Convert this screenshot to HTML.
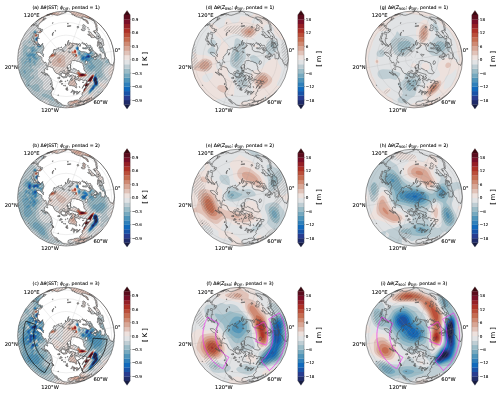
<!DOCTYPE html><html><head><meta charset="utf-8"><title>Figure</title><style>html,body{margin:0;padding:0;background:#fff}svg{display:block}text{font-family:"DejaVu Sans","Liberation Sans",sans-serif;fill:#000;stroke:#000;stroke-width:.09px}</style></head><body>
<svg width="500" height="394" viewBox="0 0 500 394">
<defs>
<path id="land" d="M-18.6,7.5L-16.4,7.2L-15.1,7.7L-13.0,8.6L-12.4,10.4L-11.0,12.7L-9.8,14.0L-7.7,14.4L-7.2,15.4L-5.8,16.0L-4.6,17.2L-3.2,17.9L-2.6,18.5L-0.6,18.2L0.9,17.8L1.3,15.3L2.3,16.4L3.1,17.5L4.1,17.7L4.4,16.4L4.8,15.9L5.6,16.9L6.0,18.4L4.8,19.1L4.5,20.4L3.6,21.3L2.8,23.0L2.4,24.9L3.4,26.2L5.6,26.2L7.1,26.7L8.5,26.5L9.0,27.8L10.1,28.6L10.6,28.3L10.7,27.5L10.1,26.3L10.6,25.0L10.4,23.9L9.4,23.2L9.0,21.7L8.4,20.8L9.9,20.3L11.8,20.4L12.7,21.5L13.5,21.6L14.0,20.8L14.0,19.6L15.8,20.3L17.5,21.2L19.4,20.8L20.6,21.2L20.6,22.1L20.0,23.8L17.8,25.4L17.2,26.5L16.4,28.4L16.1,29.0L17.0,27.2L18.5,25.9L18.9,26.8L19.8,27.3L21.3,26.3L21.7,25.8L21.5,26.5L20.3,28.0L19.7,29.2L19.3,28.7L19.7,27.7L18.7,28.8L18.0,29.9L17.5,30.9L17.4,31.2L18.1,31.4L17.2,32.3L16.2,33.1L16.2,33.9L15.8,34.8L15.8,35.4L16.4,36.0L15.6,36.8L14.5,37.8L13.5,39.1L13.4,39.8L14.6,40.7L14.9,41.3L14.1,41.5L13.4,41.3L12.7,40.9L12.0,40.4L10.9,40.7L9.4,40.8L8.0,41.1L7.7,41.6L6.6,41.8L4.8,41.8L3.7,42.2L2.1,42.9L2.1,43.5L1.7,44.8L2.4,45.4L3.2,45.7L4.4,45.9L6.4,45.5L7.5,45.0L7.6,44.6L9.4,44.1L10.2,44.0L9.9,44.6L9.6,45.1L9.3,45.7L11.3,45.3L12.9,44.9L13.5,44.9L13.4,45.4L13.4,45.7L14.4,45.7L15.6,45.3L16.8,44.8L17.9,44.4L18.6,44.2L19.5,43.7L19.9,43.3L20.9,42.8L22.3,41.9L22.6,41.6L22.7,41.8L22.7,42.0L23.8,41.2L25.3,40.4L26.7,39.5L28.0,38.6L29.3,37.6L30.1,37.2L30.8,36.7L32.9,35.3L34.7,33.5L35.9,32.3L36.6,31.8L37.2,31.2L34.7,33.9L32.1,36.4L29.3,38.7L26.3,40.7L23.2,42.6L19.9,44.2L16.6,45.6L17.4,45.3L17.8,45.1L18.7,44.6L18.4,44.5L18.0,44.6L17.2,44.7L16.5,45.2L15.3,45.6L14.0,45.9L12.4,46.1L11.7,46.2L10.2,46.1L8.6,46.4L7.0,46.5L4.9,46.3L2.9,46.6L0.8,46.4L-1.2,46.2L-3.2,45.7L-4.4,45.2L-4.2,44.8L-5.0,44.2L-6.1,43.5L-7.2,42.8L-7.8,42.2L-8.8,41.5L-9.3,40.4L-10.5,39.9L-10.5,40.7L-9.6,41.5L-9.0,42.3L-8.4,43.0L-7.7,43.6L-7.5,44.0L-8.5,43.5L-9.3,42.8L-10.5,41.9L-11.0,41.2L-11.5,40.2L-12.0,39.1L-12.8,38.1L-14.0,37.4L-14.5,36.0L-14.7,35.4L-15.1,33.9L-14.7,32.6L-13.7,30.8L-13.5,29.3L-12.6,29.8L-12.5,30.3L-12.4,29.3L-13.2,28.3L-14.1,27.1L-13.7,25.8L-14.1,24.4L-14.0,23.2L-14.4,21.7L-14.9,20.5L-15.2,19.4L-15.9,18.3L-16.8,17.4L-16.9,16.3L-18.3,15.9L-19.3,15.6L-18.6,14.6L-17.9,15.0L-19.8,14.6L-20.9,14.9L-22.3,14.5L-23.8,13.7L-24.9,12.7L-23.7,13.1L-22.1,13.8L-21.2,13.5L-21.8,12.6L-22.1,11.7L-21.4,11.4L-21.6,10.1L-20.8,9.3L-19.9,9.5L-18.9,10.5L-18.3,10.1L-18.8,9.2L-19.1,8.3ZM4.5,8.8L4.5,7.1L4.4,5.6L4.6,4.6L5.2,3.6L5.0,2.3L5.7,1.5L6.6,1.2L7.9,1.1L9.2,1.1L10.7,1.9L12.4,2.0L13.9,2.7L15.0,3.3L16.0,3.4L16.8,4.5L17.1,6.2L17.8,7.9L17.7,9.4L18.0,10.6L19.0,11.9L20.0,13.0L20.2,13.6L19.3,14.0L18.2,14.5L16.9,14.2L15.8,14.0L14.4,13.5L13.2,12.5L12.8,11.1L11.5,11.3L10.3,10.3L8.8,9.5L7.8,9.0L7.0,9.2L6.2,10.0L5.3,9.5ZM19.5,5.0L19.0,4.2L19.3,2.7L19.5,1.7L20.5,1.3L21.0,1.8L21.5,3.2L21.0,4.1L20.7,4.7L20.2,4.3L20.0,5.0ZM31.0,-2.3L30.8,-3.5L29.8,-6.0L28.8,-6.0L28.7,-5.2L28.1,-4.9L27.5,-4.1L26.9,-3.8L26.9,-3.3L25.7,-3.6L25.8,-2.7L25.1,-3.0L25.2,-2.2L26.0,-1.9L26.7,-1.8L27.4,-2.2L27.8,-2.5L28.0,-3.4L28.7,-3.5L28.9,-2.8L29.5,-2.9L29.9,-2.5L30.0,-3.7L30.3,-3.0ZM29.7,-2.0L28.8,-2.0L28.1,-2.2L27.6,-1.7L27.8,-0.8L28.4,0.0L29.1,-0.3L29.9,0.2L30.2,-0.3L30.0,-1.0ZM12.8,-9.2L12.4,-9.7L12.3,-10.7L12.4,-11.6L11.9,-12.7L11.7,-14.4L12.6,-15.0L13.7,-13.7L13.9,-12.9L14.6,-14.4L14.3,-15.4L13.4,-15.9L12.7,-15.1L11.4,-15.6L10.6,-14.3L10.2,-15.1L10.7,-15.8L9.1,-15.7L7.8,-16.0L6.6,-16.3L5.6,-15.8L4.6,-16.5L3.6,-17.0L3.4,-14.6L2.5,-14.0L1.9,-15.3L2.2,-17.6L2.7,-19.2L1.9,-18.1L1.3,-15.1L0.0,-13.8L-0.3,-15.0L-0.8,-15.4L-0.5,-13.7L-1.5,-12.3L-3.0,-11.3L-3.9,-10.6L-4.2,-9.4L-5.0,-9.9L-6.0,-9.6L-7.4,-11.1L-6.8,-11.7L-7.5,-11.6L-8.6,-11.0L-9.7,-10.4L-10.1,-9.4L-12.1,-10.1L-12.3,-9.3L-12.9,-8.4L-12.5,-7.2L-13.4,-6.0L-14.5,-5.3L-15.3,-3.8L-16.5,-2.9L-16.8,-1.8L-16.6,-0.6L-17.4,0.3L-16.7,1.8L-17.1,3.0L-18.0,4.5L-18.1,5.5L-18.5,6.7L-19.9,6.5L-19.9,5.3L-19.7,4.2L-20.1,3.9L-20.5,2.7L-22.1,3.5L-22.8,2.0L-23.5,0.8L-24.3,-0.0L-24.2,-1.7L-25.2,-2.9L-25.7,-3.1L-26.9,-3.5L-27.6,-4.1L-28.7,-5.1L-29.3,-6.0L-29.7,-7.0L-28.3,-7.1L-26.6,-6.8L-25.3,-6.1L-24.8,-5.3L-23.5,-4.1L-22.6,-2.8L-22.8,-4.0L-22.4,-5.2L-23.8,-6.4L-23.8,-7.7L-23.1,-8.4L-22.6,-10.1L-22.1,-11.2L-22.6,-13.0L-23.5,-14.9L-23.2,-16.0L-24.0,-15.6L-24.7,-14.3L-25.6,-14.0L-26.9,-15.2L-28.1,-16.2L-28.6,-17.9L-28.8,-19.8L-28.4,-21.4L-27.7,-22.4L-27.7,-23.4L-27.6,-24.9L-27.7,-25.4L-28.4,-25.2L-29.4,-25.2L-29.9,-25.7L-29.4,-26.9L-28.9,-27.6L-28.5,-27.0L-28.0,-26.4L-26.8,-26.8L-26.4,-26.4L-25.9,-26.6L-24.7,-27.4L-25.0,-28.2L-24.2,-27.7L-23.7,-29.2L-23.5,-30.0L-24.6,-29.8L-26.1,-28.4L-25.5,-29.8L-25.2,-30.7L-26.3,-30.8L-27.6,-30.8L-27.8,-31.5L-28.4,-31.5L-27.9,-32.7L-27.8,-33.8L-27.2,-34.8L-26.6,-35.9L-25.2,-37.1L-23.9,-38.2L-22.9,-39.0L-22.7,-39.4L-22.2,-39.3L-21.2,-39.8L-20.4,-40.6L-19.9,-41.4L-21.1,-41.3L-22.2,-41.0L-23.0,-41.2L-23.0,-41.6L-21.7,-42.5L-20.4,-43.4L-20.0,-43.4L-19.0,-43.7L-18.2,-43.8L-17.0,-44.2L-16.5,-44.2L-16.2,-44.6L-15.8,-45.1L-16.6,-45.0L-16.9,-45.1L-17.8,-44.8L-18.9,-44.4L-19.3,-44.4L-19.3,-44.4L-19.9,-44.2L-18.9,-44.6L-17.6,-45.1L-16.9,-45.3L-16.7,-45.2L-15.2,-45.5L-15.2,-45.3L-15.2,-44.9L-14.3,-44.7L-14.0,-44.4L-12.8,-44.8L-11.5,-45.2L-11.5,-44.7L-10.7,-44.4L-9.4,-44.1L-8.9,-43.9L-8.2,-44.2L-7.0,-44.5L-5.5,-44.9L-5.2,-45.3L-4.0,-45.5L-2.8,-46.0L-1.9,-46.4L-0.4,-46.7L-0.2,-47.2L0.2,-47.5L0.2,-47.7L0.8,-47.9L1.7,-47.9L2.1,-48.0L3.1,-47.7L3.6,-47.4L4.3,-47.1L4.9,-46.6L5.6,-45.9L5.7,-45.5L5.8,-44.9L5.9,-44.6L7.9,-44.7L8.6,-44.0L7.8,-44.0L9.1,-43.5L9.9,-42.9L11.7,-42.3L13.9,-41.6L15.7,-40.9L16.9,-40.3L17.2,-39.6L18.7,-39.1L19.9,-38.2L20.6,-37.2L21.0,-36.4L21.9,-35.8L22.4,-35.8L22.2,-36.6L21.7,-37.5L21.8,-38.0L21.0,-38.2L20.9,-38.5L21.1,-38.8L19.4,-39.8L17.8,-39.9L17.4,-39.8L17.6,-40.5L16.1,-41.4L15.5,-42.1L16.6,-42.3L17.3,-42.5L18.0,-42.5L19.6,-42.0L21.7,-41.2L24.2,-40.3L27.1,-38.7L28.1,-38.0L28.3,-37.5L28.3,-37.1L28.7,-36.1L29.3,-34.9L29.6,-34.1L29.6,-32.9L30.0,-31.6L30.3,-30.3L29.9,-29.8L30.6,-29.9L30.8,-29.9L31.0,-29.2L30.9,-28.5L31.1,-28.6L31.1,-29.5L31.2,-30.2L31.1,-31.6L30.7,-32.8L30.9,-33.3L31.1,-33.7L30.6,-34.5L30.4,-35.5L29.5,-36.5L28.8,-37.5L28.4,-38.1L27.7,-38.8L25.9,-39.9L24.5,-40.8L22.8,-41.6L23.1,-41.7L24.0,-41.6L24.8,-41.3L25.6,-41.0L27.1,-40.2L28.5,-39.2L29.5,-38.5L32.2,-36.3L34.7,-33.8L37.1,-31.3L39.2,-28.5L41.2,-25.6L42.9,-22.6L44.4,-19.4L45.7,-16.2L45.7,-16.2L45.6,-16.3L45.6,-16.2L45.9,-15.3L46.3,-14.1L46.5,-13.3L46.7,-12.1L47.0,-10.8L47.2,-9.6L47.5,-8.4L47.9,-6.7L48.0,-5.0L48.3,-2.1L48.3,-0.8L48.2,0.8L48.0,2.1L47.8,2.8L47.5,3.7L47.3,4.6L47.0,5.5L46.8,5.6L46.5,6.1L46.3,5.3L45.8,5.1L45.4,5.2L44.9,5.5L44.2,4.6L43.5,3.4L42.8,2.2L42.5,0.7L42.2,0.0L41.4,-0.2L40.5,-1.1L40.1,-2.2L39.2,-2.8L39.2,-3.2L39.3,-4.8L39.3,-5.5L38.7,-6.8L37.8,-8.7L37.5,-10.1L36.8,-12.0L36.3,-13.2L36.2,-13.9L36.8,-13.7L37.4,-14.1L37.7,-13.9L37.8,-14.9L37.4,-16.0L37.1,-17.5L37.0,-18.9L36.6,-20.3L36.0,-20.8L35.4,-20.5L34.6,-21.4L34.3,-22.4L33.8,-23.7L32.9,-25.3L32.3,-26.2L31.2,-27.1L30.7,-27.9L29.7,-28.9L29.1,-28.9L28.2,-28.7L27.5,-28.4L27.0,-28.1L27.7,-27.3L28.9,-26.5L29.5,-25.3L30.3,-24.6L30.9,-23.7L30.6,-22.6L30.2,-22.2L29.9,-21.9L29.3,-22.5L28.4,-23.0L27.3,-24.2L26.1,-24.8L25.5,-25.5L25.1,-26.4L24.3,-27.4L23.5,-28.0L22.6,-28.4L22.2,-27.9L22.8,-26.8L23.1,-25.7L23.3,-24.9L23.4,-24.8L22.1,-24.6L21.5,-25.0L23.7,-23.7L23.9,-24.3L25.1,-23.8L25.1,-23.0L24.4,-23.2L25.1,-21.9L26.2,-21.8L27.4,-21.8L28.2,-21.8L28.5,-22.3L28.3,-22.9L29.0,-22.3L29.6,-22.0L29.7,-21.6L30.2,-20.8L30.8,-20.4L31.0,-20.0L31.5,-20.3L31.7,-21.4L32.1,-20.9L32.7,-21.2L33.0,-20.4L32.6,-19.7L32.3,-18.8L32.1,-18.1L31.5,-17.8L31.4,-17.1L31.6,-15.4L31.2,-14.6L31.3,-13.9L31.1,-13.6L31.5,-12.9L32.1,-13.2L32.2,-14.1L32.7,-15.2L32.5,-15.8L32.6,-17.7L32.9,-16.7L33.4,-16.7L33.6,-17.2L34.4,-16.8L34.3,-16.5L33.9,-16.5L33.5,-16.1L33.5,-15.1L33.6,-13.9L33.4,-12.8L33.0,-12.2L32.8,-11.2L33.4,-10.5L34.0,-9.8L34.1,-8.5L34.6,-8.0L35.1,-8.2L35.6,-7.7L36.1,-6.8L36.9,-6.3L37.2,-6.6L37.9,-6.2L38.5,-5.4L38.7,-3.8L39.1,-3.1L38.9,-2.5L38.6,-1.8L38.7,-0.7L37.9,-0.8L37.8,-0.3L36.9,-0.8L36.0,-0.8L35.5,-0.4L35.0,-1.2L35.0,-2.8L35.0,-4.0L34.9,-5.0L34.2,-5.3L33.4,-5.2L32.8,-4.5L32.4,-3.2L32.1,-3.0L31.7,-3.9L31.7,-4.7L31.0,-4.5L31.0,-5.5L30.4,-6.2L29.7,-6.6L29.4,-7.1L28.8,-7.3L28.2,-7.5L27.6,-8.4L27.2,-9.1L26.5,-9.0L26.1,-8.5L25.1,-8.3L24.3,-9.1L25.1,-9.3L25.8,-9.4L26.3,-9.5L26.4,-10.1L26.1,-10.8L26.0,-11.7L25.2,-12.6L24.6,-13.4L24.4,-14.1L23.5,-14.1L22.6,-13.6L21.9,-13.9L21.8,-14.7L21.0,-14.4L20.7,-13.7L20.2,-14.1L19.3,-15.1L18.6,-15.7L18.6,-14.8L19.4,-14.1L20.4,-13.2L20.4,-12.5L19.5,-11.8L18.6,-11.4L17.0,-11.7L16.4,-11.6L16.5,-11.1L17.0,-10.6L18.0,-10.8L19.4,-10.5L20.6,-10.6L21.2,-10.9L21.3,-11.7L22.1,-11.7L23.0,-11.5L23.8,-11.9L24.4,-11.8L25.0,-11.3L25.4,-10.8L24.9,-10.4L24.1,-9.7L23.3,-9.0L23.0,-8.7L23.7,-8.4L24.5,-7.7L24.2,-6.8L23.2,-6.2L22.1,-5.9L21.3,-6.3L20.3,-7.0L19.3,-7.4L18.0,-7.6L16.9,-7.7L16.0,-7.7L15.2,-7.9L14.6,-8.1L13.7,-8.6ZM-31.1,-25.9L-31.2,-25.4L-31.4,-24.1L-32.1,-22.9L-32.5,-21.9L-32.3,-21.1L-32.4,-20.8L-32.6,-21.2L-32.9,-20.1L-32.7,-19.3L-32.2,-18.6L-31.7,-18.3L-31.9,-17.4L-32.4,-17.6L-33.0,-17.6L-33.3,-18.5L-33.9,-18.8L-34.2,-19.2L-34.4,-19.2L-34.3,-20.0L-34.1,-20.5L-34.1,-20.7L-33.6,-21.6L-33.5,-21.9L-33.5,-22.7L-32.9,-22.9L-32.9,-23.3L-32.9,-23.7L-32.6,-24.6L-32.2,-24.9L-32.1,-25.1L-32.3,-25.8L-32.1,-26.4L-31.6,-26.3L-31.0,-26.3ZM-31.5,-18.2L-30.7,-17.5L-31.0,-16.8L-30.0,-16.1L-30.8,-15.7L-31.5,-14.5L-32.1,-14.6L-31.9,-15.5L-32.2,-16.2L-31.4,-17.1L-31.6,-17.5ZM-29.7,-15.8L-29.7,-14.8L-29.1,-15.0L-28.4,-14.4L-28.6,-13.6L-27.3,-13.7L-26.1,-13.1L-25.1,-13.0L-25.5,-13.5L-26.3,-14.1L-27.5,-14.6L-28.7,-15.2ZM-29.5,-33.9L-29.4,-32.7L-28.8,-33.1L-28.6,-34.0ZM-22.0,-40.2L-23.1,-39.3L-23.5,-39.2L-22.7,-40.1ZM-29.9,-35.0L-30.9,-34.1L-31.2,-34.6L-32.8,-34.0L-32.2,-34.5L-30.9,-35.5L-30.0,-35.8L-30.1,-35.5ZM-32.2,-35.8L-33.3,-34.5L-34.1,-33.5L-34.8,-33.1L-34.7,-33.5L-34.3,-33.9L-33.5,-34.7ZM-23.5,-42.4L-23.9,-42.2L-25.3,-41.3L-26.4,-40.6L-27.7,-39.6L-28.8,-38.5L-30.4,-37.5L-29.8,-38.1L-29.7,-38.3L-29.5,-38.5L-26.6,-40.6ZM-12.7,-46.6L-14.5,-46.1L-16.6,-45.5L-19.0,-44.6L-15.8,-45.9L-14.2,-46.3ZM0.2,-47.8L-1.0,-48.0L-1.5,-48.1L-0.4,-48.2L0.2,-48.1ZM11.6,43.5L13.4,42.5L15.3,42.0L17.6,41.5L19.8,41.0L17.5,42.1L16.6,42.1L13.9,42.7L12.4,43.3ZM19.9,41.5L20.7,40.6L22.8,39.5L24.1,39.2L22.7,40.1L21.6,40.7ZM17.0,42.8L18.5,42.2L18.4,42.3L17.3,42.8ZM24.9,38.7L25.9,38.0L25.9,38.2L25.0,38.8ZM12.0,15.1L8.9,14.2L7.2,13.6L4.7,12.8L2.6,13.5L2.6,14.8L4.3,16.0L6.3,15.5L8.4,16.5L9.2,18.5L7.8,19.4L10.5,19.4L12.7,18.9L12.4,17.7L11.1,17.4L12.2,16.5ZM-1.5,17.3L-0.4,17.0L-0.5,15.4L-1.2,14.1L-2.5,14.0L-3.6,13.5L-4.6,14.3L-4.9,15.0L-4.7,16.3L-4.0,17.3L-2.5,17.4ZM-6.1,14.4L-6.3,13.2L-5.4,12.1L-4.5,12.3L-3.8,13.2L-4.5,13.9L-5.4,14.4ZM4.2,10.5L4.0,10.9L2.4,11.1L1.8,9.9L2.1,8.6L1.1,7.2L1.7,6.3L2.5,5.3L3.8,5.1L4.4,6.2L4.2,7.3L3.9,8.4L4.2,9.2ZM4.3,11.8L2.0,12.6L1.6,11.2L3.0,11.1L4.1,11.3ZM2.2,9.7L0.9,8.8L0.9,7.5L1.7,8.0ZM-1.3,12.5L-2.3,12.8L-3.1,12.3L-3.6,11.6L-2.9,10.9L-1.7,11.0L-1.2,11.7ZM0.8,15.0L-0.3,14.7L-0.5,13.8L0.5,13.4L0.7,14.2ZM2.3,14.0L1.3,14.5L1.0,13.3L1.9,13.2ZM6.9,20.1L6.0,20.9L4.8,20.9L4.9,19.5L5.6,19.1ZM21.4,24.8L23.1,23.9L24.3,22.7L24.0,22.1L22.9,21.8L21.7,22.3L21.2,21.5L20.9,22.6L21.1,23.8ZM-12.9,29.6L-13.8,28.8L-14.6,27.0L-13.6,27.8L-12.9,29.0ZM-21.4,15.3L-20.6,15.9L-20.3,15.6L-20.8,15.2ZM-15.4,25.4L-15.1,24.2L-15.5,23.9L-15.7,24.6ZM8.3,-3.2L7.6,-3.6L7.1,-4.3L6.7,-5.1L7.7,-5.2L8.3,-5.0L9.3,-4.9L10.1,-5.0L9.6,-4.3L9.0,-3.6ZM7.3,-13.5L7.3,-14.3L6.3,-14.8L6.2,-13.2L5.2,-12.3L4.0,-11.5L2.3,-10.9L2.6,-10.6L3.9,-10.8L5.0,-11.3L6.0,-12.4L7.0,-13.2ZM-2.4,-8.9L-3.0,-8.3L-4.1,-8.8L-3.4,-9.5ZM-1.8,-8.2L-2.2,-7.3L-2.6,-7.9L-2.1,-8.3ZM4.0,-6.9L2.6,-7.1L2.5,-7.8L3.6,-7.6ZM-10.5,-6.8L-10.4,-5.5L-11.2,-5.0L-11.6,-4.2L-11.4,-5.6ZM-15.6,2.3L-15.1,3.2L-15.4,3.4L-15.7,2.8ZM35.3,-14.6L34.4,-16.5L35.2,-16.6L35.5,-14.7ZM35.8,-11.8L34.8,-11.5L34.5,-12.3L35.4,-12.6ZM34.2,-11.5L33.5,-11.8L34.2,-12.1ZM33.0,-21.8L31.9,-23.5L32.2,-23.4L33.1,-22.0ZM29.4,-26.7L28.1,-27.6L28.9,-27.4ZM-38.0,25.6L-37.5,26.2L-37.4,26.0L-37.8,25.5ZM19.5,-33.2L18.8,-34.0L17.0,-34.8L16.6,-33.8L17.0,-33.0L16.6,-32.6L16.6,-32.0L17.1,-30.8L16.8,-30.3L15.5,-30.4L15.1,-29.6L16.0,-28.9L17.3,-28.7L18.4,-28.8L19.0,-29.3L19.1,-29.9L18.9,-30.8L18.7,-31.9L19.4,-32.3L19.8,-32.9ZM12.8,-32.5L12.0,-33.1L11.0,-32.8L11.0,-31.9L11.7,-31.4L12.5,-31.7ZM-12.3,-27.5L-13.0,-26.7L-13.8,-25.5L-13.7,-23.8L-13.3,-24.0L-13.3,-25.6L-12.6,-26.9ZM4.6,32.9L5.9,31.9L6.6,31.2L8.1,31.5L8.9,32.1L7.5,32.5L6.6,32.3L5.5,32.9ZM7.6,35.3L8.4,34.5L8.1,33.6L8.8,32.7L7.6,33.0L7.2,33.8L7.6,34.6ZM9.0,32.5L10.7,31.9L11.8,32.3L11.0,32.9L10.7,33.8L9.9,33.5L9.8,32.7ZM10.3,34.7L11.5,34.4L12.8,33.2L11.9,33.6L10.8,34.4ZM12.2,33.1L13.8,32.5L14.1,31.9L13.1,32.3ZM0.6,30.9L1.9,30.8L1.2,28.6L0.5,28.8ZM-8.7,18.6L-7.0,19.1L-6.0,18.4L-6.8,17.7L-7.6,18.0ZM-6.9,22.5L-5.7,22.8L-3.7,21.9L-4.6,21.7L-5.9,22.1ZM-3.1,24.4L-3.4,24.2L-4.1,24.2L-4.8,24.4L-5.1,24.6L-4.8,24.7L-4.1,24.7L-3.4,24.6ZM-0.6,26.2L-0.7,25.7L-0.9,25.5L-1.1,25.7L-1.2,26.2L-1.2,26.7L-0.9,26.9L-0.7,26.7ZM0.3,29.7L0.2,29.2L0.0,29.0L-0.2,29.2L-0.3,29.7L-0.2,30.1L0.0,30.3L0.2,30.1ZM9.9,16.6L9.6,16.5L9.3,16.5L9.1,16.7L9.2,17.0L9.4,17.2L9.7,17.2L9.9,16.9ZM10.2,17.8L10.0,17.6L9.8,17.7L9.6,17.8L9.7,18.1L9.8,18.2L10.1,18.2L10.2,18.0ZM-0.2,21.9L-0.3,21.7L-0.6,21.6L-0.8,21.7L-1.0,21.9L-0.9,22.2L-0.6,22.3L-0.3,22.2ZM2.0,21.0L1.8,20.9L1.5,20.8L1.1,20.9L0.9,21.1L1.1,21.2L1.5,21.3L1.9,21.2ZM6.6,30.6L6.4,30.4L6.2,30.3L6.0,30.5L5.9,30.7L6.1,31.0L6.3,31.1L6.5,30.9ZM17.4,-16.0L17.2,-15.7L17.3,-15.3L17.6,-15.1L18.0,-15.3L18.3,-15.7L18.2,-16.1L17.8,-16.2ZM16.2,-17.0L15.9,-16.7L15.7,-16.2L15.7,-15.9L16.0,-15.8L16.4,-16.1L16.6,-16.6L16.5,-16.9ZM22.6,-10.1L22.6,-9.9L22.8,-9.7L23.1,-9.6L23.4,-9.7L23.5,-9.9L23.3,-10.1L22.9,-10.2ZM-5.5,-11.7L-5.2,-11.6L-4.7,-11.7L-4.3,-12.0L-4.2,-12.3L-4.5,-12.4L-5.0,-12.3L-5.4,-12.0ZM0.9,-33.1L1.5,-33.0L2.9,-33.1L4.4,-33.3L5.0,-33.5L4.4,-33.7L2.9,-33.6L1.5,-33.4ZM1.0,-35.8L1.2,-35.7L1.7,-35.6L2.2,-35.6L2.4,-35.7L2.2,-35.9L1.7,-35.9L1.2,-35.9ZM-27.4,-20.7L-27.1,-20.6L-26.9,-20.7L-26.9,-21.0L-27.0,-21.2L-27.2,-21.2L-27.4,-21.1L-27.5,-20.9ZM-10.8,-28.5L-10.7,-28.2L-10.5,-28.1L-10.5,-28.3L-10.5,-28.6L-10.7,-29.0L-10.9,-29.1L-10.9,-28.9ZM21.5,-31.9L21.4,-31.6L21.6,-31.4L21.8,-31.3L22.0,-31.5L22.1,-31.7L22.0,-32.0L21.7,-32.0ZM22.4,-30.5L22.5,-30.3L22.7,-30.1L23.0,-30.0L23.2,-30.0L23.2,-30.2L22.9,-30.4L22.6,-30.6ZM-13.8,-36.2L-13.7,-36.1L-13.3,-36.2L-13.0,-36.4L-12.9,-36.6L-13.1,-36.6L-13.5,-36.6L-13.8,-36.4ZM-7.6,35.9L-7.7,35.6L-7.8,35.4L-8.1,35.5L-8.2,35.7L-8.2,36.0L-8.0,36.2L-7.8,36.1ZM-4.8,20.8L-4.9,20.7L-5.2,20.8L-5.6,21.0L-5.7,21.2L-5.6,21.3L-5.2,21.2L-4.9,21.0ZM-2.0,26.1L-2.1,25.9L-2.3,25.7L-2.5,25.8L-2.6,26.1L-2.5,26.3L-2.3,26.5L-2.1,26.4ZM13.7,27.5L13.5,27.2L13.2,27.1L13.1,27.3L13.2,27.7L13.5,28.1L13.7,28.1L13.8,27.9ZM17.7,22.8L17.4,22.7L16.9,22.7L16.4,22.9L16.2,23.0L16.5,23.1L17.0,23.1L17.6,22.9ZM-19.7,14.2L-19.7,14.1L-20.0,14.0L-20.4,13.9L-20.7,14.0L-20.6,14.2L-20.3,14.3L-19.9,14.3ZM19.9,-15.7L19.6,-15.4L19.5,-15.1L19.8,-15.1L20.2,-15.4L20.5,-15.7L20.5,-15.9L20.3,-15.9ZM23.1,-10.7L22.7,-10.5L22.6,-10.3L22.8,-10.3L23.2,-10.4L23.6,-10.7L23.8,-10.8L23.6,-10.8ZM12.5,45.9L12.4,45.9L12.1,45.9L11.6,46.0L11.3,46.1L11.4,46.2L11.7,46.1L12.2,46.0ZM-6.1,18.7L-6.1,18.4L-6.3,18.3L-6.6,18.3L-6.7,18.5L-6.7,18.7L-6.5,18.9L-6.2,18.9ZM1.4,27.8L1.2,27.6L1.0,27.5L0.7,27.6L0.6,27.8L0.7,28.0L1.0,28.1L1.3,28.0Z"/>
<path id="hl" d="M-34.8,-34.1L-34.1,-34.8M-42.7,-23.2L-23.2,-42.7M-45.4,-17.5L-17.5,-45.4M-47.0,-13.0L-13.0,-47.0M-47.9,-9.0L-9.0,-47.9M-48.5,-5.5L-5.5,-48.5M-48.8,-2.2L-2.2,-48.8M-48.9,0.9L0.9,-48.9M-48.7,3.8L3.8,-48.7M-48.5,6.5L6.5,-48.5M-48.1,9.1L9.1,-48.1M-47.5,11.6L11.6,-47.5M-46.9,13.9L13.9,-46.9M-46.2,16.2L16.2,-46.2M-45.4,18.4L18.4,-45.4M-44.5,20.5L20.5,-44.5M-43.5,22.5L22.5,-43.5M-42.4,24.5L24.5,-42.4M-41.3,26.3L26.3,-41.3M-40.1,28.1L28.1,-40.1M-38.8,29.9L29.9,-38.8M-37.5,31.5L31.5,-37.5M-36.1,33.1L33.1,-36.1M-34.6,34.6L34.6,-34.6M-33.1,36.1L36.1,-33.1M-31.5,37.5L37.5,-31.5M-29.9,38.8L38.8,-29.9M-28.1,40.1L40.1,-28.1M-26.3,41.3L41.3,-26.3M-24.5,42.4L42.4,-24.5M-22.5,43.5L43.5,-22.5M-20.5,44.5L44.5,-20.5M-18.4,45.4L45.4,-18.4M-16.2,46.2L46.2,-16.2M-13.9,46.9L46.9,-13.9M-11.6,47.5L47.5,-11.6M-9.1,48.1L48.1,-9.1M-6.5,48.5L48.5,-6.5M-3.8,48.7L48.7,-3.8M-0.9,48.9L48.9,-0.9M2.2,48.8L48.8,2.2M5.5,48.5L48.5,5.5M9.0,47.9L47.9,9.0M13.0,47.0L47.0,13.0M17.5,45.4L45.4,17.5M23.2,42.7L42.7,23.2M34.1,34.8L34.8,34.1"/>
<g id="grat"><g fill="none" stroke="#9a9a9a" stroke-width="0.3" opacity="0.55"><circle cx="0" cy="0" r="45.58"/><circle cx="0" cy="0" r="37.15"/><circle cx="0" cy="0" r="24.25"/><circle cx="0" cy="0" r="8.42"/><path d="M1.7,-0.3L47.8,-8.4M0.6,-1.6L16.6,-45.6M-1.1,-1.3L-31.2,-37.2M-1.7,0.3L-47.8,8.4M-0.6,1.6L-16.6,45.6M1.1,1.3L31.2,37.2"/></g></g>
<clipPath id="c00"><circle cx="66.1" cy="59.4" r="48.5"/></clipPath>
<clipPath id="c01"><circle cx="240.0" cy="59.4" r="48.5"/></clipPath>
<clipPath id="c02"><circle cx="414.0" cy="59.4" r="48.5"/></clipPath>
<clipPath id="c10"><circle cx="66.1" cy="197.55" r="48.5"/></clipPath>
<clipPath id="c11"><circle cx="240.0" cy="197.55" r="48.5"/></clipPath>
<clipPath id="c12"><circle cx="414.0" cy="197.55" r="48.5"/></clipPath>
<clipPath id="c20"><circle cx="66.1" cy="335.7" r="48.5"/></clipPath>
<clipPath id="c21"><circle cx="240.0" cy="335.7" r="48.5"/></clipPath>
<clipPath id="c22"><circle cx="414.0" cy="335.7" r="48.5"/></clipPath>
<clipPath id="h00"><path d="M16.1,9.4L116.1,9.4L116.1,109.4L16.1,109.4ZM74.8,45.4L73.4,46.4L72.5,47.9L72.1,51.4L72.6,53.2L73.6,54.6L75.1,55.5L76.6,55.7L78.4,54.9L79.8,53.4L80.3,51.9L80.3,49.9L79.6,47.6L78.3,45.9L76.6,45.1ZM85.3,51.9L84.2,52.9L83.8,53.9L84.4,55.9L85.5,56.9L86.6,57.3L88.6,56.9L89.6,55.9L90.0,54.9L89.6,52.9L88.6,51.9L87.6,51.5ZM81.1,72.9L79.5,73.9L79.5,74.9L80.1,75.5L82.6,76.0L84.1,75.5L84.7,74.9L84.7,73.9L84.1,73.3L82.6,72.8Z"/></clipPath>
<clipPath id="h10"><path d="M16.1,147.6L116.1,147.6L116.1,247.6L16.1,247.6ZM74.8,183.6L73.4,184.6L72.5,186.1L72.1,189.6L72.6,191.3L73.6,192.8L75.1,193.7L76.6,193.8L78.4,193.1L79.8,191.6L80.3,190.1L80.3,188.1L79.6,185.7L78.3,184.1L76.6,183.3ZM85.3,190.1L84.2,191.1L83.8,192.1L84.4,194.1L85.5,195.1L86.6,195.4L88.6,195.0L89.6,194.1L90.0,193.1L89.6,191.1L88.6,190.1L87.6,189.7ZM81.1,211.1L79.5,212.1L79.5,213.1L80.1,213.6L82.6,214.2L84.1,213.6L84.7,213.1L84.7,212.1L84.1,211.5L82.6,210.9Z"/></clipPath>
<clipPath id="h20"><path d="M16.1,285.7L116.1,285.7L116.1,385.7L16.1,385.7ZM74.8,321.7L73.4,322.7L72.5,324.2L72.1,327.7L72.6,329.5L73.6,330.9L75.1,331.8L76.6,332.0L78.4,331.2L79.8,329.7L80.3,328.2L80.3,326.2L79.6,323.9L78.3,322.2L76.6,321.4ZM85.3,328.2L84.2,329.2L83.8,330.2L84.4,332.2L85.5,333.2L86.6,333.6L88.6,333.2L89.6,332.2L90.0,331.2L89.6,329.2L88.6,328.2L87.6,327.8ZM81.1,349.2L79.5,350.2L79.5,351.2L80.1,351.8L82.6,352.3L84.1,351.8L84.7,351.2L84.7,350.2L84.1,349.6L82.6,349.1Z"/></clipPath>
<clipPath id="h01"><path d="M230.0,25.9L235.5,25.5L249.5,25.5L252.5,25.8L255.0,26.7L256.5,27.9L257.4,29.4L257.5,31.4L255.8,34.4L252.5,36.7L248.5,37.8L244.0,37.8L242.0,37.1L237.5,34.6L227.5,32.4L225.0,31.4L223.8,30.4L223.5,28.9L224.3,27.9L226.5,26.8ZM286.0,34.8L287.5,36.0L288.5,38.2L289.5,42.4L290.0,47.3L290.0,55.4L289.3,61.4L288.0,65.9L287.0,67.4L286.0,67.9L284.5,66.8L283.0,62.7L281.0,46.4L281.4,43.4L283.4,37.9L284.5,35.8ZM269.5,38.8L272.0,38.4L274.5,39.2L276.4,40.9L277.8,43.4L278.1,45.4L277.2,47.9L275.5,49.9L273.0,51.2L270.5,51.3L268.5,50.4L267.0,48.9L266.0,46.9L265.7,44.4L266.4,41.9L267.9,39.9ZM193.0,41.3L194.5,42.6L195.5,45.4L197.0,58.0L198.0,61.6L199.0,62.1L203.5,59.9L206.5,59.6L209.5,60.8L211.4,62.9L212.0,64.9L211.8,67.4L210.8,69.4L209.0,70.9L206.5,71.8L203.5,71.5L201.5,70.5L198.0,67.8L197.0,68.1L194.5,70.2L193.5,70.6L192.5,70.2L191.5,68.9L190.0,63.5L190.0,47.9L191.4,42.9L192.0,41.8ZM238.5,43.3L239.5,43.3L240.8,43.9L242.5,46.3L243.4,49.9L243.4,54.4L242.4,59.4L240.5,63.8L238.0,67.1L236.0,67.7L234.0,66.7L232.3,63.9L231.4,60.4L231.4,55.9L232.2,51.4L233.9,47.4L236.0,44.7ZM260.0,72.8L262.5,72.8L264.5,73.4L266.3,74.9L267.5,76.8L268.0,78.9L267.6,81.4L266.5,83.3L265.0,84.7L262.5,85.7L260.0,85.7L257.5,85.1L253.5,83.2L252.5,83.2L247.5,89.2L245.5,90.5L243.0,91.1L241.0,91.0L239.0,90.3L237.1,88.9L235.9,87.4L234.6,83.9L234.7,80.4L236.0,76.6L238.0,74.3L240.5,73.7L243.5,74.3L246.5,75.6L250.5,78.2L252.0,78.5L256.5,74.4Z"/></clipPath>
<clipPath id="h11"><path d="M286.5,164.3L288.5,164.3L290.0,166.3L289.8,180.1L288.1,187.1L285.6,194.1L283.0,198.9L279.1,204.6L278.8,207.1L279.9,215.6L279.6,219.1L279.0,221.2L278.0,222.8L276.5,223.9L275.5,223.9L273.0,222.2L270.7,219.6L269.2,216.6L268.4,213.6L268.3,210.1L269.0,207.1L270.5,204.8L274.1,201.6L274.8,199.1L274.5,196.1L273.7,193.6L272.5,192.1L270.0,190.2L268.7,188.1L268.3,185.6L268.6,182.6L270.0,178.3L272.5,174.7L275.0,172.6L280.0,170.0ZM192.5,169.0L194.0,168.7L195.5,169.3L197.5,171.1L199.3,173.6L201.8,178.6L206.7,191.6L213.6,203.1L215.0,207.1L215.4,210.6L214.8,213.6L213.5,215.1L212.0,215.5L210.5,215.1L208.5,213.8L206.5,211.8L198.0,199.9L193.9,192.6L191.2,185.1L190.1,178.1L190.6,172.1L191.4,170.1ZM230.0,193.0L232.2,193.1L233.8,194.6L233.8,196.6L232.5,197.9L230.0,198.1L228.9,197.6L228.2,196.6L228.2,194.6L229.0,193.6ZM201.5,219.5L203.5,219.8L206.0,221.1L208.0,222.6L210.1,225.1L212.0,228.1L213.1,231.1L213.2,233.1L212.5,234.6L210.5,235.1L207.5,234.1L204.5,231.9L201.5,228.6L199.5,225.1L198.9,222.1L199.5,220.3ZM274.5,228.0L275.5,229.0L275.5,230.6L274.7,232.6L273.2,234.6L271.0,236.5L269.0,237.5L267.0,237.9L265.8,237.6L265.2,236.6L265.3,235.1L267.2,232.1L271.0,229.2Z"/></clipPath>
<clipPath id="h21"><path d="M231.0,293.2L235.5,292.8L239.5,293.3L242.7,294.7L243.2,296.2L241.0,297.7L236.0,298.6L230.8,298.2L227.3,296.7L226.8,295.7L227.3,294.7ZM270.5,299.7L273.0,300.1L275.5,301.6L277.7,303.7L280.5,307.5L281.5,308.3L283.5,308.0L288.0,304.6L289.5,305.1L290.0,305.9L290.0,327.1L286.7,344.2L284.4,350.2L281.0,356.6L279.3,358.7L277.2,360.2L272.0,362.3L267.0,365.2L264.0,365.7L262.0,365.2L260.1,363.7L259.1,361.7L259.1,359.2L259.7,357.2L262.5,352.7L264.9,347.2L268.5,341.2L270.8,325.2L271.7,322.2L274.7,315.2L274.0,313.2L269.2,308.7L267.3,305.2L267.0,303.2L267.5,301.3L268.6,300.2ZM192.0,302.9L194.0,303.1L197.0,305.5L199.8,309.2L202.3,313.7L204.2,318.7L205.3,323.2L205.4,327.2L204.5,329.2L203.5,329.4L202.5,329.0L199.5,326.6L196.5,322.7L193.7,317.7L191.8,312.7L190.8,308.2L190.8,304.7ZM210.0,341.0L212.0,340.9L214.0,341.7L215.8,343.2L216.9,345.2L217.0,348.7L215.1,353.2L215.0,354.7L215.7,356.7L219.5,362.7L220.6,366.2L220.0,368.5L218.0,369.8L216.0,370.0L214.0,369.6L209.5,367.4L206.1,364.2L204.1,360.2L203.9,357.2L206.3,351.7L207.3,344.7L208.5,342.2Z"/></clipPath>
<clipPath id="h02"><path d="M379.0,22.7L380.5,22.6L382.5,23.1L384.5,24.3L386.0,25.8L387.0,27.4L387.7,29.4L387.7,30.9L387.0,32.4L385.5,33.1L383.0,32.7L380.5,31.4L378.5,29.6L377.2,27.4L376.9,25.4L377.5,23.7ZM424.0,25.3L425.0,25.3L426.0,25.7L427.2,27.4L427.9,30.4L427.7,34.4L426.6,38.4L425.0,41.2L423.0,42.9L421.0,43.3L419.7,42.4L418.9,40.4L418.7,37.4L419.1,33.9L421.0,28.2L422.5,26.3ZM397.0,37.9L401.5,37.8L405.5,38.6L409.2,40.4L412.3,42.9L414.3,45.4L415.0,48.4L414.4,51.4L412.7,53.9L409.0,56.3L404.5,57.1L399.5,56.5L390.5,53.2L389.0,53.4L383.5,55.5L381.5,55.2L380.3,54.4L379.6,53.4L379.2,51.9L379.5,50.4L380.6,48.9L382.0,47.8L387.0,45.5L390.7,40.9L392.5,39.4ZM437.5,40.9L440.0,40.5L442.5,40.9L444.5,41.9L446.1,43.4L447.0,45.4L447.0,47.4L446.1,49.4L444.5,50.9L441.5,52.2L438.5,52.2L436.0,51.3L433.8,49.4L432.8,46.9L433.2,44.4L435.0,42.2ZM410.5,77.8L414.0,77.9L417.0,79.2L418.7,81.4L419.0,84.4L417.9,86.9L415.4,89.4L412.0,90.8L408.5,91.0L406.0,90.2L404.3,88.9L403.2,86.9L403.0,84.4L403.8,82.4L405.5,80.3L408.0,78.6ZM437.0,81.8L439.2,81.9L440.1,83.4L439.6,85.9L438.1,88.4L435.5,91.3L432.5,93.4L430.0,94.3L428.0,93.9L427.4,92.9L427.5,91.4L429.2,87.9L433.0,84.0ZM387.5,89.3L389.0,89.1L389.9,89.4L390.2,90.4L389.7,91.4L387.0,93.4L385.5,93.7L384.1,93.4L383.8,92.4L384.3,91.4L385.5,90.3Z"/></clipPath>
<clipPath id="h12"><path d="M399.0,152.5L405.5,152.6L411.5,153.5L415.2,155.1L416.0,156.1L416.0,157.1L414.4,158.6L411.5,159.6L407.0,160.4L402.0,160.7L397.0,160.4L392.5,159.7L389.5,158.6L387.9,157.1L388.3,155.6L390.8,154.1L394.5,153.1ZM388.0,172.9L391.0,172.6L394.0,173.1L396.9,174.6L399.1,176.6L400.4,178.6L401.3,181.1L401.6,183.6L401.3,188.1L402.0,189.6L404.5,190.1L415.5,190.4L421.5,191.7L424.1,193.1L426.0,195.1L426.5,197.1L425.8,199.1L424.2,200.6L421.5,202.0L418.5,202.9L415.0,203.3L408.0,202.8L405.0,201.8L402.6,200.6L400.8,199.1L399.8,197.6L398.6,192.6L398.0,191.6L391.5,189.2L388.5,187.8L385.5,185.5L383.2,182.6L382.5,179.6L383.4,176.6L385.5,174.1ZM374.0,182.9L376.0,183.1L377.6,184.6L378.7,187.6L379.0,191.6L378.6,196.1L377.5,199.6L376.0,201.7L374.0,202.5L372.0,201.6L370.6,199.6L369.6,196.6L369.3,193.1L369.6,189.6L370.5,186.6L372.0,184.2ZM441.0,188.4L442.4,189.1L443.0,191.1L442.5,193.5L441.0,194.7L439.7,194.1L439.0,192.1L439.5,189.8ZM444.5,206.5L447.0,206.6L449.5,208.1L451.7,210.6L453.4,214.1L454.2,217.6L454.0,220.6L453.0,223.1L451.0,224.7L448.5,224.8L446.0,223.4L443.9,221.1L442.2,217.6L441.4,214.1L441.6,210.6L442.5,208.1ZM404.0,228.0L406.5,227.7L408.5,228.2L410.3,229.6L411.5,231.6L411.9,234.1L411.3,236.1L410.0,237.9L408.0,239.1L405.5,239.4L403.5,238.9L401.7,237.6L400.5,235.6L400.1,233.1L400.7,231.1L402.0,229.2Z"/></clipPath>
<clipPath id="h22"><path d="M407.0,291.7L413.5,291.6L419.0,292.9L421.5,294.2L423.2,295.7L424.2,297.2L424.2,298.7L422.5,300.1L419.9,300.7L401.0,301.3L395.4,300.7L393.2,299.7L392.4,298.7L392.3,297.7L392.9,296.7L396.0,294.6L401.0,292.8ZM441.5,296.7L443.5,297.0L445.5,297.9L447.2,299.2L448.8,301.2L449.7,303.2L450.0,305.2L449.5,307.1L448.5,308.1L446.0,308.7L443.5,308.0L440.8,306.2L438.8,303.7L437.8,301.2L438.0,299.0L439.5,297.2ZM377.5,310.7L380.0,311.2L382.1,312.7L384.1,315.2L385.3,318.2L385.6,321.2L384.9,323.7L383.5,325.6L381.5,326.6L379.0,326.5L376.5,325.2L374.4,322.7L373.1,319.7L372.8,316.2L373.5,313.6L375.0,311.6ZM400.5,314.1L403.5,314.1L406.0,315.3L408.2,318.2L409.9,323.7L411.0,325.6L412.5,326.8L418.0,329.5L420.4,331.7L421.2,333.2L421.4,335.2L420.7,337.2L419.3,338.7L416.0,340.2L412.5,340.4L409.1,339.2L406.5,336.9L403.2,330.2L398.0,325.1L396.2,321.7L396.1,319.2L396.7,317.2L398.3,315.2ZM450.0,325.0L451.0,325.0L451.7,326.2L454.2,338.2L454.4,342.7L453.5,347.2L450.6,354.7L448.5,357.7L441.5,362.8L439.5,363.5L437.5,363.3L435.7,362.2L434.9,360.7L434.8,358.7L435.6,356.7L441.5,351.0L443.5,349.9L447.1,348.7L448.3,347.2L447.8,331.2L448.5,327.4ZM378.0,360.2L380.5,359.8L383.0,360.2L386.0,361.5L388.5,363.3L390.8,365.7L392.2,368.2L392.6,370.2L391.9,372.2L390.0,373.4L387.0,373.5L383.5,372.4L380.0,370.1L377.4,367.2L376.1,364.2L376.3,361.7Z"/></clipPath>
</defs>
<rect width="500" height="394" fill="#fff"/>
<g opacity="0.999">
<g clip-path="url(#c00)">
<circle cx="66.1" cy="59.4" r="48.5" fill="#e1e3e5"/>
<path d="M16.1,9.4L35.6,9.4L35.9,9.9L36.6,10.3L37.1,10.2L37.6,10.0L37.9,9.4L57.7,9.4L58.6,10.6L60.1,11.6L62.6,12.5L64.6,12.7L65.6,12.6L67.1,12.1L69.1,10.9L71.2,9.4L80.1,9.4L81.6,10.3L83.1,10.6L84.6,10.4L85.7,9.9L86.3,9.4L92.4,9.4L93.0,10.9L94.4,12.4L100.1,16.3L102.1,17.0L105.6,17.5L106.4,17.9L107.0,18.4L107.6,19.4L107.8,20.9L107.6,21.9L106.5,23.9L106.2,24.9L106.5,25.9L107.1,26.5L108.9,27.4L111.1,28.0L112.6,28.1L116.1,27.9L116.1,46.6L115.1,46.3L114.1,45.7L111.8,43.9L110.1,41.9L107.8,38.4L106.5,36.9L104.0,35.4L98.1,32.5L96.6,32.1L96.1,32.1L95.6,32.3L95.2,35.9L94.8,36.9L94.1,37.6L93.1,37.8L91.6,37.7L90.1,37.3L88.6,36.4L88.1,35.9L87.7,34.9L87.7,34.4L88.2,33.4L89.1,32.5L90.1,32.0L93.6,31.4L94.2,30.9L94.0,29.9L92.9,28.4L91.6,27.5L90.6,27.3L88.1,27.4L87.0,26.9L86.2,25.9L85.2,23.4L84.2,21.9L82.6,20.4L81.1,19.6L79.1,19.2L78.1,19.4L77.1,19.8L75.6,20.8L72.6,23.4L70.6,24.9L69.1,25.8L68.1,26.0L67.1,25.6L65.6,24.3L63.1,23.2L60.6,21.2L59.1,20.5L57.6,20.2L56.1,20.2L50.6,21.3L49.6,21.8L49.1,22.3L48.8,22.9L48.9,23.4L49.2,23.9L51.6,25.0L52.8,25.9L53.8,27.4L54.3,28.4L54.4,29.4L54.1,30.0L53.1,30.4L50.6,30.8L48.6,31.0L47.1,30.8L45.9,30.4L44.6,29.9L43.3,28.9L41.6,27.0L39.7,24.4L39.1,22.9L38.6,20.8L38.1,19.8L37.6,19.2L36.6,18.6L35.1,18.2L34.1,18.5L33.6,18.9L33.4,19.4L33.5,23.9L33.1,24.9L32.1,26.2L28.6,28.2L26.6,28.9L26.1,28.9L24.6,28.3L23.1,27.9L22.6,27.9L21.6,28.4L20.6,29.4L17.5,33.9L16.9,35.4L16.9,35.9L17.0,36.4L17.9,36.9L20.1,37.6L20.4,37.9L21.1,39.9L21.1,41.4L20.7,42.9L20.4,46.9L19.4,49.4L17.1,51.8L16.1,52.3L16.1,24.7L18.6,24.5L20.1,24.1L22.1,23.3L23.1,22.5L23.6,21.9L24.0,20.9L24.1,19.9L24.0,18.9L23.5,17.9L22.8,16.9L22.1,16.4L19.1,14.6L17.6,14.1L16.1,13.9ZM105.1,9.4L116.1,9.4L116.1,15.4L111.1,14.0L108.6,13.0L106.9,11.9L105.8,10.9L105.2,9.9ZM39.1,30.9L40.1,30.7L41.6,31.1L42.3,31.9L42.3,32.4L42.1,32.9L41.7,33.4L41.1,33.8L40.1,34.0L39.1,33.9L38.1,33.6L38.0,33.9L38.3,34.9L38.3,35.4L38.0,35.9L37.5,36.4L36.1,37.0L35.1,36.9L34.6,36.7L34.0,35.9L33.9,35.4L34.1,34.9L34.6,34.4L36.1,33.7L38.0,33.4L37.8,32.4L37.9,31.9L38.3,31.4ZM56.6,31.7L57.1,31.5L58.1,31.8L58.6,32.3L61.1,35.4L62.1,36.1L63.1,35.9L66.6,34.0L68.1,33.6L69.6,33.7L73.6,35.0L74.6,35.0L75.1,34.6L76.0,33.4L76.6,32.8L77.6,32.3L78.6,32.3L80.1,32.7L81.1,33.4L82.4,34.9L82.8,35.9L82.8,37.4L82.0,39.4L81.0,40.9L78.2,43.9L77.7,44.4L75.6,45.6L73.6,47.3L71.1,48.4L67.4,50.4L67.3,50.9L68.4,52.4L69.9,53.4L70.6,53.4L70.8,51.9L71.1,51.4L72.1,50.6L73.1,50.4L74.1,48.8L74.6,48.7L75.1,48.9L76.4,50.4L76.8,51.4L76.7,53.4L77.8,55.4L78.1,56.8L78.7,57.9L78.4,58.4L77.4,58.9L76.6,59.9L73.6,62.8L72.6,63.4L70.6,64.1L69.6,65.0L69.0,66.4L68.9,67.4L69.0,68.4L69.6,69.6L71.3,71.4L71.7,72.4L71.6,72.9L71.1,73.8L70.3,74.4L68.1,75.6L67.1,76.0L66.1,76.0L65.6,75.8L63.5,73.4L62.6,72.8L61.6,72.5L61.1,72.6L60.1,73.0L57.6,75.2L56.1,76.1L55.1,76.3L54.6,76.2L53.6,75.6L53.0,74.9L52.4,73.9L51.6,71.1L50.1,69.2L49.6,68.2L47.6,62.9L46.1,57.4L46.2,56.4L46.9,54.9L47.0,54.4L45.8,52.9L45.6,52.4L45.6,50.9L46.1,49.9L46.6,49.3L48.2,47.9L49.1,45.5L49.6,45.1L52.1,45.6L53.1,45.6L54.1,45.2L54.7,44.4L55.0,43.4L55.0,42.4L54.7,38.4L54.8,36.9L55.1,35.7ZM62.2,40.9L61.3,43.4L60.6,44.8L56.9,48.9L55.6,49.8L53.1,50.4L52.1,50.7L51.6,51.4L51.3,52.4L51.6,52.7L52.1,52.7L58.1,51.9L62.6,51.6L65.1,51.1L66.8,50.4L66.6,45.9L66.1,43.8L65.2,42.4L64.1,41.3L63.1,40.7L62.6,40.6ZM97.1,40.2L98.1,40.4L98.6,40.8L98.9,41.4L99.0,41.9L98.7,42.9L97.5,45.4L96.6,46.3L95.9,46.4L95.6,46.3L95.2,45.9L95.0,45.4L94.8,43.4L95.6,41.4L96.1,40.8ZM36.1,41.4L36.6,41.4L37.1,41.6L37.5,41.9L37.7,42.4L37.5,42.9L37.1,43.4L36.1,44.2L35.6,44.0L35.1,42.9L35.1,42.4L35.4,41.9ZM115.6,52.7L116.1,52.5L116.1,88.0L114.6,88.3L113.9,88.9L114.0,91.9L112.1,94.8L111.0,98.9L110.3,100.4L109.6,101.4L108.6,102.3L107.6,102.8L106.6,102.9L106.1,102.7L105.1,102.0L103.0,99.4L102.3,97.9L102.0,96.9L102.1,95.9L102.5,94.9L104.6,92.6L106.7,90.9L108.1,89.6L110.9,87.9L111.5,86.9L111.8,83.9L112.7,80.4L112.7,78.9L111.9,77.4L109.6,75.4L108.8,74.4L108.3,72.9L108.2,70.4L108.5,69.4L109.1,68.4L112.6,65.2L113.3,64.4L114.1,62.9L114.7,60.9L114.9,59.4L114.9,58.4L114.2,55.9L114.1,54.9L114.6,53.6ZM76.6,71.1L78.1,70.6L79.6,70.8L80.1,71.0L81.9,72.4L85.1,73.1L86.6,73.7L87.6,74.4L87.9,74.9L88.0,75.4L87.1,76.2L86.1,76.8L84.0,77.4L81.8,78.4L80.9,78.9L80.0,79.9L79.9,80.4L80.1,81.0L80.6,81.4L83.1,82.2L84.1,83.5L84.6,83.7L85.1,83.4L86.6,81.7L88.8,78.4L90.0,76.9L91.0,75.4L91.6,74.8L92.6,74.3L93.6,74.0L94.1,74.3L94.2,74.9L94.0,75.9L92.4,79.4L92.4,79.9L92.9,80.9L92.8,81.9L92.6,82.3L92.1,82.2L91.6,81.7L91.1,81.7L90.6,82.1L90.1,82.8L88.8,85.4L88.5,86.4L88.6,86.8L89.1,86.8L89.6,87.4L89.1,88.0L88.6,87.9L88.1,87.4L87.6,88.3L87.3,89.4L87.0,91.9L85.7,94.4L87.1,95.5L88.1,95.7L89.1,95.5L90.6,94.8L92.0,93.4L92.6,92.3L93.0,92.4L93.1,92.9L92.6,95.4L92.8,95.9L95.5,97.9L95.9,98.4L96.6,99.9L96.6,100.9L96.0,101.9L95.1,102.9L93.6,104.2L92.1,105.0L90.1,105.2L86.1,104.8L85.1,105.1L84.6,105.6L84.3,106.4L84.1,109.4L64.3,109.4L64.9,107.9L66.9,105.4L67.4,104.4L67.6,103.4L67.2,100.4L67.2,98.9L67.8,97.4L68.6,96.5L69.6,95.7L71.6,94.6L73.1,94.4L74.1,94.7L78.3,96.9L80.1,97.4L81.6,97.4L83.1,96.9L84.4,95.9L85.4,94.9L85.6,94.4L85.5,93.9L85.1,93.4L84.6,93.1L81.6,94.7L80.6,94.7L80.1,93.9L80.1,93.4L80.7,90.4L80.6,89.6L78.1,88.2L77.1,87.8L76.1,88.0L73.1,89.3L69.6,90.4L66.6,92.5L64.1,93.7L62.1,94.1L60.6,93.9L59.6,93.7L58.3,92.9L57.6,91.9L57.4,90.4L57.6,87.4L57.4,86.4L57.1,85.9L56.1,84.6L53.2,81.9L52.5,80.9L52.9,80.4L55.6,79.6L59.1,79.5L62.6,79.6L63.5,79.9L64.1,80.4L64.8,82.4L65.1,82.7L68.4,78.9L72.4,75.9L74.6,73.4L75.7,71.9ZM64.1,84.2L63.5,84.9L63.6,85.4L64.2,84.9L64.2,84.4ZM47.1,73.9L47.6,74.0L47.7,74.4L47.6,74.9L47.1,75.1L46.8,74.4ZM100.6,82.8L103.1,83.7L104.6,83.2L105.7,83.4L107.5,85.9L107.8,86.9L107.5,87.9L106.6,88.4L105.1,88.4L104.1,88.7L103.6,88.7L102.6,88.2L102.1,86.9L100.6,86.6L100.1,86.3L99.6,85.4L99.5,84.4L99.8,83.4ZM90.9,83.9L91.6,83.7L92.1,83.8L92.2,83.9L92.3,84.4L91.6,85.0L91.1,84.9L90.7,84.4ZM16.6,88.8L16.9,89.4L17.1,90.4L16.7,91.4L16.1,91.9L16.1,88.4ZM16.1,97.3L18.6,97.9L20.6,98.7L21.6,99.4L22.4,100.4L22.7,101.9L22.4,103.4L21.8,104.9L21.1,105.6L20.6,105.8L19.6,105.8L16.1,105.2ZM32.1,101.7L33.6,101.6L34.6,101.9L38.1,103.9L40.1,104.4L41.6,104.3L42.6,104.0L44.6,102.5L45.1,102.4L45.6,102.7L45.8,103.4L44.7,104.9L44.3,105.9L44.5,109.4L33.6,109.4L33.3,108.4L31.1,105.9L30.3,104.4L30.3,103.4L30.6,102.7L31.1,102.2Z" fill="#ede1dd"/>
<path d="M43.6,9.4L55.2,9.4L55.7,10.4L56.6,11.4L60.2,13.9L60.7,14.4L61.0,14.9L61.0,15.4L60.8,15.9L60.1,16.6L59.1,17.1L58.1,17.3L54.1,17.8L48.1,18.9L46.6,18.9L45.6,18.7L44.6,18.0L44.0,17.4L43.1,15.9L42.7,14.9L42.6,13.9L42.7,12.9ZM75.6,10.4L77.1,10.6L80.6,12.3L82.6,12.9L84.6,13.0L89.1,12.7L90.6,13.2L91.8,14.4L92.3,15.4L92.5,16.4L92.3,18.4L91.5,20.4L90.6,21.4L89.6,22.0L88.6,22.1L87.6,21.9L86.6,21.4L85.6,20.7L82.1,17.3L81.1,16.7L79.6,16.2L78.6,16.2L77.1,16.3L72.1,17.9L70.6,17.7L69.6,17.1L68.7,15.9L68.4,14.9L68.4,14.4L69.0,13.4L70.1,12.4L72.1,11.3L74.1,10.6ZM98.1,21.7L99.6,21.4L100.7,21.9L100.9,22.4L100.7,24.4L100.9,25.9L101.7,27.4L103.6,29.4L103.8,29.9L103.6,30.2L103.1,30.3L102.1,29.9L99.6,28.0L97.1,26.4L96.2,25.4L95.8,24.4L96.1,23.4L97.0,22.4ZM39.1,31.4L40.1,31.1L41.1,31.4L41.6,31.9L41.7,32.4L41.5,32.9L40.6,33.5L39.6,33.6L39.1,33.4L38.5,32.9L38.4,32.4L38.5,31.9ZM36.6,33.8L37.1,33.9L37.6,34.4L37.9,34.9L37.9,35.4L37.7,35.9L37.2,36.4L36.6,36.7L35.6,36.8L35.1,36.6L34.4,35.9L34.3,35.4L34.5,34.9L35.6,34.1ZM68.6,38.3L69.6,38.0L70.6,38.2L74.0,39.9L75.3,40.9L75.5,41.4L75.3,42.4L74.3,43.4L73.1,43.9L71.6,43.9L70.6,43.4L69.6,42.4L68.5,40.4L68.2,39.4L68.2,38.9ZM36.1,41.7L36.6,41.6L37.1,41.8L37.4,42.4L37.1,43.1L36.6,43.5L36.1,43.6L35.6,43.0L35.5,42.4ZM16.1,42.6L17.4,44.4L17.6,45.9L17.3,46.9L16.1,47.9ZM74.6,49.2L75.1,49.3L75.6,49.6L76.4,50.9L76.5,51.9L76.3,53.4L77.1,54.4L77.5,55.4L77.4,56.4L77.1,56.8L76.6,57.2L76.1,57.3L75.1,57.2L74.4,56.4L74.3,55.4L74.5,54.4L74.2,53.9L73.6,53.8L72.6,53.9L72.1,53.8L71.3,52.9L71.3,52.4L71.6,51.6L72.1,51.2L73.3,50.9L74.1,49.6ZM47.1,49.9L47.6,49.6L48.6,49.4L49.1,49.6L49.9,50.4L50.1,51.4L50.0,51.9L49.6,52.7L49.1,53.2L48.6,53.3L47.6,53.3L47.1,53.1L46.5,52.4L46.3,51.9L46.4,50.9ZM53.6,53.4L55.1,53.4L56.1,53.6L56.9,53.9L57.6,54.6L58.1,54.9L60.6,54.6L62.6,54.8L63.9,55.4L65.0,56.4L65.4,57.4L65.0,60.4L65.5,63.4L65.5,64.4L65.3,65.4L64.6,66.5L64.1,66.9L63.1,67.3L60.6,67.2L54.6,66.2L53.6,65.9L52.6,65.2L52.1,64.4L51.9,63.4L51.9,61.4L52.6,59.9L55.3,57.4L55.1,57.1L52.1,57.7L49.6,57.8L48.6,57.6L48.1,57.3L47.7,56.9L47.6,56.4L47.8,55.9L48.1,55.4L49.6,54.3L51.6,53.6ZM116.1,66.1L116.1,66.4L116.1,75.7L115.1,75.0L114.3,73.9L113.9,72.9L113.6,71.4L113.7,70.4L114.1,69.1ZM78.1,71.3L79.1,71.3L79.6,71.5L81.1,72.7L81.5,72.9L83.6,73.1L85.6,73.7L87.0,74.4L87.4,74.9L87.4,75.4L86.8,75.9L86.1,76.3L85.1,76.6L82.6,76.9L81.1,77.4L79.1,77.5L77.6,77.1L76.8,76.4L76.3,73.4L76.6,72.4L76.9,71.9ZM93.1,74.3L93.7,74.4L94.0,74.9L94.0,75.4L93.7,76.4L92.3,79.4L92.2,79.9L92.6,80.9L92.6,81.6L92.1,81.7L91.6,81.3L91.1,81.4L90.6,81.8L85.9,89.9L84.8,91.4L83.6,92.6L82.6,93.3L81.6,93.8L81.1,93.6L80.8,92.9L80.8,92.4L81.2,90.9L82.3,88.4L83.4,86.4L86.1,82.9L89.1,78.4L91.4,75.4L92.1,74.7ZM73.1,79.4L74.6,79.4L75.1,79.6L75.6,80.3L76.0,81.9L76.0,82.9L75.8,83.9L75.3,84.9L74.1,86.0L72.6,86.6L71.1,86.6L70.1,86.1L69.5,85.4L69.2,84.4L69.4,82.9L69.8,81.9L70.6,80.8L71.6,80.0ZM100.6,84.9L101.1,84.8L101.2,84.9L101.4,85.4L101.1,85.8L100.6,85.7L100.4,85.4ZM71.6,97.3L72.6,97.1L74.1,97.1L77.1,98.3L79.5,99.4L81.0,100.4L81.5,100.9L81.7,101.4L81.6,101.9L81.1,102.9L80.6,103.4L79.6,104.0L75.6,104.4L74.1,104.9L73.2,105.4L72.7,105.9L72.7,106.4L74.0,108.4L74.5,109.4L67.9,109.4L68.2,108.4L69.9,106.4L70.2,105.9L70.3,105.4L69.1,101.9L68.9,100.9L69.0,99.9L69.5,98.9L69.9,98.4L70.6,97.8ZM87.1,97.9L88.6,97.5L89.6,97.4L90.6,97.7L91.6,98.3L92.4,98.9L93.0,99.9L93.0,100.9L92.8,101.4L91.6,102.5L90.6,102.9L89.6,103.0L87.6,102.7L85.9,101.9L84.9,100.9L84.8,100.4L84.9,99.9L85.6,98.9ZM38.6,107.4L40.1,107.4L41.1,107.9L41.6,108.4L42.0,109.4L37.2,109.4L37.6,108.1L38.1,107.6Z" fill="#e1c3b9"/>
<path d="M51.1,11.8L52.6,11.9L53.6,12.3L54.9,13.4L55.2,13.9L55.2,14.4L54.1,15.0L50.6,15.9L48.6,15.9L47.6,15.4L47.3,14.9L47.1,14.4L47.2,13.9L47.5,13.4L48.1,12.9L49.1,12.4ZM86.6,15.8L88.1,15.7L88.6,15.9L89.2,16.4L89.4,16.9L89.6,17.9L89.1,18.9L88.6,19.3L88.1,19.5L87.1,19.3L86.5,18.9L85.7,17.9L85.6,17.4L85.6,16.7L86.1,16.1ZM39.1,31.8L39.6,31.6L40.6,31.6L41.1,31.9L41.3,32.4L41.1,32.9L40.6,33.2L39.6,33.2L39.0,32.9L38.8,32.4ZM35.6,34.3L36.6,34.1L37.2,34.4L37.5,34.9L37.6,35.4L37.4,35.9L36.8,36.4L36.1,36.6L35.6,36.6L35.1,36.3L34.7,35.9L34.7,35.4L34.8,34.9ZM36.6,41.9L37.1,42.5L36.6,43.1L36.1,43.0L35.9,42.4L36.1,42.1ZM74.6,49.6L75.1,49.5L75.6,49.9L76.2,50.9L76.3,51.9L75.8,53.4L75.8,53.9L76.6,54.2L77.1,54.8L77.3,55.4L77.1,56.3L76.6,56.7L75.6,56.8L75.1,56.5L74.7,55.9L74.8,54.9L75.1,54.0L75.3,53.9L74.1,53.3L72.6,53.6L72.1,53.4L71.7,52.9L71.6,52.4L71.8,51.9L72.1,51.5L72.6,51.3L73.6,51.2L74.1,50.2ZM47.6,50.2L48.6,50.1L49.1,50.3L49.5,50.9L49.4,51.9L49.1,52.4L48.6,52.7L47.6,52.7L47.2,52.4L46.9,51.9L46.9,50.9ZM51.1,54.2L53.6,53.8L54.9,53.9L55.8,54.4L55.9,54.9L55.5,55.4L54.6,56.1L53.6,56.6L52.1,57.1L50.6,57.2L49.6,57.1L49.0,56.9L48.6,56.5L48.6,55.9L48.9,55.4L49.6,54.9ZM59.1,58.1L60.1,57.9L60.6,58.1L61.1,58.8L61.3,59.4L61.3,60.9L61.2,61.9L61.0,62.4L60.6,62.8L60.1,63.0L59.1,62.9L58.1,62.5L57.5,61.9L57.2,61.4L57.1,60.4L57.6,59.4L58.1,58.8ZM77.6,71.9L78.1,71.7L79.1,71.7L79.6,71.9L80.6,72.9L81.1,73.1L85.1,73.7L86.5,74.4L86.9,74.9L86.9,75.4L85.6,76.2L83.1,76.5L80.6,77.1L79.6,77.1L78.6,76.9L77.8,76.4L77.6,75.9L76.9,73.4L77.1,72.4ZM92.6,74.7L93.6,74.6L93.8,74.9L93.9,75.4L93.4,76.9L92.1,79.4L92.1,81.0L91.6,80.9L91.1,81.2L90.6,81.6L85.8,89.4L84.4,91.4L83.1,92.6L82.1,93.2L81.6,93.2L81.3,92.9L81.2,92.4L81.4,91.4L81.9,89.9L83.8,86.4L89.3,78.4L91.7,75.4ZM72.6,98.8L74.1,98.8L75.9,99.4L77.3,100.4L77.5,100.9L77.5,101.4L77.1,101.9L76.6,102.2L74.6,102.8L72.6,103.0L71.6,102.6L71.1,102.2L70.7,101.4L70.7,100.4L71.4,99.4Z" fill="#d8a796"/>
<path d="M40.1,31.8L40.6,32.0L40.8,32.4L40.4,32.9L39.6,32.9L39.3,32.4L39.6,31.9ZM36.1,34.3L36.6,34.3L37.1,34.7L37.3,35.4L37.1,35.9L36.6,36.3L36.1,36.4L35.6,36.4L35.1,36.0L34.9,35.4L35.1,34.9ZM75.1,49.8L75.8,50.4L76.2,51.4L76.0,52.4L75.6,53.1L75.1,53.3L74.1,52.8L72.6,53.3L72.1,53.0L71.8,52.4L72.0,51.9L72.6,51.6L73.6,51.7L74.6,49.9ZM47.6,50.7L48.1,50.5L48.6,50.7L48.9,50.9L49.0,51.4L48.6,52.1L48.1,52.3L47.4,51.9L47.3,51.4ZM51.6,54.4L53.1,54.1L54.1,54.2L54.7,54.4L55.0,54.9L54.7,55.4L54.1,55.9L52.6,56.6L50.6,56.8L49.4,56.4L49.3,55.9L49.6,55.4L50.6,54.7ZM75.6,54.3L76.1,54.3L76.6,54.5L77.0,54.9L77.1,55.4L77.0,55.9L76.6,56.4L76.1,56.6L75.5,56.4L75.0,55.9L74.9,55.4L75.1,54.8ZM77.6,72.3L78.1,72.0L79.1,72.0L80.6,73.2L84.6,73.8L86.1,74.4L86.5,74.9L86.4,75.4L85.6,75.9L84.6,76.2L82.3,76.4L80.6,76.8L79.1,76.7L78.5,76.4L78.1,75.9L77.9,74.9L77.3,73.4L77.3,72.9ZM92.6,74.9L93.1,74.7L93.6,74.9L93.8,75.4L93.7,75.9L92.0,79.4L91.7,80.4L90.6,81.4L90.1,82.1L84.9,90.4L83.1,92.3L82.1,92.7L81.6,92.4L81.5,91.9L81.8,90.9L82.4,89.4L84.4,85.9L89.8,77.9L91.9,75.4Z" fill="#cf8a73"/>
<path d="M35.6,34.7L36.1,34.5L36.6,34.6L37.0,34.9L37.1,35.4L36.9,35.9L36.1,36.2L35.3,35.9L35.2,35.4ZM74.6,50.2L75.1,50.0L75.6,50.4L76.0,51.4L75.8,52.4L75.6,52.8L75.1,53.0L74.6,52.8L74.1,52.4L73.9,51.9ZM72.6,51.8L73.2,51.9L73.5,52.4L73.1,52.9L72.6,53.0L72.1,52.5ZM51.1,54.8L53.1,54.4L53.6,54.5L54.3,54.9L54.1,55.4L53.1,56.0L51.6,56.5L50.4,56.4L49.9,55.9L50.2,55.4ZM75.6,54.6L76.1,54.5L76.8,54.9L76.9,55.4L76.8,55.9L76.6,56.2L76.1,56.4L75.6,56.2L75.3,55.9L75.2,55.4L75.3,54.9ZM78.1,72.4L78.6,72.2L79.1,72.4L80.3,73.4L83.6,73.7L85.1,74.1L85.7,74.4L86.2,74.9L86.1,75.4L84.6,76.0L80.6,76.6L79.1,76.4L78.6,75.9L78.4,74.9L77.7,73.4L77.7,72.9ZM93.1,74.9L93.6,75.3L93.6,75.9L91.5,80.4L90.1,82.0L84.7,90.4L83.1,92.0L82.6,92.3L82.1,92.3L81.8,91.9L81.8,91.4L82.2,90.4L84.9,85.4L90.4,77.4L92.1,75.4L92.6,75.0Z" fill="#c66d51"/>
<path d="M36.1,34.7L36.7,34.9L36.8,35.4L36.6,35.9L36.1,36.0L35.6,35.8L35.4,35.4L35.7,34.9ZM75.1,50.2L75.6,50.6L75.8,51.4L75.6,52.4L75.1,52.7L74.5,52.4L74.2,51.9L74.4,50.9L74.6,50.5ZM52.1,54.8L53.3,54.9L53.4,55.4L52.1,56.0L51.1,56.1L50.7,55.9L50.9,55.4ZM75.6,54.9L76.1,54.7L76.6,55.0L76.8,55.4L76.6,55.9L76.1,56.2L75.5,55.9L75.4,55.4ZM78.6,72.7L79.1,72.8L79.6,73.4L80.1,73.6L83.6,73.8L85.1,74.3L85.9,74.9L85.7,75.4L84.6,75.8L80.6,76.4L79.6,76.3L79.0,75.9L78.6,74.4L78.1,73.4L78.1,72.9ZM92.6,75.2L93.1,75.1L93.4,75.4L93.4,75.9L92.6,77.9L91.3,80.4L90.1,81.8L84.5,90.4L83.1,91.8L82.6,92.0L82.2,91.9L82.1,91.4L82.5,89.9L85.3,84.9L89.7,78.4L91.1,76.7Z" fill="#bb4f3a"/>
<path d="M74.6,50.8L75.1,50.5L75.6,51.0L75.6,51.9L75.1,52.5L74.5,51.9ZM76.1,54.9L76.6,55.4L76.1,55.9L75.6,55.4ZM79.6,73.9L82.1,73.8L83.6,74.0L85.0,74.4L85.6,74.9L85.3,75.4L84.6,75.7L80.1,76.1L79.4,75.9L79.2,75.4L79.1,74.4ZM92.6,75.4L93.2,75.4L93.3,75.9L93.2,76.4L92.5,77.9L91.4,79.9L90.1,81.7L84.6,90.1L83.6,91.2L83.1,91.6L82.6,91.7L82.4,91.4L82.4,90.9L82.7,89.9L85.4,84.9L89.8,78.4L91.1,76.9Z" fill="#ae3127"/>
<path d="M75.1,50.7L75.5,51.4L75.4,51.9L75.1,52.2L74.8,51.9L74.6,51.4ZM80.1,74.2L81.6,73.9L83.1,74.0L84.6,74.4L85.3,74.9L84.9,75.4L84.1,75.6L80.1,75.9L79.6,75.5L79.5,74.9L79.7,74.4ZM92.6,75.6L93.1,75.8L93.0,76.4L92.5,77.9L91.0,80.4L84.2,90.4L83.1,91.3L82.6,91.2L82.7,90.4L83.1,89.4L85.9,84.4L90.3,77.9Z" fill="#961f26"/>
<path d="M80.2,74.4L81.6,74.1L83.1,74.1L84.3,74.4L85.0,74.9L84.5,75.4L84.1,75.5L80.6,75.7L80.0,75.4L79.9,74.9ZM92.6,75.9L92.8,76.4L92.6,77.4L90.9,80.4L84.6,89.6L83.6,90.7L83.1,91.0L82.9,90.9L82.9,90.4L83.0,89.9L85.4,85.4L90.4,77.9L91.6,76.7Z" fill="#7a0f28"/>
<path d="M80.7,74.4L83.1,74.2L83.9,74.4L84.7,74.9L84.1,75.3L83.6,75.5L81.6,75.5L80.6,75.4L80.3,74.9ZM92.6,76.3L92.6,76.9L92.3,77.9L90.8,80.4L84.6,89.4L83.6,90.5L83.1,90.5L83.6,88.9L84.9,86.4L88.1,81.4L91.0,77.4L92.1,76.4Z" fill="#5b0c1d"/>
<path d="M81.3,74.4L83.5,74.4L84.3,74.9L83.6,75.3L82.6,75.4L81.6,75.3L81.1,75.2L80.7,74.9ZM92.1,76.7L92.4,76.9L92.2,77.9L90.7,80.4L84.6,89.1L83.6,90.1L83.5,89.9L83.6,89.4L85.9,84.9L90.1,78.7L91.1,77.4Z" fill="#3c0911"/>
<path d="M60.9,9.4L61.6,9.4L67.4,9.4L66.6,10.0L65.7,10.4L64.1,10.6L62.1,10.2ZM16.1,17.4L17.6,17.7L18.6,18.4L19.1,19.0L19.3,19.9L18.8,20.9L18.3,21.4L17.1,22.0L16.1,22.2ZM115.3,22.4L116.1,22.1L116.1,24.1L115.4,23.9L114.9,23.4L114.9,22.9ZM80.1,23.4L80.6,23.4L81.3,23.9L81.4,24.4L81.4,25.4L81.1,26.3L80.6,26.9L80.1,27.2L79.1,27.3L78.1,26.8L77.9,26.4L77.9,25.4L78.5,24.4L79.0,23.9ZM34.1,29.8L35.1,29.5L36.1,29.6L37.1,30.4L37.3,30.9L37.0,32.9L36.3,33.4L33.7,34.4L33.2,34.9L33.3,35.9L33.5,36.4L34.1,37.0L35.1,37.3L36.9,36.9L39.6,35.3L41.1,34.8L43.1,33.4L43.6,33.3L44.1,33.6L44.8,34.4L44.9,34.9L44.9,35.4L44.5,36.4L44.1,36.9L43.1,37.4L42.7,37.9L42.5,39.9L42.6,40.4L43.6,41.2L44.3,42.4L45.1,44.4L45.2,45.9L44.6,48.4L43.6,49.3L42.3,51.4L42.1,52.9L42.6,53.1L43.1,53.1L43.6,53.4L43.7,53.9L43.4,54.4L42.6,54.8L41.7,55.4L41.4,55.9L41.0,58.4L41.0,59.9L40.7,60.9L41.1,62.5L41.4,62.9L42.4,63.4L42.8,63.9L42.8,64.9L42.6,65.3L42.1,65.5L41.1,65.1L40.6,65.3L40.0,66.9L40.0,67.4L39.6,67.7L37.5,68.4L37.0,68.9L37.3,69.4L37.9,69.9L38.1,70.4L37.6,74.4L38.1,76.4L38.6,77.3L40.1,78.8L42.2,80.4L43.3,81.9L43.4,83.4L42.7,85.9L42.6,86.9L42.9,88.4L43.6,89.3L44.6,90.0L45.6,90.2L47.1,90.3L50.1,90.1L51.1,90.2L51.8,90.4L52.6,91.1L54.3,94.4L55.6,95.9L60.6,99.1L63.6,100.2L64.6,101.1L65.2,102.4L65.1,103.4L64.9,103.9L64.0,104.9L60.4,107.4L59.6,108.4L59.1,109.4L47.2,109.4L47.2,108.4L47.5,107.4L49.1,104.9L49.4,103.9L49.3,102.9L48.9,101.9L47.6,100.5L46.1,99.8L44.1,99.6L42.6,99.9L40.1,100.9L39.1,100.9L38.2,100.4L37.7,99.9L35.6,96.7L34.6,95.9L33.6,95.5L32.6,95.6L30.6,96.5L29.8,96.4L29.6,95.9L30.5,94.4L30.6,93.4L30.3,92.4L29.5,91.4L28.6,90.8L27.6,90.5L24.1,90.5L23.1,90.3L22.1,89.7L21.5,88.9L20.6,86.9L20.4,85.4L20.6,84.4L22.1,82.4L22.1,81.4L22.0,80.9L21.4,79.9L16.1,74.5L16.1,70.4L17.9,67.9L18.6,66.4L18.9,65.4L18.9,63.9L19.2,61.9L19.2,58.4L19.9,56.9L20.6,55.9L20.8,55.4L20.5,54.4L20.5,52.9L20.6,52.4L21.4,50.9L21.6,48.9L22.3,47.4L22.3,44.4L22.4,43.4L23.6,41.0L24.1,40.4L25.1,40.1L26.6,40.2L26.9,39.4L27.4,38.9L28.6,38.3L28.9,37.9L28.8,36.9L29.0,36.4L29.8,35.4L29.9,34.9L29.9,33.9L30.2,32.9L30.6,32.4L31.1,32.2L31.6,32.2L32.1,31.9L32.9,30.9ZM31.3,39.9L31.5,40.4L31.8,40.4L31.9,39.9L31.6,39.7ZM35.4,41.4L34.4,42.4L34.4,42.9L34.9,43.9L35.1,45.0L35.6,45.8L36.1,45.5L36.6,44.4L37.6,43.2L38.0,42.4L37.9,41.9L37.1,41.3L36.1,41.1ZM29.6,45.4L29.7,45.9L30.1,46.2L30.7,45.9L30.4,45.4L30.1,45.2ZM77.1,45.8L78.6,45.6L80.1,45.9L81.6,45.9L83.6,46.6L85.1,46.8L87.1,46.5L88.6,46.7L90.1,46.0L90.6,46.0L91.1,46.5L91.5,47.4L93.0,48.9L94.5,49.9L95.0,50.4L95.1,50.9L94.1,52.4L94.6,52.9L95.8,52.4L100.6,46.8L101.1,46.4L102.1,46.0L103.1,46.0L104.3,46.4L108.1,49.1L109.1,49.3L110.6,49.0L111.1,49.1L111.7,49.4L111.8,49.9L111.6,50.4L111.1,50.9L110.1,51.4L108.6,51.8L108.1,52.1L107.4,52.9L107.1,53.9L107.2,54.4L107.6,54.9L110.6,56.1L112.1,57.5L112.6,58.4L112.8,59.4L112.8,60.4L112.5,61.9L111.7,63.4L110.6,64.4L106.6,66.3L105.6,67.1L104.6,68.4L104.1,69.4L104.1,71.4L104.3,72.9L105.8,76.9L107.6,79.4L107.7,79.9L107.6,80.4L107.1,80.5L104.1,79.7L103.6,79.7L103.1,80.1L101.6,81.7L101.1,81.7L100.5,81.4L99.6,80.2L98.6,79.7L98.3,79.9L98.0,80.4L98.1,80.9L99.0,81.9L98.9,82.4L98.6,82.9L98.5,84.4L99.1,85.9L99.7,86.9L99.8,87.4L99.6,87.6L98.1,87.3L97.1,87.4L96.6,88.9L96.1,89.5L95.1,88.7L94.6,89.3L94.1,90.7L92.6,91.3L90.6,93.7L90.1,94.1L89.1,94.6L88.6,94.6L88.1,94.4L87.8,93.9L87.7,93.4L87.9,92.4L88.4,90.9L89.6,88.9L90.5,86.9L89.3,85.9L89.2,85.4L89.6,84.6L90.1,84.5L91.1,85.4L91.6,85.4L92.8,84.4L93.4,83.4L93.1,80.9L92.6,79.4L94.3,75.4L94.4,74.4L94.2,73.4L94.7,72.9L94.8,72.4L94.6,72.2L94.1,72.3L94.0,72.4L94.1,73.4L92.1,74.2L90.6,75.1L90.3,75.4L89.6,77.0L88.1,78.2L87.6,78.0L87.3,77.4L87.4,76.9L88.5,75.9L88.8,75.4L88.7,74.9L88.4,74.4L86.1,72.6L82.7,70.4L81.7,69.4L81.4,68.4L82.2,65.4L82.1,64.4L82.4,62.9L82.2,62.4L81.6,61.9L80.1,62.0L79.6,61.9L80.1,61.2L80.2,60.4L79.8,58.9L79.7,57.4L78.1,55.3L77.4,53.9L77.2,53.4L77.2,51.4L75.2,48.4L75.1,47.9L75.2,47.4L75.6,46.7L76.1,46.3ZM82.1,48.2L81.0,49.9L81.1,50.4L81.6,51.0L82.1,50.9L82.7,48.9L82.6,48.2ZM85.0,51.9L85.1,52.4L85.6,52.6L86.4,52.4L86.4,51.9L85.6,51.5L85.1,51.6ZM43.4,66.9L44.2,66.9L44.6,67.4L44.3,67.9L43.9,67.9L43.3,67.4ZM90.6,82.4L91.1,82.0L91.7,82.4L91.9,82.9L90.6,83.4L90.4,82.9ZM99.6,88.9L100.1,88.7L100.4,88.9L100.7,89.4L100.6,89.7L100.1,90.0L99.6,89.7L99.5,89.4ZM97.6,91.2L98.1,91.0L99.4,91.4L100.2,91.9L100.0,92.4L99.1,92.8L97.5,92.9L97.0,92.4L97.1,91.9ZM114.6,101.3L116.1,101.2L116.1,109.4L111.0,109.4L110.4,105.9L110.7,104.4L111.6,103.2L112.6,102.3L113.6,101.6ZM26.1,106.6L26.6,106.4L27.1,106.5L28.1,107.0L29.5,108.4L29.9,109.4L25.0,109.4L25.3,107.9L25.6,107.2Z" fill="#bfced4"/>
<path d="M35.1,30.3L35.6,30.4L36.2,30.9L36.5,31.4L36.6,32.4L36.4,32.9L35.9,33.4L34.6,33.9L34.1,33.8L33.5,33.4L33.3,32.9L33.3,31.9L34.1,30.7ZM37.6,36.8L38.6,36.6L39.1,36.6L40.1,37.2L40.5,37.9L40.7,38.9L40.5,39.9L39.9,41.4L40.2,41.9L41.3,43.4L41.8,44.9L41.7,46.9L41.5,47.4L40.6,48.3L39.1,48.8L38.2,49.4L37.1,51.9L37.2,52.4L37.9,53.4L38.0,53.9L36.8,55.9L38.1,56.1L39.1,56.6L39.6,56.9L39.9,57.4L39.9,57.9L39.5,58.9L38.4,59.9L38.2,60.4L38.1,61.6L37.1,62.2L36.6,62.9L36.2,64.9L35.8,65.4L35.1,65.8L34.6,65.9L33.1,65.5L32.1,66.2L31.7,66.9L31.5,67.9L31.6,68.4L32.1,68.8L33.1,68.9L33.6,69.2L33.9,69.9L34.0,70.4L33.5,70.9L33.3,71.4L32.8,71.9L31.1,72.4L30.7,72.9L30.0,74.9L30.0,75.4L30.6,76.5L32.1,76.7L32.6,76.6L32.7,76.4L32.2,75.4L32.6,74.9L33.7,74.9L34.0,75.4L34.3,77.4L34.1,77.9L33.6,78.5L31.6,79.6L31.1,80.1L29.7,81.9L29.5,82.9L30.6,85.5L31.1,85.7L34.6,84.4L35.6,84.2L36.6,84.1L37.6,84.3L38.5,84.9L39.0,85.9L39.5,87.4L39.7,88.9L39.8,90.4L39.5,91.4L39.1,91.7L38.1,91.8L35.6,91.4L34.1,90.7L32.6,89.4L30.6,86.9L30.1,86.7L27.6,86.6L27.0,86.4L26.3,85.9L26.0,84.9L26.5,81.9L26.4,80.9L25.8,79.9L25.0,78.9L21.4,75.4L20.3,73.4L19.9,71.9L20.1,70.4L21.9,65.9L21.3,61.9L21.2,58.9L21.7,57.9L23.1,56.9L23.4,56.4L23.5,55.9L23.1,55.4L22.9,54.9L23.4,53.4L23.0,51.9L23.0,49.4L24.0,47.4L24.3,45.9L24.6,45.3L25.1,44.9L25.6,44.8L26.1,45.0L28.1,46.8L30.1,47.0L30.7,46.9L32.1,46.2L34.1,45.9L34.6,46.1L35.7,48.4L36.1,48.6L36.6,48.7L37.1,48.5L37.4,47.9L36.7,46.4L36.7,45.4L37.0,44.4L38.3,42.4L38.3,41.9L37.8,41.4L36.1,40.9L34.1,41.4L33.6,41.0L33.5,40.4L33.7,39.4L34.9,37.9ZM28.1,48.7L27.4,49.4L27.1,49.9L27.4,51.4L28.1,52.2L28.6,52.0L28.8,51.4L29.1,51.0L30.1,51.1L30.6,50.4L30.6,49.9L30.0,49.4L28.6,48.8ZM28.6,67.2L28.2,67.9L29.3,68.4L30.1,69.3L30.4,68.9L30.4,68.4L29.1,67.2ZM29.1,40.8L29.6,40.8L30.6,41.9L31.1,42.2L31.2,42.4L31.1,43.0L30.6,43.1L30.1,43.0L29.1,43.2L28.4,42.9L28.1,42.4ZM77.1,46.3L78.1,46.2L78.6,46.3L79.1,46.5L79.9,47.4L80.3,48.4L79.9,49.9L79.9,50.4L80.9,51.4L81.2,51.9L80.8,53.4L81.1,53.8L82.6,54.1L82.9,53.9L82.3,52.4L83.1,50.4L83.8,49.4L83.9,48.4L84.1,48.0L84.6,47.8L85.1,47.9L86.1,48.9L87.6,49.3L88.4,48.4L90.1,47.9L90.6,47.9L91.1,48.4L91.2,48.9L90.4,50.4L90.6,50.6L91.6,50.4L92.1,50.5L93.0,50.9L92.6,51.2L92.5,51.9L93.6,53.4L94.6,54.1L95.7,54.4L95.7,55.4L96.1,56.0L96.7,56.4L96.8,56.9L96.1,57.9L96.0,58.4L96.1,58.7L96.6,59.0L98.1,59.1L99.1,59.5L103.3,62.4L103.6,62.9L103.3,63.9L101.9,66.4L101.2,68.4L101.3,68.9L101.8,70.4L101.6,72.4L102.6,73.5L102.9,74.4L102.9,74.9L102.3,76.4L102.1,77.7L100.6,77.6L100.1,77.9L99.6,79.0L99.5,78.4L99.0,77.9L98.0,77.4L97.8,77.9L98.0,79.4L97.7,80.4L98.5,81.9L98.1,83.9L98.2,85.4L98.0,85.9L97.6,86.2L96.6,86.5L95.8,86.9L95.1,87.7L93.6,90.1L92.6,90.8L90.6,93.1L89.6,93.8L89.0,93.9L88.6,93.7L88.4,93.4L88.3,92.9L88.5,91.9L88.9,90.9L90.6,87.9L91.8,86.9L91.8,85.9L92.2,85.4L93.4,84.4L93.8,83.9L93.8,82.9L92.8,79.4L93.1,78.4L94.3,75.9L94.7,73.9L95.7,72.4L95.7,71.9L95.3,71.4L94.6,71.1L92.6,71.2L91.1,72.0L88.6,71.6L88.1,71.3L85.9,68.9L85.5,67.9L85.6,66.4L84.6,65.4L84.3,63.4L83.6,62.8L82.6,61.7L81.1,60.8L80.4,58.9L80.3,56.9L80.1,56.4L79.7,55.9L78.6,55.2L78.1,54.7L77.7,53.9L77.6,52.9L77.8,51.4L77.6,50.9L76.6,50.1L75.6,48.4L75.7,47.4L76.1,46.9ZM85.0,50.9L84.6,51.4L84.5,51.9L84.6,52.4L85.1,52.8L86.1,52.8L87.1,52.4L86.9,51.9L86.6,51.6L85.6,51.0ZM90.6,54.4L91.1,54.9L91.3,54.9L91.5,54.4L91.1,54.3ZM86.7,62.4L85.8,62.9L86.1,63.5L86.6,63.4L87.6,62.3ZM107.6,59.4L109.1,59.2L110.1,59.6L110.5,60.4L110.5,60.9L110.0,61.9L109.1,62.6L108.1,62.9L106.3,62.9L105.2,62.4L105.0,61.9L105.5,60.9L106.6,59.9ZM90.4,73.4L91.1,73.3L92.3,73.4L91.6,73.7L91.5,73.9L90.6,74.1L90.2,73.9ZM42.6,93.8L44.1,93.6L46.1,93.8L47.9,94.4L49.6,95.3L51.6,96.9L53.4,98.9L53.9,99.9L53.9,100.4L53.7,100.9L53.1,101.2L52.6,101.1L48.6,98.5L47.6,98.1L44.1,97.2L42.6,96.5L42.0,95.9L41.7,94.9L41.8,94.4L42.1,94.0Z" fill="#9bbcc7"/>
<path d="M35.1,30.8L35.6,31.0L36.0,31.4L36.3,32.4L36.1,32.9L35.6,33.3L34.6,33.6L34.1,33.4L33.8,32.9L33.8,31.9L34.1,31.4L34.6,31.0ZM35.7,37.9L37.6,37.0L38.6,37.0L39.4,37.4L39.8,37.9L40.0,38.9L39.9,39.9L39.1,41.1L38.6,41.3L38.1,41.2L35.4,40.4L34.8,39.9L34.8,39.4L35.2,38.4ZM39.1,42.2L40.1,42.7L40.7,43.4L41.0,44.4L41.1,45.4L40.9,46.4L40.6,46.9L40.1,47.3L39.1,47.6L38.1,47.3L37.6,46.9L37.2,46.4L37.0,45.4L37.3,44.4L37.6,43.9L38.6,42.6ZM32.6,46.8L33.6,46.6L34.1,46.8L34.5,47.4L34.7,48.9L35.3,49.4L36.6,49.8L36.8,50.4L36.6,50.9L36.1,51.2L33.6,51.7L33.0,52.4L32.9,52.9L33.6,53.3L34.4,53.4L35.1,53.4L36.1,53.3L36.3,53.4L36.6,53.9L36.5,54.4L35.3,55.9L35.4,56.4L36.6,57.4L37.7,57.9L37.8,58.4L37.5,59.4L37.1,60.2L36.6,60.4L35.1,59.8L34.5,59.9L34.4,60.4L34.6,60.8L35.1,61.3L35.6,61.5L35.7,61.9L35.4,62.9L35.2,64.4L34.6,64.7L34.3,64.4L34.1,63.4L32.9,62.9L32.6,62.4L33.1,61.1L33.6,60.2L33.9,59.9L34.0,59.4L33.9,58.9L32.4,57.9L32.0,56.9L31.6,56.7L31.1,56.9L30.9,57.4L31.4,57.9L31.6,58.4L31.7,59.4L31.2,60.9L31.2,62.4L30.6,63.3L29.6,63.3L28.2,61.9L28.1,61.5L26.1,62.7L25.2,63.9L24.6,64.4L24.1,64.1L24.6,62.3L25.1,61.4L25.6,61.1L26.6,61.0L27.1,61.0L28.1,61.4L28.5,60.9L28.6,60.4L28.1,59.7L27.6,59.6L27.1,60.1L26.6,60.3L26.1,59.9L25.8,58.9L25.9,58.4L26.6,58.3L27.6,58.6L28.0,57.9L26.3,55.9L26.1,54.9L26.1,53.9L25.7,53.4L25.6,52.9L26.1,52.6L26.6,52.7L27.4,53.4L28.1,53.8L28.6,53.6L29.6,52.6L30.1,52.5L31.2,52.9L31.4,52.4L31.1,51.4L31.5,49.4L31.3,48.9L30.1,48.6L29.8,48.4L29.7,47.9ZM77.1,46.7L78.1,46.6L78.6,46.8L79.3,47.4L79.6,47.9L79.7,48.4L79.4,49.4L78.6,50.3L78.1,50.4L77.1,50.2L76.6,49.7L76.0,48.9L75.9,48.4L76.1,47.5L76.6,46.9ZM89.1,49.2L89.7,49.4L89.6,50.4L89.8,50.9L90.1,51.1L91.2,51.4L91.6,51.7L92.8,53.4L92.9,53.9L92.6,54.1L91.6,53.7L90.6,53.9L89.9,54.4L90.3,54.9L91.1,55.6L91.6,55.8L93.0,55.4L93.3,54.9L93.6,54.7L94.1,54.9L94.4,55.4L94.8,56.9L94.6,57.4L93.4,58.9L91.6,59.9L91.4,60.4L91.5,61.4L93.1,64.5L95.1,66.1L95.6,66.9L95.4,67.4L92.5,68.9L92.1,69.9L91.6,70.4L91.1,70.5L90.6,70.0L90.1,69.2L88.6,68.0L87.9,66.9L87.8,65.9L88.1,65.2L88.6,65.1L90.6,65.4L91.0,64.9L90.1,63.4L89.1,62.6L88.9,61.9L88.6,61.4L87.6,61.2L86.1,61.9L85.6,61.9L84.6,61.7L83.6,61.7L82.6,61.0L81.6,60.6L81.1,59.9L80.8,58.9L80.9,56.4L80.6,55.6L80.1,55.1L79.1,54.9L78.6,54.7L78.1,54.0L78.0,53.4L78.1,52.4L78.6,51.4L79.1,51.0L79.6,51.1L80.1,51.3L80.6,51.9L80.3,53.9L80.5,54.4L80.6,54.6L81.6,54.4L83.1,55.1L83.4,54.9L83.7,54.4L83.7,53.4L84.1,53.0L86.1,53.1L87.2,52.9L87.6,52.5L87.4,51.9L87.1,51.6L86.0,50.9L85.5,50.4L85.5,49.9L86.1,49.6L87.6,50.0ZM84.6,55.4L85.1,56.0L85.7,55.4L85.1,55.0ZM30.1,64.8L30.6,64.6L31.0,64.9L30.6,66.4L30.1,66.5L29.4,65.9L29.4,65.4ZM24.1,69.6L24.6,69.4L25.3,70.4L26.0,71.9L25.9,72.9L25.1,73.9L24.6,73.8L24.1,73.3L23.6,72.6L23.4,71.9L23.4,70.9ZM98.6,71.7L99.1,71.9L99.2,72.4L98.6,73.4L98.1,73.5L97.9,73.4L98.0,72.4L98.3,71.9ZM95.6,73.4L96.1,73.1L96.6,73.1L97.2,73.4L96.5,76.4L97.4,77.9L97.6,78.9L97.5,80.4L98.2,81.9L97.7,85.4L97.2,85.9L95.9,86.4L95.3,86.9L93.6,89.7L92.1,90.8L90.6,92.7L89.6,93.3L89.1,93.3L88.8,92.9L88.8,92.4L89.2,90.9L91.0,87.9L92.1,86.9L92.2,85.9L92.5,85.4L93.6,84.6L94.1,83.9L94.1,83.2L93.1,79.9L93.1,78.9L94.7,75.4L95.1,74.0ZM98.6,74.8L100.2,75.9L100.3,76.4L99.1,77.0L98.6,76.8L98.4,76.4L98.3,75.4Z" fill="#76a9bf"/>
<path d="M35.1,31.3L35.6,31.5L35.9,31.9L35.9,32.4L35.6,33.0L35.1,33.3L34.6,33.2L34.2,32.9L34.1,32.3L34.2,31.9L34.6,31.4ZM37.1,37.4L38.1,37.2L38.6,37.3L39.3,37.9L39.6,38.4L39.6,38.9L39.4,39.9L39.1,40.4L38.6,40.8L38.1,40.9L37.1,40.7L36.3,40.4L35.6,39.9L35.4,39.4L35.7,38.4L36.1,37.9ZM39.1,42.8L39.6,42.9L40.2,43.4L40.5,43.9L40.7,44.9L40.5,45.9L40.3,46.4L39.6,46.9L39.1,47.1L38.6,47.0L37.8,46.4L37.5,45.9L37.4,45.4L37.6,44.4L37.9,43.9L38.6,43.1ZM77.1,47.0L78.1,46.9L78.8,47.4L79.3,48.4L78.9,49.4L78.1,50.0L77.6,50.0L77.1,49.8L76.6,49.4L76.2,48.4L76.2,47.9L76.5,47.4ZM32.8,47.4L33.4,47.4L33.5,47.9L33.1,48.2L32.5,47.9ZM32.1,49.7L32.6,49.5L33.1,49.6L33.7,50.4L33.4,50.9L32.6,51.7L32.1,51.7L31.6,50.9L31.7,50.4ZM86.6,50.3L87.1,50.5L87.6,50.5L88.6,50.1L89.1,50.3L89.6,51.2L91.0,51.9L91.3,52.4L91.4,52.9L90.8,53.4L90.1,53.7L89.0,53.9L90.8,55.9L90.5,57.4L90.6,57.7L91.1,58.1L91.6,58.1L92.1,57.1L92.6,56.6L93.2,56.9L93.3,57.4L92.6,58.2L91.1,58.7L90.1,58.6L89.3,58.9L89.5,59.9L90.2,60.9L90.1,61.1L89.6,61.3L88.6,60.8L87.6,60.8L86.1,61.4L85.6,61.4L85.1,60.9L85.1,60.4L84.7,59.9L83.1,60.3L82.1,60.3L81.6,60.0L81.3,59.4L81.2,58.4L81.4,56.9L81.4,55.4L81.6,55.1L82.1,55.2L82.6,55.5L83.1,55.6L84.1,55.5L84.6,56.3L85.1,56.4L86.1,55.5L86.6,55.3L86.9,54.9L86.6,54.4L85.6,54.6L84.8,54.4L84.5,53.9L84.6,53.7L85.8,53.4L88.1,53.4L88.1,52.4L87.1,51.0L86.3,50.4ZM79.1,51.7L79.6,51.7L79.9,51.9L80.1,52.4L79.7,53.9L79.6,54.1L79.1,54.4L78.6,54.1L78.3,53.4L78.5,52.4ZM29.6,53.6L30.1,53.4L31.1,53.7L32.1,53.6L35.1,54.0L35.5,54.4L34.5,55.9L34.5,56.4L35.1,57.2L36.3,58.4L36.4,58.9L36.1,59.1L35.6,59.0L34.6,58.1L33.1,57.7L32.8,57.4L32.7,55.9L32.1,55.7L31.6,55.7L29.6,56.5L28.6,56.6L28.1,56.4L27.5,55.9L27.3,55.4L27.6,55.0L28.6,54.8ZM29.1,58.8L30.1,58.6L30.6,58.7L30.8,58.9L30.9,59.4L30.4,60.4L30.1,61.7L29.6,61.4L29.5,60.4L29.0,59.4ZM95.6,74.1L96.1,74.4L96.0,75.9L96.1,76.4L96.9,77.4L97.3,78.4L97.3,80.4L98.0,81.9L97.9,83.4L97.4,84.9L97.1,85.5L95.6,86.3L95.1,86.7L93.6,89.3L92.1,90.5L90.6,92.3L89.6,92.8L89.2,92.4L89.2,91.9L89.5,90.9L90.9,88.4L92.3,86.9L92.6,85.8L92.9,85.4L93.7,84.9L94.1,84.4L94.2,82.9L93.4,80.4L93.3,78.9L93.6,77.9Z" fill="#4f95ba"/>
<path d="M35.1,31.7L35.4,31.9L35.6,32.4L35.1,32.9L34.6,32.7L34.5,32.4L34.7,31.9ZM36.6,37.8L37.6,37.4L38.1,37.5L38.9,37.9L39.2,38.4L39.3,39.4L39.1,39.9L38.6,40.4L38.1,40.6L37.6,40.6L36.9,40.4L36.1,39.9L35.8,39.4L35.8,38.9L36.0,38.4ZM39.1,43.2L39.6,43.3L40.1,43.9L40.3,44.9L40.1,45.9L39.6,46.4L39.1,46.6L38.6,46.5L38.1,46.2L37.8,45.4L38.1,44.1L38.6,43.5ZM77.1,47.3L77.6,47.2L78.1,47.3L78.8,47.9L78.9,48.4L78.8,48.9L78.1,49.6L77.6,49.7L77.1,49.5L76.6,48.9L76.4,48.4L76.5,47.9ZM88.1,50.9L88.6,50.8L89.2,51.4L90.3,51.9L90.8,52.4L90.7,52.9L90.1,53.4L89.6,53.5L89.1,53.3L88.7,52.9L88.3,51.9L88.0,51.4ZM79.1,52.4L79.5,52.9L79.1,53.6L78.9,53.4L78.8,52.9ZM87.6,54.1L88.1,54.1L89.1,54.5L90.4,55.9L90.3,56.9L89.8,57.9L89.1,58.1L87.6,58.0L86.9,58.4L86.9,58.9L87.6,59.3L88.6,59.6L88.8,59.9L88.6,60.2L86.1,60.6L85.9,60.4L86.0,59.9L85.8,59.4L85.1,58.9L84.6,58.8L84.2,59.4L83.6,59.7L82.6,59.8L82.1,59.8L81.8,59.4L81.6,58.9L82.1,56.4L83.6,56.0L84.1,56.2L84.6,56.8L85.1,56.8L86.1,55.9L87.0,55.4ZM95.1,75.8L95.6,76.0L96.9,77.9L97.1,78.9L97.1,80.4L97.8,81.9L97.8,82.4L97.6,83.9L97.1,85.0L96.8,85.4L95.6,85.9L95.0,86.4L93.6,89.0L92.1,90.1L91.1,91.4L90.1,92.1L89.7,91.9L89.7,91.4L91.1,88.5L92.3,87.4L92.6,86.9L92.8,85.9L94.1,85.0L94.4,84.4L94.4,82.9L93.7,80.9L93.5,78.9L94.1,77.2Z" fill="#2f80bb"/>
<path d="M37.1,37.8L38.1,37.7L38.6,38.0L38.9,38.4L39.0,39.4L38.6,40.0L38.1,40.3L37.1,40.2L36.5,39.9L36.2,39.4L36.1,38.9L36.3,38.4ZM39.1,43.7L39.7,43.9L40.0,44.9L39.6,45.9L39.1,46.1L38.4,45.9L38.2,45.4L38.1,44.9L38.6,44.0ZM77.1,47.7L77.6,47.5L78.1,47.6L78.4,47.9L78.6,48.4L78.4,48.9L78.1,49.2L77.6,49.3L76.9,48.9L76.7,48.4ZM89.1,51.9L89.6,51.9L90.1,52.2L90.3,52.4L90.3,52.9L89.6,53.2L89.1,52.9L88.9,52.4ZM87.6,54.8L88.1,54.4L89.2,54.9L90.1,55.9L90.2,56.4L90.0,56.9L89.6,57.6L89.1,57.8L87.1,57.8L86.1,58.6L85.6,58.5L85.1,57.9L85.1,57.4L85.4,56.9L86.1,56.1L87.1,55.6ZM83.1,56.8L83.6,56.5L84.1,56.9L84.2,57.4L83.9,58.9L83.6,59.2L82.6,59.4L82.1,59.0L82.1,58.4L82.9,57.4ZM95.1,76.3L95.6,76.6L96.8,77.9L97.0,78.9L97.0,80.4L97.7,82.4L97.4,83.9L97.1,84.6L96.6,85.2L94.9,85.9L93.6,88.6L93.1,89.2L91.9,89.9L90.6,91.3L90.3,90.9L91.2,88.9L91.5,88.4L92.5,87.4L93.2,85.9L94.2,85.4L94.5,84.9L94.5,82.9L93.7,80.4L93.6,78.9L94.1,77.5L94.6,76.7Z" fill="#116abd"/>
<path d="M37.6,37.9L38.1,38.0L38.6,38.4L38.8,38.9L38.7,39.4L38.3,39.9L37.6,40.1L37.1,40.0L36.6,39.6L36.4,38.9L36.6,38.4L37.1,38.0ZM39.1,44.2L39.4,44.4L39.5,44.9L39.1,45.5L38.8,45.4L38.6,44.9ZM77.6,47.9L78.2,48.4L77.6,48.9L77.1,48.4ZM88.1,54.7L88.6,54.8L89.1,55.1L89.8,55.9L89.9,56.4L89.6,57.2L89.1,57.5L87.1,57.5L86.1,58.0L85.7,57.9L85.5,57.4L85.8,56.9L86.1,56.4L87.1,55.9ZM95.1,76.7L96.1,77.3L96.6,77.9L96.8,78.4L96.8,80.4L97.5,82.4L97.4,83.4L97.1,84.2L96.6,84.9L95.6,85.3L95.1,85.3L94.9,84.9L94.6,82.4L94.0,80.9L93.8,79.9L93.8,78.9L94.0,77.9L94.6,77.0ZM93.6,86.0L94.1,86.0L94.2,86.4L93.6,88.2L93.1,88.9L91.6,89.5L91.5,89.4L91.6,88.7L92.8,87.4Z" fill="#1853a9"/>
<path d="M37.1,38.3L37.6,38.2L38.2,38.4L38.5,38.9L38.4,39.4L38.1,39.7L37.6,39.9L36.8,39.4L36.7,38.9ZM88.1,55.1L88.6,55.1L89.1,55.4L89.5,55.9L89.7,56.4L89.5,56.9L88.6,57.3L86.6,57.1L86.2,56.9L87.1,56.2ZM94.6,77.3L95.1,77.0L95.6,77.1L96.4,77.9L96.6,78.4L96.7,80.4L97.4,82.4L97.3,83.4L97.1,83.9L96.6,84.6L95.6,85.0L95.1,84.8L95.0,84.4L94.7,82.4L94.1,80.9L93.9,79.9L94.0,78.4ZM93.1,87.6L93.3,87.9L93.1,88.4L92.6,88.7L92.3,88.4Z" fill="#283c91"/>
<path d="M37.1,38.9L37.6,38.5L38.1,38.9L37.8,39.4L37.6,39.5L37.3,39.4ZM88.1,55.6L88.6,55.5L89.1,55.9L89.3,56.4L89.1,56.9L88.1,57.1L87.5,56.9L87.4,56.4ZM95.1,77.3L95.6,77.3L96.2,77.9L96.4,78.4L96.6,80.4L97.2,82.4L97.2,83.4L96.9,83.9L96.6,84.4L96.1,84.7L95.6,84.7L95.1,84.2L94.8,81.9L94.3,80.9L94.1,79.9L94.2,78.4L94.6,77.6Z" fill="#202c6a"/>
<path d="M95.1,77.5L95.6,77.6L96.1,77.9L96.3,78.4L96.4,80.4L97.0,82.4L97.0,83.4L96.6,84.1L96.1,84.4L95.6,84.4L95.2,83.9L94.9,81.9L94.3,80.4L94.2,79.4L94.4,78.4L94.6,77.9Z" fill="#171c42"/>
<g clip-path="url(#h00)"><use href="#hl" x="66.1" y="59.4" fill="none" stroke="#484848" stroke-width="0.46" opacity="0.88"/></g>
<use href="#land" x="66.1" y="59.4" fill="#fff" fill-rule="evenodd" stroke="#454545" stroke-width="0.6" stroke-linejoin="round"/>
<use href="#grat" x="66.1" y="59.4"/>
</g>
<circle cx="66.1" cy="59.4" r="48.5" fill="none" stroke="#3a3a3a" stroke-width="0.5"/>
<text x="66.1" y="8.799999999999997" font-size="4.66" text-anchor="middle">(a) Δ<tspan font-style="italic">θ</tspan>(SST; <tspan font-style="italic">ϕ</tspan><tspan font-size="3.4" dy="1.1">DJF</tspan><tspan dy="-1.1">, pentad = 1)</tspan></text>
<text x="31.75" y="17.20" font-size="5.2" text-anchor="middle">120°E</text>
<text x="117.70" y="52.20" font-size="5.2" text-anchor="middle">0°</text>
<text x="100.60" y="104.40" font-size="5.2" text-anchor="middle">60°W</text>
<text x="50.00" y="112.25" font-size="5.2" text-anchor="middle">120°W</text>
<text x="11.25" y="69.30" font-size="5.2" text-anchor="middle">20°N</text>
<rect x="123.90" y="100.02" width="6.3" height="4.63" fill="#202c6a"/><rect x="123.90" y="95.54" width="6.3" height="4.63" fill="#283c91"/><rect x="123.90" y="91.06" width="6.3" height="4.63" fill="#1853a9"/><rect x="123.90" y="86.58" width="6.3" height="4.63" fill="#116abd"/><rect x="123.90" y="82.10" width="6.3" height="4.63" fill="#2f80bb"/><rect x="123.90" y="77.62" width="6.3" height="4.63" fill="#4f95ba"/><rect x="123.90" y="73.14" width="6.3" height="4.63" fill="#76a9bf"/><rect x="123.90" y="68.66" width="6.3" height="4.63" fill="#9bbcc7"/><rect x="123.90" y="64.18" width="6.3" height="4.63" fill="#bfced4"/><rect x="123.90" y="59.70" width="6.3" height="4.63" fill="#e1e3e5"/><rect x="123.90" y="55.22" width="6.3" height="4.63" fill="#ede1dd"/><rect x="123.90" y="50.74" width="6.3" height="4.63" fill="#e1c3b9"/><rect x="123.90" y="46.26" width="6.3" height="4.63" fill="#d8a796"/><rect x="123.90" y="41.78" width="6.3" height="4.63" fill="#cf8a73"/><rect x="123.90" y="37.30" width="6.3" height="4.63" fill="#c66d51"/><rect x="123.90" y="32.82" width="6.3" height="4.63" fill="#bb4f3a"/><rect x="123.90" y="28.34" width="6.3" height="4.63" fill="#ae3127"/><rect x="123.90" y="23.86" width="6.3" height="4.63" fill="#961f26"/><rect x="123.90" y="19.38" width="6.3" height="4.63" fill="#7a0f28"/><rect x="123.90" y="14.90" width="6.3" height="4.63" fill="#5b0c1d"/><path d="M123.90,14.90L127.05,10.45L130.20,14.90Z" fill="#3c0911"/><path d="M123.90,104.50L127.05,108.95L130.20,104.50Z" fill="#171c42"/><path d="M123.90,14.90L127.05,10.45L130.20,14.90L130.20,104.50L127.05,108.95L123.90,104.50Z" fill="none" stroke="#222" stroke-width="0.25"/><path d="M130.20,19.38h1.2" stroke="#222" stroke-width="0.3"/><text x="131.95" y="20.88" font-size="4.05">0.9</text><path d="M130.20,32.82h1.2" stroke="#222" stroke-width="0.3"/><text x="131.95" y="34.32" font-size="4.05">0.6</text><path d="M130.20,46.26h1.2" stroke="#222" stroke-width="0.3"/><text x="131.95" y="47.76" font-size="4.05">0.3</text><path d="M130.20,59.70h1.2" stroke="#222" stroke-width="0.3"/><text x="131.95" y="61.20" font-size="4.05">0.0</text><path d="M130.20,73.14h1.2" stroke="#222" stroke-width="0.3"/><text x="131.95" y="74.64" font-size="4.05">−0.3</text><path d="M130.20,86.58h1.2" stroke="#222" stroke-width="0.3"/><text x="131.95" y="88.08" font-size="4.05">−0.6</text><path d="M130.20,100.02h1.2" stroke="#222" stroke-width="0.3"/><text x="131.95" y="101.52" font-size="4.05">−0.9</text><text transform="translate(147.10,58.80) rotate(-90)" font-size="6.6" text-anchor="middle">[ K ]</text>
<g clip-path="url(#c10)">
<circle cx="66.1" cy="197.55" r="48.5" fill="#e1e3e5"/>
<path d="M23.2,147.6L29.8,147.6L29.5,151.1L29.1,152.4L28.6,153.1L28.1,153.4L27.6,153.3L27.1,153.1L24.8,151.1L24.1,150.2L23.6,149.1ZM39.3,147.6L90.5,147.6L91.1,149.1L92.6,150.8L95.1,153.0L98.1,154.9L98.7,155.6L99.1,156.6L99.1,157.6L98.0,161.6L98.0,163.1L99.1,165.7L99.7,166.6L100.6,167.5L101.1,167.7L102.1,167.8L106.6,167.3L107.6,166.8L108.2,166.1L108.5,164.6L108.3,163.1L107.6,160.6L107.6,159.6L107.9,159.1L108.6,158.6L109.6,158.4L111.1,158.6L114.6,160.2L116.1,160.6L116.1,174.5L114.1,174.4L112.6,174.1L111.6,173.7L108.6,172.1L107.6,172.0L107.1,172.2L106.2,173.1L105.7,174.1L105.3,177.1L104.9,178.1L104.1,178.8L103.1,179.4L102.1,179.7L99.6,180.1L98.9,180.6L98.1,182.1L97.1,185.7L96.3,187.1L95.6,187.6L95.1,187.5L93.1,186.4L92.1,186.5L91.6,186.1L91.1,184.9L90.6,184.7L89.6,185.2L88.9,185.1L89.1,184.1L88.7,183.6L87.1,182.9L86.1,182.2L85.6,182.1L83.6,183.4L82.1,183.8L81.6,183.9L79.6,183.4L78.1,182.6L74.6,179.8L73.9,179.1L73.3,178.1L73.2,177.1L73.3,175.6L74.4,171.6L74.6,170.6L74.3,168.1L74.3,167.1L75.0,164.6L76.4,161.1L76.6,160.1L76.2,159.1L75.0,158.1L73.1,157.4L71.6,157.4L70.6,157.8L70.1,158.3L68.8,162.1L68.1,163.2L67.1,164.2L66.1,164.7L65.6,164.7L63.6,164.3L62.6,164.4L61.7,165.1L61.3,166.1L61.5,167.1L62.1,167.7L63.1,167.8L65.1,167.4L66.1,167.4L67.1,167.8L68.6,169.2L69.4,170.6L69.7,172.6L69.4,174.6L68.7,176.1L67.9,177.1L66.1,178.8L64.7,181.1L63.6,182.1L62.5,182.6L56.1,184.7L55.1,184.9L54.5,184.6L54.4,184.1L54.5,183.1L57.0,179.1L57.2,178.6L57.1,177.8L56.9,177.6L56.1,177.1L52.6,176.9L51.6,176.6L51.1,176.3L50.6,175.6L50.1,173.6L50.0,170.6L50.2,169.1L50.7,168.1L52.0,166.1L52.5,164.6L52.6,162.1L52.4,159.6L52.2,158.6L51.6,157.9L49.1,156.9L48.1,156.2L47.1,154.8L45.6,152.0L44.6,150.9L43.6,150.5L41.1,150.1L40.1,149.6L39.5,148.6ZM57.7,155.6L56.8,156.1L56.3,156.6L56.2,157.1L56.8,157.6L58.1,158.1L59.6,158.4L60.6,158.3L61.1,158.0L61.5,157.6L61.7,156.6L61.4,156.1L60.6,155.4L59.6,155.1ZM86.4,175.6L85.6,176.4L85.3,177.1L85.2,177.6L85.3,178.1L85.6,178.4L86.1,178.4L86.6,178.2L87.3,177.1L87.4,176.1L87.3,175.6L87.1,175.4ZM97.8,147.6L101.6,147.6L101.2,150.1L100.6,150.9L100.1,151.0L99.6,150.7L98.6,149.8L98.1,148.9L97.9,148.1ZM16.1,150.7L18.1,151.1L20.0,152.1L21.3,153.1L23.6,155.9L24.6,156.4L26.6,157.1L26.9,157.6L26.7,158.6L25.9,160.1L25.1,161.1L24.1,161.7L23.1,161.6L21.6,161.2L20.6,161.1L16.1,161.9ZM39.1,168.8L40.6,168.6L41.6,169.0L42.1,169.4L42.5,170.1L42.6,170.6L42.2,171.6L41.1,172.4L40.1,172.5L38.6,172.5L38.4,173.6L37.5,174.6L36.1,175.2L35.6,175.2L34.9,175.1L34.4,174.6L34.2,174.1L34.3,173.1L34.8,172.6L35.6,172.1L37.7,171.6L38.1,169.6ZM36.1,179.8L36.6,179.7L37.1,179.8L37.4,180.1L37.4,180.6L37.2,181.1L36.6,181.5L36.1,181.5L35.5,181.1L35.5,180.6ZM114.8,187.1L116.1,186.6L116.1,191.1L115.3,190.6L114.6,189.7L114.3,189.1L114.2,188.1L114.3,187.6ZM74.1,187.0L74.6,186.8L75.1,187.1L75.6,187.5L76.4,188.6L76.8,189.6L76.6,191.6L77.5,193.1L77.7,194.1L77.6,195.1L77.8,195.6L78.6,196.5L78.8,198.1L79.6,199.2L80.6,200.0L81.0,201.6L81.6,202.2L82.4,202.6L83.0,204.1L83.9,205.1L84.2,205.6L84.4,206.6L85.3,209.1L85.1,209.4L84.1,209.6L83.2,210.1L83.6,210.6L85.3,210.6L86.1,210.3L86.6,210.4L88.1,211.9L88.5,212.6L88.6,213.1L88.5,213.6L88.1,214.1L87.1,214.8L84.9,215.1L78.9,216.6L78.9,217.1L79.8,219.6L79.3,223.6L79.6,224.8L80.1,225.3L80.7,225.6L81.6,225.7L82.1,225.6L83.1,224.3L83.9,222.6L83.9,222.1L83.3,220.6L83.3,219.6L83.6,219.2L84.6,219.3L85.0,218.6L85.6,218.3L86.1,218.6L86.6,218.6L89.1,216.6L91.0,214.1L92.1,213.0L93.1,212.2L94.1,211.9L94.3,212.1L94.8,212.6L94.9,213.1L93.2,215.6L92.5,217.6L91.9,218.6L91.8,219.1L91.8,220.6L91.1,221.7L90.6,222.0L90.1,222.1L89.4,222.6L86.6,227.6L85.8,230.1L86.1,232.6L86.6,234.1L87.1,234.7L89.1,236.5L90.1,237.1L91.1,237.4L92.1,237.2L92.6,236.9L93.5,236.1L94.1,235.1L94.6,234.6L96.6,234.3L97.6,234.6L98.0,234.6L98.6,233.9L99.1,233.7L100.1,234.9L100.6,235.0L103.1,234.5L105.6,234.6L106.2,235.1L107.6,237.3L108.1,237.7L108.8,238.1L111.1,238.3L116.1,238.3L116.1,247.6L96.6,247.6L95.5,243.1L95.1,240.8L94.6,240.2L94.1,240.0L93.1,240.2L91.6,240.8L90.1,241.7L89.1,242.6L88.1,244.0L87.6,245.1L87.1,247.6L51.3,247.6L53.0,246.6L55.1,246.1L58.1,246.3L62.1,246.0L66.1,246.7L67.6,246.7L71.6,246.0L73.1,245.6L74.1,245.0L74.4,244.6L74.5,244.1L74.4,243.6L73.7,242.6L72.7,241.6L71.1,240.3L69.1,239.4L66.1,238.6L64.6,238.1L63.2,237.1L62.9,236.6L62.8,236.1L63.6,235.5L66.6,235.6L67.6,235.3L68.1,235.0L68.6,234.5L69.0,233.6L69.5,231.1L69.4,229.6L69.1,229.0L68.1,228.7L65.1,228.7L64.1,228.2L63.3,227.1L63.1,226.1L63.6,225.1L64.6,224.5L66.3,224.1L66.7,223.6L66.5,222.6L65.5,220.6L65.0,219.1L64.8,217.6L64.9,215.6L64.5,214.6L63.9,214.1L62.8,213.6L61.6,213.2L60.6,213.2L60.1,213.3L58.9,215.1L57.8,216.1L56.6,216.7L54.6,217.6L52.6,218.2L51.6,218.3L50.6,218.0L50.1,217.6L49.8,217.1L49.6,216.1L49.6,214.6L50.1,212.6L50.9,210.1L51.0,209.1L50.9,208.6L49.7,207.1L46.1,204.4L45.5,203.6L45.1,202.6L44.9,198.6L45.4,195.1L46.1,194.1L47.8,192.6L47.7,192.1L47.1,191.7L46.4,190.6L46.5,189.6L46.8,188.6L47.2,188.1L48.1,187.6L49.1,187.6L49.9,188.1L50.3,188.6L50.5,189.6L50.3,190.6L50.1,191.1L50.1,191.6L50.7,191.6L55.1,190.4L56.6,190.3L58.1,190.5L61.6,191.6L65.6,191.9L66.6,192.6L67.8,194.6L69.1,195.9L70.6,196.7L72.1,197.0L73.6,196.5L74.2,196.1L74.5,195.6L74.1,194.1L74.1,192.6L73.6,192.3L72.6,192.3L71.6,191.9L70.9,191.1L70.8,190.1L71.6,188.9L73.1,188.4L73.5,187.6ZM70.7,202.1L68.9,203.1L68.1,203.9L67.8,204.6L67.8,205.1L68.0,206.1L69.1,207.6L70.1,208.3L71.6,208.6L73.6,208.2L74.6,207.7L75.5,207.1L76.3,206.1L76.6,205.1L76.4,204.1L76.1,203.6L74.6,202.4L73.1,201.8L72.1,201.7ZM55.1,206.1L54.4,206.6L53.7,207.6L53.6,208.6L53.8,209.1L54.9,210.1L56.1,210.6L57.6,211.1L58.6,211.1L59.0,210.6L59.2,209.6L59.0,208.1L58.5,207.1L58.1,206.5L57.1,205.8L56.1,205.7ZM89.6,186.9L90.6,186.8L91.1,187.1L91.2,187.6L90.6,188.1L89.6,187.9L89.1,187.6ZM86.6,190.0L87.1,189.7L88.1,189.9L88.7,190.6L88.8,191.1L88.6,191.4L88.1,191.8L87.6,191.8L86.9,191.6L86.4,191.1L86.3,190.6ZM87.6,196.4L88.1,196.5L88.2,197.1L88.0,197.6L87.6,197.9L87.1,198.0L86.8,197.6L86.9,197.1ZM110.6,200.6L111.6,200.3L112.5,200.6L114.6,201.9L115.1,202.0L116.1,202.0L116.1,236.3L115.1,235.8L114.4,235.1L113.9,234.1L113.0,231.6L112.6,230.9L111.8,230.6L110.6,230.5L107.6,231.2L107.1,231.2L106.6,230.9L106.1,229.8L105.9,227.6L106.0,227.1L106.8,226.1L108.1,225.1L111.1,223.7L115.5,220.6L115.5,220.1L115.0,219.6L113.1,218.3L111.8,217.1L111.2,216.1L110.6,214.6L110.5,213.6L110.6,212.6L111.3,211.1L112.6,209.6L114.9,208.1L115.3,207.6L115.2,207.1L114.9,206.6L111.6,204.3L110.6,203.2L110.2,202.1L110.1,201.6ZM97.3,214.1L98.1,213.8L98.5,214.1L98.6,214.6L98.1,214.8L97.6,214.7ZM99.6,218.6L100.1,218.7L100.3,219.1L100.1,219.7L99.6,220.2L99.5,219.6ZM16.2,224.1L17.6,224.6L19.4,225.6L20.4,226.6L20.5,227.1L17.1,231.1L16.1,232.0ZM96.1,227.2L98.1,225.7L98.6,225.7L99.1,226.1L99.2,226.6L98.8,227.1L97.6,227.6L97.1,228.7L96.6,229.3L96.1,229.3L95.6,228.9L95.5,228.1ZM97.6,231.5L98.2,232.1L98.1,232.9L97.1,233.7L96.6,233.8L96.4,233.1L96.5,232.6L97.1,231.7ZM34.6,240.4L35.6,240.1L37.1,240.3L38.1,240.7L39.1,241.4L40.2,242.6L41.7,244.6L42.6,246.1L43.2,247.6L34.2,247.6L34.1,247.0L33.6,246.1L32.6,245.4L32.1,245.4L31.6,245.7L31.3,246.1L31.1,246.6L31.0,247.6L24.5,247.6L25.1,246.6L29.1,242.9L30.1,242.4L32.1,241.7Z" fill="#ede1dd"/>
<path d="M50.6,150.2L52.9,147.6L54.6,147.6L57.7,151.1L57.9,151.6L57.9,152.1L57.6,152.6L56.1,153.5L54.1,154.1L52.1,154.1L50.6,153.6L50.1,153.1L49.8,152.6L49.8,151.6ZM79.1,148.0L80.1,147.6L84.2,147.6L86.8,149.6L91.1,152.4L93.2,154.6L94.1,156.1L94.5,157.6L94.3,158.6L92.6,161.1L92.4,162.1L92.7,163.6L94.1,166.1L94.2,166.6L93.7,167.1L87.6,168.5L86.1,168.6L85.1,168.5L84.6,168.3L84.1,167.8L83.5,166.6L82.7,164.1L82.7,161.1L82.5,160.1L82.0,159.1L81.1,158.1L79.2,157.1L76.8,156.1L73.1,155.0L70.6,154.6L66.6,154.8L65.6,154.7L64.6,154.3L63.5,153.6L62.6,152.6L62.3,152.1L62.3,151.6L62.7,150.6L63.1,150.1L64.1,149.4L65.1,149.3L67.1,149.6L68.6,149.6L72.1,148.9L76.6,148.6ZM16.1,153.1L17.1,153.3L18.1,154.1L18.9,155.1L19.2,156.6L19.0,157.6L18.3,158.6L17.1,159.4L16.1,159.7ZM55.6,167.5L56.1,167.5L56.6,167.9L57.1,168.6L57.5,169.6L57.5,170.6L57.1,171.3L56.6,171.7L55.6,172.1L54.6,172.0L54.1,171.8L53.6,171.1L53.5,170.1L54.3,168.6L55.1,167.7ZM39.1,169.4L40.1,169.1L41.1,169.3L41.9,170.1L42.0,170.6L41.9,171.1L41.4,171.6L40.6,172.0L39.6,171.9L39.1,171.8L38.4,171.1L38.3,170.6L38.4,170.1ZM36.6,172.0L37.1,172.1L37.7,172.6L37.9,173.6L37.7,174.1L36.6,174.8L35.6,175.0L35.1,174.8L34.5,174.1L34.5,173.6L34.7,173.1L35.6,172.3ZM80.1,172.4L81.1,172.2L81.7,172.6L81.8,173.1L81.7,173.6L81.1,174.3L80.6,174.6L79.6,174.7L79.1,174.4L78.9,174.1L78.9,173.6L79.2,173.1ZM36.6,180.0L36.9,180.1L37.1,180.6L36.6,181.2L36.1,181.1L35.9,180.6ZM74.6,187.4L75.1,187.4L75.6,187.8L76.4,189.1L76.5,190.1L76.1,191.6L76.3,192.1L77.1,192.8L77.4,193.6L77.4,194.1L77.1,194.7L76.6,195.1L76.1,195.2L75.1,194.8L74.7,194.1L74.8,192.6L74.7,192.1L74.1,191.7L72.6,191.9L72.1,191.7L71.4,191.1L71.3,190.6L71.4,190.1L71.8,189.6L72.1,189.3L73.2,189.1L73.6,188.7L74.1,187.7ZM47.6,188.4L48.6,188.2L49.3,188.6L49.7,189.1L49.8,189.6L49.6,190.2L49.1,190.8L48.6,191.1L48.1,191.1L47.6,191.0L47.1,190.6L46.9,190.1L47.0,189.1ZM87.1,190.2L87.6,190.1L88.3,190.6L88.4,191.1L88.1,191.4L87.6,191.5L86.8,191.1L86.7,190.6ZM53.6,191.5L55.1,191.4L56.6,191.7L57.1,192.1L57.5,192.6L57.6,193.1L57.4,194.1L57.6,194.4L59.1,194.5L60.6,195.0L65.1,197.7L66.1,198.6L66.4,199.1L66.5,199.6L66.1,200.6L64.6,201.9L63.1,203.0L62.6,203.2L61.6,203.2L60.6,202.8L59.1,201.7L57.4,200.1L56.3,198.6L56.0,197.6L56.0,197.1L56.9,195.1L56.6,194.7L50.1,196.3L48.6,196.2L47.5,195.6L47.3,195.1L47.4,194.6L47.7,194.1L48.9,193.1L50.6,192.2ZM87.6,196.8L87.9,197.1L87.6,197.6L87.5,197.6L87.2,197.1ZM49.1,198.4L49.6,198.2L50.6,198.2L51.5,198.6L52.2,199.1L52.4,199.6L52.5,200.6L52.1,201.5L51.6,202.0L51.1,202.2L50.1,202.1L49.1,201.4L48.6,200.6L48.5,199.6L48.6,199.0ZM77.6,208.8L78.6,208.6L79.6,208.8L80.5,209.6L81.1,210.6L81.8,211.1L84.1,211.3L86.6,211.9L87.6,212.6L87.9,213.1L87.8,213.6L87.4,214.1L86.6,214.4L82.6,214.9L81.1,215.4L79.6,215.5L78.1,215.1L77.3,214.6L75.7,212.1L75.6,211.6L75.7,210.6L76.0,210.1L76.6,209.4ZM114.6,212.4L116.1,211.7L116.1,216.3L115.2,216.1L114.4,215.6L114.0,215.1L113.8,214.1L114.1,213.0ZM93.1,212.5L93.6,212.3L94.1,212.3L94.4,212.6L94.6,213.1L93.1,215.5L92.4,217.6L91.7,218.6L91.2,220.6L90.6,221.3L89.6,222.0L89.1,222.5L84.8,229.6L83.6,231.3L82.1,232.9L80.0,234.6L79.8,235.1L80.1,235.7L81.1,236.4L84.1,236.7L85.0,237.1L85.6,237.5L86.1,238.2L86.3,239.1L86.3,239.6L85.8,240.6L84.6,241.9L84.1,242.2L83.1,242.4L80.6,242.1L77.6,241.9L76.6,241.7L75.1,241.0L73.6,239.7L72.9,238.6L72.8,237.6L73.2,236.6L74.1,235.4L76.1,233.6L78.1,231.3L79.6,230.1L80.6,229.0L83.1,225.5L84.8,222.6L87.4,218.6L89.6,216.3L91.1,214.2ZM71.6,214.0L72.6,213.9L73.6,214.4L75.6,216.9L76.7,219.1L77.0,220.6L76.6,222.4L75.8,223.6L74.6,224.3L73.1,224.3L71.5,223.6L69.7,221.6L68.8,220.1L68.4,219.1L68.3,217.6L69.0,216.1L70.1,214.8ZM100.6,240.0L101.6,240.1L102.1,240.4L103.1,242.1L103.8,244.6L103.8,247.6L99.6,247.6L98.6,244.6L98.5,243.1L98.7,242.1L99.1,241.3L99.7,240.6ZM115.1,242.9L116.1,242.6L116.1,247.6L113.6,247.6L113.7,245.6L113.9,244.1L114.6,243.1Z" fill="#e1c3b9"/>
<path d="M75.6,151.0L78.6,150.8L80.1,151.0L81.1,151.6L81.4,152.1L81.5,152.6L81.3,153.1L80.6,153.7L79.6,154.0L78.6,154.0L74.7,153.1L73.6,152.6L73.1,152.1L73.3,151.6ZM87.1,153.5L88.6,153.5L90.0,154.1L91.0,155.1L91.4,156.1L91.4,157.1L90.9,158.1L89.6,159.2L88.6,159.7L87.6,159.7L86.6,159.2L85.6,158.1L85.0,156.6L84.9,155.6L85.3,154.6L86.1,153.9ZM39.6,169.5L40.6,169.5L41.1,169.8L41.4,170.1L41.5,170.6L41.4,171.1L40.7,171.6L40.1,171.7L39.1,171.3L38.9,171.1L38.7,170.6L38.9,170.1ZM35.6,172.5L36.6,172.3L37.3,172.6L37.6,173.1L37.6,173.6L37.4,174.1L36.8,174.6L36.1,174.8L35.6,174.8L35.2,174.6L34.8,174.1L34.7,173.6L34.9,173.1ZM74.6,187.7L75.1,187.7L75.6,188.0L76.2,189.1L76.3,190.1L76.0,191.1L75.6,191.5L75.1,191.8L74.1,191.3L72.6,191.6L72.1,191.4L71.8,191.1L71.6,190.6L71.8,190.1L72.1,189.7L72.6,189.5L73.6,189.3L74.1,188.3ZM47.6,189.0L48.1,188.7L48.6,188.7L49.1,189.2L49.2,189.6L49.1,190.1L48.6,190.5L48.1,190.5L47.6,190.3L47.4,189.6ZM52.6,192.0L54.1,191.9L55.1,192.0L56.0,192.6L56.0,193.1L55.7,193.6L54.6,194.3L52.1,195.2L50.1,195.4L49.1,195.3L48.7,195.1L48.4,194.6L48.6,194.1L49.0,193.6L50.6,192.6ZM75.6,192.2L76.1,192.3L76.6,192.5L77.0,193.1L77.2,193.6L77.2,194.1L76.6,194.7L76.1,194.9L75.6,194.7L75.0,194.1L74.8,193.6L74.9,193.1ZM78.1,209.4L79.1,209.4L79.6,209.6L80.8,211.1L81.1,211.2L84.6,211.7L86.1,212.1L86.9,212.6L87.3,213.1L87.3,213.6L86.6,214.0L85.6,214.3L83.0,214.6L80.6,215.1L79.6,215.1L78.6,214.8L77.8,214.1L77.4,213.1L76.8,212.1L76.6,211.1L77.0,210.1ZM93.6,212.5L94.1,212.6L94.3,213.1L94.2,213.6L93.0,215.6L92.5,217.1L91.6,218.6L90.8,220.6L89.1,222.3L84.0,230.1L82.1,231.9L81.1,232.2L80.8,232.1L80.5,231.6L80.5,231.1L81.2,229.1L85.4,222.1L87.4,219.1L89.6,216.5L91.1,214.4L92.6,213.0ZM71.6,217.5L72.1,217.3L73.1,217.5L74.3,218.6L74.6,219.1L74.8,220.1L74.6,221.1L74.1,221.6L73.6,221.8L72.6,221.6L71.5,220.6L71.0,219.6L70.9,218.6L71.1,218.0Z" fill="#d8a796"/>
<path d="M39.6,169.9L40.1,169.8L40.9,170.1L41.2,170.6L40.9,171.1L40.1,171.3L39.3,171.1L39.1,170.6ZM36.1,172.5L36.6,172.5L37.1,172.8L37.4,173.6L37.1,174.1L36.6,174.5L36.1,174.6L35.6,174.5L35.1,174.1L35.0,173.6L35.2,173.1ZM74.6,188.0L75.1,187.9L75.6,188.2L76.1,189.1L76.1,190.1L75.6,191.2L75.1,191.4L74.1,190.9L72.6,191.4L72.1,191.1L71.9,190.6L72.0,190.1L72.6,189.7L73.6,189.8ZM52.1,192.4L54.1,192.3L54.9,192.6L55.1,193.1L54.9,193.6L54.2,194.1L52.6,194.7L50.6,195.0L49.6,194.8L49.3,194.6L49.3,194.1L49.7,193.6L50.6,192.9ZM76.1,192.5L76.6,192.8L77.0,193.6L76.9,194.1L76.6,194.4L76.1,194.6L75.6,194.4L75.2,194.1L75.1,193.6L75.2,193.1L75.6,192.6ZM78.1,209.8L79.1,209.9L79.6,210.2L80.3,211.1L81.1,211.5L84.1,211.8L85.6,212.2L86.3,212.6L86.8,213.1L86.7,213.6L85.6,214.1L84.6,214.3L82.6,214.4L80.6,214.9L79.1,214.7L78.3,214.1L78.0,213.1L77.1,211.6L77.0,211.1L77.2,210.6L77.6,210.1ZM93.1,212.9L93.6,212.8L94.0,213.1L94.0,213.6L92.9,215.6L92.3,217.1L91.2,219.1L90.5,220.6L89.1,222.1L84.1,229.6L82.6,231.1L81.6,231.5L81.1,231.1L81.3,229.6L85.3,222.6L87.9,218.6L89.6,216.7L90.7,215.1L92.1,213.7Z" fill="#cf8a73"/>
<path d="M39.6,170.4L40.1,170.1L40.7,170.6L40.1,171.0L39.6,170.7ZM35.6,172.9L36.1,172.7L36.6,172.7L37.0,173.1L37.1,173.6L36.9,174.1L36.1,174.4L35.6,174.3L35.3,174.1L35.2,173.6ZM74.6,188.3L75.1,188.1L75.6,188.5L76.0,189.6L75.8,190.6L75.6,190.8L75.1,191.1L74.6,190.9L74.2,190.6L73.9,190.1L74.2,189.1ZM72.6,189.9L73.2,190.1L73.5,190.6L73.1,191.0L72.6,191.1L72.1,190.6ZM51.1,193.0L53.1,192.6L53.6,192.6L54.4,193.1L54.2,193.6L53.1,194.2L51.6,194.6L50.4,194.6L49.9,194.1L50.3,193.6ZM75.6,192.9L76.1,192.7L76.7,193.1L76.8,193.6L76.6,194.2L76.1,194.4L75.5,194.1L75.3,193.6ZM78.1,210.2L78.6,210.1L79.1,210.3L80.4,211.6L83.6,211.8L85.6,212.4L86.4,213.1L86.2,213.6L84.6,214.1L80.6,214.6L79.5,214.6L78.7,214.1L78.4,213.1L77.5,211.6L77.4,211.1L77.6,210.6ZM93.6,213.0L93.8,213.6L93.6,214.1L92.2,217.1L90.3,220.6L87.6,224.1L84.1,229.3L82.6,230.7L82.1,230.9L81.6,230.8L81.5,230.1L82.3,228.1L85.5,222.6L87.4,219.6L91.1,214.8L92.6,213.4L93.1,213.1Z" fill="#c66d51"/>
<path d="M36.1,172.9L36.7,173.1L36.8,173.6L36.6,174.0L36.1,174.2L35.7,174.1L35.5,173.6L35.8,173.1ZM75.1,188.4L75.6,188.8L75.8,189.6L75.6,190.5L75.1,190.8L74.5,190.6L74.3,190.1L74.3,189.6L74.6,188.6ZM52.1,193.0L53.5,193.1L53.5,193.6L52.6,194.1L52.1,194.2L51.1,194.2L50.7,194.1L50.9,193.6ZM76.1,192.9L76.7,193.6L76.4,194.1L76.1,194.2L75.8,194.1L75.5,193.6L75.6,193.2ZM78.6,210.5L79.1,210.7L79.7,211.6L80.1,211.7L84.1,212.1L85.4,212.6L86.0,213.1L85.8,213.6L84.6,213.9L80.6,214.4L79.6,214.3L79.2,214.1L78.7,212.6L77.9,211.6L77.9,211.1L78.1,210.7ZM93.1,213.3L93.6,213.6L93.4,214.1L92.1,217.1L90.4,220.1L87.1,224.6L84.1,229.1L83.1,230.1L82.6,230.4L82.1,230.5L81.8,230.1L82.2,228.6L85.9,222.1L87.9,219.1L89.6,217.0L91.0,215.1L92.6,213.6Z" fill="#bb4f3a"/>
<path d="M74.6,188.9L75.1,188.6L75.6,189.1L75.6,190.1L75.1,190.6L74.5,190.1L74.4,189.6ZM79.6,212.1L82.1,212.0L83.6,212.1L85.0,212.6L85.6,213.1L85.3,213.6L84.6,213.8L80.1,214.2L79.6,214.0L79.3,213.6L79.2,212.6ZM93.1,213.5L93.3,214.1L92.3,216.6L89.9,220.6L87.0,224.6L84.1,228.9L83.1,229.9L82.6,230.1L82.3,230.1L82.1,229.6L82.6,228.1L85.4,223.1L87.3,220.1L91.1,215.1L92.1,214.2Z" fill="#ae3127"/>
<path d="M75.1,188.9L75.5,189.6L75.4,190.1L75.1,190.3L74.8,190.1L74.6,189.6ZM80.1,212.4L81.6,212.1L83.1,212.2L84.7,212.6L85.3,213.1L84.9,213.6L84.1,213.7L80.6,214.0L80.1,213.9L79.7,213.6L79.6,213.1L79.8,212.6ZM92.6,214.0L93.0,214.1L92.9,214.6L92.2,216.6L89.8,220.6L86.8,224.6L84.1,228.7L83.1,229.6L82.6,229.8L82.4,229.6L82.4,229.1L82.8,228.1L85.5,223.1L87.4,220.1L91.1,215.2Z" fill="#961f26"/>
<path d="M80.3,212.6L81.6,212.3L83.1,212.3L84.3,212.6L84.9,213.1L84.1,213.6L80.6,213.7L80.2,213.6L80.0,213.1ZM92.1,214.5L92.6,214.3L92.7,214.6L92.3,216.1L90.0,220.1L84.1,228.4L83.1,229.3L82.7,229.1L83.0,228.1L85.9,222.6L88.2,219.1L89.9,217.1L91.1,215.4Z" fill="#7a0f28"/>
<path d="M81.1,212.5L83.1,212.4L83.8,212.6L84.6,213.1L83.6,213.6L81.1,213.6L80.4,213.1ZM91.6,215.0L92.1,214.7L92.5,215.1L92.2,216.1L89.9,220.1L84.1,228.2L83.6,228.7L83.1,229.0L83.0,228.6L83.1,228.1L86.1,222.6L88.3,219.1Z" fill="#5b0c1d"/>
<path d="M81.6,212.5L83.3,212.6L84.2,213.1L83.6,213.3L82.6,213.4L81.6,213.4L80.9,213.1ZM92.1,214.9L92.2,215.6L92.1,216.1L89.8,220.1L84.1,227.9L83.6,228.4L83.4,228.1L83.6,227.5L85.6,223.6L88.0,219.6L90.1,217.1L91.1,215.6Z" fill="#3c0911"/>
<path d="M106.6,150.0L107.6,150.5L108.4,151.6L108.6,152.6L108.1,153.1L107.1,153.0L106.6,152.7L106.1,152.1L105.9,151.1L106.0,150.6L106.1,150.3ZM41.6,155.7L42.1,155.6L42.8,156.1L43.1,157.1L43.1,159.1L43.6,159.8L44.6,160.3L48.1,161.0L49.1,161.6L49.5,162.6L49.6,163.1L49.1,164.1L48.6,164.5L47.1,165.1L45.1,165.2L43.6,164.8L42.7,164.1L41.9,162.6L41.5,160.1L40.7,157.6L40.9,156.6ZM16.1,164.1L18.1,164.1L19.6,164.4L24.1,167.0L26.1,167.7L27.1,167.6L28.1,167.0L28.6,166.4L29.6,164.7L30.1,164.3L31.1,164.2L33.1,165.1L36.1,167.1L36.9,168.1L37.3,169.1L37.2,170.6L37.1,171.1L36.5,171.6L34.4,172.6L33.8,173.1L33.7,173.6L33.9,174.6L34.2,175.1L34.6,175.4L35.1,175.5L36.1,175.4L38.6,174.3L39.1,174.2L41.1,175.7L41.6,176.0L42.1,176.0L43.0,175.1L43.3,174.6L43.9,172.1L44.6,170.8L45.1,170.3L45.6,170.2L46.1,170.4L46.6,170.9L47.0,171.6L47.2,172.6L47.0,175.1L47.1,176.1L47.7,177.6L49.2,179.6L49.9,181.1L50.2,182.1L50.2,183.1L49.9,184.1L49.0,185.1L48.8,186.1L48.4,186.6L46.5,187.6L45.6,189.8L44.6,191.1L44.5,191.6L44.6,193.1L43.4,194.1L42.9,195.1L42.8,197.1L42.2,199.6L42.4,201.1L41.9,202.6L42.1,204.6L41.9,205.1L41.6,205.4L40.5,206.1L40.1,207.3L39.1,208.4L38.9,209.6L38.4,210.6L39.2,213.1L39.3,214.6L39.9,218.1L40.6,219.2L42.6,221.4L44.1,222.4L45.6,222.9L47.1,223.0L51.1,222.7L52.1,222.3L54.5,220.6L55.6,220.1L56.8,220.1L57.5,220.6L57.6,221.1L57.4,222.1L56.1,224.4L55.6,224.7L53.6,224.5L52.6,224.7L51.6,225.5L49.6,228.1L49.1,229.1L48.9,230.1L48.9,231.1L49.4,232.6L50.1,234.0L51.1,235.5L55.1,239.3L56.1,239.7L56.6,239.8L59.1,239.3L61.1,239.6L63.2,240.6L65.9,242.1L66.3,242.6L66.2,243.1L64.6,243.6L60.6,243.7L58.6,243.6L55.6,242.9L54.6,243.1L51.6,244.2L50.1,244.5L48.1,244.6L46.6,244.2L44.8,243.1L41.3,239.6L38.1,236.9L34.9,233.1L30.6,230.1L29.2,229.1L25.4,224.6L23.8,223.1L22.1,222.2L18.6,221.4L16.1,220.6L16.1,200.8L16.3,200.1L16.1,198.8L16.1,189.2L17.9,188.1L19.6,186.0L19.9,185.1L19.8,183.6L19.8,182.1L20.1,181.4L21.6,178.8L21.9,177.6L21.6,176.6L21.3,176.1L19.0,173.6L17.6,172.5L16.1,171.9ZM36.0,179.6L35.3,180.1L34.9,181.1L35.1,181.7L35.6,181.9L36.6,181.8L37.1,181.5L37.7,180.6L37.7,180.1L37.3,179.6L36.6,179.4ZM35.5,188.1L35.6,188.3L36.1,188.3L36.2,188.1L36.1,187.9L35.6,187.9ZM37.7,189.6L37.8,190.1L38.1,190.2L38.7,190.1L38.4,189.6L38.1,189.4ZM106.1,182.0L107.1,181.8L108.1,181.8L109.0,182.1L109.6,182.7L109.8,183.6L109.7,187.1L110.7,192.6L110.7,194.1L110.5,195.1L109.9,196.1L108.1,198.1L107.6,199.1L107.4,200.1L107.5,201.6L108.8,205.6L109.1,207.6L108.7,209.1L107.0,212.1L106.7,213.6L106.9,214.6L108.1,216.4L108.9,218.1L109.1,219.1L109.0,220.1L108.2,221.1L104.9,223.1L104.5,223.6L104.0,225.1L102.6,226.9L102.1,227.3L101.6,227.4L100.8,227.1L99.9,225.6L99.1,224.8L98.6,224.6L98.1,224.7L97.1,226.0L96.1,226.6L95.1,227.6L94.6,228.6L94.6,229.6L93.6,231.0L92.1,231.2L91.6,231.5L90.1,233.0L89.6,233.2L88.6,233.4L88.1,233.3L87.4,232.6L87.3,231.1L87.8,229.6L90.1,225.3L90.1,224.5L89.7,223.6L90.1,223.1L90.6,223.1L91.1,222.9L92.1,221.6L93.2,221.1L93.4,220.6L93.1,220.2L92.6,220.2L92.1,219.6L92.2,218.6L92.7,217.6L93.1,216.1L93.6,215.0L94.6,213.8L95.5,213.1L94.6,211.7L94.1,211.6L93.1,211.9L90.9,213.6L89.6,215.5L89.1,215.9L88.4,216.1L88.3,215.1L88.6,214.6L89.5,213.6L89.6,213.1L89.5,211.6L90.2,210.6L90.1,210.1L88.7,207.6L87.4,206.1L86.9,205.1L86.9,204.1L87.1,203.1L86.8,202.1L87.0,200.6L86.6,199.3L85.1,200.4L82.6,200.7L82.1,200.5L81.1,199.2L80.1,198.5L79.7,198.1L79.6,197.1L79.7,196.6L80.4,195.6L80.1,195.1L79.1,195.2L78.6,195.0L78.2,194.6L77.0,191.6L77.1,189.6L77.0,189.1L75.2,186.6L75.0,186.1L75.0,185.6L75.6,184.6L76.6,184.0L77.6,183.9L79.1,184.4L80.2,185.6L80.9,187.1L81.6,187.6L81.8,188.1L81.5,189.1L81.5,189.6L81.6,190.1L82.1,190.6L82.6,190.6L83.1,190.3L83.3,189.6L83.4,188.1L84.1,187.3L84.6,187.0L85.1,187.1L86.1,187.8L86.6,187.9L87.4,187.6L87.4,186.6L87.6,186.2L88.1,186.2L88.5,186.6L87.9,187.6L88.3,188.1L88.6,188.2L90.6,188.6L94.1,188.6L95.0,189.1L95.6,189.7L96.1,189.9L97.6,189.4L98.6,188.6L99.3,187.6L100.5,185.1L101.1,184.4L102.5,183.6ZM86.5,189.6L86.1,190.0L86.0,190.6L86.1,191.1L86.5,191.6L87.6,192.1L88.1,192.1L88.6,191.8L89.0,191.1L89.0,190.6L88.6,190.0L87.6,189.4L87.1,189.3ZM87.0,196.6L86.6,197.1L86.5,197.6L86.6,198.4L87.1,198.6L88.1,197.9L88.5,197.1L88.4,196.6L88.1,196.2L87.6,196.2ZM96.1,213.6L96.9,214.6L97.6,215.2L98.1,215.3L99.1,215.1L99.6,215.2L100.6,215.9L101.1,215.9L102.0,215.6L101.9,215.1L101.6,214.9L100.6,213.9L99.6,213.8L98.1,213.2ZM98.5,217.1L98.3,217.6L99.0,219.1L99.0,222.6L99.4,224.1L99.6,224.4L100.1,224.5L100.9,224.1L101.6,222.6L101.5,222.1L100.7,221.6L100.4,221.1L100.7,220.1L101.3,219.1L101.3,218.6L99.6,217.3L99.1,217.0ZM102.4,222.1L101.7,222.6L102.6,222.9L103.2,222.6L102.9,222.1ZM40.6,209.0L41.7,210.1L41.4,210.6L40.6,210.7L40.1,210.3L39.9,209.6L40.1,209.3ZM44.1,209.1L45.1,209.1L46.1,209.5L46.6,210.2L46.8,211.1L46.8,212.6L46.5,213.6L46.0,214.6L45.6,214.9L45.1,215.0L44.1,214.6L43.0,213.6L42.4,212.6L41.8,210.6L42.3,210.1ZM56.1,225.3L56.6,225.3L57.6,225.7L59.1,226.7L60.1,227.9L60.7,229.1L61.1,230.6L60.8,231.6L60.1,232.3L59.1,232.9L57.6,233.2L56.6,232.8L55.8,232.1L55.3,231.1L54.9,229.6L54.9,228.1L55.6,225.8ZM16.1,242.5L19.1,242.7L19.8,243.1L20.3,243.6L20.6,244.6L20.5,247.6L16.1,247.6Z" fill="#bfced4"/>
<path d="M16.1,167.0L17.6,167.2L19.0,168.1L19.8,169.1L19.6,169.5L18.6,169.5L16.1,169.0ZM34.1,168.3L35.1,168.2L36.1,168.7L36.7,169.6L36.8,170.6L36.6,171.1L36.0,171.6L34.6,172.2L33.6,172.3L33.0,172.1L32.7,171.6L32.7,170.1L33.1,169.1ZM31.6,173.0L31.9,173.6L31.6,174.0L31.1,174.1L30.6,174.1L30.7,173.6L31.1,173.1ZM37.6,175.0L38.6,174.8L39.1,175.0L39.7,175.6L40.4,176.6L40.8,178.6L41.1,178.8L42.6,179.1L44.6,178.7L45.1,178.9L47.1,180.9L47.5,181.6L47.6,182.1L47.3,183.1L46.0,184.6L45.4,188.1L45.1,188.5L43.6,188.6L43.3,189.1L43.1,191.6L42.6,192.1L41.3,192.6L41.1,193.6L39.2,195.1L39.3,196.1L39.1,196.3L37.1,197.2L36.4,198.1L36.6,198.6L38.1,198.7L38.6,199.0L39.1,200.6L39.8,202.1L39.6,203.0L38.7,204.1L37.6,204.8L37.1,205.6L37.6,207.1L37.6,207.6L37.0,209.1L35.6,211.1L35.9,212.6L35.6,216.6L36.4,218.1L37.8,220.1L42.1,224.1L45.1,226.4L45.9,227.6L46.8,231.6L48.5,237.1L48.8,238.6L48.8,239.1L48.6,239.3L48.1,239.4L47.1,239.2L44.6,238.5L42.6,237.6L40.6,236.3L39.1,234.9L36.6,231.9L35.5,231.1L32.9,229.6L31.6,228.5L30.6,227.1L29.1,223.8L27.9,222.1L23.6,219.3L20.5,218.1L18.7,217.1L16.9,215.6L16.5,215.1L16.4,214.6L16.6,213.7L17.1,213.2L19.1,212.6L19.5,212.1L19.3,210.1L17.9,207.6L17.7,206.6L17.9,205.6L19.1,202.5L19.5,200.6L19.1,197.1L18.5,194.6L18.6,193.3L18.9,192.6L19.6,192.0L21.1,191.4L22.6,191.3L23.1,191.1L22.7,190.1L22.6,189.6L22.8,189.1L23.5,188.1L23.6,187.6L22.9,185.6L22.8,184.1L23.1,183.3L24.1,182.3L24.6,181.6L24.6,181.1L24.4,180.1L24.5,179.6L25.1,178.9L26.1,178.8L27.1,178.5L28.1,179.6L28.6,179.7L29.5,179.6L29.7,179.1L29.5,177.6L29.6,176.1L30.1,175.4L31.1,175.9L32.1,176.7L33.6,177.1L34.8,176.1ZM34.9,179.6L34.2,180.1L34.1,180.6L34.2,183.1L34.6,183.9L35.9,183.6L36.0,182.6L37.4,181.6L38.0,180.6L38.0,180.1L37.8,179.6L37.1,179.2L36.1,179.2ZM30.9,180.1L30.6,180.6L31.6,181.9L32.1,183.0L32.6,183.0L33.2,182.6L33.3,182.1L32.7,181.1L31.6,180.2ZM39.5,186.1L39.4,186.6L39.6,186.8L40.1,187.0L40.6,187.0L41.3,186.6L41.0,186.1L40.6,185.8L40.1,185.7ZM25.3,187.6L24.9,188.1L25.1,188.2L25.6,188.5L26.7,188.6L26.6,188.0L26.1,187.4ZM35.5,187.6L35.1,188.1L35.2,188.6L35.6,188.8L36.1,188.8L36.6,188.6L36.6,188.1L36.2,187.6ZM32.0,188.6L32.1,188.9L32.6,188.8L32.7,188.6L32.1,188.2ZM37.6,189.1L37.2,189.6L37.3,190.1L37.6,190.4L38.6,190.9L39.1,191.0L39.6,190.6L39.6,190.1L39.1,189.6L38.2,189.1ZM77.1,184.5L77.6,184.4L78.6,184.7L79.5,185.6L79.9,186.6L80.0,188.1L80.6,189.1L80.9,190.6L81.1,191.1L82.6,191.3L83.1,191.1L83.5,190.6L84.6,188.2L85.1,188.0L86.1,188.6L86.1,189.1L85.8,189.6L85.7,190.1L85.8,191.1L86.6,191.9L87.6,192.5L88.1,192.5L88.6,192.1L89.3,191.1L89.3,190.6L89.0,190.1L88.1,189.1L88.6,188.8L89.6,188.9L90.6,189.3L91.6,189.2L93.6,189.9L94.1,190.4L94.7,191.6L95.1,192.9L95.6,193.0L96.5,192.6L97.1,191.9L97.6,191.7L99.6,191.8L101.1,191.2L101.9,190.6L103.4,188.1L104.1,187.5L105.1,187.3L105.6,187.5L106.1,187.9L106.6,188.7L106.9,189.6L107.1,191.6L106.7,193.1L105.1,196.8L104.7,199.1L105.0,200.6L106.8,205.1L107.0,206.1L107.0,207.1L106.7,208.1L106.1,209.1L102.9,213.1L102.1,213.4L100.6,212.8L98.6,212.7L96.6,212.9L95.8,212.6L95.4,212.1L95.2,211.6L95.3,210.6L95.1,210.3L94.6,210.3L93.8,211.1L93.1,211.2L92.7,211.1L91.8,210.1L91.3,209.1L90.6,206.9L89.4,205.6L88.6,204.3L87.6,201.5L87.4,199.6L87.5,199.1L88.4,198.1L88.6,197.6L88.7,196.6L88.4,196.1L88.1,195.9L87.6,196.0L86.7,196.6L86.2,197.6L86.0,199.1L85.1,199.9L84.1,200.0L82.6,200.0L82.1,199.7L80.5,198.1L80.2,197.6L80.4,196.6L81.7,195.1L81.4,193.1L81.1,192.9L80.4,194.1L79.6,194.5L79.1,194.5L78.6,194.1L78.1,193.4L77.5,191.6L77.9,189.6L77.6,189.1L77.1,188.7L76.1,187.6L75.6,186.6L75.5,186.1L76.0,185.1ZM91.7,192.1L91.5,192.6L91.6,193.6L92.1,194.5L92.6,194.6L92.8,194.1L92.7,192.1L92.1,191.9ZM94.6,214.0L95.1,213.8L95.6,213.9L98.1,216.0L99.1,215.9L99.3,216.1L99.1,216.2L98.6,216.1L98.1,216.6L98.0,217.1L98.1,217.9L98.7,219.1L98.5,223.1L97.6,224.1L97.4,225.1L97.1,225.6L94.9,227.1L92.3,230.1L90.1,232.0L89.1,232.4L88.6,232.4L88.2,232.1L88.0,231.6L88.0,230.6L88.4,229.6L90.2,226.6L90.9,224.1L92.0,223.1L92.6,222.1L93.1,221.7L93.6,221.1L93.7,220.6L93.6,219.9L92.6,219.6L92.4,219.1L92.4,218.6L92.9,217.6L93.1,216.1L93.6,215.2ZM101.6,220.0L102.1,219.9L102.3,220.1L102.1,220.4L101.6,220.6ZM16.6,245.3L17.5,246.1L17.7,246.6L17.8,247.6L16.1,247.6L16.1,245.2Z" fill="#9bbcc7"/>
<path d="M34.6,168.8L35.1,168.8L35.8,169.1L36.2,169.6L36.4,170.6L36.2,171.1L35.6,171.6L34.6,171.9L34.1,171.8L33.7,171.6L33.4,170.6L33.7,169.6L34.1,169.1ZM36.6,175.5L38.1,175.1L38.6,175.2L39.1,175.5L39.6,176.1L40.0,177.1L39.9,178.6L39.9,179.1L40.1,179.3L41.1,180.1L42.1,181.5L42.6,182.0L43.6,181.7L44.0,182.1L43.8,182.6L42.6,183.2L42.1,183.6L41.2,185.1L39.6,185.6L39.1,186.2L39.2,187.1L39.6,187.3L40.6,187.4L42.1,187.3L43.1,187.3L43.2,187.1L44.1,186.5L44.6,186.9L44.6,187.6L44.1,187.7L43.1,187.6L42.9,188.1L42.5,189.6L42.1,190.1L41.6,190.4L41.1,190.4L40.0,189.6L38.6,188.8L37.2,188.6L36.6,187.6L36.1,187.3L35.6,187.3L35.1,187.6L34.8,188.1L34.8,188.6L35.1,189.2L36.6,189.3L37.3,190.6L39.6,192.5L39.8,193.1L39.8,193.6L39.1,194.0L38.6,193.7L38.1,192.7L37.6,192.6L37.1,193.1L37.1,194.1L37.6,195.6L37.6,196.1L35.4,198.6L35.7,199.1L37.6,199.7L38.0,200.6L38.1,201.1L37.7,201.6L37.0,202.1L36.9,204.1L35.3,205.6L34.6,207.0L34.1,207.5L33.6,207.7L33.1,207.7L32.1,206.9L31.6,206.7L31.1,206.7L30.8,207.1L31.3,208.6L31.2,210.1L32.6,211.4L32.9,212.1L32.0,214.1L31.6,214.5L28.6,217.3L28.1,217.5L27.6,217.6L25.6,216.7L25.1,216.4L24.0,213.6L23.8,212.1L24.3,210.1L24.1,208.6L24.2,206.6L24.1,206.1L23.3,205.1L23.2,204.6L23.5,202.6L22.6,202.0L22.2,201.6L22.1,201.2L22.7,198.6L23.1,198.2L24.6,198.1L25.2,197.6L25.1,197.1L24.6,196.5L23.6,197.3L22.6,197.6L22.0,197.1L22.3,196.6L23.5,195.6L24.4,193.6L24.6,191.6L25.1,190.1L25.5,189.6L26.1,189.4L27.6,190.1L28.6,190.3L29.1,190.2L29.3,190.1L27.4,188.1L26.6,186.6L25.1,186.4L24.6,186.1L24.5,185.6L25.0,184.6L24.9,183.6L25.6,182.1L26.1,181.5L26.6,181.2L29.1,180.9L29.6,181.0L31.1,181.9L31.6,183.1L32.1,183.6L33.1,183.2L33.6,183.2L34.1,184.3L34.6,184.4L36.2,184.1L36.6,183.6L36.7,182.6L37.6,181.6L38.4,180.1L38.3,179.6L38.1,179.4L37.4,179.1L35.6,178.8L35.3,178.6L35.1,178.1L35.0,177.1L35.2,176.6L35.7,176.1ZM31.6,187.6L31.6,189.1L32.0,189.6L32.6,189.5L33.3,189.1L33.3,188.6L33.0,188.1L32.1,187.3ZM30.3,191.1L30.1,191.6L30.2,192.1L31.1,193.0L31.4,192.6L31.5,191.6L31.1,190.9L30.6,190.9ZM27.1,193.4L26.0,194.1L25.8,194.6L26.0,195.1L26.5,195.6L27.3,196.1L27.7,197.1L28.1,197.3L28.6,197.2L28.9,195.1L28.7,194.6L27.6,193.4ZM29.4,198.6L29.2,200.1L29.6,200.5L30.6,200.1L30.8,199.6L30.1,198.6L29.6,198.4ZM76.6,185.1L77.6,184.8L78.5,185.1L79.1,185.6L79.3,186.1L79.4,186.6L79.3,187.6L79.1,188.1L78.6,188.5L77.6,188.5L77.1,188.3L76.1,187.1L75.9,186.1L76.1,185.6ZM79.1,189.3L79.6,189.2L80.1,189.7L80.6,192.1L80.1,193.5L79.6,193.9L79.1,193.9L78.6,193.5L77.9,192.1L77.8,191.6L78.1,190.6L78.6,189.7ZM84.6,190.0L85.1,190.1L85.4,191.1L85.8,191.6L87.2,192.6L87.6,193.1L88.3,194.1L88.6,195.1L88.3,195.6L87.1,196.1L86.4,196.6L85.9,197.6L85.8,198.6L85.6,199.1L85.1,199.5L84.6,199.6L83.1,199.6L82.6,199.5L82.0,199.1L80.8,197.6L80.8,197.1L81.3,196.1L82.7,195.1L82.6,194.6L82.1,194.1L82.1,192.6L82.2,192.1L83.2,191.6ZM90.1,190.0L91.6,189.7L92.4,190.1L92.7,190.6L92.5,191.1L91.6,191.5L91.1,192.1L91.0,193.6L90.6,195.0L90.5,194.6L89.1,194.0L88.7,193.6L88.5,193.1L88.6,192.6L89.4,191.6L89.7,190.6ZM96.1,194.8L96.9,195.1L97.0,195.6L96.6,195.8L96.1,195.9L95.6,195.6L95.8,195.1ZM90.6,195.1L91.1,195.1L91.6,195.4L92.1,195.6L94.0,195.6L94.5,196.1L94.5,198.1L93.9,199.1L93.5,200.6L93.1,200.9L92.6,201.0L92.1,200.9L90.3,199.1L89.1,198.5L88.9,198.1L89.1,196.1L90.3,195.6ZM101.6,202.5L103.1,202.9L104.0,203.6L104.4,204.1L105.0,205.6L104.9,206.6L104.6,207.4L102.6,209.8L101.6,210.7L101.1,210.8L100.1,210.7L99.6,210.8L98.0,212.1L97.1,212.3L96.6,212.3L96.2,212.1L96.1,211.8L96.4,210.6L96.1,210.1L95.1,209.3L92.5,208.6L92.4,208.1L92.6,205.1L93.1,204.8L95.1,204.3L96.6,204.7L97.1,204.6L98.1,204.1L99.6,203.0L100.6,202.6ZM35.6,207.8L36.1,208.0L36.1,208.6L35.6,209.2L35.2,209.1L35.0,208.6L35.2,208.1ZM94.6,214.2L95.1,214.1L95.6,214.2L97.1,215.3L97.7,216.1L97.8,217.6L98.4,219.1L98.4,221.1L98.1,222.4L97.3,223.6L97.0,225.1L96.6,225.6L95.6,226.0L94.3,227.1L92.3,229.6L90.6,231.1L89.6,231.7L89.1,231.8L88.7,231.6L88.5,231.1L88.8,229.6L90.6,226.6L91.2,224.6L92.6,223.1L93.6,221.5L94.0,220.6L94.0,220.1L93.7,219.6L93.1,219.4L92.7,219.1L92.7,218.6L93.1,217.6L93.3,216.1L94.1,214.7ZM34.6,222.3L36.1,222.2L37.6,222.8L38.6,223.5L43.6,228.2L44.5,230.1L45.1,232.6L45.1,234.1L45.0,234.6L44.6,235.1L44.1,235.3L43.1,235.3L41.4,234.6L40.1,233.4L37.6,230.2L36.6,229.5L34.6,228.4L33.5,227.6L33.1,227.0L32.7,226.1L32.7,224.6L33.2,223.6L34.1,222.6Z" fill="#76a9bf"/>
<path d="M34.6,169.3L35.1,169.2L35.6,169.4L36.1,170.1L36.1,170.6L35.9,171.1L35.1,171.6L34.5,171.6L34.0,171.1L33.9,170.1ZM37.1,175.5L38.1,175.4L38.6,175.5L39.2,176.1L39.4,176.6L39.6,177.6L39.1,178.8L38.6,179.0L36.6,178.7L36.1,178.5L35.6,178.1L35.5,177.1L35.7,176.6L36.1,176.1ZM39.6,180.0L40.1,180.2L41.0,181.1L41.3,181.6L41.5,182.6L41.4,183.1L40.5,184.6L39.1,185.6L38.8,187.1L39.1,187.7L40.1,187.8L41.6,188.4L41.9,189.1L41.6,189.5L41.1,189.6L39.1,188.4L38.6,188.3L37.6,188.4L36.6,187.3L36.1,187.0L35.1,187.4L34.1,188.4L33.1,187.8L32.1,186.7L31.6,186.8L31.1,187.6L31.2,189.6L31.5,190.1L31.1,190.3L30.6,190.2L30.0,189.6L28.6,188.9L27.9,188.1L27.5,186.6L27.9,185.1L27.6,184.3L26.7,183.6L26.5,183.1L26.6,182.9L27.6,182.7L28.6,182.0L29.1,181.9L30.1,182.0L30.6,182.1L31.0,182.6L31.6,184.1L32.1,184.4L32.4,184.1L33.1,183.7L33.4,184.1L33.3,184.6L33.6,184.8L34.1,184.8L37.1,184.1L37.0,183.1L37.2,182.6L38.6,180.6L39.1,180.1ZM76.6,185.5L77.1,185.2L77.6,185.1L78.1,185.2L78.6,185.6L79.1,186.6L79.1,187.1L78.6,187.8L77.6,188.1L77.1,187.9L76.6,187.5L76.2,186.6L76.2,186.1ZM33.6,190.9L36.1,189.8L36.5,190.1L37.8,191.6L37.6,192.1L37.0,192.6L36.7,193.6L36.7,194.6L37.0,195.6L36.9,196.1L35.6,197.6L35.1,198.0L34.6,198.0L34.1,197.6L34.1,196.1L33.8,195.6L33.1,195.1L31.6,194.8L31.4,194.6L32.0,193.1L32.1,191.6L32.0,191.1L31.7,190.6L32.1,190.2L32.6,190.1ZM79.1,190.0L79.6,190.0L79.9,190.6L80.2,192.1L79.8,193.1L79.6,193.3L79.1,193.3L78.6,193.0L78.3,192.6L78.1,191.6L78.5,190.6ZM26.1,190.5L26.8,190.6L27.1,191.1L27.2,191.6L27.2,192.1L26.9,192.6L26.1,193.1L25.6,192.9L25.4,192.6L25.4,192.1ZM90.6,190.5L91.1,190.3L91.6,190.3L91.8,190.6L91.6,191.1L90.8,191.6L90.6,192.1L90.6,193.1L90.1,193.7L89.6,193.6L89.0,193.1L89.0,192.6ZM84.6,190.9L87.1,192.9L88.0,194.6L88.1,195.1L87.7,195.6L86.7,196.1L86.2,196.6L85.6,197.6L85.5,198.6L85.1,199.1L84.6,199.3L83.1,199.2L82.6,199.1L81.9,198.6L81.3,197.6L81.2,197.1L81.3,196.6L81.8,196.1L82.6,195.6L84.1,195.1L84.6,194.6L84.1,194.0L83.1,193.9L82.6,193.7L82.5,193.1L82.7,192.6ZM28.6,191.9L29.1,191.6L29.6,192.0L30.2,193.1L30.1,194.0L29.6,194.3L28.6,193.6L28.2,193.1L28.2,192.6ZM89.6,196.5L90.6,196.3L92.6,196.2L93.2,196.6L93.0,197.1L91.1,198.3L90.6,198.2L89.6,197.8L89.4,197.1ZM31.6,196.8L32.1,196.9L32.6,197.3L33.2,198.1L33.6,199.1L34.9,200.1L36.2,202.6L36.1,203.7L34.9,205.1L34.1,206.2L33.6,206.6L33.1,206.4L32.6,205.7L31.6,205.1L32.1,204.8L32.5,204.1L32.1,203.1L31.6,203.2L30.6,203.9L30.1,203.9L29.6,203.6L29.3,203.1L29.4,202.1L29.7,201.6L30.6,201.0L31.1,201.5L31.6,202.5L32.1,203.0L32.6,202.1L32.6,201.1L31.7,199.6L30.6,198.1L30.7,197.6ZM27.1,198.3L27.9,198.6L28.2,199.1L28.1,199.5L27.6,199.7L26.6,199.5L25.9,200.1L25.6,200.7L25.1,199.6L25.4,199.1ZM28.6,205.0L29.1,204.8L30.0,205.1L29.5,206.1L29.5,207.6L29.1,207.7L28.1,207.2L27.6,207.5L27.1,208.4L26.6,208.5L26.4,207.6L26.7,206.1L28.1,205.4ZM94.6,214.4L95.1,214.3L96.1,214.8L97.1,215.6L97.5,216.1L97.6,217.6L98.2,219.1L98.2,220.6L98.1,221.6L97.7,222.6L96.9,223.6L96.6,225.1L95.1,225.8L93.9,227.1L92.1,229.3L90.6,230.7L89.6,231.2L89.1,231.1L88.9,230.6L89.1,229.6L90.9,226.6L91.3,225.1L91.6,224.5L92.6,223.7L93.1,223.1L94.1,220.8L94.2,220.1L94.1,219.6L93.2,219.1L93.0,218.6L93.3,217.6L93.4,216.1L94.1,214.8Z" fill="#4f95ba"/>
<path d="M34.6,169.7L35.1,169.6L35.6,169.9L35.8,170.6L35.5,171.1L35.1,171.3L34.4,171.1L34.2,170.6ZM36.6,176.0L37.6,175.6L38.1,175.6L38.8,176.1L39.1,176.6L39.2,177.6L39.0,178.1L38.6,178.5L38.1,178.7L37.1,178.6L36.0,178.1L35.8,177.6L35.8,177.1L36.0,176.6ZM38.6,181.0L39.1,180.7L39.6,180.7L40.1,180.9L40.6,181.4L40.9,182.1L40.9,183.1L40.7,183.6L39.9,184.6L39.1,184.9L38.6,184.7L37.6,183.7L37.3,183.1L37.5,182.6ZM28.6,183.5L29.1,183.2L30.1,183.3L30.6,183.7L31.8,185.6L31.8,186.1L31.0,187.1L30.6,188.8L30.1,189.0L29.1,188.8L28.6,188.4L28.1,187.6L28.0,186.6L28.4,185.1L28.3,184.1ZM33.1,185.5L35.6,184.6L36.6,184.6L38.5,185.1L38.7,185.6L38.6,186.1L38.4,187.6L38.1,188.0L37.6,188.0L36.6,187.0L36.1,186.8L35.3,187.1L34.1,187.8L33.6,187.7L33.1,187.4L32.6,186.6L32.6,186.1ZM77.1,185.5L77.6,185.4L78.1,185.5L78.6,186.1L78.8,186.6L78.7,187.1L78.1,187.7L77.6,187.8L77.1,187.6L76.6,187.1L76.5,186.6L76.6,186.1ZM35.1,190.5L36.1,190.4L37.0,191.1L37.3,191.6L36.5,193.1L36.1,194.4L35.1,194.5L34.1,194.8L32.6,194.3L32.4,194.1L32.6,192.4L32.9,192.1L33.6,191.6L34.1,191.1ZM78.6,191.0L79.1,190.6L79.6,190.8L79.8,192.1L79.6,192.7L79.1,192.8L78.6,192.4L78.5,191.6ZM83.6,192.5L84.6,192.2L85.6,192.2L86.1,192.4L86.8,193.1L87.6,194.6L87.7,195.1L87.3,195.6L86.1,196.2L85.3,197.6L85.2,198.6L84.6,199.0L82.6,198.7L81.9,198.1L81.6,197.1L81.7,196.6L82.1,196.2L84.1,195.4L85.2,194.6L84.8,194.1L83.6,193.6L83.1,193.1ZM36.1,195.0L36.3,195.6L36.3,196.1L35.6,197.0L35.1,197.4L34.7,197.1L34.8,196.1L35.1,195.6ZM34.1,200.5L34.6,201.0L35.2,202.1L35.4,202.6L35.1,203.1L34.1,202.7L33.6,202.1L33.5,201.1L33.6,200.6ZM95.1,214.5L96.6,215.3L97.3,216.1L98.0,219.6L97.9,221.6L97.4,222.6L96.6,223.6L96.1,224.8L95.1,225.3L91.6,229.4L90.1,230.6L89.6,230.7L89.3,230.1L89.5,229.6L91.1,226.6L91.6,225.1L91.9,224.6L93.1,223.6L93.9,222.1L94.4,220.1L94.2,219.6L93.3,218.6L93.4,216.6L93.6,215.8L94.1,215.0L94.6,214.6Z" fill="#2f80bb"/>
<path d="M37.1,175.9L38.1,175.9L38.8,176.6L38.9,177.6L38.6,178.1L38.1,178.4L37.6,178.4L36.4,178.1L36.1,177.6L36.1,177.1L36.3,176.6ZM38.6,181.5L39.1,181.1L39.6,181.1L40.1,181.4L40.5,182.1L40.5,183.1L40.1,183.8L39.6,184.3L39.1,184.4L38.6,184.1L37.9,183.6L37.7,183.1L37.9,182.6ZM29.1,184.2L29.6,184.1L30.1,184.3L31.3,185.6L31.3,186.1L30.7,187.1L30.4,188.1L30.1,188.5L29.6,188.6L29.1,188.5L28.7,188.1L28.4,187.1L28.4,186.1ZM35.1,185.0L36.6,184.8L38.1,185.4L38.4,186.1L38.1,187.1L37.6,187.6L36.6,186.7L36.1,186.6L34.1,187.5L33.6,187.4L33.2,187.1L32.9,186.6L33.1,186.1L33.8,185.6ZM77.1,185.9L77.6,185.7L78.2,186.1L78.4,186.6L78.1,187.3L77.6,187.4L77.0,187.1L76.8,186.6ZM34.6,191.0L35.1,190.8L36.1,190.9L36.7,191.6L36.1,193.2L35.6,193.8L34.6,193.5L34.0,193.1L33.7,192.6L34.1,191.6ZM84.4,193.1L85.6,192.7L86.1,192.9L86.6,193.5L86.6,193.9L86.1,194.0L85.1,193.8L84.6,193.6ZM86.6,194.1L87.1,194.5L87.3,195.1L86.6,195.5L86.1,195.7L85.2,197.1L84.7,198.6L84.1,198.7L83.1,198.5L82.4,198.1L82.0,197.6L82.0,197.1L82.2,196.6L85.1,195.2L85.9,195.1L86.4,194.6ZM94.6,214.8L95.1,214.7L96.1,215.2L97.1,216.1L97.3,216.6L97.8,220.1L97.7,221.6L95.6,224.5L94.9,225.1L94.3,226.1L92.1,228.6L91.1,229.5L90.1,230.1L89.9,229.6L90.0,229.1L91.2,227.1L91.8,225.1L93.3,223.6L94.1,222.1L94.5,220.1L94.4,219.6L93.5,218.6L93.5,216.6L93.6,216.1L93.9,215.6Z" fill="#116abd"/>
<path d="M37.6,176.0L38.1,176.2L38.5,176.6L38.7,177.1L38.6,177.6L38.2,178.1L37.6,178.2L37.0,178.1L36.6,177.8L36.4,177.1L36.6,176.6L37.1,176.2ZM39.1,181.5L39.6,181.6L40.1,182.1L40.2,182.6L40.2,183.1L39.9,183.6L39.6,183.9L39.1,183.9L38.4,183.6L38.1,183.1L38.5,182.1ZM29.1,185.0L29.6,184.7L30.1,184.8L30.9,185.6L30.9,186.1L30.1,187.9L29.6,188.2L29.1,188.1L28.7,187.1L28.8,186.1ZM35.6,185.0L36.5,185.1L37.7,185.6L38.1,186.1L37.6,187.0L36.6,186.3L36.1,186.3L34.1,187.2L33.6,187.0L33.3,186.6L33.5,186.1ZM77.6,186.2L78.0,186.6L77.6,187.0L77.2,186.6ZM34.6,191.4L35.1,191.1L35.6,191.2L36.1,191.6L36.1,192.3L35.6,193.1L35.1,193.1L34.3,192.6L34.2,192.1ZM84.3,196.1L85.1,195.7L85.4,196.1L85.1,196.6L84.6,196.9L84.1,196.6ZM82.6,196.8L83.1,196.6L83.6,197.1L83.6,197.6L83.1,197.8L82.6,197.6L82.5,197.1ZM94.6,215.0L95.1,215.0L96.1,215.3L97.0,216.1L97.2,216.6L97.7,221.1L97.1,222.3L94.6,225.0L94.0,226.1L91.6,228.7L91.1,229.1L90.6,229.2L90.6,228.6L91.5,227.1L92.1,225.1L93.6,223.6L94.3,222.1L94.7,220.1L94.6,219.5L93.7,218.6L93.7,216.6L94.1,215.6Z" fill="#1853a9"/>
<path d="M37.1,176.5L37.6,176.3L38.2,176.6L38.4,177.1L38.1,177.7L37.6,177.9L37.1,177.8L36.8,177.6L36.7,177.1ZM39.1,182.0L39.6,182.1L39.8,182.6L39.6,183.3L39.1,183.5L38.5,183.1L38.6,182.6ZM29.6,185.3L30.3,185.6L30.5,186.1L30.1,187.0L29.6,187.7L29.1,187.1L29.1,186.6L29.1,186.1ZM35.1,185.5L36.1,185.4L36.6,185.6L36.0,186.1L34.6,186.7L34.1,186.8L33.8,186.6L34.0,186.1ZM35.1,191.5L35.7,192.1L35.1,192.6L34.6,192.1ZM94.6,215.3L95.6,215.3L96.1,215.5L96.8,216.1L97.1,217.1L97.5,221.1L97.1,222.1L94.6,224.6L93.7,226.1L92.1,227.4L91.9,227.1L92.1,225.4L92.3,225.1L93.6,224.0L94.4,222.6L94.5,222.1L94.8,219.6L94.0,218.6L93.8,218.1L94.0,216.1Z" fill="#283c91"/>
<path d="M37.1,177.0L37.6,176.7L38.0,177.1L37.6,177.6L37.1,177.2ZM95.1,215.4L96.1,215.6L96.6,216.0L96.9,216.6L97.4,221.1L96.6,222.4L95.7,223.1L94.2,224.6L93.6,225.9L92.6,226.7L92.4,226.6L92.2,226.1L92.3,225.6L92.6,225.0L94.0,224.1L94.7,222.6L94.9,219.6L94.2,218.6L94.0,218.1L94.0,216.6L94.2,216.1L94.6,215.6Z" fill="#202c6a"/>
<path d="M94.6,215.9L95.1,215.7L96.1,215.8L96.6,216.2L96.9,217.1L96.9,219.1L97.2,221.1L96.6,222.2L95.6,222.8L95.1,222.8L94.9,221.6L95.1,219.6L94.1,218.1L94.2,216.6ZM93.1,225.0L93.6,225.1L93.5,225.6L93.1,226.1L92.6,226.1L92.5,225.6Z" fill="#171c42"/>
<g clip-path="url(#h10)"><use href="#hl" x="66.1" y="197.55" fill="none" stroke="#484848" stroke-width="0.46" opacity="0.88"/></g>
<use href="#land" x="66.1" y="197.55" fill="#fff" fill-rule="evenodd" stroke="#454545" stroke-width="0.6" stroke-linejoin="round"/>
<use href="#grat" x="66.1" y="197.55"/>
</g>
<circle cx="66.1" cy="197.55" r="48.5" fill="none" stroke="#3a3a3a" stroke-width="0.5"/>
<text x="66.1" y="146.95000000000002" font-size="4.66" text-anchor="middle">(b) Δ<tspan font-style="italic">θ</tspan>(SST; <tspan font-style="italic">ϕ</tspan><tspan font-size="3.4" dy="1.1">DJF</tspan><tspan dy="-1.1">, pentad = 2)</tspan></text>
<text x="31.75" y="155.35" font-size="5.2" text-anchor="middle">120°E</text>
<text x="117.70" y="190.35" font-size="5.2" text-anchor="middle">0°</text>
<text x="100.60" y="242.55" font-size="5.2" text-anchor="middle">60°W</text>
<text x="50.00" y="250.40" font-size="5.2" text-anchor="middle">120°W</text>
<text x="11.25" y="207.45" font-size="5.2" text-anchor="middle">20°N</text>
<rect x="123.90" y="238.17" width="6.3" height="4.63" fill="#202c6a"/><rect x="123.90" y="233.69" width="6.3" height="4.63" fill="#283c91"/><rect x="123.90" y="229.21" width="6.3" height="4.63" fill="#1853a9"/><rect x="123.90" y="224.73" width="6.3" height="4.63" fill="#116abd"/><rect x="123.90" y="220.25" width="6.3" height="4.63" fill="#2f80bb"/><rect x="123.90" y="215.77" width="6.3" height="4.63" fill="#4f95ba"/><rect x="123.90" y="211.29" width="6.3" height="4.63" fill="#76a9bf"/><rect x="123.90" y="206.81" width="6.3" height="4.63" fill="#9bbcc7"/><rect x="123.90" y="202.33" width="6.3" height="4.63" fill="#bfced4"/><rect x="123.90" y="197.85" width="6.3" height="4.63" fill="#e1e3e5"/><rect x="123.90" y="193.37" width="6.3" height="4.63" fill="#ede1dd"/><rect x="123.90" y="188.89" width="6.3" height="4.63" fill="#e1c3b9"/><rect x="123.90" y="184.41" width="6.3" height="4.63" fill="#d8a796"/><rect x="123.90" y="179.93" width="6.3" height="4.63" fill="#cf8a73"/><rect x="123.90" y="175.45" width="6.3" height="4.63" fill="#c66d51"/><rect x="123.90" y="170.97" width="6.3" height="4.63" fill="#bb4f3a"/><rect x="123.90" y="166.49" width="6.3" height="4.63" fill="#ae3127"/><rect x="123.90" y="162.01" width="6.3" height="4.63" fill="#961f26"/><rect x="123.90" y="157.53" width="6.3" height="4.63" fill="#7a0f28"/><rect x="123.90" y="153.05" width="6.3" height="4.63" fill="#5b0c1d"/><path d="M123.90,153.05L127.05,148.60L130.20,153.05Z" fill="#3c0911"/><path d="M123.90,242.65L127.05,247.10L130.20,242.65Z" fill="#171c42"/><path d="M123.90,153.05L127.05,148.60L130.20,153.05L130.20,242.65L127.05,247.10L123.90,242.65Z" fill="none" stroke="#222" stroke-width="0.25"/><path d="M130.20,157.53h1.2" stroke="#222" stroke-width="0.3"/><text x="131.95" y="159.03" font-size="4.05">0.9</text><path d="M130.20,170.97h1.2" stroke="#222" stroke-width="0.3"/><text x="131.95" y="172.47" font-size="4.05">0.6</text><path d="M130.20,184.41h1.2" stroke="#222" stroke-width="0.3"/><text x="131.95" y="185.91" font-size="4.05">0.3</text><path d="M130.20,197.85h1.2" stroke="#222" stroke-width="0.3"/><text x="131.95" y="199.35" font-size="4.05">0.0</text><path d="M130.20,211.29h1.2" stroke="#222" stroke-width="0.3"/><text x="131.95" y="212.79" font-size="4.05">−0.3</text><path d="M130.20,224.73h1.2" stroke="#222" stroke-width="0.3"/><text x="131.95" y="226.23" font-size="4.05">−0.6</text><path d="M130.20,238.17h1.2" stroke="#222" stroke-width="0.3"/><text x="131.95" y="239.67" font-size="4.05">−0.9</text><text transform="translate(147.10,196.95) rotate(-90)" font-size="6.6" text-anchor="middle">[ K ]</text>
<g clip-path="url(#c20)">
<circle cx="66.1" cy="335.7" r="48.5" fill="#e1e3e5"/>
<path d="M16.1,285.7L20.4,285.7L20.6,287.2L21.2,290.2L21.1,292.7L21.6,293.6L23.0,295.2L23.4,296.7L23.2,297.7L22.4,298.7L21.6,299.2L18.5,300.7L17.9,301.2L17.3,302.2L16.9,304.2L16.1,305.1ZM46.4,286.7L47.2,285.7L52.0,285.7L53.1,286.9L54.6,287.5L62.1,288.2L63.6,288.0L67.6,286.5L71.1,286.2L73.3,285.7L88.1,285.7L89.3,287.7L90.6,289.0L92.1,289.8L93.6,290.0L94.6,289.7L95.5,288.7L96.0,287.2L96.2,285.7L116.1,285.7L116.1,296.5L113.1,296.8L112.6,296.6L112.2,295.2L111.7,292.2L111.3,290.7L110.1,288.7L109.6,288.1L109.1,287.8L108.6,288.2L108.1,289.4L107.1,295.2L107.1,296.3L107.7,297.2L109.1,297.6L112.1,297.2L112.6,297.6L112.8,298.2L113.0,299.7L112.7,301.2L112.1,302.2L109.7,304.7L109.2,305.7L109.0,306.7L109.3,308.7L110.3,310.7L111.6,311.9L113.7,313.2L114.4,314.2L114.4,315.2L113.6,320.2L113.3,321.2L112.6,322.0L111.6,322.5L110.6,322.6L109.5,322.2L108.6,321.2L107.4,317.7L106.6,316.2L104.6,313.9L103.6,313.1L102.6,312.5L101.1,312.0L97.6,311.6L94.1,310.5L92.6,310.5L92.0,310.7L91.3,311.2L91.0,311.7L90.9,312.2L92.1,314.4L92.4,315.7L92.5,317.2L92.1,318.8L91.6,319.4L91.1,319.7L89.6,319.9L88.1,320.4L86.6,320.1L86.1,320.2L85.6,320.7L84.2,323.2L84.2,323.7L85.1,323.8L85.6,324.2L85.5,325.2L85.7,326.2L85.6,326.8L85.2,327.2L83.6,327.6L81.6,328.6L81.1,328.4L80.5,327.2L80.3,326.2L80.4,324.7L80.3,323.2L79.9,322.2L79.1,321.4L75.1,319.0L72.6,316.6L71.6,315.9L70.1,315.5L67.1,315.3L65.6,315.0L64.1,314.5L63.2,313.7L63.0,313.2L62.9,312.2L63.1,310.2L63.6,308.2L64.7,305.7L64.9,304.7L64.8,304.2L63.9,303.2L62.6,302.2L61.1,301.3L57.6,300.5L56.6,300.0L56.0,299.2L54.2,296.2L53.1,295.2L52.1,294.7L51.1,294.5L47.6,294.3L46.1,293.9L42.7,292.2L41.3,291.2L40.9,290.7L40.7,290.2L40.9,289.7L41.4,289.2L45.6,287.2ZM98.6,297.7L97.9,298.2L97.6,299.2L98.1,300.4L98.6,300.8L99.1,300.9L99.6,300.7L100.1,300.3L100.5,299.7L100.6,299.2L100.5,298.7L100.1,298.2L99.1,297.7ZM71.8,303.2L71.1,303.7L70.9,304.2L71.0,304.7L71.6,305.1L72.1,305.0L72.6,304.7L73.0,303.7L72.6,303.1ZM83.6,315.2L82.6,316.2L82.0,317.2L81.9,317.7L82.1,318.3L82.6,318.4L83.9,318.2L84.8,317.7L84.9,317.2L84.6,315.0L84.1,314.9ZM39.1,308.0L39.6,307.8L40.6,307.8L41.2,308.2L41.4,308.7L41.3,309.2L40.6,309.6L40.1,309.7L39.1,309.4L38.7,308.7ZM50.1,308.0L51.1,307.8L52.0,308.2L52.2,308.7L52.1,309.2L51.6,309.9L51.1,310.2L50.1,310.3L49.3,309.7L49.2,309.2L49.4,308.7ZM36.6,310.1L37.1,310.3L37.5,310.7L37.8,311.7L37.6,312.2L36.6,312.9L35.6,313.2L35.1,313.2L34.4,312.7L34.2,312.2L34.2,311.2L35.1,310.6ZM16.1,314.2L17.2,315.2L17.3,315.7L17.1,316.2L16.1,316.9ZM55.1,316.1L56.1,315.7L57.6,315.9L58.2,316.2L58.7,316.7L59.1,317.7L58.9,319.2L58.3,320.7L57.1,322.2L56.1,322.6L55.1,322.6L54.1,322.1L53.4,321.2L53.1,320.2L53.0,319.2L53.6,317.7L54.4,316.7ZM36.1,318.1L36.6,317.8L37.1,318.0L37.3,318.2L37.3,318.7L37.1,319.0L36.5,319.2L36.0,318.7ZM68.1,321.1L69.1,321.0L70.1,321.3L72.9,323.7L75.1,324.9L76.3,326.2L76.9,327.2L77.1,327.7L77.0,329.7L77.6,331.2L77.8,332.2L77.4,333.7L77.6,334.2L78.2,334.7L78.6,337.2L79.5,339.2L79.4,339.7L78.6,340.1L76.1,340.3L75.1,340.6L74.2,341.2L73.6,342.0L73.3,343.2L73.3,344.2L74.6,348.6L75.1,349.1L75.6,348.9L76.1,348.2L77.1,347.5L78.1,347.2L79.1,347.3L80.1,347.8L80.8,348.7L81.5,349.2L83.6,349.5L85.6,350.0L86.9,350.7L87.4,351.2L87.3,351.7L86.7,352.2L86.1,352.5L83.1,352.9L80.6,353.5L79.1,353.6L76.6,353.1L76.4,353.2L76.1,353.7L76.2,355.2L76.5,356.2L77.1,357.2L78.1,358.1L79.1,358.5L83.6,359.4L84.6,359.4L85.6,358.7L86.6,357.7L89.1,354.7L90.2,353.2L91.6,351.7L93.6,350.2L94.1,350.0L94.6,350.2L94.5,350.7L92.6,355.2L91.6,356.6L90.6,358.9L89.6,360.3L89.2,361.2L89.0,362.7L88.6,362.8L88.1,363.5L87.6,364.2L86.9,365.7L83.7,369.7L83.1,370.7L82.9,371.2L83.1,371.7L83.7,372.2L85.7,373.2L87.6,373.9L92.7,375.2L93.6,375.7L94.1,376.2L95.0,377.7L96.0,380.7L96.1,382.2L95.8,385.7L53.8,385.7L54.6,383.7L55.2,382.7L56.2,381.7L57.6,380.9L59.1,380.7L62.2,381.2L64.1,381.3L65.6,381.1L66.5,380.7L66.7,380.2L66.1,379.2L63.3,376.7L62.2,375.2L61.7,373.7L61.5,371.7L61.8,369.2L62.6,367.5L63.6,366.7L65.6,366.3L66.1,366.1L66.6,365.2L66.7,363.7L66.1,359.6L65.6,358.5L65.1,358.0L64.5,358.2L63.3,361.2L62.7,362.2L62.1,362.8L61.1,363.3L59.6,363.4L58.1,363.1L56.6,362.2L55.6,361.2L55.0,360.2L54.8,358.7L54.9,357.2L55.7,354.7L55.7,353.7L55.4,352.7L53.5,350.2L52.8,348.7L52.5,347.2L52.3,343.2L51.5,340.2L51.6,339.7L52.3,339.2L53.6,338.9L54.6,339.0L55.6,339.4L61.1,342.3L62.1,342.6L62.6,342.6L63.2,342.2L63.5,341.7L63.6,340.7L63.2,339.7L61.9,337.7L61.8,337.2L63.2,333.7L63.2,330.2L63.3,329.2L64.3,326.7L66.1,323.1L67.1,321.8ZM64.6,348.1L64.4,348.7L64.6,349.7L65.0,349.2L65.1,348.7L64.8,348.2ZM37.6,323.3L38.0,323.7L37.6,324.3L37.2,324.2L37.3,323.7ZM48.1,326.6L48.6,326.7L49.1,327.0L49.4,327.7L49.2,328.2L48.6,328.8L47.9,328.7L47.3,328.2L47.2,327.7L47.3,327.2L47.6,326.9ZM116.1,326.8L116.1,327.2L116.1,331.2L115.3,330.2L115.1,329.2L115.3,327.7ZM53.1,329.6L54.6,329.3L56.1,329.4L57.0,329.7L57.6,330.2L57.8,330.7L57.7,331.2L57.0,333.2L58.1,335.2L58.3,336.2L58.0,336.7L57.1,337.0L56.6,336.9L56.1,336.6L55.6,335.7L55.4,334.2L55.1,334.0L54.1,333.8L50.6,333.9L49.6,333.7L48.7,333.2L48.5,332.7L48.6,332.2L49.5,331.2L51.1,330.3ZM109.1,358.7L110.6,358.8L114.1,359.5L116.1,359.5L116.1,385.1L115.7,385.7L110.5,385.7L110.6,383.2L112.0,379.2L111.9,375.2L112.4,370.2L112.4,368.7L112.1,367.7L111.6,366.7L111.1,366.3L110.1,365.8L109.1,365.8L108.1,366.1L107.1,366.7L106.6,367.3L105.1,370.4L104.3,371.7L103.6,372.4L102.1,373.1L101.1,373.4L100.6,373.3L99.1,372.7L98.6,372.1L97.9,370.2L98.0,369.7L98.4,369.2L99.8,368.7L100.2,368.2L100.0,367.7L99.2,366.7L99.2,366.2L99.6,365.7L102.1,364.7L104.0,363.7L103.9,363.2L103.1,362.8L102.6,362.2L102.3,361.2L102.6,360.7L103.1,360.4L103.6,360.4L104.6,360.9L105.1,360.8L106.6,359.6L108.1,358.9ZM96.0,364.2L96.6,364.0L96.7,364.2L96.6,364.5L96.1,364.8L95.9,364.7ZM95.6,366.7L96.6,366.7L97.4,367.2L97.2,367.7L96.1,368.0L95.6,367.9L95.4,367.7L95.2,367.2ZM24.1,373.7L25.1,373.7L26.6,374.0L27.6,374.4L28.6,375.0L29.4,376.2L29.5,377.2L29.2,377.7L27.9,378.7L26.1,379.3L24.1,379.3L22.9,378.7L22.6,378.2L22.4,377.2L22.5,375.2L23.1,374.1ZM16.1,377.5L19.7,378.7L20.6,379.2L20.9,379.7L21.0,380.2L20.8,381.2L19.5,384.2L19.2,385.7L16.1,385.7Z" fill="#ede1dd"/>
<path d="M16.1,285.7L18.6,285.7L18.5,288.2L18.2,289.7L17.8,290.7L17.1,291.7L16.1,292.6ZM99.3,285.7L105.3,285.7L105.1,287.7L104.3,292.2L103.9,293.2L103.1,294.0L102.6,294.1L101.6,293.8L101.0,293.2L100.6,292.4L99.5,287.7ZM113.6,285.7L116.1,285.7L116.1,287.9L115.1,287.7L114.3,287.2L113.6,286.2ZM74.1,288.1L76.1,287.9L80.6,288.3L84.1,287.9L85.1,288.0L86.1,288.4L89.0,290.7L92.1,292.7L93.1,293.7L93.7,295.2L93.4,299.7L93.8,301.2L94.8,303.7L94.9,304.7L94.6,305.6L93.6,306.2L90.1,306.9L88.6,306.9L87.6,306.4L87.2,305.7L87.0,304.7L87.6,301.2L87.4,300.2L87.0,299.7L86.4,299.2L84.1,298.2L83.4,297.7L82.8,296.7L81.8,294.2L81.1,293.2L80.6,292.9L79.6,292.5L77.6,292.2L71.6,292.3L70.1,292.1L68.6,291.7L67.8,291.2L67.4,290.7L67.4,290.2L67.7,289.7L68.6,289.2ZM49.1,288.6L50.6,288.6L54.1,289.6L57.1,289.7L58.6,290.0L59.8,290.7L60.1,291.2L60.1,292.2L59.1,293.9L58.6,294.4L57.6,294.7L56.6,294.4L53.1,292.8L51.6,292.5L48.6,292.2L47.3,291.7L46.7,291.2L46.5,290.7L46.6,290.2L47.6,289.2ZM39.6,308.1L40.1,308.1L40.7,308.2L41.0,308.7L40.7,309.2L40.1,309.4L39.5,309.2L39.2,308.7ZM76.6,308.1L77.6,308.1L78.1,308.4L78.8,309.2L79.1,310.2L79.3,311.2L79.1,312.2L78.6,313.2L77.6,313.9L76.6,313.9L75.7,313.2L75.0,312.2L74.7,311.2L74.8,310.2L75.1,309.5L75.7,308.7ZM35.6,310.5L36.6,310.4L37.1,310.6L37.5,311.2L37.5,311.7L37.3,312.2L36.8,312.7L36.1,313.0L35.6,313.0L35.1,312.8L34.6,312.2L34.5,311.7L34.6,311.2ZM36.4,318.2L36.9,318.2L37.0,318.7L36.6,318.9L36.4,318.7ZM69.1,325.6L70.1,325.9L71.1,326.5L72.1,326.6L73.1,326.4L74.1,325.4L74.6,325.2L75.1,325.3L75.6,325.7L76.4,326.7L76.8,327.7L76.5,329.7L77.4,331.2L77.5,331.7L77.5,332.2L77.1,332.9L76.1,333.4L75.1,333.1L74.3,332.2L74.1,331.1L73.7,330.7L72.1,330.8L70.6,330.6L69.1,330.7L68.1,330.5L67.6,330.2L66.9,329.2L67.0,327.7L67.4,326.7L67.8,326.2L68.6,325.7ZM48.1,327.3L48.7,327.7L48.1,328.1L47.9,327.7ZM52.6,330.1L54.1,329.9L55.6,330.1L56.3,330.7L56.2,331.2L55.9,331.7L55.1,332.4L53.1,333.1L51.6,333.4L50.6,333.4L49.6,333.1L49.2,332.7L49.2,332.2L49.5,331.7L50.1,331.2L51.1,330.6ZM56.6,346.0L57.6,346.1L58.3,346.7L58.5,347.2L58.5,347.7L58.1,348.1L57.1,348.0L56.6,347.7L56.2,347.2L56.1,346.6L56.3,346.2ZM77.6,347.9L78.1,347.8L79.1,347.8L79.8,348.2L80.6,349.2L81.1,349.4L84.1,349.8L85.6,350.3L86.4,350.7L86.9,351.2L86.8,351.7L85.6,352.3L82.6,352.7L80.6,353.2L79.6,353.3L78.6,353.1L77.9,352.7L77.6,352.2L76.6,349.7L76.8,348.7ZM93.6,350.7L93.8,350.7L94.0,351.2L93.9,351.7L92.6,355.0L91.6,356.4L90.6,358.5L89.6,359.9L88.4,362.2L85.8,366.2L84.2,368.2L82.6,369.9L81.1,370.7L80.4,370.7L80.0,370.2L80.0,369.7L80.3,368.2L81.3,365.7L82.9,363.2L90.5,353.2L92.1,351.4ZM70.1,352.0L70.6,351.8L71.1,352.1L71.6,352.7L72.6,354.2L74.3,357.7L75.8,359.7L77.1,360.8L79.9,362.2L80.6,363.1L80.6,364.2L80.2,365.2L78.6,367.5L77.1,368.8L76.6,369.0L75.6,369.0L72.6,367.8L71.0,366.7L70.0,365.2L69.7,364.2L69.6,362.7L69.9,357.7L69.5,354.2L69.6,353.1ZM70.1,373.2L76.1,371.8L77.1,371.9L78.6,372.7L81.6,374.6L82.6,375.0L85.8,375.7L86.9,376.2L87.5,376.7L87.7,377.2L87.6,377.4L87.5,377.7L86.6,378.3L83.1,379.7L80.6,380.9L78.1,381.9L77.1,382.0L75.6,382.1L73.1,381.4L70.6,379.9L68.2,377.7L66.7,375.7L66.2,374.7L66.1,373.7L66.6,373.1ZM59.6,383.6L60.6,383.4L62.6,383.4L66.1,383.7L67.4,384.2L68.1,384.7L68.7,385.7L57.4,385.7L58.0,384.7L58.5,384.2ZM82.1,383.5L83.1,383.3L84.1,383.4L87.1,384.4L88.1,384.6L91.1,384.1L91.6,384.2L92.1,384.5L92.6,385.7L80.8,385.7L81.1,384.6L81.6,383.9Z" fill="#e1c3b9"/>
<path d="M87.6,293.7L88.1,293.7L89.0,294.2L89.3,294.7L89.3,295.2L88.6,295.5L88.1,295.4L87.1,294.7L86.9,294.2L87.1,293.9ZM36.1,310.6L36.6,310.6L37.1,311.0L37.3,311.7L37.1,312.2L36.6,312.6L35.6,312.8L34.9,312.2L34.8,311.7L35.1,311.0ZM74.6,325.6L75.1,325.6L75.6,325.9L76.4,327.2L76.5,328.2L76.1,329.7L76.2,330.2L76.6,330.4L77.1,331.1L77.3,331.7L77.2,332.2L76.9,332.7L76.1,333.0L75.6,332.9L74.8,332.2L74.7,331.7L74.8,330.7L74.5,330.2L74.1,330.0L72.6,330.2L72.1,330.1L71.5,329.7L71.2,329.2L71.2,328.2L71.5,327.7L72.1,327.3L73.1,327.2L73.6,326.8L74.1,326.0ZM52.1,330.6L53.6,330.3L54.6,330.4L55.3,330.7L55.4,331.2L55.1,331.7L54.4,332.2L53.1,332.8L51.1,333.0L49.9,332.7L49.7,332.2L50.0,331.7L50.6,331.2ZM78.1,348.1L79.1,348.2L80.6,349.5L83.6,349.9L85.6,350.5L86.5,351.2L86.3,351.7L85.6,352.1L84.6,352.3L82.1,352.6L80.6,353.0L79.1,352.9L78.7,352.7L78.2,352.2L77.9,351.2L77.1,349.7L77.1,349.2L77.3,348.7ZM93.1,351.0L93.6,351.1L93.8,351.7L92.7,354.7L88.4,361.7L85.5,366.2L84.1,368.0L82.6,369.4L81.6,369.8L81.1,369.7L80.9,369.2L80.9,368.7L81.3,367.2L82.3,365.2L84.4,361.7L90.2,353.7L92.0,351.7ZM73.1,374.6L75.6,374.4L77.6,374.9L78.6,375.6L79.2,376.2L79.5,377.2L79.4,377.7L78.5,378.7L77.6,379.3L76.6,379.7L75.1,379.9L74.1,379.7L73.1,379.3L71.5,378.2L70.8,377.2L70.6,376.7L70.7,376.2L71.1,375.6L71.6,375.2Z" fill="#d8a796"/>
<path d="M35.2,311.2L36.1,310.8L36.6,310.9L37.0,311.2L37.1,311.7L36.8,312.2L36.1,312.6L35.6,312.5L35.2,312.2L35.0,311.7ZM74.6,325.9L75.1,325.9L75.6,326.2L76.2,327.2L76.3,327.7L76.2,328.7L75.6,329.8L75.1,330.0L74.1,329.6L72.6,329.9L72.1,329.7L71.6,329.2L71.4,328.7L71.6,328.2L72.1,327.7L73.6,327.3L74.1,326.4ZM53.1,330.6L54.1,330.7L54.6,331.2L54.4,331.7L53.6,332.2L52.1,332.7L51.1,332.7L50.6,332.5L50.3,332.2L50.5,331.7L51.2,331.2ZM75.6,330.4L76.1,330.4L77.0,331.2L77.1,331.7L77.0,332.2L76.6,332.6L76.1,332.8L75.6,332.7L75.1,332.2L74.9,331.7L75.0,331.2ZM78.1,348.5L78.6,348.4L79.1,348.6L80.3,349.7L83.6,350.0L85.1,350.5L86.1,351.2L85.9,351.7L84.6,352.2L80.6,352.8L79.4,352.7L78.7,352.2L78.4,351.2L77.5,349.7L77.5,349.2ZM92.6,351.4L93.1,351.3L93.6,351.7L93.4,352.7L92.6,354.7L90.4,358.2L84.5,367.2L82.6,369.0L82.1,369.2L81.6,369.2L81.3,368.7L81.3,368.2L81.8,366.7L84.3,362.2L86.3,359.2L90.0,354.2L91.7,352.2Z" fill="#cf8a73"/>
<path d="M35.6,311.1L36.1,311.0L36.7,311.2L36.8,311.7L36.6,312.2L36.1,312.4L35.5,312.2L35.3,311.7ZM75.1,326.1L75.8,326.7L76.2,327.7L76.0,328.7L75.6,329.4L75.1,329.6L74.1,329.2L72.6,329.6L72.1,329.4L71.7,328.7L71.9,328.2L72.6,327.8L73.6,327.8L74.6,326.2ZM52.1,331.1L53.1,331.0L53.8,331.2L53.7,331.7L52.7,332.2L51.6,332.3L51.1,332.2L51.1,331.7ZM75.6,330.8L76.1,330.7L76.8,331.2L76.9,331.7L76.6,332.4L76.1,332.6L75.4,332.2L75.2,331.7L75.3,331.2ZM78.1,349.0L78.6,348.8L79.1,349.0L79.6,349.7L80.1,349.9L82.6,350.0L84.1,350.3L85.2,350.7L85.7,351.2L85.5,351.7L84.6,352.0L80.6,352.6L79.6,352.5L79.1,352.2L78.7,350.7L78.0,349.7ZM92.6,351.6L93.1,351.5L93.3,351.7L93.3,352.7L92.5,354.7L90.3,358.2L84.3,367.2L83.6,367.9L82.6,368.7L82.1,368.9L81.8,368.7L81.6,368.2L82.0,366.7L84.8,361.7L90.1,354.2L91.9,352.2Z" fill="#c66d51"/>
<path d="M35.6,311.6L36.1,311.2L36.6,311.7L36.1,312.1L35.6,311.8ZM74.6,326.5L75.1,326.3L75.6,326.6L75.9,327.2L76.0,328.2L75.6,329.0L75.1,329.3L74.6,329.2L74.1,328.8L73.6,328.8L73.1,329.3L72.6,329.4L72.2,329.2L72.0,328.7L72.2,328.2L72.6,328.0L73.1,328.0L73.5,328.2L73.6,328.4ZM75.6,331.1L76.1,331.0L76.5,331.2L76.7,331.7L76.5,332.2L76.1,332.4L75.6,332.2L75.4,331.7ZM79.6,350.3L82.1,350.1L83.6,350.3L84.8,350.7L85.4,351.2L85.1,351.7L84.1,352.0L80.6,352.3L79.7,352.2L79.3,351.7L79.2,350.7ZM92.1,352.2L92.6,351.8L93.1,351.7L93.3,352.2L93.1,352.9L92.1,355.2L84.6,366.6L83.1,368.1L82.6,368.4L82.1,368.4L81.9,367.7L82.2,366.7L85.0,361.7L89.9,354.7Z" fill="#bb4f3a"/>
<path d="M75.1,326.5L75.6,326.9L75.9,327.7L75.6,328.7L75.1,329.1L74.4,328.7L74.2,328.2L74.3,327.2L74.6,326.7ZM72.6,328.2L73.1,328.4L73.3,328.7L72.6,329.2L72.2,328.7ZM76.1,331.2L76.5,331.7L76.1,332.2L75.6,331.7ZM79.8,350.7L81.6,350.3L83.1,350.3L84.5,350.7L85.1,351.2L84.6,351.7L84.1,351.8L80.6,352.1L80.1,352.0L79.7,351.7L79.6,351.2ZM92.6,352.0L93.1,352.1L93.1,352.7L92.0,355.2L84.7,366.2L83.6,367.5L82.6,368.1L82.2,367.7L82.4,366.7L85.4,361.2L90.4,354.2L92.1,352.3Z" fill="#ae3127"/>
<path d="M74.6,327.0L75.1,326.7L75.6,327.2L75.7,328.2L75.1,328.8L74.6,328.5L74.4,328.2L74.4,327.7ZM80.3,350.7L81.6,350.4L83.1,350.5L84.1,350.7L84.8,351.2L84.1,351.7L83.6,351.8L80.6,351.8L80.2,351.7L80.0,351.2ZM92.6,352.1L92.7,352.2L92.9,352.7L92.6,353.7L92.2,354.7L90.3,357.7L84.6,366.1L83.6,367.3L83.1,367.7L82.6,367.7L82.5,367.2L82.8,366.2L85.8,360.7L90.5,354.2Z" fill="#961f26"/>
<path d="M75.1,327.0L75.5,327.7L75.4,328.2L75.1,328.5L74.7,328.2L74.6,327.7L74.8,327.2ZM81.1,350.7L83.1,350.6L83.7,350.7L84.4,351.2L83.2,351.7L81.1,351.7L80.4,351.2ZM92.1,352.7L92.6,352.4L92.7,352.7L92.6,353.4L92.1,354.7L90.2,357.7L84.1,366.6L83.1,367.4L82.8,367.2L82.8,366.7L83.1,365.9L85.9,360.7L90.1,354.9Z" fill="#7a0f28"/>
<path d="M81.6,350.7L83.1,350.7L84.0,351.2L82.6,351.6L81.6,351.5L80.9,351.2ZM92.1,352.9L92.5,353.2L92.2,354.2L90.1,357.7L84.6,365.7L83.6,366.8L83.1,367.0L83.1,366.3L83.6,365.2L86.1,360.7L90.1,355.0Z" fill="#5b0c1d"/>
<path d="M81.5,351.2L82.6,350.9L83.6,351.2L82.6,351.4ZM92.1,353.2L92.2,353.7L91.8,354.7L90.1,357.5L87.1,362.0L84.1,366.1L83.6,366.5L83.4,366.2L83.5,365.7L86.1,360.8L90.6,354.5Z" fill="#3c0911"/>
<path d="M23.4,285.7L28.8,285.7L29.0,288.7L29.5,289.7L30.1,290.1L31.1,290.4L34.1,290.8L35.6,291.2L39.6,293.6L43.2,295.2L46.6,297.1L47.6,297.4L50.1,297.7L50.6,297.9L51.1,298.3L51.5,299.2L51.6,301.2L51.5,302.2L51.1,303.2L50.4,304.2L48.1,306.3L46.9,307.7L46.2,309.2L46.0,310.7L46.1,311.7L46.6,312.7L47.6,313.5L49.6,314.3L50.1,314.7L50.4,315.2L50.5,316.2L50.1,318.7L50.3,320.2L51.1,322.5L53.5,326.7L53.8,327.7L53.6,328.2L53.1,328.7L49.6,330.5L48.6,331.4L47.9,332.2L47.7,333.2L48.1,334.0L49.1,334.7L49.1,335.2L48.1,336.5L47.6,337.5L47.3,338.7L47.2,340.2L47.6,341.9L49.5,344.2L50.1,345.6L50.2,346.7L49.9,349.7L50.0,350.7L51.2,353.7L51.6,355.2L51.2,359.7L51.5,361.7L52.0,362.7L53.3,364.2L57.5,368.2L57.9,369.2L58.0,370.2L57.7,371.7L57.3,372.7L55.6,375.7L54.5,378.2L53.5,379.7L52.1,380.9L50.6,381.6L49.6,381.7L47.6,381.4L46.6,381.7L45.6,382.8L43.5,385.7L41.2,385.7L40.1,383.9L39.6,382.7L39.4,381.7L39.7,378.7L39.1,377.7L37.7,376.7L34.6,375.5L33.6,375.0L32.1,373.7L30.1,371.4L29.1,370.7L26.1,369.4L23.1,367.8L22.1,367.5L20.6,367.7L18.1,368.8L17.1,368.9L16.1,368.7L16.1,352.9L17.4,352.2L18.1,351.6L18.6,350.7L18.7,349.7L18.5,348.7L18.1,347.7L16.1,345.2L16.1,337.2L16.4,336.2L16.1,335.2L16.1,320.0L19.6,319.3L20.6,318.9L22.0,317.7L22.5,316.2L22.3,315.2L21.6,314.3L17.3,311.2L16.3,310.2L16.1,309.7L16.2,309.2L16.7,308.7L19.3,306.2L21.6,302.7L23.1,301.7L26.2,300.2L26.7,299.7L27.0,299.2L27.2,297.7L27.1,291.2L26.6,290.2L23.9,287.2L23.4,286.2ZM38.9,307.7L38.4,308.2L38.2,308.7L38.3,309.2L38.8,309.7L39.6,310.0L40.6,310.0L41.3,309.7L41.8,309.2L41.9,308.7L41.7,308.2L41.1,307.7L40.1,307.4ZM36.6,309.9L34.2,310.7L33.6,311.2L33.3,311.7L33.3,312.2L33.7,312.7L34.3,313.2L35.1,313.5L36.1,313.3L37.4,312.7L37.9,312.2L38.1,311.7L38.0,310.7L37.6,310.2L37.1,309.9ZM36.1,317.7L35.8,318.2L35.8,318.7L36.1,319.2L36.6,319.5L37.1,319.3L37.5,318.7L37.5,318.2L37.1,317.7L36.6,317.6ZM37.6,322.9L36.7,324.2L37.1,324.6L37.6,324.6L38.1,324.2L38.3,323.2L38.1,322.8ZM47.7,326.2L47.0,326.7L46.8,327.2L46.8,328.2L47.1,328.7L47.6,329.2L48.6,329.4L49.1,329.2L49.7,328.7L50.0,328.2L50.0,327.2L49.7,326.7L49.1,326.2L48.6,326.1ZM27.6,326.7L27.6,327.2L27.9,327.7L28.1,327.8L28.5,327.2L28.5,326.7L28.1,326.2ZM31.1,333.2L31.1,333.7L31.6,334.1L32.2,333.7L31.6,333.0ZM36.2,340.2L35.7,341.2L34.4,342.2L34.1,342.7L34.6,342.9L35.1,342.9L36.2,342.2L37.1,341.4L37.2,340.7L37.0,340.2L36.6,339.9ZM38.9,343.7L38.6,344.2L39.1,345.2L39.6,345.4L40.0,345.2L40.2,344.7L40.2,344.2L39.6,343.7ZM115.1,304.5L116.1,304.2L116.1,308.6L115.1,308.4L114.1,307.9L113.6,307.3L113.5,306.7L113.6,306.2L114.2,305.2ZM97.6,316.2L101.6,316.7L102.6,317.1L103.6,317.7L104.6,318.8L106.4,322.2L107.4,323.7L108.6,324.8L110.8,326.2L111.6,327.2L111.7,328.7L111.4,330.2L110.6,331.2L109.0,332.2L108.7,332.7L108.7,333.2L110.1,336.2L111.1,339.2L111.6,340.1L112.1,340.4L112.6,340.5L115.1,340.2L116.1,340.4L116.1,356.4L114.3,356.2L111.1,354.7L109.6,354.5L108.1,354.9L104.6,356.9L103.1,356.6L102.3,356.7L102.9,357.7L102.9,358.2L102.6,358.8L102.1,359.0L101.1,358.2L100.6,358.4L100.4,358.7L100.4,359.2L101.0,360.2L101.2,361.7L101.6,362.7L101.5,363.2L101.1,363.5L100.6,363.6L100.1,363.4L99.6,362.6L98.6,362.4L98.2,362.7L98.1,363.2L98.8,364.2L98.2,365.2L97.6,365.6L97.1,365.4L97.0,365.2L97.5,363.7L97.1,363.4L96.6,363.4L96.1,363.6L95.4,364.2L94.9,365.7L94.2,366.7L94.0,367.7L94.5,369.2L94.1,370.0L93.6,370.5L92.1,370.5L89.6,371.8L88.1,372.0L87.3,371.7L86.9,371.2L86.7,370.7L86.8,369.7L88.9,365.7L90.6,363.2L90.8,362.2L90.7,361.7L90.1,360.7L90.6,360.0L91.6,356.9L92.8,355.2L93.5,353.2L94.9,350.7L95.0,350.2L94.6,349.6L94.1,349.6L93.6,349.7L90.1,352.7L89.1,354.2L87.6,355.8L86.6,356.4L81.6,356.4L80.6,356.1L80.0,355.7L79.6,355.2L79.6,354.7L80.3,354.2L83.2,353.2L85.6,352.9L87.1,352.5L88.0,351.7L88.0,351.2L87.6,350.7L86.6,350.1L85.1,349.5L82.2,348.7L81.8,348.2L81.5,347.2L81.5,346.7L81.8,346.2L83.1,344.9L83.6,344.2L84.2,342.2L84.1,341.2L83.7,340.7L82.6,339.9L81.6,338.3L80.2,337.2L79.8,336.7L79.3,335.2L79.4,333.7L79.2,333.2L78.4,332.2L77.5,330.2L77.4,329.2L77.7,327.7L77.5,327.2L76.6,326.3L75.4,324.7L75.2,323.7L75.4,323.2L75.8,322.7L76.6,322.2L77.6,322.1L78.1,322.2L79.1,322.8L79.6,323.4L79.9,324.2L79.6,326.2L79.7,326.7L81.1,329.5L81.6,329.4L82.4,328.7L83.6,328.1L85.6,327.6L86.0,327.2L86.2,325.2L86.4,324.7L87.6,323.9L88.1,322.9L88.6,322.4L89.1,322.3L91.6,322.7L92.6,322.6L92.8,322.7L93.6,323.8L94.6,324.0L96.1,324.6L97.6,324.3L98.1,324.0L98.6,323.2L98.5,321.7L98.0,320.7L96.1,319.2L95.8,318.2L96.0,317.2L96.3,316.7L97.1,316.3ZM89.3,327.2L89.2,327.7L89.6,327.9L89.9,327.2L89.6,327.0ZM81.6,330.9L81.3,331.7L81.6,331.9L82.1,331.8L82.2,331.7L82.1,331.1ZM99.6,353.1L99.1,353.5L99.0,354.2L99.2,354.7L99.6,354.9L100.1,354.7L100.3,354.2L100.1,353.5ZM28.1,382.1L29.1,382.0L30.1,382.1L31.1,382.7L31.7,383.7L31.8,384.7L31.7,385.7L22.8,385.7L23.2,384.7L24.2,383.7L26.1,382.7ZM106.1,385.0L106.6,385.2L106.8,385.7L105.3,385.7L105.6,385.2Z" fill="#bfced4"/>
<path d="M32.6,293.5L34.1,293.3L35.6,293.6L39.1,295.7L42.1,297.2L47.0,300.7L47.6,301.3L48.0,302.2L47.9,303.2L47.4,304.2L45.1,307.2L43.8,309.2L42.6,313.2L42.7,314.7L42.3,315.7L42.5,316.2L45.6,318.6L47.3,320.2L49.3,323.7L49.5,324.7L48.9,325.2L47.6,325.5L47.1,325.8L46.6,326.3L46.3,327.2L46.4,328.7L47.1,329.6L48.0,330.2L48.1,330.7L46.6,332.7L46.0,334.7L45.2,336.2L45.1,339.7L44.9,340.7L44.5,341.7L43.6,342.7L43.1,343.0L42.1,343.1L41.1,343.9L40.6,343.6L39.6,343.4L38.6,343.3L38.2,343.7L38.6,345.1L40.1,347.6L41.5,348.7L42.1,349.7L42.6,349.9L44.6,349.8L45.6,350.4L46.6,351.7L47.6,354.2L47.8,356.2L47.5,357.7L46.9,358.7L44.8,361.2L44.2,362.2L43.8,363.7L44.0,364.7L44.6,365.5L45.6,366.2L49.1,367.2L50.4,367.7L51.5,368.7L51.9,369.7L52.0,370.2L51.8,371.2L51.2,372.2L50.1,373.4L49.1,374.1L48.1,374.5L45.1,375.3L43.6,375.4L42.1,375.2L39.6,374.1L35.1,371.5L32.4,368.7L31.1,367.7L26.6,365.5L23.1,363.1L21.6,362.4L18.6,362.1L17.5,361.7L16.6,360.7L16.1,359.4L16.1,357.2L16.8,356.2L18.6,354.8L19.6,353.8L20.6,352.0L21.0,350.2L20.6,348.2L18.5,344.2L17.9,342.2L17.8,341.2L17.9,340.2L19.5,336.2L19.7,334.2L19.4,333.2L19.0,332.7L16.1,331.5L16.1,322.7L17.1,322.4L20.1,322.1L22.1,321.1L23.6,320.7L24.9,318.7L25.3,317.7L25.6,317.4L27.1,317.3L27.4,317.2L27.9,316.7L28.3,315.7L28.1,314.9L27.6,314.5L26.6,314.2L26.1,313.6L23.6,312.2L21.5,310.7L21.0,309.7L21.2,308.7L22.1,307.6L23.1,306.9L24.1,306.9L25.1,307.4L28.1,309.2L29.4,310.2L29.6,310.7L29.6,311.2L29.3,311.7L28.3,312.7L28.1,313.2L28.1,313.7L28.4,314.2L30.1,314.3L31.6,314.8L32.6,314.6L33.6,313.9L35.1,313.9L37.1,313.0L38.3,312.2L38.7,310.7L39.1,310.5L41.1,310.4L42.1,310.0L42.7,309.2L42.7,308.7L42.5,308.2L42.0,307.7L40.6,307.1L39.6,307.0L38.1,307.5L37.6,308.2L37.2,309.2L36.4,309.7L35.1,310.1L34.1,310.3L33.6,310.1L33.2,309.7L33.0,309.2L32.9,308.2L33.9,305.7L33.9,305.2L31.3,298.2L30.8,296.2L31.1,294.7L31.6,294.1ZM35.7,317.7L35.4,318.2L35.5,318.7L35.9,319.2L36.6,319.7L37.1,319.6L37.7,318.7L37.8,318.2L37.5,317.7L36.6,317.4ZM33.4,322.2L33.2,322.7L33.6,322.9L34.1,323.1L34.7,322.7L34.8,322.2L34.6,321.9L34.1,321.7ZM37.6,322.5L36.4,324.2L36.7,324.7L37.1,324.8L37.6,324.8L38.1,324.5L38.6,323.2L38.4,322.7L38.1,322.4ZM40.0,325.2L40.1,325.8L40.6,325.7L40.8,325.2L40.6,324.9ZM26.8,326.2L27.0,327.2L26.9,328.2L27.1,328.7L29.0,328.2L28.9,326.7L28.6,326.1L28.1,325.8L27.6,325.8L27.1,325.9ZM37.6,329.0L36.3,329.7L36.1,330.2L36.6,330.5L37.1,330.4L37.9,329.7L38.0,329.2ZM31.1,332.6L30.8,333.2L30.8,333.7L31.2,334.2L31.6,334.3L32.1,334.2L32.5,333.7L32.3,333.2ZM36.3,339.7L35.6,340.9L35.1,341.4L34.1,341.9L33.1,341.8L32.6,342.1L32.3,342.7L32.6,343.1L35.1,343.4L37.1,342.0L37.4,341.7L37.6,341.2L37.5,340.7L37.1,339.8L36.6,339.5ZM34.3,347.2L33.7,347.7L33.6,348.2L34.0,349.2L34.6,349.4L35.1,349.2L35.4,348.7L35.5,347.7L35.1,347.2ZM77.1,322.7L77.6,322.7L78.6,323.0L79.3,323.7L79.4,324.2L79.4,325.2L79.1,326.0L78.6,326.6L77.6,326.6L77.1,326.5L76.3,325.7L75.7,324.7L75.8,323.7L76.1,323.2ZM103.1,323.0L103.6,323.1L104.6,323.9L105.6,325.2L106.4,326.7L106.5,327.7L106.3,328.2L105.0,330.7L104.7,332.2L105.1,333.7L107.2,337.2L107.6,338.2L107.7,339.2L107.5,341.2L106.9,343.7L104.7,348.7L104.2,351.7L103.8,352.7L103.7,354.2L103.1,354.6L101.6,354.8L101.1,354.4L100.8,353.2L100.3,352.7L99.6,352.4L99.1,352.4L98.8,352.7L98.6,354.7L99.1,355.3L100.6,355.4L100.9,355.7L101.0,356.2L101.0,357.2L100.0,358.2L99.9,358.7L100.4,360.7L100.2,361.2L99.6,361.6L98.6,361.5L98.1,361.6L97.3,362.7L96.1,363.3L95.1,364.2L93.6,366.5L92.4,367.7L91.1,369.5L89.6,370.6L88.6,370.8L88.1,370.6L87.8,370.2L87.9,369.2L88.2,368.2L89.4,365.7L91.0,363.2L91.6,361.7L92.5,360.2L91.6,359.7L91.3,359.2L91.6,357.3L92.9,355.2L93.4,353.7L94.1,352.3L95.3,350.7L95.5,350.2L95.4,349.7L94.6,349.2L93.6,349.2L93.1,349.4L92.1,350.7L91.1,351.3L90.6,351.3L89.6,350.6L88.1,350.2L86.5,349.2L86.2,348.7L86.1,347.7L86.4,346.2L87.1,344.7L87.1,343.7L86.1,342.2L85.3,340.7L84.8,338.7L84.6,338.6L83.6,339.0L83.1,338.8L80.9,336.7L80.2,335.2L80.3,333.2L80.6,332.6L82.1,332.5L82.6,332.2L82.8,331.7L82.7,331.2L82.1,330.2L82.0,329.7L82.3,329.2L84.5,328.2L86.1,328.0L86.5,327.2L86.5,325.7L86.8,325.2L87.1,324.9L88.1,324.6L88.6,324.2L88.8,323.7L89.1,323.4L89.6,323.3L90.6,323.7L91.1,324.2L91.2,324.7L91.1,324.9L89.9,325.2L89.4,326.2L88.7,327.2L88.7,327.7L89.1,328.9L89.6,329.7L89.6,328.7L91.1,326.7L92.1,326.5L93.6,327.0L95.1,327.1L96.6,327.8L98.9,327.2L100.0,326.7L100.6,326.2L101.4,325.2L102.6,323.3ZM84.1,329.7L83.9,330.2L84.0,330.7L84.6,331.1L85.1,330.8L85.3,330.2L85.1,329.8L84.6,329.5ZM78.6,327.4L79.1,327.3L79.6,327.5L80.1,328.2L80.5,329.2L80.7,330.7L80.1,331.7L79.6,331.9L79.1,331.9L78.6,331.6L77.8,330.2L77.7,329.7L77.9,328.7Z" fill="#9bbcc7"/>
<path d="M35.6,297.5L36.1,297.4L37.1,297.5L40.6,298.7L42.2,299.7L43.9,301.2L44.7,302.2L45.0,303.2L44.7,304.2L43.6,305.7L42.6,306.4L42.1,306.5L40.0,306.2L38.6,305.7L36.8,304.2L35.7,302.7L35.1,300.7L35.0,298.7L35.1,298.0ZM35.1,306.5L35.6,306.5L36.1,306.8L36.5,307.2L36.8,307.7L36.8,308.7L36.5,309.2L35.8,309.7L34.6,310.0L33.9,309.7L33.6,309.2L33.6,308.2L34.1,307.1ZM38.6,312.6L39.1,312.6L39.6,312.9L40.3,313.7L40.8,314.7L40.7,315.2L39.8,316.7L39.7,317.2L40.9,319.2L41.6,319.8L42.1,319.9L42.8,319.7L43.1,319.4L43.6,319.4L44.1,319.9L44.6,320.7L44.8,322.2L45.9,323.2L45.9,323.7L45.2,324.7L45.2,325.2L45.6,327.2L45.5,328.7L46.2,330.7L46.1,331.2L45.6,331.9L44.2,332.7L44.3,333.7L44.0,334.2L42.8,335.2L42.7,335.7L42.9,336.7L42.9,337.7L43.6,339.7L43.5,340.7L43.1,341.2L42.6,341.5L42.1,341.4L41.6,340.7L41.1,340.3L40.6,340.1L40.1,340.2L39.6,341.2L39.9,341.7L40.4,342.2L40.5,342.7L39.6,343.0L38.1,342.9L37.9,343.2L37.8,343.7L38.3,345.2L38.4,346.2L38.1,346.5L37.1,346.5L36.1,346.8L34.6,346.6L33.6,347.2L33.3,347.7L33.2,348.2L33.4,349.2L33.6,349.5L34.1,349.9L35.1,350.2L35.6,350.1L36.1,349.7L36.1,348.2L36.6,347.7L38.6,348.5L38.8,348.7L38.7,350.2L39.0,351.7L38.9,352.2L38.0,353.2L38.1,353.4L38.6,353.7L41.1,353.9L43.1,354.4L43.7,354.7L44.1,355.2L44.4,356.2L44.3,357.2L44.0,358.2L41.9,362.2L41.6,363.7L41.6,364.7L41.9,365.7L42.5,366.7L43.6,367.6L46.2,369.2L46.6,369.7L47.0,370.7L46.6,371.7L46.1,372.2L45.1,372.9L43.6,373.3L42.1,373.1L40.3,372.2L36.7,368.7L35.0,367.2L33.1,366.0L28.6,363.6L27.1,362.6L25.6,361.2L23.4,358.7L22.4,357.2L22.1,355.7L22.1,354.7L23.1,351.2L23.1,349.2L22.6,347.7L20.6,344.0L20.1,342.2L20.1,340.7L20.6,338.7L21.8,336.2L22.3,333.7L23.3,331.7L24.0,330.7L24.0,330.2L23.6,329.4L23.1,329.0L21.9,328.7L21.7,328.2L21.6,326.5L22.1,326.4L22.3,326.7L23.1,327.1L23.6,327.1L25.1,326.2L26.0,326.7L26.3,327.2L25.5,329.2L25.6,329.7L26.1,330.3L26.6,330.3L27.1,330.1L27.7,329.2L28.1,328.9L29.3,328.7L29.7,328.2L29.2,327.2L29.1,326.2L28.6,325.7L27.0,324.7L26.6,324.3L26.1,324.1L25.6,324.3L25.3,324.2L25.8,323.7L25.8,322.2L26.3,321.2L27.1,320.2L27.3,319.7L27.2,319.2L27.4,318.7L28.5,317.2L29.1,316.7L29.6,316.4L31.1,316.4L32.6,316.1L33.4,315.7L36.1,313.7ZM36.1,317.2L35.6,317.3L35.2,317.7L35.2,318.7L36.1,319.7L36.6,319.9L37.1,319.8L37.7,319.2L38.0,318.2L37.8,317.7L37.6,317.5L37.1,317.3ZM34.1,321.4L33.1,322.1L32.1,322.7L31.3,324.2L31.6,324.8L32.6,325.3L33.1,325.2L33.5,324.7L33.0,323.7L33.1,323.5L34.6,323.2L35.0,322.7L35.0,322.2L34.6,321.6ZM37.6,322.2L36.1,324.2L36.3,324.7L37.1,325.1L38.1,324.9L38.8,323.7L38.8,323.2L38.6,322.5L38.1,322.1ZM42.8,322.7L42.4,323.2L42.8,323.7L43.6,323.9L44.4,323.7L44.6,323.2L44.5,322.7L44.1,322.4L43.6,322.3ZM41.1,324.1L40.1,324.5L39.4,325.2L39.2,326.2L40.1,326.5L40.6,326.4L41.2,326.2L41.5,325.7L41.6,324.7L41.4,324.2ZM42.2,327.2L42.5,327.7L43.1,328.1L43.6,327.9L43.7,327.7L43.7,327.2L43.1,326.8L42.6,326.8ZM38.1,327.3L37.9,328.2L37.4,328.7L36.0,329.7L35.8,330.2L36.1,330.6L36.6,330.8L37.1,330.7L38.5,329.7ZM32.0,330.2L31.1,330.8L30.6,331.7L30.5,333.7L30.8,334.2L31.6,334.5L32.1,334.4L32.8,333.7L32.6,333.2L31.3,332.2L31.3,331.7L31.6,331.4L32.9,330.7L33.0,330.2L32.6,330.0ZM35.1,334.2L35.6,334.6L36.1,334.5L36.3,334.2L36.1,333.9L35.6,333.8ZM27.5,339.2L27.5,339.7L27.8,340.2L28.1,340.3L28.6,340.2L28.8,339.7L28.4,339.2L28.1,338.9ZM36.6,339.2L35.9,339.7L35.1,341.1L34.1,341.5L33.4,341.2L33.1,340.9L32.6,341.5L31.6,343.1L30.0,343.7L29.9,344.2L30.1,345.1L30.6,345.1L31.1,344.7L31.6,343.4L33.6,343.4L35.1,344.1L36.1,343.0L37.6,342.3L38.0,341.7L38.0,341.2L37.1,339.3ZM29.3,346.2L29.4,346.7L29.6,346.9L29.8,346.7L29.9,346.2L29.6,345.9ZM35.1,350.9L34.0,351.7L33.8,352.2L33.7,352.7L33.8,353.2L34.1,353.5L35.6,352.9L35.9,352.7L35.6,351.1ZM77.1,323.1L77.6,323.0L78.2,323.2L78.8,323.7L79.1,324.2L79.0,325.2L78.6,325.9L78.1,326.2L77.6,326.3L77.1,326.1L76.6,325.7L76.1,324.7L76.0,324.2L76.2,323.7ZM87.1,325.5L87.6,325.3L88.1,325.3L88.7,325.7L88.7,326.2L88.2,327.2L88.3,327.7L88.8,329.2L89.6,330.3L90.3,330.2L90.4,329.7L90.2,328.7L90.5,328.2L91.1,327.6L91.6,327.6L94.1,328.4L94.4,328.7L94.6,330.2L95.1,330.8L95.6,330.7L96.6,330.1L97.1,330.0L100.1,330.3L101.0,330.7L101.6,331.6L104.4,337.2L104.7,338.2L105.0,339.7L104.9,341.7L104.6,343.3L102.9,347.2L101.9,348.7L101.8,349.2L101.9,349.7L101.7,350.2L100.6,351.0L100.1,351.2L99.1,351.2L98.1,352.1L97.8,352.2L97.7,352.7L98.1,353.0L98.2,353.2L98.3,355.2L98.6,355.7L100.1,356.0L100.3,356.2L100.5,356.7L100.3,357.2L99.3,358.2L99.6,359.7L99.6,360.2L99.1,360.5L98.1,360.6L97.2,362.2L95.1,363.9L91.1,368.9L90.1,369.7L89.1,370.0L88.6,369.8L88.5,369.2L89.0,367.2L90.1,365.2L91.1,363.7L92.3,361.2L93.3,360.2L93.5,359.7L92.1,359.4L91.8,359.2L91.6,358.2L91.8,357.2L93.0,355.2L93.5,353.7L94.1,352.5L94.6,351.9L95.6,351.2L96.1,350.4L96.7,350.2L97.1,349.7L96.6,349.1L96.1,349.2L93.1,348.5L92.5,348.7L92.0,349.2L92.1,349.7L91.9,350.2L91.6,350.4L91.1,350.5L90.8,350.2L90.6,349.7L91.0,349.2L91.7,348.7L90.6,347.2L90.5,346.2L90.4,345.7L89.7,344.7L89.2,343.2L88.1,341.2L87.6,340.8L86.6,340.7L86.1,340.3L85.8,339.7L85.7,338.7L85.1,337.9L84.6,337.7L83.6,337.8L83.1,337.7L82.1,337.0L81.3,336.2L80.9,334.7L81.1,333.7L81.5,333.2L83.1,332.7L84.6,333.6L84.8,333.2L84.8,331.7L85.6,330.7L85.7,330.2L85.5,329.7L85.0,329.2L84.8,328.7L86.1,328.5L86.6,328.2L86.9,327.2L86.8,326.2ZM88.7,332.2L88.5,332.7L88.6,332.9L89.1,333.1L89.4,332.7L89.3,332.2L89.1,332.0ZM98.4,356.7L98.3,357.2L98.6,357.8L98.8,357.7L98.8,357.2L98.6,356.6ZM79.1,328.0L79.6,328.2L80.0,328.7L80.2,329.7L80.1,330.7L79.6,331.1L79.1,331.2L78.5,330.7L78.1,329.7L78.3,328.7L78.6,328.3ZM83.1,329.2L83.3,329.2L83.6,329.7L83.1,330.8L82.6,330.2L82.5,329.7Z" fill="#76a9bf"/>
<path d="M35.1,307.1L35.6,307.2L36.1,307.6L36.4,308.2L36.4,308.7L36.1,309.2L35.6,309.5L35.1,309.7L34.6,309.7L34.0,309.2L34.0,308.2L34.6,307.3ZM38.1,313.1L39.1,313.4L39.9,314.2L40.1,315.2L39.3,316.7L39.1,317.7L39.4,318.2L40.1,318.8L41.1,320.0L42.1,320.7L42.4,321.2L42.3,321.7L41.8,322.7L41.4,323.2L40.1,323.9L39.1,324.8L38.9,324.7L39.1,323.2L39.0,322.7L38.7,322.2L38.1,321.9L37.6,321.9L37.3,322.2L36.6,323.3L35.7,324.2L35.8,324.7L38.3,325.7L37.6,326.7L37.4,328.2L37.1,328.7L35.7,329.7L35.5,330.2L36.1,331.0L36.6,331.1L37.1,331.0L38.1,330.4L38.6,330.4L38.9,330.7L39.1,331.4L39.8,332.2L40.0,334.7L39.9,335.2L39.1,336.2L39.0,336.7L39.1,336.9L40.1,337.2L40.6,337.5L41.1,338.4L42.0,339.2L42.1,339.7L41.6,339.7L40.1,339.4L39.6,339.7L39.1,341.0L38.6,341.4L38.1,340.9L37.8,340.2L37.4,339.2L37.4,338.7L37.1,338.2L35.6,339.7L35.1,340.8L34.6,341.0L34.1,340.7L34.5,339.7L34.1,339.2L33.2,339.7L32.6,340.4L32.1,341.7L31.6,342.4L31.1,342.8L29.8,343.2L29.1,343.7L28.9,344.7L28.6,345.2L28.1,345.3L27.1,345.1L24.6,345.1L24.0,344.7L23.1,343.2L22.6,341.9L22.4,340.7L22.8,338.2L23.1,337.7L24.4,336.7L24.5,336.2L24.5,335.7L24.1,335.2L24.1,334.7L24.6,332.8L25.1,332.8L25.8,334.2L24.9,335.2L24.7,335.7L25.1,335.9L25.6,335.9L26.0,335.2L25.8,334.7L26.1,334.5L27.6,334.4L27.6,334.2L26.2,332.7L26.0,331.7L26.1,331.2L27.6,330.2L28.1,329.5L28.5,329.2L29.6,329.0L30.1,328.7L30.2,328.2L29.6,327.2L29.4,326.2L27.0,323.2L26.7,322.2L26.8,321.7L27.2,321.2L27.6,320.9L28.6,320.8L29.1,320.3L29.4,319.7L29.4,319.2L28.8,318.2L28.9,317.7L29.6,317.3L31.1,317.3L33.1,316.8L34.1,316.8L34.5,317.2L34.8,318.7L36.1,319.9L36.6,320.1L37.1,320.1L38.3,318.7L38.5,318.2L38.3,317.7L37.5,317.2L35.2,316.7L35.0,316.2L35.0,315.7L35.4,314.7L35.8,314.2L36.6,313.6ZM30.7,319.7L30.5,320.2L30.6,320.7L31.4,322.2L31.4,322.7L30.8,324.2L30.8,324.7L31.0,325.2L32.1,325.7L33.1,325.5L33.7,325.2L34.0,324.7L34.0,324.2L34.2,323.7L34.6,323.6L35.1,323.0L35.2,322.2L35.0,321.7L34.1,321.1L33.1,321.8L32.6,322.0L32.1,321.9L31.8,321.7L31.8,321.2L32.2,319.7L31.6,319.3L31.1,319.4ZM33.1,329.6L31.6,330.0L30.7,330.7L30.2,331.7L30.1,333.7L30.4,334.2L31.6,334.7L32.1,334.7L32.6,334.4L33.2,333.7L33.0,333.2L32.2,332.7L31.7,332.2L31.8,331.7L32.1,331.4L33.1,331.0L33.3,330.7L33.3,329.7ZM34.7,333.7L34.7,334.2L35.1,334.7L36.1,335.0L36.8,334.7L36.8,334.2L36.6,333.7L36.1,333.3L35.1,333.5ZM27.6,338.4L27.0,339.2L26.9,339.7L27.1,340.2L27.6,340.7L28.1,340.7L28.6,340.6L29.1,340.2L29.1,339.7L28.6,338.8L28.1,338.4ZM76.7,323.7L77.6,323.4L78.1,323.5L78.8,324.2L78.7,325.2L78.1,325.8L77.6,325.9L77.1,325.8L76.5,325.2L76.3,324.7L76.4,324.2ZM39.1,327.1L39.6,326.9L40.6,326.9L41.1,327.1L41.6,327.5L43.3,329.7L43.4,330.2L43.3,330.7L42.6,331.4L41.6,331.7L40.6,330.5L39.1,330.0L38.6,328.2L38.7,327.7ZM87.6,327.4L88.1,328.2L88.4,329.2L89.6,330.7L90.1,330.7L91.0,330.2L90.9,328.7L91.1,328.5L92.1,328.7L93.3,329.2L93.8,329.7L94.0,330.7L94.0,331.2L93.6,332.2L93.6,332.7L94.6,334.2L95.1,334.3L95.6,334.2L96.6,333.7L97.1,333.7L99.6,334.9L100.7,336.2L102.1,339.5L102.3,341.7L102.0,343.2L100.2,346.2L100.3,347.2L100.1,347.6L99.6,347.7L99.6,346.9L100.0,346.7L99.6,346.6L99.2,346.2L98.6,346.2L97.6,346.5L96.6,346.5L96.1,346.7L95.1,348.0L94.6,348.2L94.1,348.0L93.7,347.2L93.8,345.2L93.5,344.2L91.6,342.4L90.1,341.5L89.3,340.2L87.6,339.3L86.9,339.2L87.1,338.9L87.6,338.9L88.1,338.2L88.0,337.7L87.6,337.4L87.1,337.7L86.6,338.6L86.4,338.2L86.1,338.1L85.1,336.9L84.6,336.7L83.6,337.1L83.1,337.0L82.4,336.7L81.9,336.2L81.7,335.7L81.6,334.7L81.7,334.2L82.1,333.6L83.1,333.3L83.6,333.4L84.6,334.3L85.1,334.4L85.3,334.2L85.1,332.2L85.2,331.7L85.9,330.7L86.4,329.2L86.6,329.1ZM89.0,331.7L88.6,331.9L88.3,332.7L88.4,333.2L88.6,333.4L89.1,333.4L89.4,333.2L89.6,332.7L89.6,332.0L89.3,331.7ZM92.5,334.7L92.6,335.0L93.2,334.7L93.1,334.4L92.6,334.5ZM79.1,328.6L79.6,328.8L79.8,329.7L79.6,330.4L79.1,330.6L78.6,330.2L78.5,329.7L78.6,329.0ZM36.6,343.0L37.1,343.0L37.3,343.2L38.0,345.2L38.0,345.7L37.6,346.1L36.1,346.4L34.6,346.0L33.1,347.2L32.9,347.7L32.6,349.3L32.1,349.4L31.1,349.2L30.2,348.7L29.9,348.2L31.7,344.2L32.1,343.7L33.1,343.6L33.8,343.7L35.1,344.8L35.6,344.4L36.1,343.5ZM33.1,350.0L33.6,350.2L34.0,350.7L33.4,351.7L32.7,353.2L32.7,353.7L33.0,354.2L33.6,355.0L34.1,355.2L34.6,355.1L35.6,354.1L36.1,354.1L36.6,354.3L37.6,355.2L38.4,356.7L39.6,358.2L39.8,358.7L39.7,360.2L39.1,362.2L38.4,363.7L37.6,364.3L36.6,364.3L33.6,363.5L31.1,362.5L28.6,360.7L27.7,359.7L26.9,358.2L26.8,357.2L27.0,356.7L27.9,355.7L28.7,355.2L30.6,354.5L31.5,353.7L31.6,353.2L31.3,352.2L31.4,351.7L32.6,350.3ZM94.6,352.1L95.1,351.8L95.6,351.9L96.6,352.9L97.6,353.3L97.9,353.7L97.7,356.7L98.1,358.2L99.0,359.2L98.8,359.7L98.1,360.1L97.6,360.6L96.8,362.2L95.1,363.7L91.1,368.4L90.1,369.2L89.6,369.4L89.1,369.2L89.0,368.2L89.8,366.2L91.6,363.2L92.3,361.7L93.7,360.2L93.9,359.7L93.6,359.2L92.6,359.2L92.1,358.9L91.9,358.2L91.9,357.7L92.1,357.1L93.1,355.3L93.6,353.6Z" fill="#4f95ba"/>
<path d="M35.1,307.6L35.6,307.7L35.9,308.2L36.0,308.7L35.7,309.2L35.1,309.4L34.6,309.3L34.3,308.7L34.4,308.2L34.6,307.8ZM37.1,313.6L38.1,313.4L38.6,313.5L39.4,314.2L39.6,314.7L39.5,315.7L38.6,317.2L38.1,317.2L36.2,316.7L35.6,316.2L35.5,315.7L35.7,314.7L36.1,314.2ZM30.3,318.2L33.1,317.3L33.6,317.4L33.9,317.7L34.0,318.7L33.6,319.1L33.1,319.3L32.1,318.9L30.5,318.7ZM39.1,318.6L40.1,319.2L41.7,321.2L41.7,321.7L41.3,322.7L40.6,323.2L39.6,323.4L38.9,322.2L38.1,321.6L37.6,321.5L37.1,322.0L36.6,322.9L36.1,323.4L35.1,323.8L35.3,323.2L35.4,322.2L35.2,321.7L34.2,320.7L34.1,320.2L34.3,319.7L34.6,319.4L35.1,319.4L36.6,320.4L37.1,320.5L38.6,318.7ZM32.6,320.1L33.1,319.8L33.5,320.2L33.6,320.7L33.1,321.5L32.6,321.7L32.2,321.2ZM27.6,321.6L28.1,321.5L28.6,321.7L29.1,322.2L30.0,323.7L30.0,325.2L30.2,325.7L31.6,326.2L32.1,326.1L33.6,325.5L35.1,324.2L35.2,324.7L37.2,325.7L37.3,326.2L37.0,327.2L37.1,328.2L36.8,328.7L35.3,329.7L35.2,330.2L35.6,330.8L36.6,331.7L37.1,331.7L37.6,331.2L38.1,331.1L39.1,332.7L39.2,333.2L38.9,334.2L38.6,334.5L38.1,334.6L37.6,334.4L36.6,332.8L35.1,333.0L34.1,332.7L33.1,332.9L32.6,332.8L32.1,332.4L32.0,332.2L32.1,331.7L33.3,331.2L34.0,329.7L34.6,329.2L34.6,328.4L34.1,328.3L33.1,329.2L31.6,329.5L31.1,329.9L30.0,331.2L29.7,334.2L31.6,335.0L32.1,334.9L33.6,333.9L34.1,334.0L35.1,335.0L37.2,335.7L37.3,336.2L36.5,337.2L36.2,338.7L35.6,339.3L35.1,339.4L34.6,339.0L34.1,338.8L33.6,339.0L32.6,339.7L32.2,340.2L31.8,341.7L31.1,342.4L30.1,342.8L28.2,343.2L27.6,343.8L27.1,344.0L26.6,344.0L26.1,343.7L26.2,343.2L27.1,342.6L27.6,341.5L28.9,340.7L29.4,340.2L29.4,339.7L28.7,337.7L29.2,336.7L29.1,334.7L28.1,333.7L27.0,332.2L26.8,331.7L27.0,331.2L28.1,330.3L28.5,329.7L30.1,329.1L30.7,328.7L30.8,328.2L30.0,327.2L29.9,326.7L30.0,325.7L29.1,325.2L28.6,324.2L27.5,323.2L27.3,322.2ZM77.6,323.7L78.1,323.9L78.4,324.2L78.5,324.7L78.1,325.4L77.6,325.6L77.1,325.4L76.6,324.7L76.7,324.2L77.1,323.8ZM39.1,327.7L39.6,327.3L40.1,327.3L40.6,327.3L41.2,327.7L42.3,329.2L42.4,330.2L42.1,330.6L41.6,330.5L41.1,330.2L39.6,329.7L39.0,328.7L38.9,328.2ZM87.6,328.8L88.6,329.8L89.2,330.7L89.2,331.2L88.6,331.7L88.2,332.2L88.0,333.2L88.1,333.6L89.1,333.7L89.6,333.4L89.9,331.2L90.6,330.8L91.1,330.8L91.6,331.0L92.3,331.7L92.3,332.7L92.1,333.7L91.6,334.6L91.0,335.2L91.0,335.7L91.2,336.2L92.0,336.7L92.1,337.2L91.5,338.7L91.1,339.0L90.6,339.2L89.6,338.9L89.1,338.6L88.1,336.8L87.6,336.6L86.6,337.1L86.1,336.9L86.0,336.7L86.3,336.2L87.1,335.7L87.5,335.2L87.7,334.2L87.6,333.8L86.1,334.0L85.5,333.2L85.3,332.2L86.6,329.8ZM92.6,329.7L93.2,330.2L93.1,330.6L92.6,330.5L92.4,330.2ZM82.6,333.9L83.1,333.7L83.6,333.9L84.2,334.7L84.4,335.2L84.3,335.7L84.1,336.2L83.6,336.5L83.1,336.6L82.6,336.3L82.2,335.7L82.1,334.7ZM27.1,335.9L27.6,336.0L28.3,337.2L28.0,337.7L27.0,338.2L26.1,339.8L25.6,339.8L24.6,339.4L24.4,339.2L24.4,338.7ZM93.8,336.2L95.1,336.0L95.4,336.2L95.6,336.7L95.5,337.2L95.1,337.5L94.6,337.3L93.9,336.7ZM38.1,339.1L38.6,339.2L39.0,339.7L39.0,340.2L38.6,340.7L38.1,340.4L37.9,339.7ZM36.6,343.7L37.1,343.9L37.6,344.9L37.6,345.5L37.4,345.7L36.6,345.9L35.6,345.8L35.4,345.7L35.4,345.2L36.3,344.2ZM32.1,344.0L32.6,343.8L33.6,343.8L34.2,344.2L34.5,345.2L34.4,345.7L32.7,347.2L32.1,348.7L31.6,348.8L31.1,348.7L30.6,348.2L31.2,346.2ZM95.1,352.1L95.6,352.3L96.6,353.2L97.4,353.7L97.6,354.0L97.5,356.7L98.3,359.2L96.6,362.0L95.1,363.5L90.6,368.4L90.1,368.7L89.6,368.7L89.4,368.2L89.5,367.7L90.3,365.7L92.6,361.7L94.0,360.2L94.2,359.7L94.1,359.2L93.6,359.0L92.6,358.9L92.3,358.7L92.2,358.2L92.2,357.7L93.9,353.2L94.6,352.3Z" fill="#2f80bb"/>
<path d="M35.1,308.1L35.4,308.2L35.6,308.7L35.1,309.0L34.7,308.7L34.9,308.2ZM37.6,313.6L38.6,313.9L39.3,314.7L39.4,315.2L39.0,316.2L38.6,316.7L38.1,316.9L36.6,316.6L36.0,316.2L35.9,315.7L36.0,314.7L36.4,314.2ZM38.6,319.1L39.1,319.0L39.6,319.1L40.2,319.7L41.2,321.2L41.4,321.7L41.3,322.2L40.6,322.9L40.1,323.0L39.6,322.8L38.6,321.7L37.8,321.2L37.5,320.7L38.0,319.7ZM35.1,319.9L36.6,320.7L37.1,321.2L36.6,322.5L36.1,323.1L35.7,322.7L35.5,321.7L34.7,320.7L34.6,320.2ZM28.1,322.3L28.7,322.7L28.6,323.3L28.1,323.2L27.9,322.7ZM77.6,324.1L77.8,324.2L78.1,324.7L77.6,325.2L77.0,324.7L77.3,324.2ZM35.1,325.1L36.6,325.7L36.8,326.2L36.8,328.2L36.5,328.7L35.6,329.2L35.3,329.2L35.1,329.1L34.8,328.2L34.6,328.0L34.1,328.0L33.1,328.9L32.6,329.1L32.1,329.0L31.6,328.7L30.6,326.7L31.6,326.7ZM39.6,327.7L40.1,327.6L40.6,327.8L41.1,328.2L41.6,329.2L41.1,329.5L40.1,329.4L39.6,329.2L39.3,328.2ZM29.1,329.8L30.3,329.7L30.2,330.2L29.6,331.2L29.6,332.8L29.1,333.5L28.6,333.4L27.5,331.7L27.7,331.2L28.7,330.2ZM87.6,329.5L88.1,329.6L88.7,330.2L88.9,330.7L88.8,331.2L88.1,332.0L87.6,333.2L87.1,333.5L86.1,333.6L85.6,333.0L85.5,332.2L86.7,330.2ZM34.1,330.1L34.6,329.8L35.9,331.7L35.8,332.2L35.1,332.5L34.1,332.1L33.1,332.5L32.6,332.5L32.3,332.2L32.6,331.7L33.6,331.5ZM90.6,331.2L91.1,331.2L91.7,331.7L91.9,332.2L91.8,333.2L91.6,333.8L91.1,334.3L90.6,334.5L90.1,334.3L90.0,334.7L90.2,336.2L89.6,336.8L89.1,336.8L88.5,336.2L88.3,334.7L88.4,334.2L88.6,334.1L89.6,334.2L89.9,333.7L90.1,331.7ZM32.1,335.2L33.6,334.3L34.1,334.5L35.1,335.3L36.1,335.7L36.4,336.2L35.9,337.2L36.1,338.2L35.8,338.7L35.6,338.9L35.1,338.9L34.1,338.3L32.6,339.0L31.8,340.2L31.4,341.7L31.1,342.1L30.1,342.5L29.1,342.6L28.6,342.4L28.3,342.2L28.3,341.7L29.7,340.2L29.3,338.2L29.6,336.7L29.5,335.7L29.6,335.0L30.1,334.7ZM32.0,337.2L31.5,337.7L31.4,338.2L31.6,338.6L32.1,339.0L32.4,338.7L32.8,337.7L32.6,337.1ZM83.1,334.4L83.5,334.7L83.7,335.2L83.6,335.8L83.1,336.1L82.7,335.7L82.5,335.2L82.7,334.7ZM32.6,344.0L33.1,343.9L33.9,344.2L34.2,344.7L34.2,345.2L33.6,346.2L32.1,347.2L31.6,348.3L31.4,348.2L31.3,347.7L31.6,346.7L32.0,344.7L32.2,344.2ZM36.1,345.3L36.6,344.8L37.0,345.2L36.6,345.4ZM94.6,352.5L95.1,352.3L95.6,352.5L97.0,353.7L97.4,354.2L97.3,356.7L97.9,359.2L96.6,361.7L91.1,367.5L90.6,368.0L90.1,368.1L89.9,367.7L90.0,367.2L90.8,365.2L92.8,361.7L94.1,360.4L94.4,359.7L94.1,359.0L93.1,358.7L92.6,358.4L92.5,358.2L92.5,357.7L93.7,353.7L94.1,353.0Z" fill="#116abd"/>
<path d="M37.1,314.0L38.1,313.9L38.6,314.2L39.0,314.7L39.1,315.2L39.0,315.7L38.6,316.3L38.1,316.6L37.6,316.6L36.6,316.3L36.2,315.7L36.3,314.7ZM38.6,319.4L39.1,319.3L39.6,319.4L40.3,320.2L41.0,321.7L40.9,322.2L40.6,322.5L40.1,322.6L39.6,322.4L38.2,321.2L37.9,320.7L38.0,320.2ZM35.1,320.5L35.6,320.4L36.4,321.2L36.5,321.7L36.1,322.5L35.8,321.7L35.0,320.7ZM34.6,325.5L35.6,325.5L36.2,325.7L36.4,326.2L36.5,328.2L36.2,328.7L35.6,328.9L35.3,328.7L35.1,328.1L34.6,327.7L34.1,327.8L33.1,328.6L32.6,328.8L32.1,328.6L31.8,328.2L31.6,327.7L31.7,327.2L32.6,326.3ZM40.1,328.1L40.4,328.2L40.6,328.8L40.1,328.9L39.8,328.7L39.7,328.2ZM87.1,330.1L87.6,329.8L88.1,329.9L88.7,330.7L87.6,332.8L87.2,333.2L86.6,333.5L86.1,333.3L85.7,332.7L85.7,332.2ZM34.6,330.5L35.2,331.2L35.3,331.7L35.1,331.9L34.5,331.7L34.2,331.2L34.3,330.7ZM28.6,331.2L29.1,331.4L29.1,332.6L28.6,332.5L28.3,331.7ZM90.6,331.5L91.1,331.6L91.5,332.2L91.5,333.2L91.1,333.9L90.6,333.9L90.2,333.2L90.2,332.2ZM30.1,335.1L30.6,335.0L32.1,335.6L33.6,334.8L34.1,334.9L35.2,335.7L35.5,336.2L35.3,336.7L35.3,337.2L35.7,338.2L35.6,338.3L35.1,338.4L32.6,336.4L32.1,336.5L31.2,337.7L31.0,338.2L31.6,339.2L31.6,339.7L31.3,340.2L31.1,341.7L30.3,342.2L29.6,342.3L29.1,342.1L28.8,341.7L29.2,341.2L29.8,340.7L30.1,340.2L29.6,338.7L29.9,336.7L29.8,335.7ZM32.6,344.2L33.1,344.1L33.6,344.2L33.9,344.7L34.0,345.2L33.6,345.9L33.1,346.3L32.6,346.4L32.2,346.2L32.1,345.7L32.2,344.7ZM94.6,352.6L95.1,352.5L95.6,352.8L97.1,354.2L97.2,354.7L97.1,356.7L97.7,359.2L96.6,361.4L93.6,364.7L92.1,366.1L90.6,367.2L90.6,366.7L91.1,365.2L93.0,361.7L94.1,360.6L94.6,359.7L94.5,359.2L94.1,358.7L92.9,358.2L92.8,357.7L93.8,353.7Z" fill="#1853a9"/>
<path d="M37.1,314.2L37.6,314.1L38.1,314.1L38.7,314.7L38.8,315.2L38.7,315.7L38.1,316.3L37.1,316.3L36.4,315.7L36.4,315.2L36.5,314.7ZM38.6,319.7L39.1,319.5L39.6,319.7L40.0,320.2L40.7,321.7L40.4,322.2L40.1,322.3L39.6,322.0L38.5,321.2L38.2,320.7L38.2,320.2ZM35.1,325.7L35.6,325.8L36.1,326.2L36.2,328.2L36.1,328.4L35.6,328.5L35.1,327.7L34.6,327.4L34.1,327.5L33.1,328.3L32.6,328.5L32.2,328.2L31.9,327.7L32.0,327.2L32.4,326.7L33.1,326.3ZM87.6,330.1L88.1,330.2L88.3,330.7L87.4,332.7L87.1,333.0L86.5,333.2L86.1,333.0L85.9,332.7L86.0,332.2L87.1,330.5ZM90.6,332.0L91.1,332.1L91.2,332.2L91.3,332.7L91.1,333.4L90.6,333.4L90.5,333.2L90.4,332.7ZM30.6,335.3L31.5,335.7L31.8,336.2L31.1,337.2L30.6,337.7L30.3,337.2L30.1,335.7ZM33.0,335.7L33.6,335.2L34.1,335.4L34.5,335.7L34.6,336.2L34.1,336.6L33.6,336.5L33.1,336.2ZM30.1,338.5L30.6,338.4L31.2,339.2L31.1,339.8L30.6,340.0L30.4,339.7L30.0,339.2ZM30.1,341.0L30.6,341.0L30.7,341.2L30.6,341.7L30.1,341.9L29.6,341.8L29.5,341.7L29.6,341.4ZM32.6,344.4L33.1,344.3L33.7,344.7L33.8,345.2L33.6,345.5L33.1,346.0L32.6,346.0L32.4,345.7L32.4,344.7ZM94.6,352.8L95.1,352.7L95.6,353.0L96.9,354.2L97.0,354.7L97.0,356.7L97.4,358.2L97.5,359.2L96.6,361.1L95.6,362.0L93.6,364.5L91.6,366.1L91.2,365.7L92.1,363.7L93.2,361.7L94.3,360.7L94.6,360.2L94.7,359.7L94.6,359.1L94.1,358.5L93.4,358.2L93.1,357.7L93.2,356.2L93.8,354.2L94.1,353.4Z" fill="#283c91"/>
<path d="M37.1,314.5L37.6,314.3L38.4,314.7L38.6,315.2L38.4,315.7L38.1,316.0L37.6,316.2L37.1,316.0L36.7,315.7L36.6,315.2ZM38.6,320.1L39.1,319.8L39.6,320.0L40.2,321.2L40.1,321.8L39.6,321.7L38.9,321.2L38.5,320.7ZM32.7,326.7L35.1,326.0L35.7,326.2L35.9,326.7L35.8,327.2L35.6,327.6L34.6,327.2L34.1,327.3L33.1,328.1L32.6,328.2L32.2,327.7L32.3,327.2ZM87.6,330.6L87.8,330.7L87.1,332.7L86.6,332.9L86.2,332.7L86.3,332.2L87.1,331.3L87.4,331.2ZM32.6,344.7L33.1,344.5L33.4,344.7L33.5,345.2L33.1,345.7L32.6,345.6L32.5,345.2ZM94.6,353.0L95.1,352.9L95.6,353.2L96.6,354.2L96.9,354.7L96.8,356.7L97.3,358.2L97.4,359.2L96.6,360.8L95.5,361.7L94.1,363.8L93.1,364.7L92.1,365.3L91.9,365.2L92.1,364.2L93.1,362.2L93.6,361.5L94.6,360.7L94.8,360.2L94.8,359.2L94.6,358.8L93.6,358.0L93.4,357.7L93.3,357.2L93.3,356.2L93.9,354.2L94.1,353.5Z" fill="#202c6a"/>
<path d="M37.6,314.6L38.1,314.8L38.3,315.2L38.1,315.7L37.6,315.9L37.1,315.7L36.9,315.2L37.1,314.8ZM39.1,320.2L39.6,320.6L39.6,321.2L39.1,321.0L38.9,320.7ZM33.1,326.6L35.1,326.6L35.3,326.7L35.1,326.8L34.6,326.7L34.1,326.9L33.9,327.2L33.1,327.8L32.6,327.8L32.5,327.2ZM94.6,353.1L95.1,353.0L95.6,353.3L96.4,354.2L96.7,354.7L96.7,356.7L97.2,358.2L97.2,359.2L96.6,360.6L96.1,361.1L95.1,361.7L94.7,362.7L94.1,363.5L93.1,364.4L92.6,364.6L92.4,364.2L92.5,363.7L93.1,362.5L93.6,361.7L94.6,361.1L94.9,360.2L94.9,359.2L94.7,358.7L93.6,357.7L93.4,356.7L94.1,353.8Z" fill="#171c42"/>
<g clip-path="url(#h20)"><use href="#hl" x="66.1" y="335.7" fill="none" stroke="#484848" stroke-width="0.46" opacity="0.88"/></g>
<use href="#land" x="66.1" y="335.7" fill="#fff" fill-rule="evenodd" stroke="#454545" stroke-width="0.6" stroke-linejoin="round"/>
<use href="#grat" x="66.1" y="335.7"/>
<path d="M25.9,321.1L25.4,322.5L24.9,324.0L24.5,325.5L24.2,326.9L23.9,328.5L23.7,330.0L23.5,331.5L23.4,333.0L23.3,334.6L23.3,336.1L23.3,337.6L23.4,339.1L23.6,340.7L23.8,342.2L24.0,343.7L24.3,345.2L24.7,346.7L25.1,348.2L25.6,349.6L26.1,351.1L26.7,352.5L27.3,353.9L28.0,355.3L28.7,356.6L29.5,357.9L30.3,359.2L31.2,360.5L32.1,361.7L33.1,362.9L34.0,364.1L35.1,365.2L36.2,366.3L37.3,367.4L38.4,368.4L39.6,369.4L40.8,370.3L42.1,371.2L43.4,372.0L44.7,372.8L49.9,363.8L48.9,363.2L47.9,362.6L47.0,361.9L46.0,361.2L45.1,360.5L44.3,359.7L43.4,358.9L42.6,358.1L41.8,357.2L41.1,356.3L40.3,355.4L39.6,354.5L39.0,353.5L38.4,352.6L37.8,351.5L37.2,350.5L36.7,349.5L36.2,348.4L35.8,347.3L35.4,346.3L35.1,345.1L34.7,344.0L34.5,342.9L34.2,341.8L34.0,340.6L33.9,339.5L33.8,338.3L33.7,337.2L33.6,336.0L33.7,334.8L33.7,333.7L33.8,332.5L33.9,331.4L34.1,330.2L34.3,329.1L34.6,327.9L34.9,326.8L35.2,325.7L35.6,324.6Z" fill="none" stroke="#111" stroke-width="0.75"/>
<path d="M83.5,373.0L84.5,372.5L85.5,372.0L86.4,371.5L87.4,370.9L88.3,370.3L89.2,369.7L90.1,369.1L91.0,368.4L91.9,367.7L92.7,367.0L93.6,366.3L94.4,365.6L95.2,364.8L96.0,364.0L96.7,363.2L97.4,362.3L98.1,361.5L98.8,360.6L99.5,359.7L100.1,358.8L100.7,357.9L101.3,357.0L101.9,356.0L102.4,355.1L102.9,354.1L103.4,353.1L103.8,352.1L104.3,351.1L104.7,350.0L105.0,349.0L105.4,347.9L105.7,346.9L106.0,345.8L106.2,344.7L106.5,343.7L106.7,342.6L106.8,341.5L107.0,340.4L107.1,339.3L93.1,338.1L93.0,338.8L93.0,339.5L92.8,340.2L92.7,340.9L92.6,341.7L92.4,342.4L92.2,343.1L92.0,343.8L91.8,344.5L91.5,345.1L91.3,345.8L91.0,346.5L90.7,347.2L90.4,347.8L90.0,348.5L89.7,349.1L89.3,349.7L88.9,350.3L88.5,351.0L88.1,351.6L87.7,352.1L87.2,352.7L86.8,353.3L86.3,353.8L85.8,354.4L85.3,354.9L84.8,355.4L84.2,355.9L83.7,356.4L83.1,356.8L82.5,357.3L82.0,357.7L81.4,358.1L80.7,358.5L80.1,358.9L79.5,359.3L78.9,359.6L78.2,360.0L77.6,360.3Z" fill="none" stroke="#111" stroke-width="0.75"/>
</g>
<circle cx="66.1" cy="335.7" r="48.5" fill="none" stroke="#3a3a3a" stroke-width="0.5"/>
<text x="66.1" y="285.09999999999997" font-size="4.66" text-anchor="middle">(c) Δ<tspan font-style="italic">θ</tspan>(SST; <tspan font-style="italic">ϕ</tspan><tspan font-size="3.4" dy="1.1">DJF</tspan><tspan dy="-1.1">, pentad = 3)</tspan></text>
<text x="31.75" y="293.50" font-size="5.2" text-anchor="middle">120°E</text>
<text x="117.70" y="328.50" font-size="5.2" text-anchor="middle">0°</text>
<text x="100.60" y="380.70" font-size="5.2" text-anchor="middle">60°W</text>
<text x="50.00" y="388.55" font-size="5.2" text-anchor="middle">120°W</text>
<text x="11.25" y="345.60" font-size="5.2" text-anchor="middle">20°N</text>
<rect x="123.90" y="376.32" width="6.3" height="4.63" fill="#202c6a"/><rect x="123.90" y="371.84" width="6.3" height="4.63" fill="#283c91"/><rect x="123.90" y="367.36" width="6.3" height="4.63" fill="#1853a9"/><rect x="123.90" y="362.88" width="6.3" height="4.63" fill="#116abd"/><rect x="123.90" y="358.40" width="6.3" height="4.63" fill="#2f80bb"/><rect x="123.90" y="353.92" width="6.3" height="4.63" fill="#4f95ba"/><rect x="123.90" y="349.44" width="6.3" height="4.63" fill="#76a9bf"/><rect x="123.90" y="344.96" width="6.3" height="4.63" fill="#9bbcc7"/><rect x="123.90" y="340.48" width="6.3" height="4.63" fill="#bfced4"/><rect x="123.90" y="336.00" width="6.3" height="4.63" fill="#e1e3e5"/><rect x="123.90" y="331.52" width="6.3" height="4.63" fill="#ede1dd"/><rect x="123.90" y="327.04" width="6.3" height="4.63" fill="#e1c3b9"/><rect x="123.90" y="322.56" width="6.3" height="4.63" fill="#d8a796"/><rect x="123.90" y="318.08" width="6.3" height="4.63" fill="#cf8a73"/><rect x="123.90" y="313.60" width="6.3" height="4.63" fill="#c66d51"/><rect x="123.90" y="309.12" width="6.3" height="4.63" fill="#bb4f3a"/><rect x="123.90" y="304.64" width="6.3" height="4.63" fill="#ae3127"/><rect x="123.90" y="300.16" width="6.3" height="4.63" fill="#961f26"/><rect x="123.90" y="295.68" width="6.3" height="4.63" fill="#7a0f28"/><rect x="123.90" y="291.20" width="6.3" height="4.63" fill="#5b0c1d"/><path d="M123.90,291.20L127.05,286.75L130.20,291.20Z" fill="#3c0911"/><path d="M123.90,380.80L127.05,385.25L130.20,380.80Z" fill="#171c42"/><path d="M123.90,291.20L127.05,286.75L130.20,291.20L130.20,380.80L127.05,385.25L123.90,380.80Z" fill="none" stroke="#222" stroke-width="0.25"/><path d="M130.20,295.68h1.2" stroke="#222" stroke-width="0.3"/><text x="131.95" y="297.18" font-size="4.05">0.9</text><path d="M130.20,309.12h1.2" stroke="#222" stroke-width="0.3"/><text x="131.95" y="310.62" font-size="4.05">0.6</text><path d="M130.20,322.56h1.2" stroke="#222" stroke-width="0.3"/><text x="131.95" y="324.06" font-size="4.05">0.3</text><path d="M130.20,336.00h1.2" stroke="#222" stroke-width="0.3"/><text x="131.95" y="337.50" font-size="4.05">0.0</text><path d="M130.20,349.44h1.2" stroke="#222" stroke-width="0.3"/><text x="131.95" y="350.94" font-size="4.05">−0.3</text><path d="M130.20,362.88h1.2" stroke="#222" stroke-width="0.3"/><text x="131.95" y="364.38" font-size="4.05">−0.6</text><path d="M130.20,376.32h1.2" stroke="#222" stroke-width="0.3"/><text x="131.95" y="377.82" font-size="4.05">−0.9</text><text transform="translate(147.10,335.10) rotate(-90)" font-size="6.6" text-anchor="middle">[ K ]</text>
<g clip-path="url(#c01)">
<circle cx="240.0" cy="59.4" r="48.5" fill="#e1e3e5"/>
<path d="M253.8,9.4L286.2,9.4L286.5,13.8L287.0,15.8L287.5,16.6L288.0,17.1L289.0,17.5L290.0,17.7L290.0,23.8L289.0,24.1L288.0,24.7L284.1,28.4L283.1,29.9L282.9,31.4L283.5,32.8L284.5,33.7L288.0,35.2L290.0,35.7L290.0,40.8L287.0,40.3L282.5,39.8L281.0,39.2L279.0,37.9L275.5,34.9L274.6,33.9L273.9,32.9L273.7,31.4L273.9,28.4L273.7,27.4L273.1,26.4L272.0,25.4L271.0,24.8L269.5,24.3L268.0,24.2L266.0,24.4L264.9,24.9L264.1,25.9L263.2,28.4L262.0,29.9L259.0,32.7L254.0,37.6L252.5,38.7L251.5,39.2L250.5,39.4L249.0,39.4L247.5,39.2L245.5,38.7L243.0,37.5L239.0,34.6L237.5,34.0L236.0,33.8L234.5,33.8L232.5,34.2L223.5,37.9L222.9,38.4L222.6,38.9L222.5,39.4L222.7,39.9L223.6,40.9L226.5,43.1L227.5,44.1L228.0,44.9L228.3,45.9L228.4,46.9L228.2,47.9L227.4,49.9L224.7,54.4L223.2,57.9L222.6,58.9L221.9,59.4L219.5,60.1L218.5,60.6L218.0,60.9L217.3,61.9L216.8,62.9L216.4,64.4L216.2,66.4L216.2,67.9L216.6,68.9L217.0,69.2L218.0,69.2L219.0,68.7L220.0,68.0L223.0,65.1L224.0,64.5L224.5,64.4L225.0,64.7L225.5,65.2L227.0,67.8L227.9,69.9L228.2,71.4L228.0,74.4L228.4,75.9L229.0,76.9L232.5,80.7L233.5,82.3L234.1,83.9L234.5,85.4L234.5,86.9L234.2,90.9L234.3,93.9L234.0,94.8L233.4,95.4L232.5,95.7L227.0,96.8L222.0,98.2L217.5,99.3L216.5,99.8L215.5,100.6L212.5,104.0L211.5,104.6L210.5,104.8L209.5,104.8L209.0,104.5L208.5,103.8L207.0,101.1L206.4,100.4L205.5,99.7L204.5,99.3L203.5,99.2L202.0,99.2L200.5,99.4L199.0,100.0L197.5,101.4L197.0,102.4L195.7,105.4L194.5,107.0L193.5,107.5L193.0,107.6L192.0,107.5L190.0,106.8L190.0,99.6L191.0,99.1L192.0,97.9L192.7,96.4L193.0,94.9L192.9,93.9L192.5,93.4L191.5,93.1L190.0,92.9L190.0,59.5L192.9,58.4L193.9,57.4L194.0,56.9L194.0,55.9L192.8,53.4L192.6,52.4L193.0,52.0L193.5,52.1L197.0,54.2L198.5,54.7L204.0,55.0L205.5,55.3L209.0,56.6L211.0,57.1L212.5,57.3L214.0,57.2L215.0,56.8L216.0,56.2L217.0,55.0L217.7,53.9L218.8,51.4L219.8,47.4L220.8,44.4L221.1,42.4L221.2,40.9L220.8,39.4L219.8,38.4L216.5,35.9L213.0,32.1L210.0,29.4L209.3,28.4L209.1,27.9L209.2,26.9L209.7,25.4L210.5,24.0L211.5,23.2L212.0,23.1L212.5,23.3L218.5,27.9L219.5,28.3L221.0,28.1L222.0,27.6L222.9,26.9L224.0,25.4L224.6,23.9L225.4,20.4L226.0,19.4L227.0,18.6L228.0,18.3L229.0,18.6L229.5,19.0L231.5,22.2L232.5,23.2L233.0,23.4L234.0,23.6L235.5,23.3L237.5,22.4L238.7,21.4L239.3,20.4L240.0,17.7L240.5,16.8L241.0,16.4L242.0,16.2L245.5,16.6L248.5,16.6L251.0,16.1L252.5,15.4L253.0,14.8L253.4,13.9L253.7,11.9ZM254.4,17.4L253.5,18.1L251.7,20.4L251.3,21.4L251.4,21.9L251.8,22.4L252.6,22.9L254.0,23.4L256.0,23.7L258.5,23.5L259.8,22.9L260.1,22.4L260.2,21.4L259.7,19.9L259.0,18.9L258.0,18.0L256.5,17.3L255.5,17.2ZM210.0,72.9L207.9,73.4L205.1,74.4L204.0,74.9L202.8,75.9L202.4,76.4L202.1,77.4L202.3,78.9L203.0,80.4L204.0,81.4L205.0,82.0L206.0,82.2L207.5,82.0L208.5,81.4L209.5,80.6L211.5,78.2L212.8,75.9L213.1,74.4L213.0,73.7L212.5,73.0L212.0,72.8ZM254.5,44.9L255.5,44.7L256.5,44.9L257.0,45.1L257.4,45.4L257.7,45.9L257.8,46.4L257.6,46.9L257.0,47.4L256.0,47.5L255.4,47.4L254.5,46.9L254.1,46.4L253.9,45.9L254.0,45.4ZM273.5,58.3L275.5,58.1L276.4,58.4L277.0,58.9L277.5,59.9L278.5,63.4L280.9,66.9L281.5,68.4L281.4,70.4L280.5,73.4L279.6,77.4L279.0,78.9L277.3,81.9L276.7,83.4L276.6,84.4L277.0,85.4L277.5,85.8L278.5,86.1L279.5,86.1L281.0,85.7L282.5,84.5L283.5,83.3L285.0,80.9L285.9,79.9L287.5,79.1L290.0,78.9L290.0,85.1L284.5,85.3L282.0,85.7L280.5,86.6L276.0,90.2L274.6,91.9L273.9,93.4L273.8,94.4L274.0,95.4L276.8,99.4L277.7,100.9L280.5,106.9L280.9,108.4L281.0,109.4L238.8,109.4L239.0,107.4L239.6,104.9L240.2,103.4L241.0,102.4L241.5,102.1L242.5,101.8L246.5,102.1L248.5,101.9L249.7,101.4L250.1,100.9L250.3,100.4L250.4,96.9L250.6,94.9L251.3,93.4L252.7,91.4L253.1,89.9L252.9,88.4L251.6,83.4L250.9,77.4L250.9,75.9L251.1,74.4L251.5,73.1L252.1,71.9L252.5,71.4L253.5,70.8L259.0,69.5L261.5,68.4L263.3,66.9L266.0,63.3L267.9,61.4L270.9,59.4ZM265.1,95.4L264.5,95.9L264.1,97.4L264.1,98.4L264.5,99.1L265.0,99.2L265.5,98.8L266.0,98.1L266.4,96.9L266.3,95.9L266.0,95.5L265.5,95.3Z" fill="#ede1dd"/>
<path d="M249.0,26.4L250.5,26.3L252.0,26.5L253.5,26.9L254.8,27.4L255.6,27.9L256.4,28.9L256.5,30.4L256.3,31.4L255.5,32.9L254.4,34.4L253.0,35.6L252.0,36.3L250.5,36.9L249.5,37.1L248.0,37.1L246.5,36.8L245.5,36.4L244.5,35.9L243.2,34.9L242.3,33.9L241.3,32.4L240.8,31.4L240.6,30.4L240.7,29.9L241.2,29.4L242.8,28.4L246.0,27.1ZM203.0,58.8L205.0,58.5L207.0,58.8L209.5,59.7L211.2,60.9L212.2,62.4L212.4,63.9L212.1,65.9L211.0,68.0L209.6,69.4L208.0,70.4L206.0,71.1L203.5,71.6L201.5,71.6L199.5,71.3L196.0,70.3L195.1,69.9L194.5,69.5L194.1,68.9L194.1,67.9L194.4,66.9L195.3,65.4L200.0,60.5L201.5,59.4ZM190.5,71.0L192.0,71.2L193.0,72.2L195.0,75.9L195.4,77.4L195.5,78.4L195.2,79.9L194.0,81.5L192.0,83.0L191.0,83.5L190.0,83.7L190.0,71.0ZM263.0,72.4L264.5,72.5L266.0,72.9L268.0,74.2L270.1,75.9L271.1,76.9L271.8,77.9L272.2,78.9L272.2,80.4L271.7,81.9L270.7,83.4L269.3,84.9L267.5,86.3L265.5,87.5L263.5,88.2L261.5,88.6L260.0,88.5L259.0,88.2L257.5,87.3L256.5,86.4L255.5,85.1L254.9,83.9L254.4,82.4L254.4,80.9L254.5,79.9L254.9,78.4L255.5,77.2L256.4,75.9L257.5,74.7L258.5,73.9L260.0,73.1L261.5,72.6ZM219.0,85.3L220.5,85.0L223.0,85.2L225.0,85.7L226.0,86.4L226.7,87.4L227.0,88.9L226.8,90.4L226.2,91.4L225.5,91.9L224.5,92.3L223.0,92.4L221.3,91.9L219.1,90.4L217.7,88.9L217.4,88.4L217.2,87.4L217.6,86.4L218.0,85.9Z" fill="#e1c3b9"/>
<path d="M248.5,28.4L250.5,28.3L251.5,28.4L252.5,28.8L253.5,29.7L253.9,30.9L253.6,32.4L252.5,33.8L251.0,34.9L249.5,35.3L248.0,35.3L246.5,34.8L245.3,33.9L244.9,33.4L244.4,32.4L244.4,31.4L244.6,30.9L245.4,29.9L246.9,28.9ZM204.0,61.3L206.0,61.3L207.6,61.9L208.5,62.7L209.0,63.4L209.3,64.9L209.1,65.9L208.6,66.9L207.5,68.1L206.5,68.7L205.5,69.1L203.5,69.3L202.0,69.0L200.5,68.2L199.8,67.4L199.6,66.9L199.5,65.9L200.0,64.4L201.1,62.9L202.5,61.9ZM261.0,75.7L262.0,75.5L263.0,75.4L264.0,75.6L265.0,75.9L266.0,76.6L266.9,77.4L267.6,78.4L268.0,79.4L267.9,80.9L267.4,81.9L266.6,82.9L264.5,84.5L262.5,85.2L261.5,85.3L260.5,85.1L259.0,84.5L257.9,83.4L257.2,81.9L257.2,80.4L257.4,79.4L257.9,78.4L259.1,76.9L260.0,76.2Z" fill="#d8a796"/>
<path d="M248.5,30.7L249.5,30.5L250.0,30.5L250.7,30.9L251.0,31.4L251.0,31.9L250.7,32.4L250.1,32.9L249.5,33.1L248.5,33.1L248.0,32.8L247.7,32.4L247.5,31.9L247.7,31.4ZM204.0,65.3L204.5,64.9L205.0,65.2L205.1,65.4L204.5,66.0L204.0,65.7ZM262.0,79.3L262.8,79.4L263.2,79.9L263.2,80.4L262.9,80.9L262.0,81.3L261.3,80.9L261.1,80.4L261.5,79.6Z" fill="#cf8a73"/>
<path d="M190.0,9.4L191.0,9.4L204.8,9.4L204.6,10.9L204.2,11.9L203.5,12.9L202.5,13.5L201.5,13.7L200.5,13.5L199.3,12.9L197.0,11.4L196.0,11.1L195.5,11.4L193.9,13.4L192.8,14.4L191.5,15.1L190.0,15.4ZM236.5,38.3L237.5,38.3L238.5,38.7L243.5,42.0L244.5,42.9L244.9,43.4L245.3,44.9L245.2,51.4L245.9,55.9L245.9,56.9L245.2,58.9L241.8,64.9L241.5,65.9L241.4,66.9L241.8,67.9L243.5,70.8L244.9,75.9L247.1,80.4L247.5,81.9L247.6,83.4L247.2,84.9L246.1,86.4L244.5,87.6L242.5,88.3L241.5,88.3L240.5,88.0L239.6,87.4L239.0,86.7L238.3,85.4L236.6,80.9L234.6,76.4L234.4,75.4L234.5,74.1L235.0,73.0L236.4,70.9L236.7,69.9L236.6,69.4L236.1,68.9L233.0,67.5L231.6,66.4L230.6,64.9L230.0,62.9L229.9,60.9L230.0,58.9L230.7,55.4L233.7,46.4L234.4,43.4L234.8,39.9L235.4,38.9ZM212.0,39.4L213.5,39.7L215.0,40.6L215.5,41.1L215.9,41.9L216.0,42.9L215.5,44.1L214.5,45.2L213.6,45.9L213.4,46.4L214.9,48.4L215.4,49.4L215.7,50.4L215.5,51.9L215.0,52.9L214.0,54.0L213.0,54.5L211.5,54.7L210.1,54.4L209.0,53.8L208.1,52.9L207.8,52.4L207.5,51.4L207.7,50.4L208.6,48.9L210.0,47.7L212.0,46.4L212.1,45.9L210.3,43.4L209.9,42.4L209.8,41.4L210.0,40.4L210.4,39.9L211.0,39.5ZM271.0,39.8L272.0,39.6L273.5,39.7L275.0,40.4L276.3,41.4L277.2,42.4L278.1,43.9L278.4,45.4L278.4,46.9L278.1,47.9L277.3,49.4L276.0,51.1L274.5,52.6L273.0,53.6L271.5,54.4L270.0,54.8L268.5,54.9L267.5,54.6L267.0,54.2L266.5,53.7L266.0,52.7L265.6,50.4L265.8,47.9L266.5,44.9L267.5,42.6L269.0,40.9L270.0,40.3ZM252.0,55.2L253.5,55.0L255.0,55.4L257.3,56.9L259.4,58.9L260.0,59.9L260.1,60.9L259.9,61.9L259.0,63.2L258.5,63.6L257.5,64.0L256.5,64.0L255.5,63.8L253.5,62.8L251.4,60.9L250.1,58.9L249.9,57.4L250.0,56.9L250.5,56.2L251.0,55.7ZM228.5,107.1L229.0,107.0L230.0,107.5L230.7,108.4L231.1,109.4L227.8,109.4L228.0,107.9Z" fill="#bfced4"/>
<path d="M272.0,44.3L272.5,44.3L273.0,44.4L273.4,44.9L273.6,45.4L273.5,46.2L273.1,46.9L272.5,47.5L272.0,47.6L271.5,47.6L271.2,47.4L270.9,46.9L270.8,46.4L271.0,45.2L271.5,44.6ZM237.0,51.6L237.5,51.4L238.0,51.4L238.5,51.7L239.0,52.3L239.6,54.4L239.6,56.9L239.0,58.8L238.0,60.2L236.5,61.5L235.5,61.9L235.0,61.8L234.6,61.4L234.4,60.9L234.3,59.4L234.5,57.4L235.0,54.9L235.5,53.4L236.0,52.6Z" fill="#9bbcc7"/>
<g clip-path="url(#h01)"><use href="#hl" x="240.0" y="59.4" fill="none" stroke="#505050" stroke-width="0.42" opacity="0.8"/></g>
<use href="#land" x="240.0" y="59.4" fill="none" stroke="#4c4c4c" stroke-width="0.6" stroke-linejoin="round"/>
<use href="#grat" x="240.0" y="59.4"/>
</g>
<circle cx="240.0" cy="59.4" r="48.5" fill="none" stroke="#3a3a3a" stroke-width="0.5"/>
<text x="240.0" y="8.799999999999997" font-size="4.66" text-anchor="middle">(d) Δ<tspan font-style="italic">θ</tspan>(<tspan font-style="italic">Z</tspan><tspan font-size="3.4" dy="1.1">850</tspan><tspan dy="-1.1">; </tspan><tspan font-style="italic">ϕ</tspan><tspan font-size="3.4" dy="1.1">DJF</tspan><tspan dy="-1.1">, pentad = 1)</tspan></text>
<text x="205.65" y="17.20" font-size="5.2" text-anchor="middle">120°E</text>
<text x="291.60" y="52.20" font-size="5.2" text-anchor="middle">0°</text>
<text x="274.50" y="104.40" font-size="5.2" text-anchor="middle">60°W</text>
<text x="223.90" y="112.25" font-size="5.2" text-anchor="middle">120°W</text>
<text x="185.15" y="69.30" font-size="5.2" text-anchor="middle">20°N</text>
<rect x="297.80" y="100.02" width="6.3" height="4.63" fill="#202c6a"/><rect x="297.80" y="95.54" width="6.3" height="4.63" fill="#283c91"/><rect x="297.80" y="91.06" width="6.3" height="4.63" fill="#1853a9"/><rect x="297.80" y="86.58" width="6.3" height="4.63" fill="#116abd"/><rect x="297.80" y="82.10" width="6.3" height="4.63" fill="#2f80bb"/><rect x="297.80" y="77.62" width="6.3" height="4.63" fill="#4f95ba"/><rect x="297.80" y="73.14" width="6.3" height="4.63" fill="#76a9bf"/><rect x="297.80" y="68.66" width="6.3" height="4.63" fill="#9bbcc7"/><rect x="297.80" y="64.18" width="6.3" height="4.63" fill="#bfced4"/><rect x="297.80" y="59.70" width="6.3" height="4.63" fill="#e1e3e5"/><rect x="297.80" y="55.22" width="6.3" height="4.63" fill="#ede1dd"/><rect x="297.80" y="50.74" width="6.3" height="4.63" fill="#e1c3b9"/><rect x="297.80" y="46.26" width="6.3" height="4.63" fill="#d8a796"/><rect x="297.80" y="41.78" width="6.3" height="4.63" fill="#cf8a73"/><rect x="297.80" y="37.30" width="6.3" height="4.63" fill="#c66d51"/><rect x="297.80" y="32.82" width="6.3" height="4.63" fill="#bb4f3a"/><rect x="297.80" y="28.34" width="6.3" height="4.63" fill="#ae3127"/><rect x="297.80" y="23.86" width="6.3" height="4.63" fill="#961f26"/><rect x="297.80" y="19.38" width="6.3" height="4.63" fill="#7a0f28"/><rect x="297.80" y="14.90" width="6.3" height="4.63" fill="#5b0c1d"/><path d="M297.80,14.90L300.95,10.45L304.10,14.90Z" fill="#3c0911"/><path d="M297.80,104.50L300.95,108.95L304.10,104.50Z" fill="#171c42"/><path d="M297.80,14.90L300.95,10.45L304.10,14.90L304.10,104.50L300.95,108.95L297.80,104.50Z" fill="none" stroke="#222" stroke-width="0.25"/><path d="M304.10,19.38h1.2" stroke="#222" stroke-width="0.3"/><text x="305.85" y="20.88" font-size="4.05">18</text><path d="M304.10,32.82h1.2" stroke="#222" stroke-width="0.3"/><text x="305.85" y="34.32" font-size="4.05">12</text><path d="M304.10,46.26h1.2" stroke="#222" stroke-width="0.3"/><text x="305.85" y="47.76" font-size="4.05">6</text><path d="M304.10,59.70h1.2" stroke="#222" stroke-width="0.3"/><text x="305.85" y="61.20" font-size="4.05">0</text><path d="M304.10,73.14h1.2" stroke="#222" stroke-width="0.3"/><text x="305.85" y="74.64" font-size="4.05">−6</text><path d="M304.10,86.58h1.2" stroke="#222" stroke-width="0.3"/><text x="305.85" y="88.08" font-size="4.05">−12</text><path d="M304.10,100.02h1.2" stroke="#222" stroke-width="0.3"/><text x="305.85" y="101.52" font-size="4.05">−18</text><text transform="translate(321.00,58.80) rotate(-90)" font-size="6.6" text-anchor="middle">[ m ]</text>
<g clip-path="url(#c11)">
<circle cx="240.0" cy="197.55" r="48.5" fill="#e1e3e5"/>
<path d="M286.5,147.6L290.0,147.6L290.0,149.0L288.5,149.0L287.5,148.7L286.7,148.1ZM239.0,155.3L240.0,155.1L241.5,155.4L244.7,157.6L250.8,160.6L252.3,161.6L253.0,162.2L253.6,163.1L254.5,166.6L255.5,168.3L257.0,169.8L260.2,172.1L261.5,173.5L265.1,180.6L265.7,182.1L266.0,183.6L266.0,185.6L265.5,187.8L264.6,189.6L263.5,190.7L262.0,191.4L261.0,191.4L260.0,191.2L258.0,190.4L253.0,187.5L251.5,186.8L250.0,186.4L247.5,186.1L242.5,186.3L240.5,186.0L239.6,185.6L239.0,185.1L234.4,179.6L233.8,178.6L233.3,177.1L232.8,172.1L232.5,170.5L231.9,169.1L230.1,166.1L229.8,165.1L229.8,164.1L230.2,163.1L231.0,162.1L234.7,159.1L238.0,156.0ZM205.0,157.0L206.0,156.7L206.5,156.9L207.0,157.4L207.3,158.6L207.5,161.1L207.9,162.6L208.6,164.1L210.1,166.6L210.4,167.6L210.4,168.1L210.0,169.0L208.2,170.6L207.8,171.1L207.6,171.6L207.7,173.1L208.4,174.6L210.2,177.1L214.2,181.1L216.5,184.9L217.3,186.1L218.5,187.0L221.5,189.0L222.3,190.1L222.4,191.6L221.7,195.6L221.7,198.1L222.0,200.1L222.9,201.6L226.3,204.1L228.0,205.6L229.5,206.4L231.0,206.7L235.0,206.9L238.5,207.7L240.0,207.9L241.5,207.6L242.5,206.8L244.9,203.1L245.8,202.1L246.5,201.5L248.0,200.8L249.5,200.5L251.0,200.5L252.5,200.9L253.5,201.3L254.7,202.1L255.5,202.8L256.4,204.1L257.7,206.6L259.8,211.6L261.6,215.1L262.0,216.6L261.8,217.6L261.2,218.6L260.2,219.6L258.0,220.9L253.5,222.8L248.5,225.4L246.5,226.1L244.5,226.5L243.0,226.5L238.2,225.6L234.5,225.1L233.0,224.5L229.5,222.0L228.1,221.6L227.0,221.4L225.5,221.8L224.3,222.6L223.0,224.1L222.1,225.6L221.3,227.6L221.0,229.1L221.1,230.1L221.5,230.6L222.0,230.8L223.0,231.0L227.5,231.0L229.0,231.2L230.3,231.6L231.5,232.2L234.5,235.1L238.0,237.1L240.0,238.8L241.0,240.1L242.7,243.1L244.6,245.6L245.0,246.6L245.2,247.6L227.0,247.6L227.3,246.6L228.0,245.6L230.5,243.8L231.6,242.6L232.0,241.6L232.0,240.6L231.8,239.6L231.1,238.6L230.5,238.2L229.5,238.0L226.0,238.4L224.0,238.4L222.0,238.0L220.0,237.2L219.1,236.6L218.8,236.1L218.6,235.1L218.5,232.1L218.3,231.6L217.3,230.6L214.9,229.1L210.0,227.1L206.0,225.2L204.5,225.0L203.5,225.3L202.5,226.1L200.5,228.6L199.5,229.3L198.5,229.6L197.5,229.8L196.0,229.7L191.5,228.8L190.0,228.7L190.0,196.8L191.0,196.2L191.9,195.1L193.0,192.4L193.7,190.1L193.9,188.1L192.8,184.1L192.9,182.1L193.4,180.6L194.2,179.1L196.1,176.1L197.6,174.1L198.7,173.1L200.0,172.1L204.0,170.3L204.8,169.6L204.9,169.1L204.9,168.1L203.9,162.1L203.8,160.1L204.0,158.6L204.5,157.6ZM288.5,192.5L290.0,192.1L290.0,202.4L288.5,202.0L286.6,201.1L284.5,199.6L282.0,197.4L281.5,197.2L278.4,196.6L277.5,196.1L277.3,195.6L277.4,195.1L277.9,194.6L279.0,194.2L280.3,194.6L282.0,195.5L282.5,195.6L283.5,195.5L285.0,194.7ZM259.0,234.9L260.0,234.7L261.0,234.9L261.5,235.4L261.7,236.1L261.7,237.6L261.4,239.1L261.0,240.4L260.5,241.0L259.5,241.0L258.5,240.6L257.1,239.6L256.3,238.6L256.3,237.6L256.8,236.6L257.8,235.6ZM261.5,242.7L262.5,242.7L264.5,243.1L266.5,243.7L267.5,244.3L268.8,245.6L269.3,246.6L269.5,247.6L260.0,247.6L260.1,246.1L260.5,244.4L261.0,243.2Z" fill="#ede1dd"/>
<path d="M242.0,166.8L243.0,166.6L244.5,166.7L248.0,167.8L250.0,168.6L252.5,170.2L258.5,174.9L259.5,176.1L260.5,177.6L263.0,182.6L263.3,184.6L263.1,185.6L262.5,186.6L262.0,187.1L261.0,187.6L260.0,187.7L258.5,187.5L257.0,186.9L253.5,185.0L252.0,184.3L250.0,183.7L246.0,183.0L244.0,182.3L242.5,181.5L240.8,180.1L238.9,178.1L237.8,176.6L237.3,175.1L237.2,173.1L237.7,171.1L238.6,169.6L240.0,168.0L241.0,167.3ZM202.5,176.5L203.5,176.6L204.5,177.0L206.1,178.6L206.8,179.6L207.2,180.6L207.1,181.6L206.8,182.1L205.5,182.4L204.0,182.3L202.2,181.6L200.9,180.6L200.5,179.6L200.5,178.6L200.7,178.1L201.3,177.1ZM201.5,189.5L203.0,189.2L204.5,189.1L207.5,189.4L209.5,190.2L211.5,191.8L214.9,195.1L215.9,196.6L216.4,197.6L217.5,202.2L218.1,203.6L219.0,205.0L221.5,207.7L224.0,209.6L225.0,210.1L226.5,210.6L232.5,211.2L234.5,211.6L241.0,213.8L243.5,214.4L245.0,214.4L246.5,214.2L250.0,212.9L251.0,212.9L252.0,213.8L253.6,216.1L254.0,217.1L253.9,218.1L253.5,218.6L252.4,219.6L250.9,220.6L249.0,221.5L246.5,222.2L243.5,222.5L241.0,222.3L237.5,221.7L235.0,221.0L229.0,218.6L227.0,218.3L225.5,218.4L224.0,218.8L222.7,219.6L218.5,223.3L217.5,223.8L216.0,224.0L214.0,223.5L211.0,221.9L207.5,219.4L203.0,215.3L201.0,214.0L198.5,212.7L197.0,212.2L195.5,212.2L192.0,213.1L190.0,213.4L190.0,208.8L193.0,208.5L194.5,208.2L195.5,207.7L196.5,206.5L197.0,205.1L198.0,200.1L198.2,198.1L198.2,194.1L198.5,192.6L199.0,191.5L199.8,190.6L200.5,190.0Z" fill="#e1c3b9"/>
<path d="M244.5,171.9L246.5,171.7L249.0,172.0L251.0,172.7L253.2,174.1L256.0,176.6L257.6,178.6L258.5,180.6L258.7,181.6L258.7,182.6L258.5,183.0L258.0,183.2L257.0,183.1L253.0,181.4L247.5,180.5L246.0,179.9L244.5,179.1L243.5,178.1L242.7,177.1L242.1,175.6L242.0,174.6L242.2,173.6L242.5,173.1L243.5,172.3ZM204.0,193.0L206.0,192.7L208.0,193.2L210.0,194.3L211.9,196.1L213.6,198.6L216.3,205.1L218.0,208.1L220.0,210.6L222.7,213.1L223.5,214.1L223.5,214.6L222.7,215.6L219.0,218.6L217.5,219.5L216.0,219.9L214.5,219.8L212.5,219.2L210.0,217.9L208.0,216.3L205.4,213.6L203.6,211.6L202.6,210.1L201.9,208.1L201.1,204.6L200.9,202.1L201.0,200.1L201.4,197.1L201.9,195.1L202.4,194.1L202.9,193.6ZM231.9,215.6L233.0,215.3L234.8,215.6L237.7,216.6L238.7,217.1L239.2,217.6L239.0,217.8L238.5,218.0L235.8,217.6L232.4,216.1Z" fill="#d8a796"/>
<path d="M206.0,196.0L207.0,195.9L208.0,196.1L209.8,197.1L211.5,198.8L212.8,201.1L216.7,210.6L217.3,212.6L217.3,213.6L217.0,214.6L216.5,215.2L215.5,215.9L214.5,216.3L213.0,216.3L211.5,215.9L210.5,215.4L209.0,214.3L207.3,212.6L205.7,210.6L204.8,209.1L204.0,207.1L203.4,204.6L203.1,202.6L203.1,200.6L203.4,199.1L204.0,197.6L205.0,196.4Z" fill="#cf8a73"/>
<path d="M207.0,199.0L208.0,199.0L209.5,199.7L211.0,201.5L212.1,203.6L213.3,207.1L213.9,210.1L213.8,211.6L213.5,212.2L213.0,212.7L212.5,212.9L211.5,212.9L210.0,212.1L207.9,210.1L207.0,208.8L206.3,207.6L205.4,204.6L205.2,202.1L205.4,201.1L205.8,200.1L206.5,199.3Z" fill="#c66d51"/>
<path d="M190.0,147.6L191.0,147.6L201.8,147.6L201.6,148.6L201.0,150.1L198.5,153.6L197.5,154.8L196.0,155.7L191.8,156.6L190.0,157.4ZM244.7,147.6L256.2,147.6L256.3,149.1L256.7,150.6L259.6,155.1L259.9,156.1L259.7,157.1L259.0,157.7L258.5,157.9L257.5,157.9L255.5,157.2L253.5,156.1L252.1,155.1L249.5,152.3L245.8,149.6L244.8,148.1ZM190.0,158.1L191.0,159.2L191.4,160.1L191.5,161.6L191.0,162.6L190.0,163.0ZM268.0,164.5L269.0,164.2L270.0,164.4L271.0,165.0L272.0,166.1L273.0,166.9L277.0,168.3L278.0,168.8L279.0,169.6L279.9,170.6L280.4,171.6L282.2,176.6L282.5,178.1L282.4,179.6L282.0,180.6L277.5,187.6L276.2,189.1L274.5,190.3L273.0,191.0L271.5,191.5L270.5,191.4L269.5,191.0L268.7,190.1L268.4,188.6L268.1,181.1L267.2,176.6L267.0,175.1L267.5,170.6L267.5,169.6L266.5,166.6L266.7,165.6L267.1,165.1ZM221.0,175.0L222.5,174.8L226.0,175.1L227.0,175.3L228.1,176.1L229.0,177.6L229.7,180.1L229.9,182.6L229.5,184.9L229.0,185.2L226.0,184.7L224.0,184.1L222.5,183.4L221.0,182.1L219.9,180.1L219.5,178.6L219.4,177.6L219.7,176.1L220.1,175.6ZM229.5,185.6L230.5,185.7L231.5,186.1L236.3,189.1L237.5,189.6L239.0,190.0L240.5,190.2L242.0,190.1L247.5,189.1L249.0,189.1L250.8,189.6L252.7,190.6L254.5,192.1L255.5,193.6L255.7,194.6L255.6,195.1L255.0,195.9L254.0,196.3L249.5,197.2L246.0,198.0L243.0,199.1L239.0,200.7L237.0,201.2L234.5,201.6L232.5,201.7L230.5,201.5L229.0,201.0L227.0,200.1L225.8,199.1L224.8,197.6L224.6,196.1L224.8,194.6L225.3,193.1ZM271.5,202.5L273.5,202.3L275.5,202.5L277.0,202.9L278.5,203.8L280.2,205.6L283.2,209.6L284.3,211.6L284.7,213.1L284.9,215.1L284.8,217.1L284.1,221.1L283.8,224.1L283.3,225.6L282.5,226.6L280.6,228.1L278.5,229.2L276.5,229.8L275.5,229.8L274.5,229.7L273.5,229.3L272.3,228.6L270.5,227.1L268.1,224.6L267.3,223.6L267.1,223.1L267.1,222.1L267.7,219.6L267.7,217.6L267.3,215.6L265.2,210.1L264.8,208.1L264.9,206.1L265.3,205.1L266.5,204.1L269.0,203.1ZM258.0,224.5L260.0,224.2L261.5,224.1L262.5,224.5L262.6,225.1L261.9,226.1L260.5,227.6L258.7,229.1L257.1,230.1L255.5,230.8L254.0,231.2L252.5,231.3L251.5,231.1L251.0,230.6L251.1,229.6L252.0,228.1L252.9,227.1L255.1,225.6ZM277.5,241.0L278.5,240.7L280.0,240.7L281.5,241.2L283.0,242.1L283.8,243.1L284.2,244.1L284.4,247.6L277.6,247.6L276.6,243.1L276.8,242.1L277.0,241.5ZM201.5,243.8L202.0,243.8L202.5,244.6L202.5,247.6L200.4,247.6L200.6,245.1L201.0,244.3Z" fill="#bfced4"/>
<path d="M272.5,175.4L273.5,174.8L274.5,174.9L275.5,175.4L276.0,175.9L277.0,177.6L277.2,179.6L276.5,182.5L275.5,184.8L274.9,185.6L274.0,186.4L273.0,186.9L272.5,186.9L272.0,186.8L271.5,186.4L271.0,185.6L270.7,184.1L270.7,182.6L271.0,180.0L271.5,177.3L272.0,176.0ZM230.5,191.0L232.0,190.7L234.0,191.0L241.9,194.1L242.5,194.6L242.1,195.1L240.0,196.6L238.2,197.6L236.0,198.5L233.0,199.2L231.5,199.2L230.0,198.9L229.0,198.5L227.8,197.6L227.2,196.6L227.0,195.6L227.4,194.1L228.0,193.0L229.0,192.0ZM272.5,206.5L273.5,206.4L274.5,206.6L275.5,207.1L276.5,207.9L277.5,209.1L278.3,210.6L279.4,213.6L279.9,216.6L279.8,218.1L279.4,219.6L278.8,221.1L278.1,222.1L277.5,222.6L276.5,223.0L275.5,223.0L274.0,222.4L273.0,221.6L272.1,220.6L270.8,218.1L269.0,212.6L268.8,210.6L268.9,209.6L269.3,208.6L270.5,207.2L271.5,206.7Z" fill="#9bbcc7"/>
<path d="M232.0,194.0L233.0,194.1L233.7,194.6L233.9,195.1L233.8,195.6L233.1,196.1L232.5,196.2L231.5,196.1L231.0,195.8L230.8,195.6L230.7,195.1L231.0,194.6ZM272.5,210.5L273.5,210.2L274.5,210.5L275.6,211.6L276.5,213.1L277.0,215.1L276.9,216.6L276.5,217.6L276.0,218.1L275.5,218.3L274.5,218.2L273.5,217.5L272.8,216.6L272.1,215.1L271.7,213.6L271.7,212.1L272.0,211.1Z" fill="#76a9bf"/>
<g clip-path="url(#h11)"><use href="#hl" x="240.0" y="197.55" fill="none" stroke="#505050" stroke-width="0.42" opacity="0.8"/></g>
<use href="#land" x="240.0" y="197.55" fill="none" stroke="#4c4c4c" stroke-width="0.6" stroke-linejoin="round"/>
<use href="#grat" x="240.0" y="197.55"/>
</g>
<circle cx="240.0" cy="197.55" r="48.5" fill="none" stroke="#3a3a3a" stroke-width="0.5"/>
<text x="240.0" y="146.95000000000002" font-size="4.66" text-anchor="middle">(e) Δ<tspan font-style="italic">θ</tspan>(<tspan font-style="italic">Z</tspan><tspan font-size="3.4" dy="1.1">850</tspan><tspan dy="-1.1">; </tspan><tspan font-style="italic">ϕ</tspan><tspan font-size="3.4" dy="1.1">DJF</tspan><tspan dy="-1.1">, pentad = 2)</tspan></text>
<text x="205.65" y="155.35" font-size="5.2" text-anchor="middle">120°E</text>
<text x="291.60" y="190.35" font-size="5.2" text-anchor="middle">0°</text>
<text x="274.50" y="242.55" font-size="5.2" text-anchor="middle">60°W</text>
<text x="223.90" y="250.40" font-size="5.2" text-anchor="middle">120°W</text>
<text x="185.15" y="207.45" font-size="5.2" text-anchor="middle">20°N</text>
<rect x="297.80" y="238.17" width="6.3" height="4.63" fill="#202c6a"/><rect x="297.80" y="233.69" width="6.3" height="4.63" fill="#283c91"/><rect x="297.80" y="229.21" width="6.3" height="4.63" fill="#1853a9"/><rect x="297.80" y="224.73" width="6.3" height="4.63" fill="#116abd"/><rect x="297.80" y="220.25" width="6.3" height="4.63" fill="#2f80bb"/><rect x="297.80" y="215.77" width="6.3" height="4.63" fill="#4f95ba"/><rect x="297.80" y="211.29" width="6.3" height="4.63" fill="#76a9bf"/><rect x="297.80" y="206.81" width="6.3" height="4.63" fill="#9bbcc7"/><rect x="297.80" y="202.33" width="6.3" height="4.63" fill="#bfced4"/><rect x="297.80" y="197.85" width="6.3" height="4.63" fill="#e1e3e5"/><rect x="297.80" y="193.37" width="6.3" height="4.63" fill="#ede1dd"/><rect x="297.80" y="188.89" width="6.3" height="4.63" fill="#e1c3b9"/><rect x="297.80" y="184.41" width="6.3" height="4.63" fill="#d8a796"/><rect x="297.80" y="179.93" width="6.3" height="4.63" fill="#cf8a73"/><rect x="297.80" y="175.45" width="6.3" height="4.63" fill="#c66d51"/><rect x="297.80" y="170.97" width="6.3" height="4.63" fill="#bb4f3a"/><rect x="297.80" y="166.49" width="6.3" height="4.63" fill="#ae3127"/><rect x="297.80" y="162.01" width="6.3" height="4.63" fill="#961f26"/><rect x="297.80" y="157.53" width="6.3" height="4.63" fill="#7a0f28"/><rect x="297.80" y="153.05" width="6.3" height="4.63" fill="#5b0c1d"/><path d="M297.80,153.05L300.95,148.60L304.10,153.05Z" fill="#3c0911"/><path d="M297.80,242.65L300.95,247.10L304.10,242.65Z" fill="#171c42"/><path d="M297.80,153.05L300.95,148.60L304.10,153.05L304.10,242.65L300.95,247.10L297.80,242.65Z" fill="none" stroke="#222" stroke-width="0.25"/><path d="M304.10,157.53h1.2" stroke="#222" stroke-width="0.3"/><text x="305.85" y="159.03" font-size="4.05">18</text><path d="M304.10,170.97h1.2" stroke="#222" stroke-width="0.3"/><text x="305.85" y="172.47" font-size="4.05">12</text><path d="M304.10,184.41h1.2" stroke="#222" stroke-width="0.3"/><text x="305.85" y="185.91" font-size="4.05">6</text><path d="M304.10,197.85h1.2" stroke="#222" stroke-width="0.3"/><text x="305.85" y="199.35" font-size="4.05">0</text><path d="M304.10,211.29h1.2" stroke="#222" stroke-width="0.3"/><text x="305.85" y="212.79" font-size="4.05">−6</text><path d="M304.10,224.73h1.2" stroke="#222" stroke-width="0.3"/><text x="305.85" y="226.23" font-size="4.05">−12</text><path d="M304.10,238.17h1.2" stroke="#222" stroke-width="0.3"/><text x="305.85" y="239.67" font-size="4.05">−18</text><text transform="translate(321.00,196.95) rotate(-90)" font-size="6.6" text-anchor="middle">[ m ]</text>
<g clip-path="url(#c21)">
<circle cx="240.0" cy="335.7" r="48.5" fill="#e1e3e5"/>
<path d="M222.1,285.7L229.9,285.7L230.5,286.2L231.0,285.7L253.9,285.7L254.0,287.7L254.3,289.2L255.9,293.2L256.8,296.7L257.3,298.2L258.3,299.7L264.5,307.7L267.1,311.2L268.2,313.2L268.6,314.7L268.7,316.2L268.4,321.7L269.1,331.7L269.2,336.7L269.0,339.7L268.5,342.3L267.5,344.6L266.0,346.5L264.5,347.7L262.5,348.6L261.5,348.8L260.5,348.7L259.5,348.2L259.0,347.8L257.9,346.2L256.3,342.7L255.3,339.7L253.7,331.7L250.5,319.7L249.2,317.2L246.2,313.2L244.6,310.7L243.6,308.7L242.4,305.7L241.5,304.1L240.0,302.9L238.0,302.2L232.0,300.8L226.5,300.0L222.0,298.7L218.1,297.2L217.3,296.7L216.4,295.7L216.1,294.7L216.4,293.7L217.6,292.2L221.0,288.7L221.8,287.2ZM268.6,285.7L287.6,285.7L287.3,287.2L285.8,290.7L285.7,292.2L286.2,293.7L287.6,295.7L288.7,296.7L290.0,297.2L290.0,312.3L287.0,310.0L277.5,301.0L275.0,299.5L271.2,298.2L269.9,297.2L269.4,296.2L269.4,295.2L270.3,292.7L270.6,291.7L270.4,290.7L268.8,287.2ZM190.0,286.6L194.5,286.7L201.5,287.5L203.0,287.9L204.0,288.4L205.0,289.4L205.8,290.7L206.0,291.7L206.0,292.2L205.5,293.2L204.6,294.2L203.0,295.5L201.0,296.5L197.5,297.3L196.7,297.7L196.1,298.2L195.9,298.7L196.1,299.7L198.2,302.7L198.7,304.2L198.6,305.7L197.7,308.7L197.4,311.2L197.1,312.2L196.3,313.2L195.0,313.9L192.5,314.5L190.0,314.8ZM198.0,329.2L199.5,329.3L203.5,330.3L205.5,330.5L207.5,330.4L212.0,329.6L214.5,329.8L216.0,330.1L217.6,330.7L219.0,331.7L220.0,332.7L222.8,337.2L225.2,341.7L226.6,345.2L227.4,348.7L227.3,351.2L226.5,353.7L224.5,357.1L222.6,359.2L221.0,360.1L219.0,360.6L212.5,360.3L209.5,360.6L207.8,361.2L205.0,362.9L203.5,363.2L201.5,362.7L198.9,361.2L197.4,359.7L196.0,357.4L195.5,356.8L195.0,356.5L194.0,356.5L191.5,357.5L190.0,357.5L190.0,333.6L191.0,333.4L192.5,332.7L194.0,331.8L196.5,329.8ZM249.5,354.1L251.5,353.8L253.0,354.1L254.5,354.9L255.5,356.1L255.9,357.7L255.8,359.7L255.3,361.2L254.4,362.2L253.5,362.6L252.5,362.7L249.9,362.2L247.5,361.0L246.5,360.2L245.8,359.2L245.5,357.7L245.8,356.7L246.1,356.2L247.5,355.0ZM282.0,368.1L283.0,368.1L283.9,368.2L287.5,369.6L290.0,369.9L290.0,385.7L279.1,385.7L278.9,384.2L278.2,382.7L277.3,381.7L274.6,379.2L273.5,377.7L273.1,376.2L273.2,373.7L273.0,373.1L272.5,372.5L272.0,372.3L271.0,372.4L267.0,374.4L265.0,375.0L264.0,375.0L263.0,374.8L262.3,374.2L262.1,373.7L262.4,372.7L263.7,371.2L265.5,370.2L266.9,369.7L269.0,369.4L272.0,369.4L275.5,368.9L278.5,368.9ZM235.0,376.7L237.5,376.6L240.5,377.2L243.5,378.1L245.5,379.2L247.2,380.7L248.2,382.2L248.7,383.7L248.7,385.7L226.9,385.7L227.0,384.2L227.5,382.7L228.3,381.2L229.5,379.6L230.5,378.6L231.5,378.0L233.2,377.2ZM253.5,381.1L254.5,380.9L255.5,380.8L256.5,381.0L257.5,381.6L258.5,382.7L259.0,383.7L259.4,385.7L250.4,385.7L250.6,384.2L250.9,383.2L251.7,382.2Z" fill="#ede1dd"/>
<path d="M238.0,285.7L240.2,285.7L240.4,287.2L240.8,288.2L242.0,289.7L244.0,291.2L246.8,292.7L248.2,293.7L248.6,294.2L248.9,295.2L248.6,297.2L248.6,298.2L249.1,298.7L252.5,299.9L253.5,300.4L255.0,301.4L256.4,302.7L258.0,304.7L261.5,309.8L264.8,313.7L266.0,315.7L266.5,317.2L266.8,318.7L268.1,328.2L268.5,333.2L268.5,338.2L268.0,341.2L267.1,343.7L266.4,344.7L265.5,345.6L264.0,346.6L263.0,347.0L262.0,347.0L260.5,346.5L259.7,345.7L259.0,344.8L257.7,342.2L256.7,339.2L255.2,332.2L253.2,325.7L251.5,318.8L250.5,316.7L247.1,311.7L245.7,308.7L245.2,306.2L245.0,302.2L244.7,301.2L243.5,300.6L236.0,299.5L229.2,297.7L226.4,296.7L225.2,295.7L225.0,295.2L225.2,294.7L225.7,294.2L226.7,293.7L232.7,291.7L234.7,290.7L236.1,289.7L237.4,288.2L237.7,287.2ZM211.0,333.2L213.0,333.1L215.0,333.4L216.5,334.1L218.0,335.2L219.5,337.1L222.1,341.2L223.5,343.7L224.2,345.7L224.6,347.7L224.7,349.7L224.3,351.7L223.8,353.2L222.7,355.2L221.5,356.7L220.0,358.0L218.5,358.7L216.5,359.0L213.5,359.0L206.5,358.6L205.0,358.4L204.0,358.0L202.7,357.2L201.5,355.9L197.4,350.2L196.7,348.7L196.5,346.7L197.3,343.2L199.3,337.7L199.8,336.7L200.6,335.7L202.0,334.7L203.5,334.2Z" fill="#e1c3b9"/>
<path d="M236.0,293.6L238.0,293.3L239.0,293.4L240.0,293.7L240.9,294.2L241.4,294.7L241.7,295.7L241.6,296.2L241.2,296.7L240.5,297.1L239.0,297.4L237.0,297.3L235.1,296.7L234.3,296.2L233.9,295.7L233.8,295.2L234.1,294.7L234.8,294.2ZM249.5,303.2L251.0,302.8L252.5,303.1L254.0,303.8L255.1,304.7L256.5,306.3L260.0,311.5L263.7,315.7L264.6,317.2L265.3,318.7L266.5,323.2L267.4,328.2L267.8,332.7L267.8,337.2L267.5,340.2L266.9,342.2L266.3,343.2L265.5,344.3L264.0,345.3L262.5,345.5L261.5,345.2L260.8,344.7L259.5,343.1L258.1,340.2L257.4,337.7L256.2,331.7L254.0,324.7L252.6,318.2L251.5,315.7L248.5,311.2L247.6,308.7L247.4,306.7L247.6,305.2L248.5,303.8ZM211.0,335.7L213.0,335.7L214.5,336.0L215.8,336.7L217.0,337.7L218.5,339.4L220.2,341.7L221.4,343.7L222.2,345.7L222.5,347.2L222.6,349.2L222.3,351.2L221.7,352.7L220.9,354.2L219.7,355.7L218.5,356.7L217.0,357.3L215.0,357.6L212.0,357.5L209.0,357.0L206.5,356.1L204.5,354.7L203.1,353.2L201.8,351.2L200.8,348.7L200.4,346.2L200.7,343.7L201.6,341.2L203.0,338.9L204.5,337.5L205.9,336.7L208.0,336.1Z" fill="#d8a796"/>
<path d="M251.0,305.7L252.0,305.6L253.0,305.9L254.6,307.2L258.5,312.7L263.0,317.5L264.0,319.2L265.0,321.6L266.0,325.2L266.7,328.7L267.1,332.7L267.2,336.7L266.9,339.2L266.3,341.2L265.5,342.7L265.0,343.2L264.0,343.9L263.0,344.0L262.5,344.0L261.2,343.2L260.0,341.7L258.9,339.2L257.2,331.7L255.0,324.7L254.1,318.7L253.6,316.7L252.7,314.7L250.4,311.2L249.6,309.2L249.5,308.2L249.6,307.2L250.1,306.2ZM210.0,338.2L211.5,338.0L213.0,338.1L214.5,338.6L215.5,339.1L217.0,340.4L218.1,341.7L219.4,343.7L220.2,345.2L220.6,346.7L220.8,348.2L220.7,349.7L220.3,351.2L219.7,352.7L218.7,354.2L217.6,355.2L216.5,355.8L215.0,356.2L213.0,356.2L211.0,355.9L209.0,355.2L207.3,354.2L205.5,352.7L204.4,351.2L203.6,349.7L203.1,347.7L203.0,345.7L203.3,343.7L203.9,342.2L205.0,340.7L206.5,339.4L208.0,338.7Z" fill="#cf8a73"/>
<path d="M256.5,315.2L257.5,315.4L259.5,316.4L261.0,317.5L262.1,318.7L263.0,320.0L263.9,321.7L265.4,326.2L266.0,329.2L266.3,332.2L266.5,335.2L266.3,337.7L266.0,339.4L265.5,340.7L264.5,342.0L263.5,342.4L262.5,342.3L261.5,341.7L260.7,340.7L260.0,339.3L259.3,337.2L258.0,331.2L256.3,325.7L255.8,322.7L255.6,319.7L255.9,316.2L256.0,315.7ZM209.5,340.7L211.0,340.3L212.0,340.3L213.5,340.5L214.5,340.9L215.5,341.6L216.7,342.7L217.5,343.8L218.3,345.2L218.7,346.2L218.9,347.7L218.9,349.2L218.7,350.2L218.2,351.7L217.6,352.7L216.5,353.7L215.7,354.2L214.5,354.6L213.5,354.7L212.0,354.5L210.5,354.0L209.0,353.2L207.7,352.2L206.8,351.2L205.9,349.7L205.3,348.2L205.2,346.7L205.3,345.2L205.6,344.2L206.1,343.2L207.0,342.1L208.0,341.3Z" fill="#c66d51"/>
<path d="M258.0,319.2L258.5,318.9L259.5,318.9L260.5,319.4L261.5,320.3L263.1,322.7L264.5,326.7L265.4,331.7L265.6,336.2L265.4,337.7L265.0,339.1L264.5,339.9L264.0,340.4L263.5,340.6L262.5,340.4L261.5,339.6L260.7,338.2L260.1,336.2L259.1,331.7L257.6,326.2L257.2,324.2L257.1,322.7L257.1,321.2L257.5,319.9ZM211.5,342.7L213.0,342.8L214.5,343.5L215.3,344.2L216.0,345.1L216.7,346.7L216.9,348.7L216.5,350.4L215.5,351.8L214.9,352.2L214.0,352.6L213.0,352.7L212.0,352.5L211.0,352.1L210.0,351.6L208.5,350.1L207.9,349.2L207.6,348.2L207.4,347.2L207.5,346.2L208.1,344.7L208.5,344.1L209.5,343.3L210.5,342.9Z" fill="#bb4f3a"/>
<path d="M259.5,322.2L260.0,322.1L260.5,322.2L261.5,323.1L262.0,323.8L263.0,325.8L264.0,329.2L264.5,333.2L264.5,335.7L264.0,337.5L263.5,338.0L263.0,338.1L262.5,337.9L262.0,337.4L261.4,336.2L259.0,326.5L258.7,324.7L258.8,323.7L259.0,322.8ZM211.5,346.6L212.0,346.5L212.5,346.5L213.2,347.2L213.4,348.2L213.0,348.8L212.5,349.0L212.0,348.9L211.5,348.6L211.2,348.2L211.0,347.7L211.0,347.2Z" fill="#ae3127"/>
<path d="M220.5,303.1L221.5,303.0L222.5,303.1L225.5,304.2L226.5,304.4L230.5,304.1L232.5,304.2L234.4,304.7L236.0,305.4L237.2,306.2L238.0,307.0L239.9,309.2L244.0,313.4L248.0,318.2L249.1,320.2L250.0,322.9L251.7,330.7L251.9,332.7L252.0,336.7L252.2,338.2L254.2,343.2L254.8,345.2L254.9,346.7L254.8,347.7L254.5,348.3L254.0,348.7L250.0,349.4L246.0,351.0L244.5,351.3L242.8,351.2L240.0,350.2L238.5,349.8L237.0,349.9L234.5,350.2L233.5,350.0L232.5,348.9L231.0,346.6L230.0,344.7L227.6,339.2L224.1,334.2L222.0,330.0L221.0,328.5L219.5,327.0L214.0,322.7L209.5,319.7L208.5,318.8L207.6,317.7L205.2,313.7L204.4,311.2L204.3,309.7L204.5,308.7L205.1,307.2L206.0,305.9L207.0,305.0L208.5,304.5L215.0,305.0L216.5,304.9L217.5,304.6ZM270.0,303.0L271.5,302.7L273.0,302.9L274.5,303.3L276.0,304.3L277.0,305.3L279.5,308.5L283.0,311.6L286.3,315.2L287.9,317.2L288.8,318.7L289.4,320.7L289.6,322.7L289.3,324.7L288.4,328.2L288.3,330.2L288.8,332.2L290.0,334.7L290.0,339.4L289.3,341.7L289.0,343.7L289.1,345.2L289.6,347.7L289.5,349.2L288.8,350.2L287.0,351.7L286.3,352.7L286.0,353.7L285.4,357.7L284.5,359.7L283.7,360.7L282.6,361.7L280.0,363.3L277.5,364.2L272.0,365.5L264.5,367.6L262.0,367.9L258.5,367.5L257.5,367.6L257.0,367.9L255.1,370.7L253.5,372.5L252.0,373.7L250.0,374.6L248.0,374.8L246.0,374.5L243.0,373.8L240.1,372.7L238.2,371.7L237.0,370.7L236.3,369.7L236.3,368.7L237.0,367.8L237.9,367.2L243.0,364.4L244.5,364.0L246.0,364.0L255.0,365.9L256.0,365.9L256.5,365.7L257.0,364.7L257.2,363.7L258.5,354.2L258.9,352.7L259.9,351.7L263.5,349.7L265.5,348.2L267.4,346.2L268.6,344.2L269.4,341.7L269.8,338.2L269.8,331.2L269.5,324.2L269.6,321.2L270.2,318.7L272.1,314.2L272.4,312.7L272.1,311.2L269.8,308.2L268.9,306.2L268.7,305.2L268.8,304.2L269.0,303.7ZM212.0,362.1L214.0,362.0L216.5,362.3L219.8,363.2L224.5,365.0L229.0,365.7L230.0,366.2L230.5,366.7L230.9,367.7L230.7,368.7L230.0,369.7L228.9,370.7L227.1,371.7L225.5,372.2L223.5,372.6L218.5,372.9L216.5,372.8L214.5,372.4L212.5,371.4L211.1,370.2L210.0,368.7L209.3,367.2L209.1,365.2L209.6,363.7L210.6,362.7ZM190.5,363.0L192.0,363.8L193.1,365.2L193.6,367.2L193.7,369.7L193.4,371.7L193.0,372.7L192.0,373.5L190.0,373.9L190.0,362.9ZM198.5,376.2L200.0,375.9L201.5,376.2L202.5,376.9L203.0,377.7L203.5,379.7L204.0,385.7L195.2,385.7L195.2,381.7L195.7,379.2L196.1,378.2L196.8,377.2L197.5,376.6Z" fill="#bfced4"/>
<path d="M228.5,311.7L229.5,311.3L230.5,311.2L234.0,312.5L239.0,313.5L241.0,314.2L243.0,315.6L245.5,318.0L247.0,319.9L247.9,321.7L248.7,324.2L249.4,327.7L249.5,329.7L249.2,331.7L248.5,333.3L245.9,336.7L243.5,340.6L242.5,341.6L241.0,342.4L238.5,343.0L236.5,343.0L235.5,342.8L234.5,342.3L233.0,341.1L230.4,337.7L227.5,334.7L226.0,332.7L225.2,330.7L224.0,326.1L223.0,324.2L222.0,323.1L219.0,320.7L217.6,319.2L215.5,316.2L214.8,314.7L214.7,314.2L214.9,313.7L216.0,313.4L221.0,314.4L222.5,314.5L224.0,314.3L225.7,313.7ZM278.0,313.7L279.5,313.6L281.0,314.0L282.5,314.9L283.5,315.8L284.7,317.2L285.6,318.7L286.2,320.2L286.6,322.2L286.6,324.2L286.1,328.7L286.0,330.7L286.2,332.7L287.0,336.7L287.1,338.2L286.9,339.7L285.6,345.7L283.5,350.6L283.0,352.2L282.2,357.2L281.5,358.7L280.5,359.9L279.0,361.1L277.5,361.9L266.0,365.8L264.0,366.1L262.0,366.0L261.0,365.6L260.0,364.8L259.2,363.2L259.0,361.7L259.0,360.2L259.8,356.7L260.6,354.7L261.5,353.4L267.0,348.1L268.4,346.2L269.3,344.7L270.0,342.2L270.4,339.7L270.4,325.2L270.6,323.2L270.9,321.2L272.0,318.7L273.5,316.5L275.5,314.8L277.0,314.0ZM214.0,365.2L214.5,365.0L215.5,365.1L216.5,365.7L216.8,366.2L216.9,366.7L216.7,367.2L216.0,367.6L215.5,367.6L214.5,367.2L214.0,366.7L213.7,366.2L213.7,365.7ZM246.0,367.6L247.5,367.3L249.5,367.7L250.4,368.2L250.7,368.7L250.7,369.2L250.5,369.7L250.0,370.2L249.0,370.7L247.5,370.9L246.1,370.7L245.1,370.2L244.7,369.7L244.6,369.2L244.8,368.7L245.2,368.2Z" fill="#9bbcc7"/>
<path d="M278.0,316.1L279.0,316.0L280.0,316.2L281.0,316.5L282.1,317.2L283.0,318.1L283.7,319.2L284.7,321.7L284.9,324.7L284.5,331.7L285.2,338.7L284.9,341.2L284.2,344.2L281.6,350.7L280.1,356.7L279.2,358.2L278.3,359.2L277.5,359.9L276.0,360.7L271.0,362.6L266.5,364.4L264.5,364.8L263.5,364.8L262.5,364.6L261.2,363.7L260.4,362.2L260.2,360.2L260.7,357.7L261.5,356.0L262.7,354.2L267.5,348.9L269.0,346.9L270.2,344.7L270.7,342.7L271.1,339.2L271.3,325.7L271.5,323.7L272.0,321.9L273.0,319.7L274.5,317.9L276.0,316.8ZM236.0,316.6L238.0,316.6L240.0,317.1L241.5,317.8L243.5,319.4L244.8,320.7L245.8,322.2L246.5,323.8L247.0,326.2L247.1,327.7L247.0,329.2L246.5,330.7L245.6,332.2L243.5,334.7L241.5,336.9L240.0,337.9L238.5,338.4L237.0,338.3L235.5,337.7L230.4,333.7L229.4,332.7L228.7,331.7L228.2,330.7L227.9,329.2L228.0,327.2L228.4,325.2L229.1,323.7L230.3,321.7L232.0,319.2L233.0,318.1L234.5,317.1Z" fill="#76a9bf"/>
<path d="M277.0,318.1L278.0,317.9L279.0,317.8L280.0,318.1L281.0,318.6L281.7,319.2L282.5,320.2L283.3,322.2L283.6,325.2L283.2,332.7L283.7,338.7L283.6,340.7L283.1,342.7L280.4,349.7L278.8,355.2L278.1,356.7L277.4,357.7L276.3,358.7L275.0,359.5L270.5,361.3L267.0,363.0L265.0,363.6L263.5,363.5L262.8,363.2L262.2,362.7L261.6,361.7L261.4,360.2L261.6,358.7L262.3,357.2L263.0,356.0L269.2,348.2L270.2,346.7L270.9,345.2L271.5,343.2L271.8,341.2L272.2,327.7L272.5,324.2L273.1,322.2L274.0,320.6L275.5,319.0ZM237.5,321.1L238.5,321.0L239.5,321.1L240.5,321.5L241.7,322.2L243.1,323.7L243.6,324.7L243.9,326.2L243.9,327.2L243.6,328.7L242.6,330.7L241.0,332.4L240.0,333.0L239.0,333.3L238.0,333.3L237.0,333.1L235.5,332.5L234.0,331.7L232.5,330.4L232.1,329.7L231.9,328.7L231.9,327.7L232.2,326.7L233.5,324.5L235.5,322.2L236.5,321.5Z" fill="#4f95ba"/>
<path d="M277.5,319.7L279.0,319.6L280.5,320.3L281.6,321.7L282.2,323.7L282.4,326.2L282.0,332.7L282.4,339.2L282.2,340.7L281.7,342.7L279.1,349.2L277.5,354.4L276.9,355.7L276.1,356.7L275.0,357.7L274.2,358.2L270.0,360.0L266.9,361.7L265.5,362.2L264.0,362.1L263.3,361.7L262.8,360.7L262.7,359.7L263.2,358.2L264.0,356.9L270.9,347.7L272.1,345.2L272.4,343.7L272.7,341.7L272.8,333.7L273.2,327.2L273.5,324.8L274.0,323.2L275.0,321.4L276.0,320.4Z" fill="#2f80bb"/>
<path d="M277.5,321.6L278.5,321.5L279.0,321.6L279.9,322.2L280.5,323.2L280.9,324.7L281.1,327.2L280.7,333.2L281.0,338.7L280.9,340.2L280.5,341.7L277.7,348.2L276.1,353.7L275.0,355.4L274.0,356.3L272.5,357.1L268.5,358.5L266.0,359.7L265.5,359.6L265.3,359.2L265.4,358.7L267.0,356.2L268.5,353.2L269.5,351.6L272.2,348.2L273.2,346.2L273.6,344.7L273.8,343.2L273.7,334.7L274.4,326.2L274.8,324.7L275.5,323.2L276.5,322.1Z" fill="#116abd"/>
<path d="M277.0,324.6L277.5,324.3L278.0,324.2L278.5,324.4L279.0,325.0L279.4,326.2L279.5,328.2L279.2,333.2L279.4,338.2L279.1,340.2L278.5,341.7L277.5,343.1L277.0,343.4L276.5,343.5L276.0,343.0L275.5,341.5L275.1,338.7L275.0,335.7L275.9,327.2L276.3,325.7ZM273.5,351.2L273.8,351.7L273.9,352.2L273.5,353.3L272.5,354.2L272.0,354.3L271.5,354.2L271.2,353.7L271.5,352.7L272.5,351.5L273.0,351.2Z" fill="#1853a9"/>
<g clip-path="url(#h21)"><use href="#hl" x="240.0" y="335.7" fill="none" stroke="#505050" stroke-width="0.42" opacity="0.8"/></g>
<use href="#land" x="240.0" y="335.7" fill="none" stroke="#4c4c4c" stroke-width="0.6" stroke-linejoin="round"/>
<use href="#grat" x="240.0" y="335.7"/>
<path d="M207.8,317.1L207.1,318.5L206.4,319.8L205.8,321.3L205.2,322.7L204.7,324.1L204.2,325.6L203.9,327.1L203.5,328.6L203.3,330.1L203.1,331.6L202.9,333.2L202.9,334.7L202.9,336.2L202.9,337.8L203.0,339.3L203.2,340.8L203.4,342.4L203.8,343.9L204.1,345.4L204.6,346.8L205.0,348.3L205.6,349.7L206.2,351.1L206.9,352.5L207.6,353.9L208.4,355.2L209.2,356.5L210.1,357.8L211.0,359.0L212.0,360.1L213.1,361.3L214.1,362.4L215.3,363.4L216.4,364.4L217.6,365.4L218.9,366.3L220.2,367.1L221.5,367.9L222.8,368.7L228.8,357.2L227.9,356.7L227.1,356.2L226.2,355.7L225.4,355.1L224.6,354.4L223.9,353.8L223.1,353.1L222.4,352.4L221.7,351.7L221.1,350.9L220.5,350.1L219.9,349.3L219.4,348.4L218.9,347.6L218.4,346.7L217.9,345.8L217.5,344.9L217.2,343.9L216.9,343.0L216.6,342.0L216.3,341.0L216.1,340.0L216.0,339.1L215.9,338.1L215.8,337.1L215.8,336.1L215.8,335.0L215.8,334.0L215.9,333.0L216.0,332.1L216.2,331.1L216.4,330.1L216.7,329.1L217.0,328.1L217.3,327.2L217.7,326.3L218.1,325.4L218.5,324.5L219.0,323.6Z" fill="none" stroke="#f2f" stroke-width="0.6"/>
<path d="M266.1,345.2L266.3,344.6L266.5,344.0L266.7,343.4L266.9,342.8L267.0,342.2L267.2,341.6L267.3,341.0L267.4,340.4L267.5,339.8L267.6,339.2L267.7,338.6L267.7,337.9L267.8,337.3L267.8,336.7L267.8,336.1L267.8,335.5L267.8,334.8L267.8,334.2L267.7,333.6L267.7,333.0L267.6,332.3L267.5,331.7L267.4,331.1L267.3,330.5L267.2,329.9L267.1,329.3L266.9,328.7L266.8,328.1L266.6,327.5L266.4,326.9L266.2,326.3L266.0,325.7L265.7,325.1L265.5,324.6L265.2,324.0L265.0,323.4L264.7,322.9L264.4,322.3L264.1,321.8L254.4,327.4L254.5,327.7L254.7,328.1L254.9,328.4L255.0,328.7L255.2,329.1L255.3,329.4L255.5,329.7L255.6,330.1L255.7,330.4L255.8,330.8L256.0,331.2L256.1,331.5L256.1,331.9L256.2,332.2L256.3,332.6L256.4,333.0L256.4,333.3L256.5,333.7L256.5,334.1L256.5,334.4L256.6,334.8L256.6,335.2L256.6,335.6L256.6,335.9L256.6,336.3L256.6,336.7L256.5,337.0L256.5,337.4L256.5,337.8L256.4,338.1L256.3,338.5L256.3,338.9L256.2,339.2L256.1,339.6L256.0,340.0L255.9,340.3L255.8,340.7L255.7,341.0L255.6,341.4Z" fill="none" stroke="#f2f" stroke-width="0.6"/>
<path d="M269.3,370.6L270.5,369.5L271.7,368.4L272.9,367.3L274.0,366.1L275.0,364.8L276.1,363.6L277.0,362.3L278.0,360.9L278.8,359.5L279.7,358.1L280.4,356.7L281.2,355.2L281.8,353.8L282.5,352.2L283.0,350.7L283.5,349.2L284.0,347.6L284.4,346.0L284.7,344.4L285.0,342.8L285.2,341.2L285.4,339.6L285.5,337.9L285.6,336.3L285.6,334.7L285.5,333.1L285.4,331.4L285.2,329.8L285.0,328.2L284.7,326.6L284.3,325.0L283.9,323.4L283.4,321.8L282.9,320.3L282.3,318.8L281.7,317.3L281.0,315.8L280.3,314.3L279.5,312.9L268.6,319.2L269.2,320.2L269.8,321.3L270.3,322.3L270.7,323.4L271.1,324.5L271.5,325.6L271.9,326.8L272.2,327.9L272.4,329.1L272.6,330.2L272.8,331.4L272.9,332.6L273.0,333.8L273.1,335.0L273.1,336.1L273.0,337.3L273.0,338.5L272.8,339.7L272.7,340.9L272.5,342.0L272.2,343.2L271.9,344.3L271.6,345.5L271.2,346.6L270.8,347.7L270.4,348.8L269.9,349.9L269.4,350.9L268.8,352.0L268.2,353.0L267.6,354.0L266.9,355.0L266.2,355.9L265.4,356.8L264.7,357.7L263.9,358.6L263.0,359.5L262.2,360.3L261.3,361.0Z" fill="none" stroke="#f2f" stroke-width="0.6"/>
</g>
<circle cx="240.0" cy="335.7" r="48.5" fill="none" stroke="#3a3a3a" stroke-width="0.5"/>
<text x="240.0" y="285.09999999999997" font-size="4.66" text-anchor="middle">(f) Δ<tspan font-style="italic">θ</tspan>(<tspan font-style="italic">Z</tspan><tspan font-size="3.4" dy="1.1">850</tspan><tspan dy="-1.1">; </tspan><tspan font-style="italic">ϕ</tspan><tspan font-size="3.4" dy="1.1">DJF</tspan><tspan dy="-1.1">, pentad = 3)</tspan></text>
<text x="205.65" y="293.50" font-size="5.2" text-anchor="middle">120°E</text>
<text x="291.60" y="328.50" font-size="5.2" text-anchor="middle">0°</text>
<text x="274.50" y="380.70" font-size="5.2" text-anchor="middle">60°W</text>
<text x="223.90" y="388.55" font-size="5.2" text-anchor="middle">120°W</text>
<text x="185.15" y="345.60" font-size="5.2" text-anchor="middle">20°N</text>
<rect x="297.80" y="376.32" width="6.3" height="4.63" fill="#202c6a"/><rect x="297.80" y="371.84" width="6.3" height="4.63" fill="#283c91"/><rect x="297.80" y="367.36" width="6.3" height="4.63" fill="#1853a9"/><rect x="297.80" y="362.88" width="6.3" height="4.63" fill="#116abd"/><rect x="297.80" y="358.40" width="6.3" height="4.63" fill="#2f80bb"/><rect x="297.80" y="353.92" width="6.3" height="4.63" fill="#4f95ba"/><rect x="297.80" y="349.44" width="6.3" height="4.63" fill="#76a9bf"/><rect x="297.80" y="344.96" width="6.3" height="4.63" fill="#9bbcc7"/><rect x="297.80" y="340.48" width="6.3" height="4.63" fill="#bfced4"/><rect x="297.80" y="336.00" width="6.3" height="4.63" fill="#e1e3e5"/><rect x="297.80" y="331.52" width="6.3" height="4.63" fill="#ede1dd"/><rect x="297.80" y="327.04" width="6.3" height="4.63" fill="#e1c3b9"/><rect x="297.80" y="322.56" width="6.3" height="4.63" fill="#d8a796"/><rect x="297.80" y="318.08" width="6.3" height="4.63" fill="#cf8a73"/><rect x="297.80" y="313.60" width="6.3" height="4.63" fill="#c66d51"/><rect x="297.80" y="309.12" width="6.3" height="4.63" fill="#bb4f3a"/><rect x="297.80" y="304.64" width="6.3" height="4.63" fill="#ae3127"/><rect x="297.80" y="300.16" width="6.3" height="4.63" fill="#961f26"/><rect x="297.80" y="295.68" width="6.3" height="4.63" fill="#7a0f28"/><rect x="297.80" y="291.20" width="6.3" height="4.63" fill="#5b0c1d"/><path d="M297.80,291.20L300.95,286.75L304.10,291.20Z" fill="#3c0911"/><path d="M297.80,380.80L300.95,385.25L304.10,380.80Z" fill="#171c42"/><path d="M297.80,291.20L300.95,286.75L304.10,291.20L304.10,380.80L300.95,385.25L297.80,380.80Z" fill="none" stroke="#222" stroke-width="0.25"/><path d="M304.10,295.68h1.2" stroke="#222" stroke-width="0.3"/><text x="305.85" y="297.18" font-size="4.05">18</text><path d="M304.10,309.12h1.2" stroke="#222" stroke-width="0.3"/><text x="305.85" y="310.62" font-size="4.05">12</text><path d="M304.10,322.56h1.2" stroke="#222" stroke-width="0.3"/><text x="305.85" y="324.06" font-size="4.05">6</text><path d="M304.10,336.00h1.2" stroke="#222" stroke-width="0.3"/><text x="305.85" y="337.50" font-size="4.05">0</text><path d="M304.10,349.44h1.2" stroke="#222" stroke-width="0.3"/><text x="305.85" y="350.94" font-size="4.05">−6</text><path d="M304.10,362.88h1.2" stroke="#222" stroke-width="0.3"/><text x="305.85" y="364.38" font-size="4.05">−12</text><path d="M304.10,376.32h1.2" stroke="#222" stroke-width="0.3"/><text x="305.85" y="377.82" font-size="4.05">−18</text><text transform="translate(321.00,335.10) rotate(-90)" font-size="6.6" text-anchor="middle">[ m ]</text>
<g clip-path="url(#c02)">
<circle cx="414.0" cy="59.4" r="48.5" fill="#e1e3e5"/>
<path d="M364.0,9.4L430.3,9.4L431.2,12.9L431.5,15.4L431.0,15.7L428.0,16.3L426.5,16.3L421.5,15.5L411.0,14.0L407.0,13.2L406.0,12.9L404.0,11.1L403.5,11.0L403.0,11.1L402.0,12.1L400.6,14.4L394.5,17.9L389.8,21.9L388.5,23.2L387.7,24.4L387.0,25.9L387.8,27.4L388.0,28.4L387.8,29.4L387.4,29.9L386.6,30.4L385.5,30.8L381.5,31.1L378.9,32.4L377.6,33.4L376.7,34.4L374.6,37.9L373.3,40.9L372.3,45.4L371.7,47.4L370.6,49.9L368.4,53.9L367.8,55.9L367.9,57.9L369.2,64.4L371.2,72.4L372.4,75.4L375.2,80.4L375.7,81.9L376.2,85.9L376.6,86.9L377.5,87.9L378.5,88.7L381.0,90.1L382.5,90.7L384.0,90.5L386.0,88.7L387.0,88.1L388.0,87.8L389.5,87.9L390.5,88.5L390.9,89.4L390.9,89.9L390.6,90.9L389.5,92.3L387.6,93.4L387.1,93.9L386.5,94.9L386.4,95.4L386.8,95.9L387.5,96.3L390.0,97.2L391.5,98.1L392.6,99.4L393.3,101.4L393.1,101.9L392.0,102.7L390.0,103.7L388.5,104.1L385.0,104.5L383.5,105.2L382.6,105.9L381.9,106.9L381.4,107.9L381.0,109.4L364.0,109.4L364.0,102.1L368.0,102.9L369.5,102.5L370.3,101.9L370.8,100.9L371.1,99.4L371.2,97.4L371.1,94.9L370.8,92.9L369.2,88.4L368.7,87.4L367.8,86.4L367.0,85.8L365.5,85.2L364.0,85.0ZM434.1,9.4L464.0,9.4L464.0,58.8L463.2,59.4L463.3,59.9L464.0,60.4L464.0,109.4L409.2,109.4L408.9,106.4L409.1,105.9L412.5,103.6L414.0,103.0L415.5,102.7L420.0,102.8L421.5,102.6L423.0,102.1L424.0,101.4L424.2,100.9L422.8,98.4L422.4,96.9L422.1,95.4L422.1,92.4L422.7,90.4L425.6,85.4L427.0,83.7L428.5,82.6L433.5,79.9L436.8,77.9L438.9,76.4L439.8,75.4L440.1,74.4L440.0,73.4L437.9,68.9L437.6,67.4L437.6,66.4L437.8,65.4L438.4,63.9L439.3,62.4L440.6,60.9L442.0,59.7L444.0,58.6L446.0,58.0L448.5,57.7L451.0,57.8L453.0,58.5L454.7,59.9L457.0,62.8L458.7,61.4L459.5,60.4L459.7,59.9L459.7,59.4L459.5,58.4L458.0,55.7L457.1,53.4L456.8,51.4L456.5,47.4L456.2,45.4L455.1,41.4L454.0,38.6L451.2,33.9L449.5,30.2L448.6,28.9L447.3,27.9L444.0,26.6L442.5,25.7L441.0,24.2L439.2,21.9L437.0,18.4L437.2,16.9L436.9,15.4L434.8,12.4L434.4,11.4ZM456.0,68.5L453.1,71.9L451.5,73.4L450.0,74.3L446.5,75.9L445.4,76.9L444.9,78.4L444.6,82.9L443.5,87.4L443.7,88.4L444.0,89.0L444.5,89.4L450.0,87.1L451.0,86.2L452.0,84.7L455.4,77.4L456.2,74.9L456.5,72.9L456.5,70.4ZM439.4,92.9L438.0,93.7L436.6,94.9L435.0,96.9L435.5,97.2L436.5,97.2L437.5,96.8L438.8,95.9L440.0,94.6L441.2,92.9L441.0,92.4ZM424.0,19.7L425.5,19.6L426.5,20.0L427.5,20.9L428.4,22.4L429.3,24.9L430.1,28.9L430.6,31.9L430.7,33.9L430.3,35.9L429.8,37.4L428.4,40.4L427.0,42.7L426.0,44.0L424.5,45.4L423.0,46.2L422.0,46.4L421.0,46.1L420.5,45.7L419.5,44.3L418.6,42.4L416.2,35.4L416.0,33.9L416.1,31.9L416.7,27.4L417.3,25.9L417.9,24.9L419.1,23.4L421.0,21.5L422.5,20.4ZM377.0,58.9L378.0,59.2L378.8,59.9L379.3,60.9L379.5,61.9L379.3,62.9L379.0,63.4L378.0,64.2L377.0,64.4L376.0,64.2L375.1,63.4L374.7,62.4L374.6,61.4L374.8,60.4L375.5,59.4L376.0,59.1ZM424.0,62.9L425.5,62.7L427.0,63.0L428.0,63.5L428.8,64.4L429.4,65.9L429.5,67.4L429.0,68.9L428.0,69.9L426.5,70.3L425.5,70.2L424.5,69.9L423.0,68.9L421.9,67.4L421.5,65.9L421.7,64.9L422.5,63.8ZM413.0,63.3L414.0,63.2L415.0,63.4L415.9,63.9L416.4,64.4L416.6,64.9L416.4,65.9L415.5,66.9L414.4,67.4L413.0,67.5L412.0,67.2L410.9,66.4L410.6,65.4L411.0,64.4L412.0,63.6Z" fill="#ede1dd"/>
<path d="M371.5,13.2L377.0,11.9L378.0,11.9L379.0,12.3L379.6,12.9L380.2,13.9L380.7,15.4L381.7,20.9L383.2,23.9L382.5,25.6L381.5,26.8L380.5,27.5L379.0,28.2L378.5,28.1L376.5,27.0L373.5,26.0L372.0,25.2L368.5,21.8L365.5,19.4L365.2,18.9L365.2,18.4L366.0,17.4L368.0,15.4L369.5,14.2ZM424.0,24.3L425.0,24.2L426.0,24.6L426.8,25.4L427.5,26.4L428.0,27.8L428.4,29.4L428.6,31.4L428.6,32.9L428.4,34.4L427.8,36.4L427.0,38.4L426.0,40.3L424.5,42.0L423.5,42.5L422.5,42.7L421.5,42.3L421.0,41.9L419.8,39.9L418.9,36.9L418.8,33.9L419.4,30.4L420.5,27.5L422.0,25.6L423.0,24.8ZM463.0,25.8L464.0,25.8L464.0,35.5L462.0,35.1L460.9,34.4L459.8,32.9L459.1,30.9L459.1,29.9L459.2,28.9L460.0,27.4L460.5,26.9L461.5,26.3ZM377.0,59.9L377.5,60.0L378.0,60.4L378.3,61.4L378.3,61.9L378.0,62.6L377.5,63.0L377.0,63.1L376.5,63.0L376.0,62.6L375.7,61.9L375.7,61.4L376.0,60.4L376.5,60.0ZM447.0,62.8L448.5,62.5L449.5,62.7L450.5,63.4L450.9,64.4L450.8,65.4L450.0,66.8L449.0,67.6L448.0,68.0L447.0,68.0L446.5,67.8L445.6,66.9L445.3,65.9L445.4,64.9L445.8,63.9L446.2,63.4ZM364.0,76.4L365.0,77.1L366.0,77.1L366.9,77.4L367.3,77.9L367.0,78.2L365.6,77.9L365.0,77.6L364.0,77.7ZM464.0,77.8L464.0,79.9L463.0,79.7L462.7,79.4L462.6,78.9L462.9,78.4L463.5,77.9ZM438.0,80.4L439.5,80.2L440.5,80.6L441.1,81.4L441.4,82.4L441.2,83.9L440.8,85.4L439.9,87.4L438.7,89.4L436.4,91.9L431.5,96.0L430.0,96.8L429.0,96.9L428.0,96.8L427.0,96.3L426.5,95.9L426.0,94.9L425.7,93.9L425.8,92.9L426.4,90.4L428.0,87.4L430.0,85.0L432.5,83.0L435.5,81.3ZM444.5,98.8L445.0,98.6L445.6,98.9L446.0,99.8L446.1,100.9L445.9,102.9L444.9,106.9L444.7,109.4L426.6,109.4L426.9,107.4L427.6,104.4L429.5,103.3L431.5,102.7L432.3,102.9L433.5,105.4L435.5,107.9L436.5,108.7L437.0,108.8L437.5,108.6L438.5,107.7L440.0,105.9L440.9,104.4L442.5,100.8L443.5,99.5ZM455.0,103.7L455.5,103.6L456.5,104.1L459.9,107.9L460.6,109.4L454.1,109.4L454.2,105.4L454.5,104.3Z" fill="#e1c3b9"/>
<path d="M424.0,27.3L425.0,27.4L425.5,27.7L426.1,28.4L426.8,30.4L426.9,32.9L426.5,34.9L425.5,37.5L424.5,38.9L423.9,39.4L423.0,39.7L422.0,39.3L421.5,38.7L421.1,37.9L420.6,35.9L420.6,33.9L421.0,31.4L421.8,29.4L423.0,27.9ZM377.0,60.9L377.4,61.4L377.0,62.0L376.6,61.4ZM436.0,82.8L437.0,82.6L438.0,82.7L438.5,82.9L439.0,83.7L439.1,84.9L438.8,85.9L437.7,88.4L435.5,90.9L433.5,92.6L432.0,93.6L431.0,94.1L430.0,94.3L429.0,94.2L428.5,93.9L428.0,92.9L427.9,91.4L428.4,89.9L429.5,87.9L431.0,86.0L432.5,84.7L434.5,83.4Z" fill="#d8a796"/>
<path d="M423.5,31.8L424.0,31.6L424.4,31.9L424.6,32.9L424.5,33.8L424.2,34.4L424.0,34.8L423.5,35.1L423.0,34.8L422.9,33.9L423.0,32.7ZM435.0,84.8L436.0,84.6L436.5,84.8L437.0,85.4L437.1,85.9L436.9,86.9L436.1,88.4L434.8,89.9L433.0,91.3L431.5,91.9L430.5,91.8L430.1,91.4L430.0,90.4L430.3,89.4L431.0,88.0L431.9,86.9L432.9,85.9L434.0,85.2Z" fill="#cf8a73"/>
<path d="M434.5,22.4L435.5,22.9L437.0,24.7L438.0,26.4L438.5,27.9L438.7,29.4L438.6,30.4L438.0,32.0L437.5,32.5L437.0,32.7L436.5,32.5L435.0,31.4L433.5,29.6L432.8,27.9L432.5,25.9L432.8,24.4L433.5,22.9L434.0,22.5ZM397.0,31.6L397.5,31.5L398.0,31.7L399.8,34.4L401.2,35.4L403.0,35.9L407.5,36.1L409.5,36.7L411.5,37.6L413.0,38.6L414.0,39.6L414.9,40.9L415.5,42.4L415.9,44.4L415.8,45.9L415.4,47.4L414.5,48.9L413.0,50.2L409.5,52.3L406.5,54.8L405.0,55.7L404.0,56.0L402.0,56.4L399.5,56.2L397.0,55.2L395.2,53.9L394.4,52.9L393.8,51.9L392.4,47.4L390.7,43.4L390.5,41.9L390.8,40.9L391.4,39.9L393.5,37.6L394.9,35.9L395.7,34.4L396.5,32.3ZM437.5,34.8L438.0,34.6L439.0,35.0L443.0,37.1L444.5,38.3L448.5,41.9L449.9,43.4L450.5,44.4L450.9,45.9L450.9,47.4L450.4,48.9L449.4,50.9L448.5,52.0L447.0,53.1L444.0,54.3L439.5,55.6L436.5,56.1L434.0,56.0L432.5,55.6L431.5,55.1L430.5,54.3L429.7,53.4L429.0,52.4L428.3,50.9L428.0,49.4L428.1,48.4L428.8,46.4L431.0,42.6L434.6,38.4L437.0,35.2ZM379.5,49.9L381.0,49.5L382.5,49.7L383.5,50.4L384.2,51.4L384.8,52.9L384.7,54.4L384.2,55.4L383.0,56.4L381.0,57.1L379.5,57.1L377.8,56.4L376.9,55.4L376.5,53.9L376.8,52.4L377.9,50.9ZM381.5,69.4L383.0,69.3L388.0,69.4L390.5,69.7L399.0,72.4L399.8,72.9L400.2,73.4L400.2,74.4L399.7,75.4L397.5,78.5L396.5,79.6L396.0,79.8L395.0,79.7L392.0,78.9L390.0,78.6L387.5,78.7L383.5,79.3L382.0,79.3L380.5,78.6L378.8,76.9L377.8,75.4L377.5,73.9L377.7,72.4L378.6,70.9L379.9,69.9ZM407.0,72.9L409.0,72.9L413.5,73.8L415.5,74.6L417.5,75.8L419.3,77.4L420.3,78.9L420.8,80.4L420.8,82.4L420.1,84.4L416.9,89.4L416.3,90.9L415.4,94.4L414.5,95.9L413.2,96.9L410.3,98.4L408.8,99.4L408.0,100.4L407.2,101.9L403.5,103.1L402.0,103.2L401.0,103.1L399.5,102.5L398.5,101.6L397.8,100.4L397.5,99.4L397.5,98.9L399.0,97.6L401.5,95.9L402.0,95.4L402.5,94.6L402.7,93.9L402.6,92.4L402.2,90.9L401.5,89.6L398.8,86.4L398.1,85.4L397.8,84.4L397.9,83.4L398.5,82.8L400.5,82.2L401.5,81.7L403.0,80.4L404.0,78.9L404.4,77.9L404.9,74.9L405.3,73.9L406.0,73.3Z" fill="#bfced4"/>
<path d="M406.0,40.9L407.5,40.9L408.5,41.2L409.5,41.7L410.0,42.1L410.5,42.9L410.7,43.9L410.7,44.9L410.3,45.9L409.0,47.4L404.5,51.4L403.7,51.9L402.5,52.4L401.5,52.5L400.5,52.3L399.5,51.9L398.4,50.9L397.8,49.9L397.6,48.9L397.4,45.9L397.7,44.4L398.1,43.4L399.0,42.2L400.5,41.5ZM438.0,41.8L439.0,41.5L440.0,41.4L441.0,41.6L442.0,42.0L443.0,42.6L444.0,43.6L444.8,44.9L445.1,45.9L445.2,46.9L445.0,47.9L444.1,49.4L442.5,50.8L440.5,51.6L438.5,51.7L437.0,51.2L435.7,49.9L435.0,48.4L434.9,46.4L435.5,44.4L436.5,42.9ZM410.5,79.8L411.5,79.5L413.0,79.4L415.0,79.9L416.0,80.6L416.5,81.3L416.7,81.9L416.7,82.9L416.4,83.9L415.9,84.9L413.5,88.2L411.0,90.6L410.0,91.1L409.5,91.2L408.5,90.7L407.4,89.4L406.4,87.4L406.1,85.4L406.5,83.9L407.5,82.1L409.0,80.6Z" fill="#9bbcc7"/>
<g clip-path="url(#h02)"><use href="#hl" x="414.0" y="59.4" fill="none" stroke="#505050" stroke-width="0.42" opacity="0.8"/></g>
<use href="#land" x="414.0" y="59.4" fill="none" stroke="#4c4c4c" stroke-width="0.6" stroke-linejoin="round"/>
<use href="#grat" x="414.0" y="59.4"/>
</g>
<circle cx="414.0" cy="59.4" r="48.5" fill="none" stroke="#3a3a3a" stroke-width="0.5"/>
<text x="414.0" y="8.799999999999997" font-size="4.66" text-anchor="middle">(g) Δ<tspan font-style="italic">θ</tspan>(<tspan font-style="italic">Z</tspan><tspan font-size="3.4" dy="1.1">500</tspan><tspan dy="-1.1">; </tspan><tspan font-style="italic">ϕ</tspan><tspan font-size="3.4" dy="1.1">DJF</tspan><tspan dy="-1.1">, pentad = 1)</tspan></text>
<text x="379.65" y="17.20" font-size="5.2" text-anchor="middle">120°E</text>
<text x="465.60" y="52.20" font-size="5.2" text-anchor="middle">0°</text>
<text x="448.50" y="104.40" font-size="5.2" text-anchor="middle">60°W</text>
<text x="397.90" y="112.25" font-size="5.2" text-anchor="middle">120°W</text>
<text x="359.15" y="69.30" font-size="5.2" text-anchor="middle">20°N</text>
<rect x="471.80" y="100.02" width="6.3" height="4.63" fill="#202c6a"/><rect x="471.80" y="95.54" width="6.3" height="4.63" fill="#283c91"/><rect x="471.80" y="91.06" width="6.3" height="4.63" fill="#1853a9"/><rect x="471.80" y="86.58" width="6.3" height="4.63" fill="#116abd"/><rect x="471.80" y="82.10" width="6.3" height="4.63" fill="#2f80bb"/><rect x="471.80" y="77.62" width="6.3" height="4.63" fill="#4f95ba"/><rect x="471.80" y="73.14" width="6.3" height="4.63" fill="#76a9bf"/><rect x="471.80" y="68.66" width="6.3" height="4.63" fill="#9bbcc7"/><rect x="471.80" y="64.18" width="6.3" height="4.63" fill="#bfced4"/><rect x="471.80" y="59.70" width="6.3" height="4.63" fill="#e1e3e5"/><rect x="471.80" y="55.22" width="6.3" height="4.63" fill="#ede1dd"/><rect x="471.80" y="50.74" width="6.3" height="4.63" fill="#e1c3b9"/><rect x="471.80" y="46.26" width="6.3" height="4.63" fill="#d8a796"/><rect x="471.80" y="41.78" width="6.3" height="4.63" fill="#cf8a73"/><rect x="471.80" y="37.30" width="6.3" height="4.63" fill="#c66d51"/><rect x="471.80" y="32.82" width="6.3" height="4.63" fill="#bb4f3a"/><rect x="471.80" y="28.34" width="6.3" height="4.63" fill="#ae3127"/><rect x="471.80" y="23.86" width="6.3" height="4.63" fill="#961f26"/><rect x="471.80" y="19.38" width="6.3" height="4.63" fill="#7a0f28"/><rect x="471.80" y="14.90" width="6.3" height="4.63" fill="#5b0c1d"/><path d="M471.80,14.90L474.95,10.45L478.10,14.90Z" fill="#3c0911"/><path d="M471.80,104.50L474.95,108.95L478.10,104.50Z" fill="#171c42"/><path d="M471.80,14.90L474.95,10.45L478.10,14.90L478.10,104.50L474.95,108.95L471.80,104.50Z" fill="none" stroke="#222" stroke-width="0.25"/><path d="M478.10,19.38h1.2" stroke="#222" stroke-width="0.3"/><text x="479.85" y="20.88" font-size="4.05">18</text><path d="M478.10,32.82h1.2" stroke="#222" stroke-width="0.3"/><text x="479.85" y="34.32" font-size="4.05">12</text><path d="M478.10,46.26h1.2" stroke="#222" stroke-width="0.3"/><text x="479.85" y="47.76" font-size="4.05">6</text><path d="M478.10,59.70h1.2" stroke="#222" stroke-width="0.3"/><text x="479.85" y="61.20" font-size="4.05">0</text><path d="M478.10,73.14h1.2" stroke="#222" stroke-width="0.3"/><text x="479.85" y="74.64" font-size="4.05">−6</text><path d="M478.10,86.58h1.2" stroke="#222" stroke-width="0.3"/><text x="479.85" y="88.08" font-size="4.05">−12</text><path d="M478.10,100.02h1.2" stroke="#222" stroke-width="0.3"/><text x="479.85" y="101.52" font-size="4.05">−18</text><text transform="translate(495.00,58.80) rotate(-90)" font-size="6.6" text-anchor="middle">[ m ]</text>
<g clip-path="url(#c12)">
<circle cx="414.0" cy="197.55" r="48.5" fill="#e1e3e5"/>
<path d="M399.0,152.0L400.5,151.7L402.0,151.9L403.5,152.5L406.0,153.9L407.5,154.5L409.0,154.6L412.5,154.6L414.4,155.1L415.3,155.6L416.1,156.6L417.1,159.1L417.8,160.1L419.5,161.3L421.5,162.0L423.0,162.0L424.0,161.6L424.8,161.1L426.2,159.6L429.3,155.6L430.5,154.6L431.5,154.4L433.0,154.7L434.0,155.1L435.2,156.1L436.4,157.6L437.1,159.1L437.9,161.6L438.0,163.1L437.9,164.1L437.4,165.1L434.5,168.3L434.0,169.1L433.6,170.6L433.6,172.6L434.1,174.6L434.8,176.1L436.6,179.1L437.0,180.1L437.1,181.1L436.9,182.6L436.3,184.1L435.1,186.1L434.0,187.3L432.5,188.5L431.0,189.1L429.5,189.1L427.5,188.6L425.5,187.6L423.7,186.6L419.5,183.1L418.0,182.0L416.5,181.4L412.0,180.1L409.5,179.1L407.5,178.1L405.6,176.6L404.5,175.1L403.6,173.1L403.2,170.6L403.3,168.6L403.5,167.6L404.0,166.6L405.0,165.4L408.3,162.6L408.8,161.6L408.7,161.1L408.5,160.6L408.0,160.1L406.8,159.6L405.5,159.4L402.0,159.6L400.0,159.5L398.0,158.9L396.7,158.1L396.0,157.3L395.6,156.6L395.5,156.1L395.6,155.1L396.2,154.1L397.0,153.2L398.0,152.5ZM459.5,160.0L464.0,160.0L464.0,163.1L461.6,162.6L459.7,161.6L459.1,161.1L458.8,160.6ZM382.5,191.5L383.5,191.4L384.5,191.7L386.0,193.2L387.3,195.6L388.9,200.6L389.8,202.6L391.2,205.1L393.0,207.3L395.0,209.2L396.5,210.3L398.0,211.1L401.0,212.3L402.3,213.1L403.5,214.0L404.3,215.1L405.2,217.1L405.3,218.1L405.2,219.1L404.4,220.6L402.6,222.1L400.5,223.2L397.5,224.3L395.0,224.9L392.5,225.0L391.0,224.8L389.0,224.3L382.8,221.6L378.5,220.1L376.5,219.6L374.5,219.3L370.5,219.6L364.0,219.5L364.0,215.2L367.5,215.3L369.0,215.1L370.5,214.4L371.7,213.1L372.5,211.5L374.2,206.1L378.0,197.2L379.0,195.3L380.5,193.1L381.5,192.1ZM364.0,192.3L365.7,193.6L366.7,195.1L367.3,197.1L367.4,199.1L367.0,201.1L366.5,202.3L365.5,203.3L364.0,203.8ZM435.5,204.4L437.0,204.5L437.9,205.1L438.5,205.7L439.2,207.1L439.6,209.6L439.6,218.6L439.3,221.1L439.0,222.1L438.4,223.1L437.5,223.7L436.5,224.0L435.5,223.8L434.5,223.3L433.8,222.6L433.2,221.6L431.7,217.1L431.2,215.1L431.0,213.6L431.0,212.1L431.3,210.6L432.4,207.6L433.0,206.5L434.0,205.3L434.5,204.9ZM462.5,205.0L464.0,204.8L464.0,215.6L463.5,215.3L462.5,214.2L460.0,210.7L458.2,208.6L457.8,207.6L457.8,207.1L458.0,206.6L458.5,206.2L459.5,205.8ZM432.0,242.5L433.5,242.2L435.0,242.2L436.7,242.6L438.5,243.2L439.8,244.1L440.7,245.1L441.3,246.1L441.8,247.6L418.4,247.6L418.7,246.1L419.1,245.1L419.5,244.4L420.5,243.7L422.0,243.5L425.5,243.8L427.0,243.8L429.0,243.4Z" fill="#ede1dd"/>
<path d="M413.5,164.5L415.0,164.2L417.0,164.4L421.0,165.7L426.0,167.0L427.5,167.7L428.5,168.6L429.9,170.6L431.9,175.6L434.0,179.1L434.7,180.6L434.9,182.1L434.5,183.6L433.7,185.1L432.8,186.1L431.5,186.9L430.0,187.3L428.5,187.2L426.7,186.6L424.2,185.1L421.0,181.7L419.5,180.6L417.5,179.6L411.8,177.6L410.0,176.6L408.8,175.6L407.8,174.1L407.4,172.6L407.3,170.6L407.7,169.1L408.5,167.8L409.8,166.6L411.5,165.4ZM381.5,195.9L382.5,195.6L383.5,195.7L384.5,196.4L385.0,197.0L385.9,198.6L387.7,202.6L389.0,205.1L391.5,208.7L393.5,211.1L395.5,212.7L400.5,215.0L401.7,216.1L402.3,217.1L402.4,218.6L401.7,220.1L400.6,221.1L398.5,222.2L396.0,222.8L393.5,222.9L391.5,222.5L388.5,221.3L382.0,217.8L379.2,216.1L377.6,214.6L376.8,213.1L376.4,210.6L376.4,208.1L376.9,205.1L377.8,201.6L378.9,199.1L380.0,197.3ZM435.5,207.5L436.5,207.5L437.2,208.1L437.9,209.6L438.0,211.1L438.0,213.1L437.5,215.8L437.0,217.2L436.5,217.8L436.0,217.9L435.5,217.7L434.5,216.3L433.8,214.6L433.4,212.6L433.5,211.1L434.0,209.4L434.5,208.4Z" fill="#e1c3b9"/>
<path d="M414.5,167.5L415.5,167.3L417.0,167.3L420.0,167.9L424.0,169.3L425.3,170.1L426.5,171.0L427.7,172.6L429.5,176.1L431.5,179.1L432.2,180.6L432.5,181.6L432.5,182.6L432.1,183.6L431.5,184.4L430.5,185.0L429.5,185.3L428.5,185.2L427.0,184.8L425.2,183.6L422.5,180.2L421.1,179.1L419.5,178.2L414.9,176.6L413.5,175.8L412.6,175.1L411.7,174.1L411.3,173.1L411.1,172.1L411.2,171.1L411.5,170.1L412.2,169.1L413.4,168.1ZM382.0,199.4L383.0,199.6L384.0,200.5L387.3,206.1L390.6,211.1L392.0,212.8L393.6,214.1L398.0,216.0L399.3,217.1L399.6,217.6L399.7,218.6L399.2,219.6L398.7,220.1L397.0,220.9L395.5,221.1L393.8,221.1L391.9,220.6L388.8,219.1L384.5,216.6L382.0,214.7L380.4,213.1L379.5,211.6L379.0,210.1L378.7,208.1L378.8,205.6L379.3,203.1L380.0,201.3L381.0,199.9Z" fill="#d8a796"/>
<path d="M416.5,171.0L417.5,170.7L418.5,170.7L420.0,171.0L421.1,171.6L421.8,172.1L422.7,173.1L423.1,174.1L423.1,174.6L422.5,175.1L421.0,175.3L419.0,175.1L417.2,174.6L416.0,173.6L415.6,172.6L415.8,171.6ZM383.0,207.4L383.5,207.4L384.5,208.1L385.5,209.1L387.0,211.0L388.0,212.6L388.4,213.6L388.5,214.1L388.1,214.6L387.5,214.6L386.0,213.8L385.0,213.0L383.7,211.6L383.0,210.4L382.6,209.1L382.6,208.1Z" fill="#cf8a73"/>
<path d="M364.0,147.6L365.0,147.6L369.6,147.6L369.2,148.6L368.0,149.7L366.0,150.7L364.0,151.0ZM407.6,147.6L408.5,147.6L412.5,147.6L412.0,148.3L411.5,148.8L411.0,149.1L410.0,149.2L409.1,149.1L408.5,148.7ZM459.9,147.6L464.0,147.6L464.0,150.5L462.5,150.3L461.0,149.6L460.1,148.6ZM374.5,154.9L376.0,154.8L377.5,155.0L382.5,156.9L386.0,157.3L387.0,157.6L388.0,158.1L389.0,158.9L392.0,161.9L395.5,164.1L397.1,165.6L397.9,167.1L399.2,171.1L400.6,174.1L402.5,177.1L404.5,179.0L407.0,180.7L410.0,182.3L412.0,183.0L416.0,183.9L417.5,184.5L424.2,188.6L427.0,190.0L429.0,190.8L430.5,191.1L431.5,191.0L432.5,190.7L433.5,190.1L435.5,188.0L438.8,183.1L440.2,180.6L440.7,179.1L440.6,177.6L439.2,174.6L439.2,174.1L439.4,173.6L440.0,173.3L441.0,173.6L442.0,174.4L444.0,176.7L446.9,180.6L448.0,181.6L449.5,182.6L450.5,182.9L452.0,183.0L456.0,182.0L457.5,181.9L458.5,182.2L461.5,183.8L464.0,184.1L464.0,190.9L462.5,190.4L460.0,189.0L459.0,188.8L458.0,188.8L456.5,189.3L455.0,190.2L454.0,191.4L453.6,192.6L453.7,198.1L453.4,199.6L452.0,203.1L452.0,205.1L452.3,206.6L453.0,208.5L455.6,213.6L456.5,215.6L457.2,218.1L457.5,220.6L457.4,223.1L456.0,226.6L455.6,228.1L455.7,229.6L456.2,232.1L456.3,233.1L456.0,234.1L455.6,234.6L454.5,235.2L453.0,235.7L451.5,236.0L450.5,235.9L449.5,235.5L448.5,234.8L446.0,232.1L445.0,231.6L444.5,231.5L443.5,231.8L443.0,232.1L441.4,234.1L440.3,235.1L439.0,235.7L436.9,236.6L434.9,237.1L430.5,237.8L426.0,239.0L424.0,239.1L419.0,239.0L417.0,239.3L415.5,239.8L412.5,241.2L412.0,241.3L411.0,240.9L408.4,239.1L407.0,238.3L405.5,238.0L404.5,238.1L403.5,238.5L402.7,239.1L402.3,239.6L401.8,240.6L401.7,242.1L402.2,245.6L402.2,247.6L378.2,247.6L378.4,243.6L378.3,242.1L377.8,240.6L376.6,238.1L376.2,236.6L376.2,235.6L376.4,235.1L377.3,234.1L379.9,232.6L382.5,231.4L386.0,230.7L387.9,229.6L389.5,229.1L394.5,227.9L400.5,225.6L408.5,222.9L410.2,222.1L411.6,221.1L412.4,220.1L412.6,219.1L412.4,218.1L412.1,217.1L410.8,214.6L409.6,213.1L407.8,211.6L404.9,209.6L403.0,208.6L398.0,207.4L396.5,206.8L395.0,206.0L393.5,204.7L392.2,203.1L391.3,201.1L389.4,194.1L388.1,191.1L386.5,188.9L385.5,188.1L384.0,187.2L383.0,186.9L382.0,186.8L381.1,187.1L380.5,187.5L379.5,189.2L377.0,195.6L374.5,200.2L373.5,201.3L372.5,201.8L372.0,201.8L371.2,201.1L370.6,199.6L369.5,194.1L367.5,188.6L367.1,186.6L367.0,185.1L367.5,180.6L367.8,175.1L368.6,169.6L368.5,167.6L368.0,165.6L367.2,164.1L365.0,161.2L364.0,160.4L364.0,158.1L367.0,156.8L372.0,155.7ZM434.7,202.1L433.5,202.6L432.1,204.1L427.7,211.1L427.1,213.1L427.3,216.6L427.7,218.1L428.2,219.1L430.8,223.6L432.3,225.6L433.5,226.6L435.0,227.4L437.0,228.0L438.5,228.1L439.5,227.8L440.5,227.1L441.3,225.6L441.7,224.1L441.7,221.6L441.0,214.6L440.9,206.6L440.7,205.6L440.2,204.6L439.5,203.6L438.8,203.1L437.5,202.3L436.5,202.0L435.5,201.9ZM386.0,232.6L385.6,233.6L385.5,234.6L385.8,236.1L386.1,236.6L387.0,237.0L387.7,237.1L388.5,236.8L389.0,236.3L389.3,235.6L389.3,235.1L388.9,234.1L388.0,232.9L387.0,232.2L386.5,232.2ZM368.0,226.5L369.0,226.3L370.0,226.5L370.9,227.1L371.4,227.6L371.9,228.6L372.2,229.6L372.0,231.3L371.3,232.6L367.0,237.1L365.5,238.2L364.0,238.6L364.0,228.1L365.0,227.9ZM456.5,239.5L458.0,239.2L459.0,239.4L460.2,240.1L461.1,241.1L461.3,241.6L461.3,242.6L460.8,245.6L460.6,247.6L452.7,247.6L452.9,244.1L453.5,242.0L454.5,240.6L455.5,239.9Z" fill="#bfced4"/>
<path d="M387.5,169.4L389.5,169.1L391.0,169.2L392.5,169.6L394.0,170.5L397.5,174.3L402.5,180.8L405.0,183.1L407.1,184.6L408.5,185.2L410.5,185.9L416.0,186.8L419.0,187.8L423.5,189.9L429.5,193.1L431.0,193.7L432.0,193.8L432.5,193.7L434.0,192.6L438.5,186.3L440.0,184.7L441.0,183.9L442.0,183.5L443.0,183.3L444.5,183.8L445.6,184.6L447.1,186.1L448.1,188.1L448.6,190.1L449.0,193.6L449.0,195.1L448.7,196.6L448.1,198.1L446.5,201.1L446.2,202.1L446.2,202.6L446.8,203.6L449.0,205.9L450.5,208.2L452.7,212.6L454.0,216.1L454.6,218.6L454.6,220.6L454.1,222.6L453.0,224.4L451.5,225.7L450.5,226.2L449.5,226.3L448.5,226.2L447.0,225.7L446.0,224.9L445.2,224.1L444.4,222.6L443.3,219.6L442.7,217.1L442.3,214.6L442.2,212.6L442.3,210.1L443.3,204.6L443.2,203.6L442.9,203.1L441.5,202.1L436.0,199.4L434.5,199.1L433.5,199.1L433.0,199.3L432.0,200.2L429.0,204.1L427.0,205.8L425.5,206.6L420.0,208.9L418.0,209.5L416.5,209.3L412.4,207.6L404.0,205.1L397.5,204.1L396.5,203.7L395.4,203.1L394.5,202.1L393.7,200.6L391.9,193.6L391.2,191.6L390.2,189.6L389.2,188.1L388.3,187.1L383.7,183.1L382.9,182.1L382.2,180.6L382.0,179.1L382.1,177.1L382.5,175.1L383.1,173.1L384.0,171.6L385.0,170.6L386.0,170.0ZM373.5,182.3L374.5,182.1L375.0,182.2L375.8,183.1L376.5,185.1L376.7,187.6L376.5,190.1L375.9,192.6L375.5,193.6L374.5,195.0L374.0,195.4L373.5,195.5L372.8,195.1L372.0,193.5L371.0,190.1L370.8,188.1L371.0,186.6L371.5,185.1L372.5,183.3ZM418.0,223.5L420.5,223.3L423.0,223.5L425.5,224.1L427.0,224.8L428.8,226.6L430.9,229.6L431.2,230.6L431.2,231.1L430.7,232.1L428.9,233.6L425.5,235.5L423.5,236.1L421.0,236.3L417.0,235.9L412.5,235.2L406.5,233.1L402.0,232.4L401.3,232.1L400.9,231.6L400.9,231.1L401.2,230.6L402.0,229.9L403.5,229.4L407.0,229.1L408.5,228.7L410.0,227.9L412.4,226.1L414.0,225.0L416.0,224.1ZM386.0,244.9L387.5,244.9L389.0,245.5L389.9,246.6L390.1,247.6L383.5,247.6L383.8,246.6L384.5,245.6Z" fill="#9bbcc7"/>
<path d="M389.5,173.5L391.0,173.7L392.5,174.2L394.5,175.3L396.0,176.6L397.3,178.1L398.3,179.6L401.0,185.6L401.8,186.6L403.0,187.3L404.5,187.9L406.0,188.1L414.5,188.8L418.0,189.5L422.0,190.9L424.0,191.9L425.8,193.1L428.1,195.1L428.8,196.1L429.1,197.1L429.2,198.1L429.0,199.1L428.0,201.1L426.5,202.6L424.0,204.0L420.5,205.2L417.5,205.5L414.5,205.1L400.5,201.7L399.0,201.2L398.0,200.7L397.0,199.7L396.4,198.6L394.7,191.6L393.7,189.1L392.1,187.1L387.2,182.6L386.5,181.6L386.0,180.6L385.8,179.6L385.7,178.1L386.0,176.8L386.5,175.6L387.0,174.8L387.8,174.1L388.5,173.7ZM441.5,186.3L442.5,186.2L443.5,186.4L444.8,187.6L445.9,189.6L446.2,191.1L446.4,192.6L446.1,195.1L445.2,197.1L444.5,197.9L443.7,198.6L443.0,198.9L442.0,199.1L441.0,199.1L440.0,198.8L438.0,197.7L436.8,196.6L436.3,195.1L436.6,193.1L438.0,189.9L439.7,187.6L440.5,186.9ZM445.0,208.3L446.0,207.8L447.0,207.9L448.0,208.5L449.0,209.6L450.5,212.1L451.9,215.6L452.5,218.6L452.2,220.6L451.4,222.1L450.7,222.6L450.0,222.9L448.5,222.8L447.0,221.9L445.5,219.9L444.3,217.1L443.7,214.1L443.8,211.1L444.0,210.0L444.5,208.9ZM418.0,227.5L419.5,227.1L421.0,227.1L422.5,227.3L424.0,228.0L424.7,228.6L425.3,229.6L425.3,230.6L424.9,231.6L424.5,232.1L423.5,232.8L422.5,233.1L421.5,233.3L419.0,233.1L417.0,232.3L416.0,231.6L415.6,231.1L415.4,230.1L415.8,229.1L416.2,228.6L417.0,227.9Z" fill="#76a9bf"/>
<path d="M391.5,178.9L392.0,178.8L393.0,179.0L394.0,179.7L394.5,180.6L394.5,181.1L394.5,181.6L394.1,182.1L393.5,182.3L393.0,182.3L392.4,182.1L391.5,181.4L391.0,180.7L390.8,180.1L391.0,179.3ZM441.0,189.9L442.0,189.6L442.9,190.1L443.5,191.0L443.7,192.1L443.6,193.6L443.2,194.6L442.5,195.4L441.5,195.8L440.5,195.6L440.0,195.2L439.5,194.6L439.3,193.6L439.4,192.6L439.7,191.6L440.3,190.6ZM407.0,191.0L411.0,190.6L414.5,190.7L418.0,191.3L421.0,192.3L423.5,193.6L424.7,194.6L425.5,195.6L426.2,197.1L426.3,198.1L426.0,199.1L424.9,200.6L424.0,201.3L422.6,202.1L420.0,202.9L417.5,203.1L414.5,202.8L406.0,200.8L402.5,199.6L400.8,198.6L400.0,197.6L399.4,196.1L399.5,194.5L400.2,193.1L401.0,192.4L402.0,192.0ZM447.0,212.0L447.5,212.2L448.0,212.6L449.0,214.6L449.4,216.1L449.5,217.1L449.5,217.6L449.0,218.4L448.5,218.5L447.5,217.9L446.9,217.1L446.2,215.6L446.0,214.6L446.0,213.1L446.5,212.1Z" fill="#4f95ba"/>
<path d="M413.0,192.5L415.0,192.6L417.4,193.1L419.0,193.6L421.0,194.6L422.2,195.6L422.8,196.6L423.0,197.6L422.7,198.6L421.8,199.6L420.0,200.5L418.0,200.9L416.0,200.9L413.0,200.3L408.2,199.1L405.9,198.1L404.8,197.1L404.5,196.1L404.7,195.6L405.5,194.6L406.5,194.1L409.5,193.0Z" fill="#2f80bb"/>
<path d="M413.5,195.5L414.5,195.3L416.0,195.6L416.9,196.1L417.3,196.6L417.4,197.1L416.9,197.6L416.0,197.8L415.0,197.8L413.8,197.6L412.8,197.1L412.4,196.6L412.5,196.1Z" fill="#116abd"/>
<g clip-path="url(#h12)"><use href="#hl" x="414.0" y="197.55" fill="none" stroke="#505050" stroke-width="0.42" opacity="0.8"/></g>
<use href="#land" x="414.0" y="197.55" fill="none" stroke="#4c4c4c" stroke-width="0.6" stroke-linejoin="round"/>
<use href="#grat" x="414.0" y="197.55"/>
</g>
<circle cx="414.0" cy="197.55" r="48.5" fill="none" stroke="#3a3a3a" stroke-width="0.5"/>
<text x="414.0" y="146.95000000000002" font-size="4.66" text-anchor="middle">(h) Δ<tspan font-style="italic">θ</tspan>(<tspan font-style="italic">Z</tspan><tspan font-size="3.4" dy="1.1">500</tspan><tspan dy="-1.1">; </tspan><tspan font-style="italic">ϕ</tspan><tspan font-size="3.4" dy="1.1">DJF</tspan><tspan dy="-1.1">, pentad = 2)</tspan></text>
<text x="379.65" y="155.35" font-size="5.2" text-anchor="middle">120°E</text>
<text x="465.60" y="190.35" font-size="5.2" text-anchor="middle">0°</text>
<text x="448.50" y="242.55" font-size="5.2" text-anchor="middle">60°W</text>
<text x="397.90" y="250.40" font-size="5.2" text-anchor="middle">120°W</text>
<text x="359.15" y="207.45" font-size="5.2" text-anchor="middle">20°N</text>
<rect x="471.80" y="238.17" width="6.3" height="4.63" fill="#202c6a"/><rect x="471.80" y="233.69" width="6.3" height="4.63" fill="#283c91"/><rect x="471.80" y="229.21" width="6.3" height="4.63" fill="#1853a9"/><rect x="471.80" y="224.73" width="6.3" height="4.63" fill="#116abd"/><rect x="471.80" y="220.25" width="6.3" height="4.63" fill="#2f80bb"/><rect x="471.80" y="215.77" width="6.3" height="4.63" fill="#4f95ba"/><rect x="471.80" y="211.29" width="6.3" height="4.63" fill="#76a9bf"/><rect x="471.80" y="206.81" width="6.3" height="4.63" fill="#9bbcc7"/><rect x="471.80" y="202.33" width="6.3" height="4.63" fill="#bfced4"/><rect x="471.80" y="197.85" width="6.3" height="4.63" fill="#e1e3e5"/><rect x="471.80" y="193.37" width="6.3" height="4.63" fill="#ede1dd"/><rect x="471.80" y="188.89" width="6.3" height="4.63" fill="#e1c3b9"/><rect x="471.80" y="184.41" width="6.3" height="4.63" fill="#d8a796"/><rect x="471.80" y="179.93" width="6.3" height="4.63" fill="#cf8a73"/><rect x="471.80" y="175.45" width="6.3" height="4.63" fill="#c66d51"/><rect x="471.80" y="170.97" width="6.3" height="4.63" fill="#bb4f3a"/><rect x="471.80" y="166.49" width="6.3" height="4.63" fill="#ae3127"/><rect x="471.80" y="162.01" width="6.3" height="4.63" fill="#961f26"/><rect x="471.80" y="157.53" width="6.3" height="4.63" fill="#7a0f28"/><rect x="471.80" y="153.05" width="6.3" height="4.63" fill="#5b0c1d"/><path d="M471.80,153.05L474.95,148.60L478.10,153.05Z" fill="#3c0911"/><path d="M471.80,242.65L474.95,247.10L478.10,242.65Z" fill="#171c42"/><path d="M471.80,153.05L474.95,148.60L478.10,153.05L478.10,242.65L474.95,247.10L471.80,242.65Z" fill="none" stroke="#222" stroke-width="0.25"/><path d="M478.10,157.53h1.2" stroke="#222" stroke-width="0.3"/><text x="479.85" y="159.03" font-size="4.05">18</text><path d="M478.10,170.97h1.2" stroke="#222" stroke-width="0.3"/><text x="479.85" y="172.47" font-size="4.05">12</text><path d="M478.10,184.41h1.2" stroke="#222" stroke-width="0.3"/><text x="479.85" y="185.91" font-size="4.05">6</text><path d="M478.10,197.85h1.2" stroke="#222" stroke-width="0.3"/><text x="479.85" y="199.35" font-size="4.05">0</text><path d="M478.10,211.29h1.2" stroke="#222" stroke-width="0.3"/><text x="479.85" y="212.79" font-size="4.05">−6</text><path d="M478.10,224.73h1.2" stroke="#222" stroke-width="0.3"/><text x="479.85" y="226.23" font-size="4.05">−12</text><path d="M478.10,238.17h1.2" stroke="#222" stroke-width="0.3"/><text x="479.85" y="239.67" font-size="4.05">−18</text><text transform="translate(495.00,196.95) rotate(-90)" font-size="6.6" text-anchor="middle">[ m ]</text>
<g clip-path="url(#c22)">
<circle cx="414.0" cy="335.7" r="48.5" fill="#e1e3e5"/>
<path d="M403.0,285.7L405.4,285.7L406.6,287.2L408.2,288.2L409.5,288.7L412.0,289.3L415.5,289.6L417.5,289.5L421.0,288.9L422.0,288.9L422.5,289.1L425.4,291.7L426.8,292.7L429.0,293.7L433.0,294.8L434.0,295.5L435.0,296.9L437.1,301.7L438.3,304.2L443.2,312.2L444.0,314.2L444.2,315.7L444.1,317.7L443.2,323.7L442.8,328.2L442.7,331.7L442.9,337.7L442.6,340.7L442.0,342.7L440.8,344.7L439.0,346.6L437.0,348.0L436.0,348.4L435.0,348.5L433.5,347.9L432.0,346.3L430.8,344.2L430.0,341.7L429.6,339.2L429.6,336.2L430.0,330.2L430.0,327.7L429.7,324.7L429.0,322.0L427.0,317.0L425.5,314.1L424.1,312.2L420.9,308.7L418.2,305.2L417.5,304.6L416.5,304.0L414.5,303.6L405.5,303.2L397.5,303.4L394.5,303.1L392.5,302.7L390.5,302.0L389.3,301.2L388.5,300.2L388.1,299.2L388.2,298.2L388.6,297.2L389.9,295.7L392.5,293.7L397.6,290.7L399.8,289.2L401.5,287.7ZM463.5,303.7L464.0,303.4L464.0,308.4L463.0,307.7L462.5,307.0L462.2,306.2L462.2,305.7L462.5,304.7ZM364.0,323.1L365.5,323.5L367.0,324.3L368.0,325.2L369.0,326.4L370.0,328.2L370.8,330.2L370.9,331.7L370.5,332.2L369.7,332.7L368.5,333.0L364.0,333.4ZM375.5,332.7L377.0,332.7L378.5,333.0L384.5,334.4L386.0,335.0L386.9,335.7L387.5,336.5L388.9,339.2L390.0,340.8L391.5,342.0L394.7,343.7L396.2,345.2L397.2,346.7L398.0,348.7L398.6,350.7L398.6,352.2L398.3,354.7L397.5,357.7L396.5,359.7L395.5,360.8L394.5,361.4L393.0,361.8L390.0,361.9L386.5,361.3L380.0,359.3L377.5,358.3L375.5,357.0L372.0,354.2L370.2,352.2L368.7,348.7L367.3,346.2L367.0,345.2L367.1,344.2L370.7,338.2L372.8,333.7L373.4,333.2L374.0,332.9ZM420.0,361.4L421.0,361.0L422.0,361.1L423.0,361.8L423.5,362.7L423.5,363.2L423.0,363.9L422.5,364.2L421.5,364.3L420.5,363.9L420.0,363.5L419.6,362.7L419.6,362.2ZM421.0,379.2L423.0,379.2L425.5,379.6L427.6,380.2L429.0,380.9L430.0,381.7L430.7,382.7L431.2,384.2L431.4,385.7L414.8,385.7L415.1,384.2L415.5,383.2L416.8,381.2L418.5,379.9L419.5,379.5Z" fill="#ede1dd"/>
<path d="M403.5,290.2L405.0,290.0L407.0,290.1L418.0,291.4L420.5,291.9L422.0,292.5L426.5,294.9L430.5,296.5L432.0,297.3L433.5,298.5L435.0,300.7L441.6,311.7L442.6,314.2L442.9,316.2L442.9,318.2L442.3,324.2L442.0,328.2L442.0,331.2L442.3,337.2L442.1,339.7L441.5,341.7L440.8,343.2L439.5,344.8L438.0,345.9L437.0,346.4L436.0,346.5L434.5,346.2L433.0,345.0L431.6,342.7L430.9,340.7L430.5,338.2L430.5,335.7L431.1,330.2L431.2,327.7L431.0,324.7L430.3,321.7L428.5,316.9L427.0,313.7L426.0,312.2L422.7,308.2L419.9,304.2L419.0,303.4L417.8,302.7L416.5,302.2L415.0,302.0L401.0,302.0L396.5,301.6L393.7,300.7L392.8,300.2L392.0,299.2L391.8,298.2L392.0,297.2L392.7,296.2L393.8,295.2L396.0,293.7L399.0,292.0L401.5,290.8ZM378.0,337.6L379.5,337.3L381.5,337.3L383.5,337.6L385.0,338.2L386.0,339.0L389.0,342.0L392.9,344.7L394.5,346.3L395.2,347.7L395.7,349.2L395.8,350.7L395.7,352.2L395.2,354.2L394.1,356.7L393.0,358.2L392.0,359.1L391.0,359.6L390.0,359.8L388.0,359.9L385.5,359.5L382.6,358.7L380.2,357.7L378.0,356.3L376.2,354.7L375.0,353.2L374.3,351.7L373.9,349.7L373.8,344.2L374.0,342.2L374.5,340.7L375.5,339.2L376.7,338.2ZM421.5,383.1L422.5,383.2L423.7,383.7L424.6,384.7L424.9,385.7L419.2,385.7L419.5,384.7L420.0,383.9L420.5,383.5Z" fill="#e1c3b9"/>
<path d="M404.0,291.7L407.0,291.4L410.5,291.6L417.0,292.5L420.5,293.5L425.8,296.2L429.5,297.8L431.1,298.7L433.0,300.4L435.5,303.9L440.5,311.7L441.3,313.7L441.8,316.2L441.8,318.7L441.2,327.7L441.3,330.7L441.7,336.2L441.6,338.7L441.1,340.7L440.5,342.1L439.5,343.5L438.5,344.4L437.5,344.9L436.5,345.1L435.0,344.8L433.5,343.7L432.2,341.7L431.6,339.7L431.3,337.2L431.4,335.2L432.1,330.2L432.2,327.7L432.1,324.7L431.5,321.6L429.7,316.7L428.0,313.0L426.9,311.2L423.8,307.2L422.0,304.3L421.1,303.2L420.0,302.3L419.0,301.7L416.5,300.9L414.0,300.7L405.0,300.9L401.0,300.8L399.0,300.5L397.0,300.0L396.0,299.5L395.0,298.7L394.8,298.2L394.9,297.2L395.5,296.2L396.6,295.2L398.5,293.9L400.5,292.9L402.5,292.1ZM380.5,340.6L381.5,340.5L383.0,340.6L385.0,341.3L391.0,345.4L392.3,346.7L392.9,347.7L393.3,348.7L393.6,350.2L393.5,351.2L393.2,352.7L392.6,354.2L391.7,355.7L391.0,356.6L390.0,357.3L388.5,357.9L387.0,358.1L385.0,357.9L383.0,357.3L381.0,356.3L379.5,355.3L378.3,354.2L377.2,352.7L376.6,351.2L376.4,349.2L376.7,346.7L377.2,344.2L377.7,342.7L378.5,341.7L379.5,340.9Z" fill="#d8a796"/>
<path d="M405.5,292.7L408.0,292.5L410.5,292.6L414.4,293.2L417.5,293.9L420.0,294.8L425.0,297.5L429.0,299.3L431.0,300.6L432.6,302.2L435.0,305.3L438.5,310.4L440.0,313.2L440.4,314.7L440.7,316.2L440.7,318.2L440.3,323.7L440.2,327.2L441.0,337.2L440.8,339.2L440.1,341.2L439.0,342.7L438.0,343.5L436.5,343.9L435.0,343.5L434.0,342.8L433.5,342.2L432.7,340.7L432.2,338.7L432.0,336.7L432.2,334.7L433.0,330.2L433.3,327.7L433.3,324.7L432.7,321.7L431.3,317.7L429.2,312.7L428.0,310.7L425.3,306.7L423.5,303.7L422.5,302.3L421.5,301.5L420.2,300.7L418.5,300.1L417.0,299.8L414.5,299.6L407.0,299.9L403.0,299.9L401.0,299.6L399.6,299.2L398.5,298.7L398.0,298.2L397.7,297.7L397.8,296.7L398.1,296.2L399.2,295.2L400.7,294.2L402.0,293.6L403.5,293.1ZM381.5,344.0L382.5,343.7L383.5,343.7L386.0,344.5L387.5,345.2L389.0,346.2L390.0,347.2L390.7,348.2L391.2,349.2L391.3,350.2L391.1,352.2L390.1,354.2L388.5,355.6L387.5,356.0L386.5,356.1L385.0,356.1L383.7,355.7L382.5,355.2L381.0,354.2L379.5,352.5L378.9,351.2L378.8,350.2L379.0,347.8L379.5,346.4L380.0,345.4L380.5,344.7Z" fill="#cf8a73"/>
<path d="M406.5,293.6L408.5,293.5L410.8,293.7L415.4,294.7L416.9,295.2L418.9,296.2L420.1,297.2L420.4,297.7L420.1,298.2L419.5,298.3L415.0,298.3L409.5,298.8L406.5,298.9L403.0,298.6L401.6,298.2L400.9,297.7L400.6,297.2L400.6,296.7L401.0,296.0L401.9,295.2L404.0,294.2ZM425.5,300.7L427.0,300.7L428.5,301.2L430.0,302.1L431.5,303.4L434.0,306.2L437.0,310.2L438.3,312.2L439.1,314.2L439.5,315.7L439.5,317.2L439.0,323.7L439.0,326.7L439.2,329.2L440.3,335.2L440.4,337.7L440.0,339.7L439.2,341.2L438.0,342.4L437.0,342.8L436.0,342.8L435.5,342.6L434.5,341.9L433.6,340.7L433.0,339.2L432.8,337.2L432.9,335.2L434.2,329.7L434.6,327.2L434.6,324.7L434.3,322.7L433.6,320.2L430.4,312.2L429.3,310.2L426.9,306.2L426.0,304.2L425.2,301.7L425.2,301.2ZM384.0,347.2L385.0,347.1L386.5,347.6L387.5,348.2L388.3,349.2L388.6,350.2L388.5,351.7L387.9,352.7L387.0,353.3L385.5,353.7L384.0,353.3L382.6,352.2L382.0,351.2L381.8,350.2L382.0,348.7L382.8,347.7Z" fill="#c66d51"/>
<path d="M406.0,295.2L408.0,294.9L410.0,295.0L411.2,295.2L412.0,295.5L412.3,295.7L412.8,296.2L412.5,296.7L412.0,296.9L411.2,297.2L409.5,297.5L407.0,297.6L404.8,297.2L404.2,296.7L404.3,296.2L404.8,295.7ZM431.0,307.5L431.5,307.3L432.0,307.5L434.0,309.1L436.0,311.2L437.0,312.6L437.5,313.7L438.0,315.7L438.0,317.8L437.5,319.7L437.0,320.6L436.5,320.8L436.0,320.5L435.0,319.2L433.5,316.2L431.0,308.7ZM436.5,329.2L437.0,329.2L437.5,329.6L438.5,331.6L439.3,334.2L439.7,336.7L439.5,338.7L438.9,340.2L438.0,341.2L437.5,341.5L436.5,341.7L435.5,341.4L434.5,340.5L433.9,339.2L433.5,337.2L433.7,335.2L434.5,332.6L435.5,330.5Z" fill="#bb4f3a"/>
<path d="M436.5,332.6L437.0,332.7L437.5,333.0L438.0,333.7L438.6,335.2L438.8,337.2L438.6,338.7L438.0,339.7L437.4,340.2L436.5,340.4L435.5,340.0L435.0,339.4L434.5,338.2L434.4,337.2L434.5,335.7L435.0,334.3L435.5,333.4L436.0,332.9Z" fill="#ae3127"/>
<path d="M436.5,335.4L437.1,335.7L437.5,336.5L437.6,337.2L437.2,338.2L437.0,338.4L436.5,338.5L436.0,338.2L435.7,337.2L436.0,335.9Z" fill="#961f26"/>
<path d="M376.5,285.7L383.7,285.7L384.0,286.7L384.5,287.2L385.5,287.7L389.0,288.8L389.6,289.2L389.7,289.7L389.1,290.7L387.2,292.2L386.0,292.8L384.5,292.9L383.9,292.7L383.4,292.2L382.2,290.2L381.5,289.4L377.5,287.2L376.6,286.2ZM393.4,285.7L394.0,285.7L395.6,285.7L395.0,286.6L394.5,286.9L394.0,286.9L393.5,286.4ZM411.3,285.7L412.0,285.7L416.2,285.7L415.9,286.2L415.3,286.7L414.0,287.1L413.0,287.0L412.3,286.7L411.6,286.2ZM440.1,285.7L464.0,285.7L464.0,294.0L463.0,294.2L461.7,295.2L458.9,299.2L455.5,301.9L455.0,302.7L454.8,303.7L454.9,305.2L455.5,306.7L458.7,313.7L459.1,315.2L459.4,317.2L459.4,320.2L459.1,327.2L460.1,335.2L460.8,346.7L460.4,354.2L459.3,357.7L459.0,359.2L458.7,366.7L459.0,367.6L459.5,367.8L462.0,367.3L463.0,367.3L464.0,367.5L464.0,377.7L462.5,377.5L459.5,376.6L458.5,376.6L457.5,376.9L454.0,378.7L452.5,379.1L451.5,379.0L450.5,378.6L447.0,375.6L444.5,374.0L442.5,373.1L440.5,373.0L438.5,373.5L435.0,375.4L433.0,376.1L426.5,376.5L421.0,376.7L418.0,377.3L416.5,377.9L415.1,378.7L411.0,382.1L410.0,382.7L409.5,382.8L408.0,382.4L402.4,379.2L401.0,378.6L399.0,378.1L397.0,378.3L395.7,378.7L394.7,379.2L394.0,379.7L393.1,380.7L392.6,381.7L392.3,382.7L392.2,385.7L385.0,385.7L384.5,382.2L384.0,380.7L383.4,379.7L382.5,378.7L381.5,377.9L377.5,375.7L376.9,375.2L376.3,374.2L376.0,372.7L375.1,363.2L375.2,362.2L375.5,361.7L376.0,361.4L377.5,361.0L380.5,361.2L383.0,361.7L388.5,363.3L392.5,364.3L395.0,364.6L397.0,364.6L399.0,364.2L401.3,363.2L402.8,362.2L406.0,359.3L407.5,358.4L409.5,357.6L411.0,357.5L412.0,358.0L412.5,358.5L413.3,359.7L414.9,362.7L416.7,364.7L418.0,365.7L420.0,366.7L421.5,367.1L423.0,367.3L424.5,367.2L426.0,366.9L427.5,366.4L428.8,365.7L429.5,364.9L429.8,364.2L429.8,362.7L429.0,361.1L426.2,358.2L425.1,356.7L424.7,355.2L425.0,352.7L424.9,352.2L424.6,351.7L424.0,351.2L423.0,350.9L421.5,350.8L420.2,351.2L416.0,353.0L414.0,353.5L412.5,353.7L411.0,353.4L405.0,350.8L403.0,349.6L401.5,348.2L400.0,346.5L397.5,343.2L396.5,342.3L395.5,341.6L392.5,340.4L391.6,339.7L390.8,338.2L390.4,335.7L390.0,334.6L389.1,333.2L388.0,332.0L387.0,331.3L385.5,330.6L381.5,329.7L379.0,328.9L377.0,327.8L375.5,326.7L373.7,324.7L372.6,322.7L371.8,320.2L370.5,314.9L370.0,313.6L369.0,311.6L368.0,310.3L367.5,310.0L367.0,309.9L365.0,310.2L364.0,310.2L364.0,305.5L365.0,305.7L367.0,306.9L368.0,307.2L369.0,306.8L371.5,305.0L373.5,303.9L379.0,302.4L381.0,302.1L382.0,302.4L382.9,303.2L383.6,304.2L385.0,307.4L385.7,308.2L386.5,308.7L387.0,308.8L387.5,308.6L389.7,306.7L391.0,306.1L392.5,305.8L397.0,305.5L403.0,304.7L405.0,304.7L407.0,304.9L411.0,306.0L414.5,306.6L416.0,307.3L417.5,308.6L423.5,314.8L425.0,317.3L427.5,322.8L428.2,325.2L428.7,328.2L428.7,330.7L428.4,339.2L428.7,343.2L429.4,349.2L429.9,351.2L430.6,352.7L431.5,353.7L432.5,353.8L433.5,353.4L435.0,352.2L441.0,345.9L441.9,344.7L442.7,343.2L443.2,341.7L443.4,340.2L443.5,337.7L443.3,331.7L443.4,328.2L444.1,323.2L445.5,316.7L445.7,314.7L445.3,313.2L444.9,312.2L440.5,305.7L439.4,303.7L438.3,301.2L437.8,299.2L437.7,297.7L437.8,296.2L438.9,290.2ZM368.0,378.2L369.0,378.3L370.0,378.7L370.5,379.2L370.7,379.7L370.8,380.2L370.5,381.2L370.0,382.0L369.5,382.5L369.0,382.7L368.0,382.8L365.0,381.5L364.0,381.2L364.0,378.7Z" fill="#bfced4"/>
<path d="M443.5,295.1L445.0,295.1L447.0,295.6L448.5,296.5L449.6,297.7L450.2,299.2L451.0,304.2L452.4,309.2L453.1,310.7L455.5,314.5L456.7,317.7L457.1,319.7L457.3,321.7L457.3,328.7L458.1,343.2L458.1,346.2L457.4,351.7L456.2,356.2L454.5,360.7L453.5,362.5L452.5,363.7L451.0,365.0L450.0,365.6L449.0,365.9L444.5,366.0L440.0,366.4L438.5,366.4L437.0,366.1L436.0,365.7L435.0,365.0L434.2,364.2L433.6,363.2L432.9,361.7L432.7,360.7L432.7,359.2L433.0,357.7L433.9,356.2L436.5,353.0L439.0,349.7L442.7,345.2L443.5,343.7L444.0,341.9L444.2,339.2L443.8,331.7L444.2,326.7L445.2,321.7L447.4,315.2L447.7,313.2L447.6,312.7L447.1,311.7L443.5,307.6L441.5,304.9L440.5,303.1L439.9,301.2L439.7,299.2L439.9,298.2L440.4,297.2L441.5,295.9L442.5,295.4ZM402.0,306.6L404.5,306.5L406.5,306.9L408.5,307.9L414.1,311.2L416.1,313.2L418.9,317.2L422.5,320.4L424.0,322.1L425.0,323.5L426.0,325.4L426.8,327.7L427.1,329.7L427.1,332.7L426.8,337.7L426.4,340.7L426.0,342.0L425.6,342.7L424.5,343.7L423.5,344.1L420.0,344.9L416.0,346.1L413.0,346.6L410.5,346.7L408.5,346.5L406.5,346.0L404.0,345.1L401.5,343.6L399.6,341.7L395.7,337.2L394.2,334.2L392.8,332.2L390.5,329.4L389.0,328.0L387.5,327.0L386.5,326.6L385.5,326.5L382.0,326.4L380.0,325.9L378.0,324.6L376.4,322.7L375.5,320.9L374.9,319.2L374.3,316.7L374.0,314.2L373.9,312.2L374.2,310.7L374.6,309.7L375.5,308.9L376.5,308.5L378.0,308.5L379.0,308.9L380.5,310.0L382.0,311.6L383.0,313.2L385.0,318.3L385.5,318.8L386.0,319.0L386.5,319.0L387.5,318.6L388.5,317.5L391.9,311.7L393.5,309.9L394.5,309.2L396.0,308.5L399.7,307.2ZM381.5,363.2L383.0,363.3L385.5,363.9L389.5,365.2L394.5,367.1L397.0,367.7L399.5,367.6L404.0,366.5L406.5,366.2L411.0,366.3L413.5,366.6L416.0,367.3L422.4,370.2L423.7,371.2L423.9,371.7L423.9,372.2L423.7,372.7L423.2,373.2L422.2,373.7L416.0,375.4L411.5,377.2L410.0,377.6L408.5,377.7L406.5,377.4L401.0,375.5L399.0,375.2L396.5,375.5L391.0,377.0L389.0,377.1L387.0,376.3L383.5,373.8L381.2,371.7L379.8,369.7L378.8,367.2L378.6,366.2L378.7,365.2L379.0,364.3L379.6,363.7L380.5,363.3Z" fill="#9bbcc7"/>
<path d="M443.5,298.8L445.0,298.9L446.0,299.4L446.8,300.2L447.5,301.6L448.0,303.7L448.0,305.7L447.5,306.7L447.0,306.9L446.0,306.8L444.5,305.7L443.1,304.2L442.3,302.7L441.9,301.2L442.0,300.2L442.7,299.2ZM402.0,308.7L404.0,308.6L405.5,308.9L407.5,310.0L410.0,311.9L411.5,313.2L412.8,314.7L413.8,316.2L415.5,319.5L416.5,320.8L418.0,322.2L422.0,325.1L423.8,327.2L424.5,328.7L425.1,330.7L425.2,333.2L425.1,335.7L424.7,337.7L424.0,339.2L423.3,340.2L422.0,341.2L420.0,342.1L417.5,342.9L415.5,343.3L413.5,343.4L411.0,343.3L408.5,342.9L406.0,342.1L404.0,341.3L402.5,340.4L401.0,338.9L397.5,333.2L393.3,328.2L391.2,325.2L390.4,323.2L390.5,321.2L391.8,317.2L393.5,313.9L394.9,312.2L396.5,310.9L399.5,309.4ZM450.5,314.4L451.5,314.2L452.5,314.4L454.0,315.6L454.7,316.7L455.4,318.2L456.1,321.2L456.3,323.7L456.4,334.7L456.8,343.7L456.5,347.2L455.6,352.2L454.8,355.2L453.5,358.2L452.5,359.8L451.0,361.3L450.0,361.9L448.5,362.6L442.0,364.5L440.0,364.9L438.0,364.8L437.0,364.5L436.0,364.0L434.8,362.7L434.2,361.7L433.9,360.7L433.8,359.7L434.0,358.7L434.3,357.7L435.2,356.2L437.5,353.3L440.0,349.8L443.3,346.2L444.0,345.2L444.4,344.2L444.8,342.7L444.9,340.7L444.4,333.7L444.4,330.7L444.7,327.2L445.2,324.2L446.2,320.7L447.5,317.9L449.0,315.7ZM383.0,365.6L384.5,365.5L386.5,365.9L388.7,366.7L390.7,367.7L393.1,369.2L394.4,370.2L395.1,371.2L395.2,371.7L395.0,372.2L394.5,372.7L393.5,373.3L392.5,373.7L391.0,374.1L389.0,374.0L388.0,373.7L386.5,373.0L384.0,371.2L383.0,370.1L382.1,368.7L381.8,367.7L381.8,366.7L382.0,366.2L382.5,365.7ZM404.5,369.7L407.0,369.3L410.1,369.7L412.3,370.2L413.6,370.7L414.1,371.2L414.2,371.7L413.1,372.7L411.2,373.7L410.0,374.1L408.0,374.5L406.5,374.4L404.5,373.7L403.5,373.1L402.6,372.2L402.4,371.7L402.4,371.2L402.8,370.7L403.4,370.2Z" fill="#76a9bf"/>
<path d="M402.5,310.7L404.5,310.9L406.0,311.5L407.5,312.5L409.5,314.2L411.5,316.7L413.5,320.8L414.7,322.7L416.2,324.2L420.2,327.2L421.2,328.2L422.0,329.4L422.6,330.7L423.0,332.2L423.2,334.2L423.0,335.7L422.5,337.2L421.9,338.2L421.0,339.1L420.0,339.8L418.5,340.6L416.5,341.2L415.0,341.4L413.0,341.3L411.0,341.0L409.5,340.6L405.5,338.8L404.0,337.8L402.9,336.7L400.1,332.7L396.1,328.2L394.3,325.7L393.2,323.2L393.0,321.2L393.3,318.7L393.8,317.2L394.5,315.7L396.0,313.7L397.5,312.5L400.0,311.2ZM451.0,316.1L451.5,316.1L452.5,316.3L453.5,317.1L454.0,317.8L454.9,319.7L455.4,322.7L455.5,333.7L455.8,343.7L455.4,347.7L454.3,352.7L453.5,355.2L452.5,357.2L451.5,358.7L449.8,360.2L447.5,361.4L441.5,363.6L439.5,364.0L438.0,363.9L436.5,363.2L435.9,362.7L435.2,361.7L434.7,360.2L434.8,358.7L435.1,357.7L435.7,356.7L438.0,353.9L440.3,350.7L441.5,349.3L444.2,346.7L445.2,345.2L445.6,343.7L445.7,341.7L444.9,334.7L444.8,331.7L445.1,328.2L445.6,325.2L446.3,322.2L447.7,319.2L448.5,318.0L449.5,316.9Z" fill="#4f95ba"/>
<path d="M401.5,312.7L403.5,312.7L405.0,313.1L406.5,313.9L408.1,315.2L409.0,316.2L410.1,317.7L412.0,322.3L413.1,324.2L414.5,325.8L418.5,328.9L420.0,330.7L420.9,332.7L421.0,334.7L420.8,335.7L420.4,336.7L419.6,337.7L419.0,338.2L417.0,339.2L414.5,339.6L412.0,339.3L409.3,338.2L407.7,337.2L406.0,335.7L402.6,331.7L398.5,328.0L396.6,325.7L395.5,323.7L395.0,321.7L395.0,319.7L395.4,317.7L396.5,315.7L398.0,314.2L399.5,313.3ZM450.5,317.6L451.5,317.4L452.0,317.5L453.0,318.2L453.5,318.8L454.4,320.7L454.9,323.7L454.9,334.2L455.1,343.2L454.6,346.7L453.4,352.2L452.5,354.7L451.6,356.7L450.4,358.2L449.0,359.4L447.0,360.5L441.0,363.0L439.5,363.3L438.0,363.1L436.5,362.3L435.7,361.2L435.4,360.2L435.5,358.7L435.9,357.7L436.5,356.7L438.6,354.2L441.0,350.9L442.5,349.4L445.2,347.2L445.7,346.7L446.2,345.7L446.5,344.2L446.5,342.2L445.5,335.2L445.3,332.7L445.3,330.2L445.7,327.2L446.4,323.7L447.5,320.9L449.0,318.7Z" fill="#2f80bb"/>
<path d="M401.0,314.6L403.0,314.5L404.5,314.8L406.5,316.0L408.0,317.6L409.1,319.7L410.3,323.7L411.3,325.7L412.5,327.2L416.9,330.7L417.8,331.7L418.3,332.7L418.6,333.7L418.6,334.7L418.3,335.7L417.5,336.7L416.0,337.5L414.5,337.7L412.5,337.4L410.9,336.7L409.6,335.7L408.7,334.7L406.6,331.2L405.9,330.2L404.5,329.2L400.5,327.0L399.0,325.7L398.1,324.7L397.3,323.2L396.8,321.7L396.7,320.2L396.9,318.7L397.5,317.2L398.5,316.0L399.5,315.2ZM450.5,318.7L451.5,318.6L452.0,318.7L453.1,319.7L453.9,321.7L454.4,324.7L454.2,334.2L454.4,343.2L453.9,346.2L452.2,352.7L451.5,354.7L450.8,356.2L449.6,357.7L448.5,358.7L447.0,359.6L441.0,362.3L439.5,362.6L438.0,362.4L436.9,361.7L436.2,360.7L436.0,359.2L436.6,357.7L439.0,354.7L442.0,350.8L443.5,349.5L446.3,347.7L446.8,347.2L447.3,346.2L447.5,344.7L447.3,342.7L445.8,333.7L445.7,331.2L445.9,328.7L446.5,325.2L447.5,322.2L448.3,320.7L449.0,319.8L449.5,319.3Z" fill="#116abd"/>
<path d="M401.5,316.6L403.0,316.5L404.5,317.0L406.0,318.1L406.8,319.2L407.4,320.7L407.6,322.7L407.3,324.2L406.5,325.1L405.0,325.5L403.5,325.5L402.5,325.2L401.5,324.8L400.5,324.1L399.3,322.7L398.8,321.7L398.6,320.7L398.7,319.7L399.0,318.7L399.5,317.8L400.0,317.3ZM450.5,319.7L451.5,319.6L452.5,320.3L453.3,321.7L453.8,324.2L453.9,327.2L453.7,334.7L453.7,341.7L453.6,343.7L453.1,345.7L451.8,349.7L450.7,354.2L450.0,355.7L449.0,357.2L447.0,358.7L441.0,361.5L439.5,361.9L438.5,361.8L437.4,361.2L436.8,360.2L436.7,359.2L437.3,357.7L439.5,355.1L441.5,352.3L442.5,351.2L444.0,350.1L447.5,348.3L448.1,347.7L448.3,347.2L448.5,345.7L448.2,343.2L446.3,334.2L446.1,332.2L446.2,329.7L446.7,326.2L447.6,323.2L448.4,321.7L449.0,320.8L449.6,320.2ZM412.5,332.7L413.0,332.5L413.5,332.7L414.0,333.2L414.1,333.7L414.0,333.9L413.5,334.1L412.8,333.7L412.4,333.2Z" fill="#1853a9"/>
<path d="M450.5,320.6L451.5,320.7L452.0,321.0L452.6,321.7L453.2,323.7L453.5,326.7L453.1,335.2L453.0,342.2L452.6,344.2L452.2,345.2L451.5,346.3L451.0,346.7L450.5,346.6L450.2,346.2L449.5,344.5L447.0,335.4L446.5,331.7L446.8,327.7L447.7,324.2L449.0,321.8L449.6,321.2ZM446.0,350.1L448.0,349.8L449.0,349.9L449.5,350.2L449.8,350.7L450.0,352.2L449.8,353.7L449.3,355.2L448.7,356.2L447.8,357.2L446.5,358.1L443.5,359.4L441.0,360.8L439.5,361.2L438.5,361.1L438.0,360.8L437.6,360.2L437.4,359.2L437.5,358.7L438.0,357.7L440.0,355.6L442.0,352.7L442.9,351.7L444.5,350.6Z" fill="#283c91"/>
<path d="M450.5,321.6L451.0,321.6L451.5,321.7L452.3,322.7L452.8,324.2L453.0,326.7L453.0,329.7L452.1,341.2L451.5,343.0L451.0,343.3L450.5,343.0L450.0,342.1L448.0,336.8L447.3,334.2L447.0,331.2L447.2,327.7L448.0,324.8L449.0,322.8L449.5,322.2ZM445.5,351.2L446.5,351.1L447.5,351.2L448.2,351.7L448.6,352.2L448.8,353.2L448.7,354.2L448.0,355.8L447.0,356.9L445.7,357.7L443.0,358.8L440.5,360.1L439.5,360.3L438.9,360.2L438.4,359.7L438.3,359.2L438.7,358.2L440.5,356.2L443.0,352.6L444.0,351.8Z" fill="#202c6a"/>
<path d="M450.5,322.6L451.0,322.6L451.5,322.9L452.0,323.7L452.5,325.6L452.6,327.7L452.3,331.7L451.5,337.2L451.0,338.7L450.5,339.0L450.0,338.6L449.5,338.0L448.1,335.2L447.5,332.7L447.4,330.7L447.7,327.7L448.4,325.2L449.0,323.9L449.5,323.2ZM445.5,352.2L446.5,352.3L447.2,352.7L447.5,353.2L447.6,354.2L447.0,355.6L446.0,356.5L445.0,357.0L443.5,357.4L442.0,357.6L441.6,357.2L441.7,356.7L442.5,354.7L443.0,353.8L444.0,352.8Z" fill="#171c42"/>
<g clip-path="url(#h22)"><use href="#hl" x="414.0" y="335.7" fill="none" stroke="#505050" stroke-width="0.42" opacity="0.8"/></g>
<use href="#land" x="414.0" y="335.7" fill="none" stroke="#4c4c4c" stroke-width="0.6" stroke-linejoin="round"/>
<use href="#grat" x="414.0" y="335.7"/>
<path d="M381.8,317.1L381.1,318.5L380.4,319.8L379.8,321.3L379.2,322.7L378.7,324.1L378.2,325.6L377.9,327.1L377.5,328.6L377.3,330.1L377.1,331.6L376.9,333.2L376.9,334.7L376.9,336.2L376.9,337.8L377.0,339.3L377.2,340.8L377.4,342.4L377.8,343.9L378.1,345.4L378.6,346.8L379.0,348.3L379.6,349.7L380.2,351.1L380.9,352.5L381.6,353.9L382.4,355.2L383.2,356.5L384.1,357.8L385.0,359.0L386.0,360.1L387.1,361.3L388.1,362.4L389.3,363.4L390.4,364.4L391.6,365.4L392.9,366.3L394.2,367.1L395.5,367.9L396.8,368.7L402.8,357.2L401.9,356.7L401.1,356.2L400.2,355.7L399.4,355.1L398.6,354.4L397.9,353.8L397.1,353.1L396.4,352.4L395.7,351.7L395.1,350.9L394.5,350.1L393.9,349.3L393.4,348.4L392.9,347.6L392.4,346.7L391.9,345.8L391.5,344.9L391.2,343.9L390.9,343.0L390.6,342.0L390.3,341.0L390.1,340.0L390.0,339.1L389.9,338.1L389.8,337.1L389.8,336.1L389.8,335.0L389.8,334.0L389.9,333.0L390.0,332.1L390.2,331.1L390.4,330.1L390.7,329.1L391.0,328.1L391.3,327.2L391.7,326.3L392.1,325.4L392.5,324.5L393.0,323.6Z" fill="none" stroke="#f2f" stroke-width="0.6"/>
<path d="M440.1,345.2L440.3,344.6L440.5,344.0L440.7,343.4L440.9,342.8L441.0,342.2L441.2,341.6L441.3,341.0L441.4,340.4L441.5,339.8L441.6,339.2L441.7,338.6L441.7,337.9L441.8,337.3L441.8,336.7L441.8,336.1L441.8,335.5L441.8,334.8L441.8,334.2L441.7,333.6L441.7,333.0L441.6,332.3L441.5,331.7L441.4,331.1L441.3,330.5L441.2,329.9L441.1,329.3L440.9,328.7L440.8,328.1L440.6,327.5L440.4,326.9L440.2,326.3L440.0,325.7L439.7,325.1L439.5,324.6L439.2,324.0L439.0,323.4L438.7,322.9L438.4,322.3L438.1,321.8L428.4,327.4L428.5,327.7L428.7,328.1L428.9,328.4L429.0,328.7L429.2,329.1L429.3,329.4L429.5,329.7L429.6,330.1L429.7,330.4L429.8,330.8L430.0,331.2L430.1,331.5L430.1,331.9L430.2,332.2L430.3,332.6L430.4,333.0L430.4,333.3L430.5,333.7L430.5,334.1L430.5,334.4L430.6,334.8L430.6,335.2L430.6,335.6L430.6,335.9L430.6,336.3L430.6,336.7L430.5,337.0L430.5,337.4L430.5,337.8L430.4,338.1L430.3,338.5L430.3,338.9L430.2,339.2L430.1,339.6L430.0,340.0L429.9,340.3L429.8,340.7L429.7,341.0L429.6,341.4Z" fill="none" stroke="#f2f" stroke-width="0.6"/>
<path d="M443.3,370.6L444.5,369.5L445.7,368.4L446.9,367.3L448.0,366.1L449.0,364.8L450.1,363.6L451.0,362.3L452.0,360.9L452.8,359.5L453.7,358.1L454.4,356.7L455.2,355.2L455.8,353.8L456.5,352.2L457.0,350.7L457.5,349.2L458.0,347.6L458.4,346.0L458.7,344.4L459.0,342.8L459.2,341.2L459.4,339.6L459.5,337.9L459.6,336.3L459.6,334.7L459.5,333.1L459.4,331.4L459.2,329.8L459.0,328.2L458.7,326.6L458.3,325.0L457.9,323.4L457.4,321.8L456.9,320.3L456.3,318.8L455.7,317.3L455.0,315.8L454.3,314.3L453.5,312.9L442.6,319.2L443.2,320.2L443.8,321.3L444.3,322.3L444.7,323.4L445.1,324.5L445.5,325.6L445.9,326.8L446.2,327.9L446.4,329.1L446.6,330.2L446.8,331.4L446.9,332.6L447.0,333.8L447.1,335.0L447.1,336.1L447.0,337.3L447.0,338.5L446.8,339.7L446.7,340.9L446.5,342.0L446.2,343.2L445.9,344.3L445.6,345.5L445.2,346.6L444.8,347.7L444.4,348.8L443.9,349.9L443.4,350.9L442.8,352.0L442.2,353.0L441.6,354.0L440.9,355.0L440.2,355.9L439.4,356.8L438.7,357.7L437.9,358.6L437.0,359.5L436.2,360.3L435.3,361.0Z" fill="none" stroke="#f2f" stroke-width="0.6"/>
</g>
<circle cx="414.0" cy="335.7" r="48.5" fill="none" stroke="#3a3a3a" stroke-width="0.5"/>
<text x="414.0" y="285.09999999999997" font-size="4.66" text-anchor="middle">(i) Δ<tspan font-style="italic">θ</tspan>(<tspan font-style="italic">Z</tspan><tspan font-size="3.4" dy="1.1">500</tspan><tspan dy="-1.1">; </tspan><tspan font-style="italic">ϕ</tspan><tspan font-size="3.4" dy="1.1">DJF</tspan><tspan dy="-1.1">, pentad = 3)</tspan></text>
<text x="379.65" y="293.50" font-size="5.2" text-anchor="middle">120°E</text>
<text x="465.60" y="328.50" font-size="5.2" text-anchor="middle">0°</text>
<text x="448.50" y="380.70" font-size="5.2" text-anchor="middle">60°W</text>
<text x="397.90" y="388.55" font-size="5.2" text-anchor="middle">120°W</text>
<text x="359.15" y="345.60" font-size="5.2" text-anchor="middle">20°N</text>
<rect x="471.80" y="376.32" width="6.3" height="4.63" fill="#202c6a"/><rect x="471.80" y="371.84" width="6.3" height="4.63" fill="#283c91"/><rect x="471.80" y="367.36" width="6.3" height="4.63" fill="#1853a9"/><rect x="471.80" y="362.88" width="6.3" height="4.63" fill="#116abd"/><rect x="471.80" y="358.40" width="6.3" height="4.63" fill="#2f80bb"/><rect x="471.80" y="353.92" width="6.3" height="4.63" fill="#4f95ba"/><rect x="471.80" y="349.44" width="6.3" height="4.63" fill="#76a9bf"/><rect x="471.80" y="344.96" width="6.3" height="4.63" fill="#9bbcc7"/><rect x="471.80" y="340.48" width="6.3" height="4.63" fill="#bfced4"/><rect x="471.80" y="336.00" width="6.3" height="4.63" fill="#e1e3e5"/><rect x="471.80" y="331.52" width="6.3" height="4.63" fill="#ede1dd"/><rect x="471.80" y="327.04" width="6.3" height="4.63" fill="#e1c3b9"/><rect x="471.80" y="322.56" width="6.3" height="4.63" fill="#d8a796"/><rect x="471.80" y="318.08" width="6.3" height="4.63" fill="#cf8a73"/><rect x="471.80" y="313.60" width="6.3" height="4.63" fill="#c66d51"/><rect x="471.80" y="309.12" width="6.3" height="4.63" fill="#bb4f3a"/><rect x="471.80" y="304.64" width="6.3" height="4.63" fill="#ae3127"/><rect x="471.80" y="300.16" width="6.3" height="4.63" fill="#961f26"/><rect x="471.80" y="295.68" width="6.3" height="4.63" fill="#7a0f28"/><rect x="471.80" y="291.20" width="6.3" height="4.63" fill="#5b0c1d"/><path d="M471.80,291.20L474.95,286.75L478.10,291.20Z" fill="#3c0911"/><path d="M471.80,380.80L474.95,385.25L478.10,380.80Z" fill="#171c42"/><path d="M471.80,291.20L474.95,286.75L478.10,291.20L478.10,380.80L474.95,385.25L471.80,380.80Z" fill="none" stroke="#222" stroke-width="0.25"/><path d="M478.10,295.68h1.2" stroke="#222" stroke-width="0.3"/><text x="479.85" y="297.18" font-size="4.05">18</text><path d="M478.10,309.12h1.2" stroke="#222" stroke-width="0.3"/><text x="479.85" y="310.62" font-size="4.05">12</text><path d="M478.10,322.56h1.2" stroke="#222" stroke-width="0.3"/><text x="479.85" y="324.06" font-size="4.05">6</text><path d="M478.10,336.00h1.2" stroke="#222" stroke-width="0.3"/><text x="479.85" y="337.50" font-size="4.05">0</text><path d="M478.10,349.44h1.2" stroke="#222" stroke-width="0.3"/><text x="479.85" y="350.94" font-size="4.05">−6</text><path d="M478.10,362.88h1.2" stroke="#222" stroke-width="0.3"/><text x="479.85" y="364.38" font-size="4.05">−12</text><path d="M478.10,376.32h1.2" stroke="#222" stroke-width="0.3"/><text x="479.85" y="377.82" font-size="4.05">−18</text><text transform="translate(495.00,335.10) rotate(-90)" font-size="6.6" text-anchor="middle">[ m ]</text>
</g>
</svg></body></html>
